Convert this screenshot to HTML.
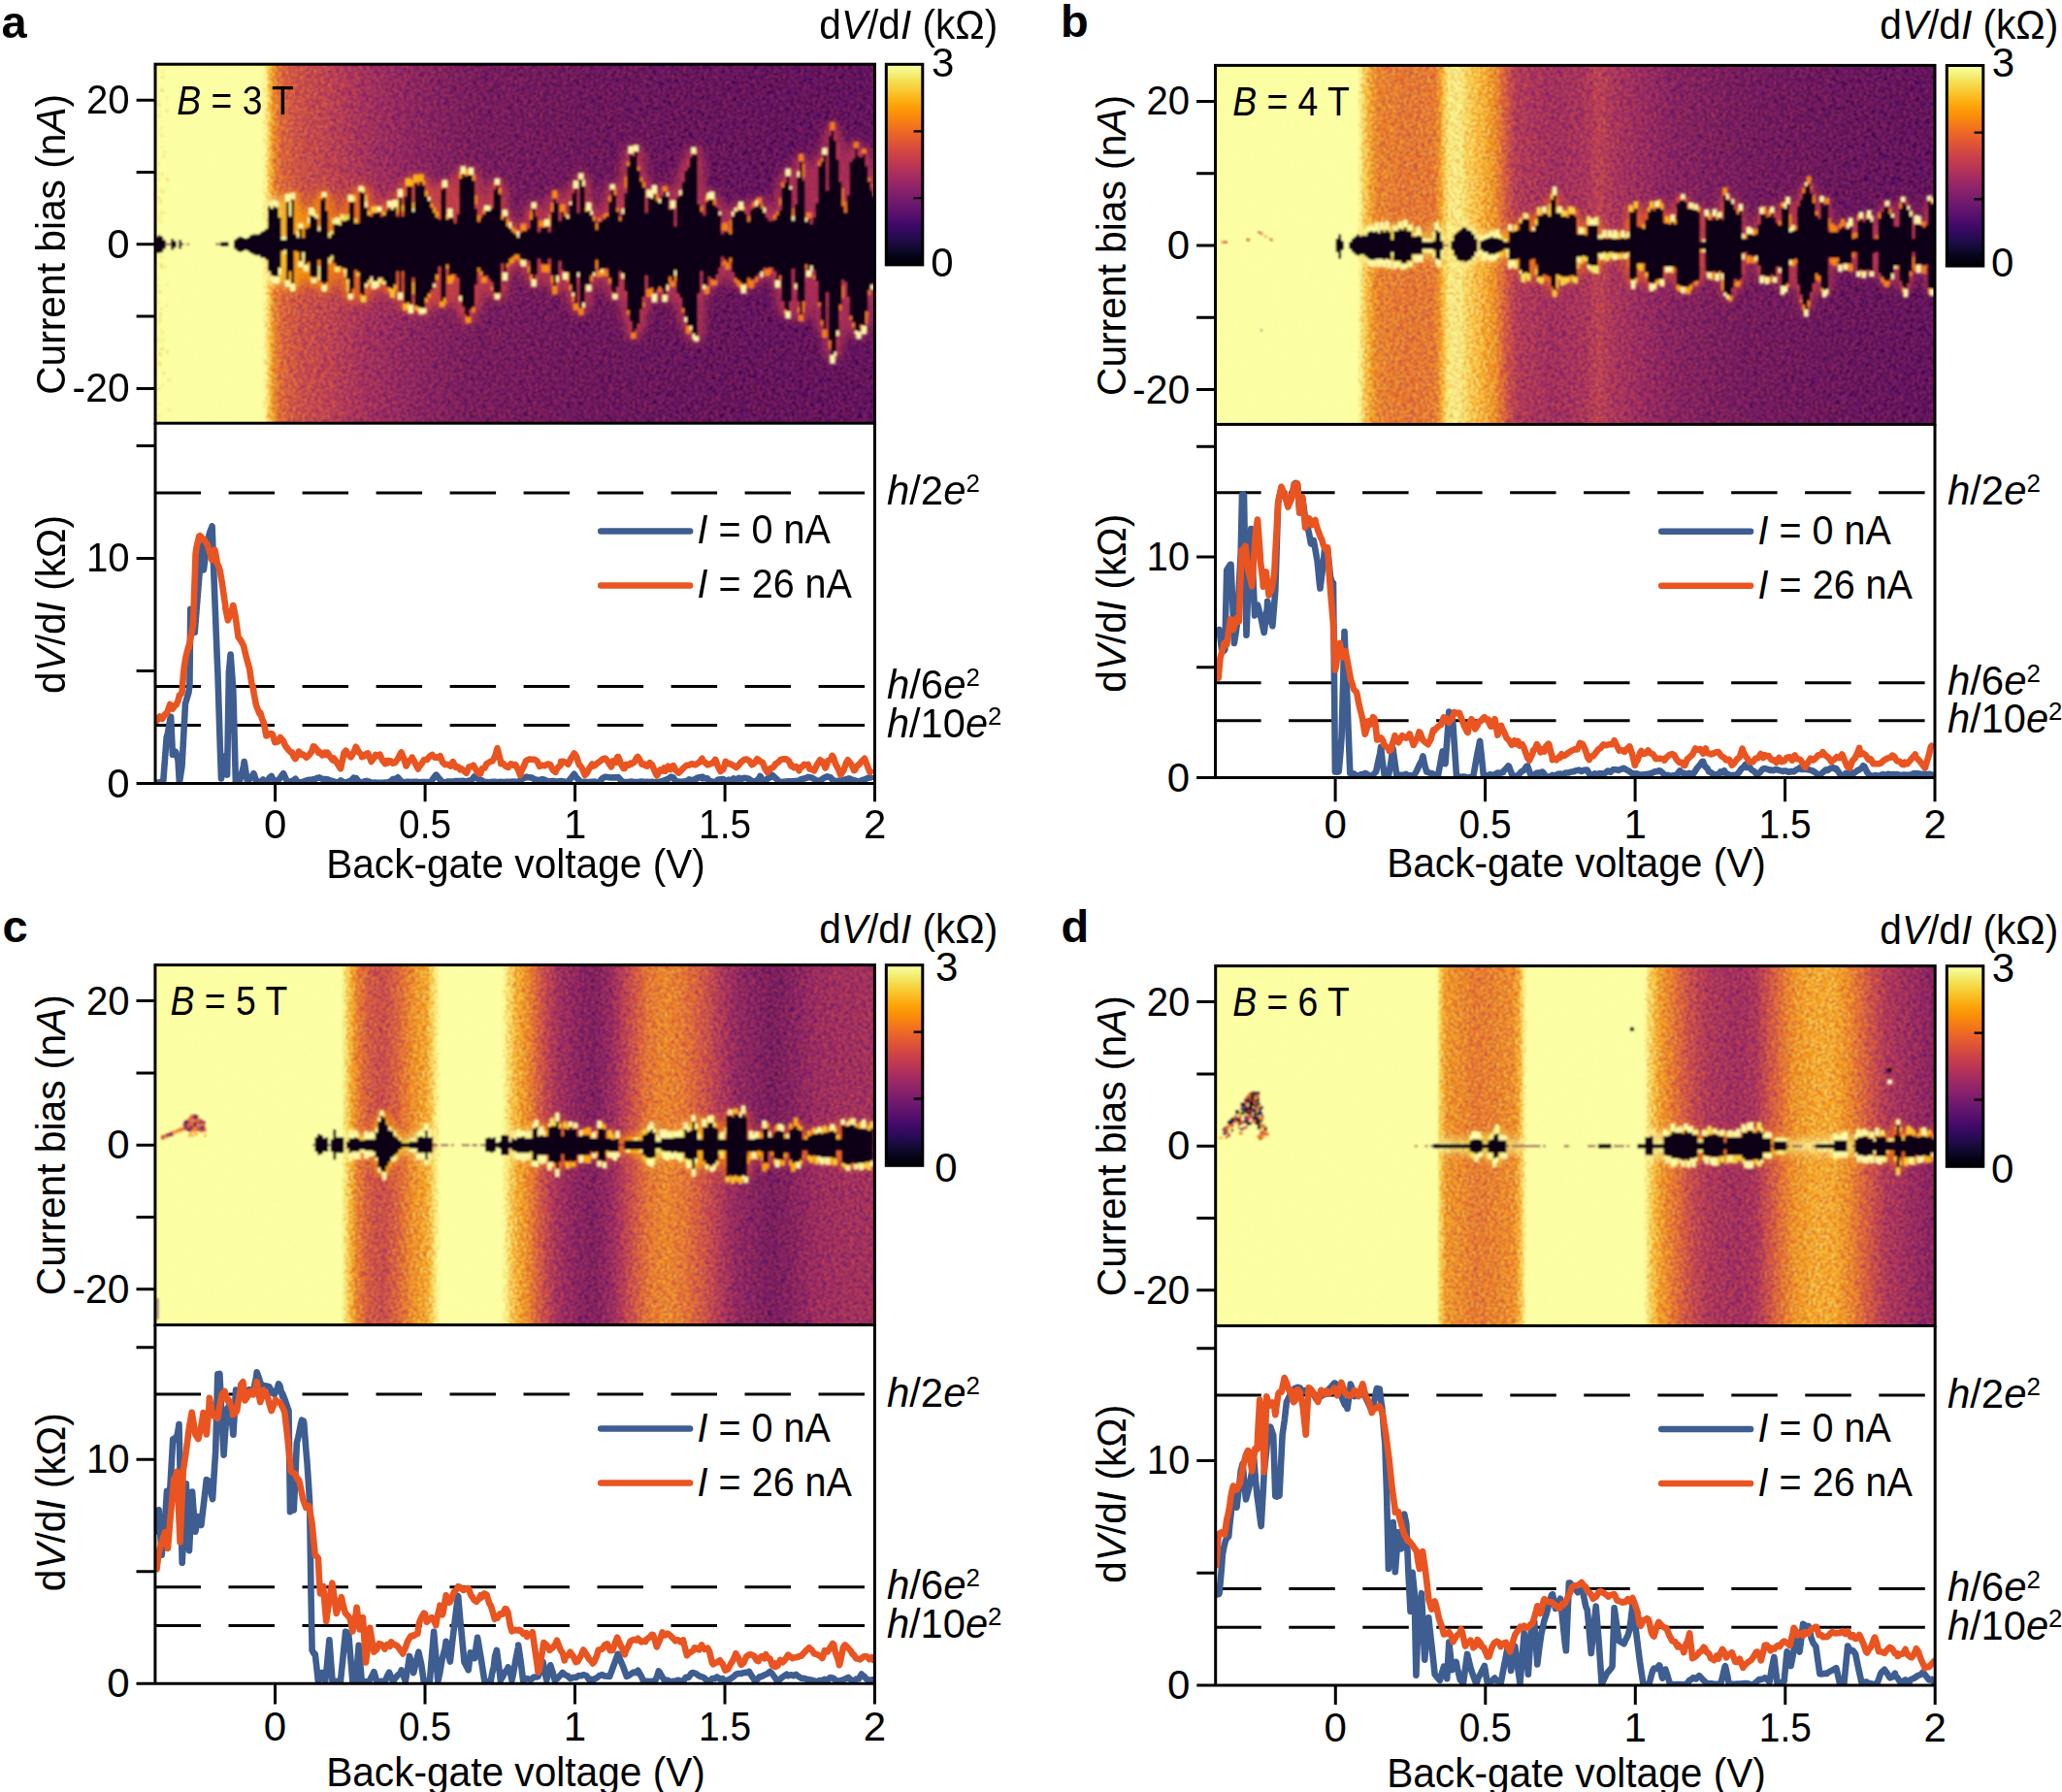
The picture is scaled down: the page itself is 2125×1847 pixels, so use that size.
<!DOCTYPE html>
<html lang="en"><head><meta charset="utf-8"><title>Figure</title><style>html,body{margin:0;padding:0;background:#fff}svg{display:block}</style></head><body>
<svg width="2125" height="1847" viewBox="0 0 2125 1847" font-family='"Liberation Sans", sans-serif' font-size="42" fill="#000">
<defs>
<linearGradient id="cb" x1="0" x2="0" y1="0" y2="1"><stop offset="0.000" stop-color="#fcffa4"/><stop offset="0.042" stop-color="#f2f27d"/><stop offset="0.083" stop-color="#f4df53"/><stop offset="0.125" stop-color="#f9cb35"/><stop offset="0.167" stop-color="#fbb61a"/><stop offset="0.208" stop-color="#fca108"/><stop offset="0.250" stop-color="#f98e09"/><stop offset="0.292" stop-color="#f57b17"/><stop offset="0.333" stop-color="#ed6925"/><stop offset="0.375" stop-color="#e45a31"/><stop offset="0.417" stop-color="#d84c3e"/><stop offset="0.458" stop-color="#ca404a"/><stop offset="0.500" stop-color="#bc3754"/><stop offset="0.542" stop-color="#ab2f5e"/><stop offset="0.583" stop-color="#9a2865"/><stop offset="0.625" stop-color="#8a226a"/><stop offset="0.667" stop-color="#781c6d"/><stop offset="0.708" stop-color="#67166e"/><stop offset="0.750" stop-color="#57106e"/><stop offset="0.792" stop-color="#450a69"/><stop offset="0.833" stop-color="#320a5e"/><stop offset="0.875" stop-color="#210c4a"/><stop offset="0.917" stop-color="#110a30"/><stop offset="0.958" stop-color="#050417"/><stop offset="1.000" stop-color="#000004"/></linearGradient>
<filter id="soft" filterUnits="userSpaceOnUse" x="0" y="0" width="2125" height="1847"><feGaussianBlur stdDeviation=".95"/></filter>
<filter id="bl03" x="-2%" y="-5%" width="104%" height="110%"><feGaussianBlur stdDeviation=".45"/></filter>
<filter id="bl05" x="-5%" y="-5%" width="110%" height="110%"><feGaussianBlur stdDeviation=".6"/></filter>
<filter id="bl1" x="-5%" y="-20%" width="110%" height="140%"><feGaussianBlur stdDeviation="1.3"/></filter>
<filter id="bl3" x="-5%" y="-20%" width="110%" height="140%"><feGaussianBlur stdDeviation="4"/></filter>
<filter id="nD" x="0" y="0" width="100%" height="100%" color-interpolation-filters="sRGB"><feTurbulence type="fractalNoise" baseFrequency=".42 .5" numOctaves="1" seed="4"/><feColorMatrix type="matrix" values="0 0 0 0 1  0 0 0 0 1  0 0 0 0 1  4.2 0 0 0 -2.0"/></filter>
<filter id="nL" x="0" y="0" width="100%" height="100%" color-interpolation-filters="sRGB"><feTurbulence type="fractalNoise" baseFrequency=".42 .5" numOctaves="1" seed="4"/><feColorMatrix type="matrix" values="0 0 0 0 1  0 0 0 0 1  0 0 0 0 1  -4.2 0 0 0 2.2"/></filter>
<linearGradient id="g_a" gradientUnits="userSpaceOnUse" x1="160" x2="901.5" y1="0" y2="0"><stop offset="0.0000" stop-color="#fcffa4"/><stop offset="0.0081" stop-color="#fcffa4"/><stop offset="0.0162" stop-color="#fcffa4"/><stop offset="0.0243" stop-color="#fcffa4"/><stop offset="0.0324" stop-color="#fcffa4"/><stop offset="0.0405" stop-color="#fcffa4"/><stop offset="0.0486" stop-color="#fcffa4"/><stop offset="0.0566" stop-color="#fcffa4"/><stop offset="0.0647" stop-color="#fcffa4"/><stop offset="0.0728" stop-color="#fcffa4"/><stop offset="0.0809" stop-color="#fcffa4"/><stop offset="0.0890" stop-color="#fcffa4"/><stop offset="0.0971" stop-color="#fcffa4"/><stop offset="0.1052" stop-color="#fcffa4"/><stop offset="0.1133" stop-color="#fcffa4"/><stop offset="0.1214" stop-color="#fcffa4"/><stop offset="0.1295" stop-color="#fcffa4"/><stop offset="0.1376" stop-color="#fcffa4"/><stop offset="0.1457" stop-color="#fcffa4"/><stop offset="0.1483" stop-color="#fcffa4"/><stop offset="0.1537" stop-color="#fcffa4"/><stop offset="0.1591" stop-color="#fbbe23"/><stop offset="0.1618" stop-color="#fb9d07"/><stop offset="0.1645" stop-color="#f68013"/><stop offset="0.1699" stop-color="#ee6a24"/><stop offset="0.1753" stop-color="#e25734"/><stop offset="0.1780" stop-color="#e05536"/><stop offset="0.1861" stop-color="#da4e3c"/><stop offset="0.1942" stop-color="#d34743"/><stop offset="0.2009" stop-color="#cc4248"/><stop offset="0.2023" stop-color="#cc4248"/><stop offset="0.2104" stop-color="#c83f4b"/><stop offset="0.2185" stop-color="#c63d4d"/><stop offset="0.2266" stop-color="#c13a50"/><stop offset="0.2347" stop-color="#bf3952"/><stop offset="0.2428" stop-color="#bc3754"/><stop offset="0.2508" stop-color="#b63458"/><stop offset="0.2589" stop-color="#b1325a"/><stop offset="0.2670" stop-color="#ad305d"/><stop offset="0.2751" stop-color="#a82e5f"/><stop offset="0.2832" stop-color="#a32c61"/><stop offset="0.2900" stop-color="#a02a63"/><stop offset="0.2913" stop-color="#9f2a63"/><stop offset="0.2994" stop-color="#9b2964"/><stop offset="0.3075" stop-color="#982766"/><stop offset="0.3156" stop-color="#952667"/><stop offset="0.3237" stop-color="#922568"/><stop offset="0.3318" stop-color="#8f2469"/><stop offset="0.3399" stop-color="#8d2369"/><stop offset="0.3479" stop-color="#8a226a"/><stop offset="0.3560" stop-color="#87216b"/><stop offset="0.3641" stop-color="#84206b"/><stop offset="0.3722" stop-color="#801f6c"/><stop offset="0.3803" stop-color="#7f1e6c"/><stop offset="0.3884" stop-color="#7c1d6d"/><stop offset="0.3965" stop-color="#7a1d6d"/><stop offset="0.4046" stop-color="#781c6d"/><stop offset="0.4127" stop-color="#751b6e"/><stop offset="0.4208" stop-color="#741a6e"/><stop offset="0.4289" stop-color="#71196e"/><stop offset="0.4370" stop-color="#6f196e"/><stop offset="0.4383" stop-color="#6f196e"/><stop offset="0.4450" stop-color="#6f196e"/><stop offset="0.4531" stop-color="#6d186e"/><stop offset="0.4612" stop-color="#6d186e"/><stop offset="0.4693" stop-color="#6c186e"/><stop offset="0.4774" stop-color="#6c186e"/><stop offset="0.4855" stop-color="#6c186e"/><stop offset="0.4936" stop-color="#6a176e"/><stop offset="0.5017" stop-color="#6a176e"/><stop offset="0.5098" stop-color="#69166e"/><stop offset="0.5179" stop-color="#69166e"/><stop offset="0.5260" stop-color="#69166e"/><stop offset="0.5341" stop-color="#67166e"/><stop offset="0.5421" stop-color="#67166e"/><stop offset="0.5502" stop-color="#65156e"/><stop offset="0.5583" stop-color="#65156e"/><stop offset="0.5664" stop-color="#65156e"/><stop offset="0.5745" stop-color="#64156e"/><stop offset="0.5826" stop-color="#64156e"/><stop offset="0.5907" stop-color="#62146e"/><stop offset="0.5934" stop-color="#62146e"/><stop offset="0.5988" stop-color="#62146e"/><stop offset="0.6069" stop-color="#62146e"/><stop offset="0.6150" stop-color="#62146e"/><stop offset="0.6231" stop-color="#61136e"/><stop offset="0.6312" stop-color="#61136e"/><stop offset="0.6392" stop-color="#61136e"/><stop offset="0.6473" stop-color="#61136e"/><stop offset="0.6554" stop-color="#61136e"/><stop offset="0.6635" stop-color="#5f136e"/><stop offset="0.6716" stop-color="#5f136e"/><stop offset="0.6797" stop-color="#5f136e"/><stop offset="0.6878" stop-color="#5f136e"/><stop offset="0.6959" stop-color="#5f136e"/><stop offset="0.7040" stop-color="#5d126e"/><stop offset="0.7121" stop-color="#5d126e"/><stop offset="0.7202" stop-color="#5d126e"/><stop offset="0.7283" stop-color="#5d126e"/><stop offset="0.7363" stop-color="#5d126e"/><stop offset="0.7444" stop-color="#5c126e"/><stop offset="0.7525" stop-color="#5c126e"/><stop offset="0.7606" stop-color="#5c126e"/><stop offset="0.7687" stop-color="#5c126e"/><stop offset="0.7768" stop-color="#5c126e"/><stop offset="0.7849" stop-color="#5a116e"/><stop offset="0.7930" stop-color="#5a116e"/><stop offset="0.7957" stop-color="#5a116e"/><stop offset="0.8011" stop-color="#5a116e"/><stop offset="0.8092" stop-color="#5a116e"/><stop offset="0.8173" stop-color="#5a116e"/><stop offset="0.8254" stop-color="#5a116e"/><stop offset="0.8334" stop-color="#5a116e"/><stop offset="0.8415" stop-color="#59106e"/><stop offset="0.8496" stop-color="#59106e"/><stop offset="0.8577" stop-color="#59106e"/><stop offset="0.8658" stop-color="#59106e"/><stop offset="0.8739" stop-color="#59106e"/><stop offset="0.8820" stop-color="#59106e"/><stop offset="0.8901" stop-color="#59106e"/><stop offset="0.8982" stop-color="#59106e"/><stop offset="0.9063" stop-color="#59106e"/><stop offset="0.9144" stop-color="#59106e"/><stop offset="0.9225" stop-color="#57106e"/><stop offset="0.9305" stop-color="#57106e"/><stop offset="0.9386" stop-color="#57106e"/><stop offset="0.9467" stop-color="#57106e"/><stop offset="0.9548" stop-color="#57106e"/><stop offset="0.9629" stop-color="#57106e"/><stop offset="0.9710" stop-color="#57106e"/><stop offset="0.9791" stop-color="#57106e"/><stop offset="0.9872" stop-color="#57106e"/><stop offset="0.9953" stop-color="#57106e"/><stop offset="1.0000" stop-color="#57106e"/><stop offset="1.0007" stop-color="#57106e"/></linearGradient>
<linearGradient id="m_a" gradientUnits="userSpaceOnUse" x1="160" x2="901.5" y1="0" y2="0"><stop offset="0.0000" stop-color="#fff" stop-opacity="0.00"/><stop offset="0.0081" stop-color="#fff" stop-opacity="0.00"/><stop offset="0.0162" stop-color="#fff" stop-opacity="0.00"/><stop offset="0.0243" stop-color="#fff" stop-opacity="0.00"/><stop offset="0.0324" stop-color="#fff" stop-opacity="0.00"/><stop offset="0.0405" stop-color="#fff" stop-opacity="0.00"/><stop offset="0.0486" stop-color="#fff" stop-opacity="0.00"/><stop offset="0.0566" stop-color="#fff" stop-opacity="0.00"/><stop offset="0.0647" stop-color="#fff" stop-opacity="0.00"/><stop offset="0.0728" stop-color="#fff" stop-opacity="0.00"/><stop offset="0.0809" stop-color="#fff" stop-opacity="0.00"/><stop offset="0.0890" stop-color="#fff" stop-opacity="0.00"/><stop offset="0.0971" stop-color="#fff" stop-opacity="0.00"/><stop offset="0.1052" stop-color="#fff" stop-opacity="0.00"/><stop offset="0.1133" stop-color="#fff" stop-opacity="0.00"/><stop offset="0.1214" stop-color="#fff" stop-opacity="0.00"/><stop offset="0.1295" stop-color="#fff" stop-opacity="0.00"/><stop offset="0.1376" stop-color="#fff" stop-opacity="0.00"/><stop offset="0.1457" stop-color="#fff" stop-opacity="0.00"/><stop offset="0.1483" stop-color="#fff" stop-opacity="0.00"/><stop offset="0.1537" stop-color="#fff" stop-opacity="0.10"/><stop offset="0.1591" stop-color="#fff" stop-opacity="0.85"/><stop offset="0.1618" stop-color="#fff" stop-opacity="1.00"/><stop offset="0.1645" stop-color="#fff" stop-opacity="1.00"/><stop offset="0.1699" stop-color="#fff" stop-opacity="1.00"/><stop offset="0.1753" stop-color="#fff" stop-opacity="1.00"/><stop offset="0.1780" stop-color="#fff" stop-opacity="1.00"/><stop offset="0.1861" stop-color="#fff" stop-opacity="1.00"/><stop offset="0.1942" stop-color="#fff" stop-opacity="1.00"/><stop offset="0.2009" stop-color="#fff" stop-opacity="1.00"/><stop offset="0.2023" stop-color="#fff" stop-opacity="1.00"/><stop offset="0.2104" stop-color="#fff" stop-opacity="1.00"/><stop offset="0.2185" stop-color="#fff" stop-opacity="1.00"/><stop offset="0.2266" stop-color="#fff" stop-opacity="1.00"/><stop offset="0.2347" stop-color="#fff" stop-opacity="1.00"/><stop offset="0.2428" stop-color="#fff" stop-opacity="1.00"/><stop offset="0.2508" stop-color="#fff" stop-opacity="1.00"/><stop offset="0.2589" stop-color="#fff" stop-opacity="1.00"/><stop offset="0.2670" stop-color="#fff" stop-opacity="1.00"/><stop offset="0.2751" stop-color="#fff" stop-opacity="1.00"/><stop offset="0.2832" stop-color="#fff" stop-opacity="1.00"/><stop offset="0.2900" stop-color="#fff" stop-opacity="1.00"/><stop offset="0.2913" stop-color="#fff" stop-opacity="1.00"/><stop offset="0.2994" stop-color="#fff" stop-opacity="1.00"/><stop offset="0.3075" stop-color="#fff" stop-opacity="1.00"/><stop offset="0.3156" stop-color="#fff" stop-opacity="1.00"/><stop offset="0.3237" stop-color="#fff" stop-opacity="1.00"/><stop offset="0.3318" stop-color="#fff" stop-opacity="1.00"/><stop offset="0.3399" stop-color="#fff" stop-opacity="1.00"/><stop offset="0.3479" stop-color="#fff" stop-opacity="1.00"/><stop offset="0.3560" stop-color="#fff" stop-opacity="1.00"/><stop offset="0.3641" stop-color="#fff" stop-opacity="1.00"/><stop offset="0.3722" stop-color="#fff" stop-opacity="1.00"/><stop offset="0.3803" stop-color="#fff" stop-opacity="1.00"/><stop offset="0.3884" stop-color="#fff" stop-opacity="1.00"/><stop offset="0.3965" stop-color="#fff" stop-opacity="1.00"/><stop offset="0.4046" stop-color="#fff" stop-opacity="1.00"/><stop offset="0.4127" stop-color="#fff" stop-opacity="1.00"/><stop offset="0.4208" stop-color="#fff" stop-opacity="1.00"/><stop offset="0.4289" stop-color="#fff" stop-opacity="1.00"/><stop offset="0.4370" stop-color="#fff" stop-opacity="1.00"/><stop offset="0.4383" stop-color="#fff" stop-opacity="1.00"/><stop offset="0.4450" stop-color="#fff" stop-opacity="1.00"/><stop offset="0.4531" stop-color="#fff" stop-opacity="1.00"/><stop offset="0.4612" stop-color="#fff" stop-opacity="1.00"/><stop offset="0.4693" stop-color="#fff" stop-opacity="1.00"/><stop offset="0.4774" stop-color="#fff" stop-opacity="1.00"/><stop offset="0.4855" stop-color="#fff" stop-opacity="1.00"/><stop offset="0.4936" stop-color="#fff" stop-opacity="1.00"/><stop offset="0.5017" stop-color="#fff" stop-opacity="1.00"/><stop offset="0.5098" stop-color="#fff" stop-opacity="1.00"/><stop offset="0.5179" stop-color="#fff" stop-opacity="1.00"/><stop offset="0.5260" stop-color="#fff" stop-opacity="1.00"/><stop offset="0.5341" stop-color="#fff" stop-opacity="1.00"/><stop offset="0.5421" stop-color="#fff" stop-opacity="1.00"/><stop offset="0.5502" stop-color="#fff" stop-opacity="1.00"/><stop offset="0.5583" stop-color="#fff" stop-opacity="1.00"/><stop offset="0.5664" stop-color="#fff" stop-opacity="1.00"/><stop offset="0.5745" stop-color="#fff" stop-opacity="1.00"/><stop offset="0.5826" stop-color="#fff" stop-opacity="1.00"/><stop offset="0.5907" stop-color="#fff" stop-opacity="1.00"/><stop offset="0.5934" stop-color="#fff" stop-opacity="1.00"/><stop offset="0.5988" stop-color="#fff" stop-opacity="1.00"/><stop offset="0.6069" stop-color="#fff" stop-opacity="1.00"/><stop offset="0.6150" stop-color="#fff" stop-opacity="1.00"/><stop offset="0.6231" stop-color="#fff" stop-opacity="1.00"/><stop offset="0.6312" stop-color="#fff" stop-opacity="1.00"/><stop offset="0.6392" stop-color="#fff" stop-opacity="1.00"/><stop offset="0.6473" stop-color="#fff" stop-opacity="1.00"/><stop offset="0.6554" stop-color="#fff" stop-opacity="1.00"/><stop offset="0.6635" stop-color="#fff" stop-opacity="1.00"/><stop offset="0.6716" stop-color="#fff" stop-opacity="1.00"/><stop offset="0.6797" stop-color="#fff" stop-opacity="1.00"/><stop offset="0.6878" stop-color="#fff" stop-opacity="1.00"/><stop offset="0.6959" stop-color="#fff" stop-opacity="1.00"/><stop offset="0.7040" stop-color="#fff" stop-opacity="1.00"/><stop offset="0.7121" stop-color="#fff" stop-opacity="1.00"/><stop offset="0.7202" stop-color="#fff" stop-opacity="1.00"/><stop offset="0.7283" stop-color="#fff" stop-opacity="1.00"/><stop offset="0.7363" stop-color="#fff" stop-opacity="1.00"/><stop offset="0.7444" stop-color="#fff" stop-opacity="1.00"/><stop offset="0.7525" stop-color="#fff" stop-opacity="1.00"/><stop offset="0.7606" stop-color="#fff" stop-opacity="1.00"/><stop offset="0.7687" stop-color="#fff" stop-opacity="1.00"/><stop offset="0.7768" stop-color="#fff" stop-opacity="1.00"/><stop offset="0.7849" stop-color="#fff" stop-opacity="1.00"/><stop offset="0.7930" stop-color="#fff" stop-opacity="1.00"/><stop offset="0.7957" stop-color="#fff" stop-opacity="1.00"/><stop offset="0.8011" stop-color="#fff" stop-opacity="1.00"/><stop offset="0.8092" stop-color="#fff" stop-opacity="1.00"/><stop offset="0.8173" stop-color="#fff" stop-opacity="1.00"/><stop offset="0.8254" stop-color="#fff" stop-opacity="1.00"/><stop offset="0.8334" stop-color="#fff" stop-opacity="1.00"/><stop offset="0.8415" stop-color="#fff" stop-opacity="1.00"/><stop offset="0.8496" stop-color="#fff" stop-opacity="1.00"/><stop offset="0.8577" stop-color="#fff" stop-opacity="1.00"/><stop offset="0.8658" stop-color="#fff" stop-opacity="1.00"/><stop offset="0.8739" stop-color="#fff" stop-opacity="1.00"/><stop offset="0.8820" stop-color="#fff" stop-opacity="1.00"/><stop offset="0.8901" stop-color="#fff" stop-opacity="1.00"/><stop offset="0.8982" stop-color="#fff" stop-opacity="1.00"/><stop offset="0.9063" stop-color="#fff" stop-opacity="1.00"/><stop offset="0.9144" stop-color="#fff" stop-opacity="1.00"/><stop offset="0.9225" stop-color="#fff" stop-opacity="1.00"/><stop offset="0.9305" stop-color="#fff" stop-opacity="1.00"/><stop offset="0.9386" stop-color="#fff" stop-opacity="1.00"/><stop offset="0.9467" stop-color="#fff" stop-opacity="1.00"/><stop offset="0.9548" stop-color="#fff" stop-opacity="1.00"/><stop offset="0.9629" stop-color="#fff" stop-opacity="1.00"/><stop offset="0.9710" stop-color="#fff" stop-opacity="1.00"/><stop offset="0.9791" stop-color="#fff" stop-opacity="1.00"/><stop offset="0.9872" stop-color="#fff" stop-opacity="1.00"/><stop offset="0.9953" stop-color="#fff" stop-opacity="1.00"/><stop offset="1.0000" stop-color="#fff" stop-opacity="1.00"/><stop offset="1.0007" stop-color="#fff" stop-opacity="1.00"/></linearGradient>
<mask id="mk_a" maskUnits="userSpaceOnUse" x="160" y="66.2" width="741.5" height="370"><rect x="160" y="66.2" width="741.5" height="370" fill="url(#m_a)"/></mask>
<clipPath id="c_a"><rect x="160" y="66.2" width="741.5" height="370"/></clipPath>
<radialGradient id="ra" gradientUnits="userSpaceOnUse" cx="300" cy="251.8" r="170" gradientTransform="translate(300 251.8) scale(1 .62) translate(-300 -251.8)"><stop offset="0" stop-color="#f98e09" stop-opacity=".55"/><stop offset=".55" stop-color="#e45a31" stop-opacity=".25"/><stop offset="1" stop-color="#e45a31" stop-opacity="0"/></radialGradient>
<linearGradient id="lo_a" gradientUnits="userSpaceOnUse" x1="160" x2="901.5" y1="0" y2="0"><stop offset="0.0000" stop-color="#f9fc9d"/><stop offset="0.0081" stop-color="#f9fc9d"/><stop offset="0.0162" stop-color="#f9fc9d"/><stop offset="0.0243" stop-color="#f9fc9d"/><stop offset="0.0324" stop-color="#f9fc9d"/><stop offset="0.0405" stop-color="#f9fc9d"/><stop offset="0.0486" stop-color="#f9fc9d"/><stop offset="0.0566" stop-color="#f9fc9d"/><stop offset="0.0647" stop-color="#f9fc9d"/><stop offset="0.0728" stop-color="#f9fc9d"/><stop offset="0.0809" stop-color="#f9fc9d"/><stop offset="0.0890" stop-color="#f9fc9d"/><stop offset="0.0971" stop-color="#f9fc9d"/><stop offset="0.1052" stop-color="#f9fc9d"/><stop offset="0.1133" stop-color="#f9fc9d"/><stop offset="0.1214" stop-color="#f9fc9d"/><stop offset="0.1295" stop-color="#f9fc9d"/><stop offset="0.1376" stop-color="#f9fc9d"/><stop offset="0.1457" stop-color="#f9fc9d"/><stop offset="0.1483" stop-color="#f9fc9d"/><stop offset="0.1537" stop-color="#fca108"/><stop offset="0.1591" stop-color="#e75e2e"/><stop offset="0.1618" stop-color="#d54a41"/><stop offset="0.1645" stop-color="#bf3952"/><stop offset="0.1699" stop-color="#ab2f5e"/><stop offset="0.1753" stop-color="#972766"/><stop offset="0.1780" stop-color="#952667"/><stop offset="0.1861" stop-color="#8c2369"/><stop offset="0.1942" stop-color="#82206c"/><stop offset="0.2009" stop-color="#7c1d6d"/><stop offset="0.2023" stop-color="#7a1d6d"/><stop offset="0.2104" stop-color="#771c6d"/><stop offset="0.2185" stop-color="#721a6e"/><stop offset="0.2266" stop-color="#6f196e"/><stop offset="0.2347" stop-color="#6a176e"/><stop offset="0.2428" stop-color="#67166e"/><stop offset="0.2508" stop-color="#62146e"/><stop offset="0.2589" stop-color="#5d126e"/><stop offset="0.2670" stop-color="#59106e"/><stop offset="0.2751" stop-color="#520e6d"/><stop offset="0.2832" stop-color="#4d0d6c"/><stop offset="0.2900" stop-color="#4a0c6b"/><stop offset="0.2913" stop-color="#490b6a"/><stop offset="0.2994" stop-color="#470b6a"/><stop offset="0.3075" stop-color="#440a68"/><stop offset="0.3156" stop-color="#400a67"/><stop offset="0.3237" stop-color="#3d0965"/><stop offset="0.3318" stop-color="#390963"/><stop offset="0.3399" stop-color="#360961"/><stop offset="0.3479" stop-color="#320a5e"/><stop offset="0.3560" stop-color="#2f0a5b"/><stop offset="0.3641" stop-color="#2b0b57"/><stop offset="0.3722" stop-color="#290b55"/><stop offset="0.3803" stop-color="#260c51"/><stop offset="0.3884" stop-color="#240c4f"/><stop offset="0.3965" stop-color="#210c4a"/><stop offset="0.4046" stop-color="#1f0c48"/><stop offset="0.4127" stop-color="#1e0c45"/><stop offset="0.4208" stop-color="#1b0c41"/><stop offset="0.4289" stop-color="#190c3e"/><stop offset="0.4370" stop-color="#160b39"/><stop offset="0.4383" stop-color="#160b39"/><stop offset="0.4450" stop-color="#160b39"/><stop offset="0.4531" stop-color="#150b37"/><stop offset="0.4612" stop-color="#150b37"/><stop offset="0.4693" stop-color="#150b37"/><stop offset="0.4774" stop-color="#140b34"/><stop offset="0.4855" stop-color="#140b34"/><stop offset="0.4936" stop-color="#120a32"/><stop offset="0.5017" stop-color="#120a32"/><stop offset="0.5098" stop-color="#120a32"/><stop offset="0.5179" stop-color="#110a30"/><stop offset="0.5260" stop-color="#110a30"/><stop offset="0.5341" stop-color="#10092d"/><stop offset="0.5421" stop-color="#10092d"/><stop offset="0.5502" stop-color="#10092d"/><stop offset="0.5583" stop-color="#0e092b"/><stop offset="0.5664" stop-color="#0e092b"/><stop offset="0.5745" stop-color="#0d0829"/><stop offset="0.5826" stop-color="#0d0829"/><stop offset="0.5907" stop-color="#0d0829"/><stop offset="0.5934" stop-color="#0c0826"/><stop offset="0.5988" stop-color="#0c0826"/><stop offset="0.6069" stop-color="#0c0826"/><stop offset="0.6150" stop-color="#0c0826"/><stop offset="0.6231" stop-color="#0c0826"/><stop offset="0.6312" stop-color="#0b0724"/><stop offset="0.6392" stop-color="#0b0724"/><stop offset="0.6473" stop-color="#0b0724"/><stop offset="0.6554" stop-color="#0b0724"/><stop offset="0.6635" stop-color="#0b0724"/><stop offset="0.6716" stop-color="#0a0722"/><stop offset="0.6797" stop-color="#0a0722"/><stop offset="0.6878" stop-color="#0a0722"/><stop offset="0.6959" stop-color="#0a0722"/><stop offset="0.7040" stop-color="#0a0722"/><stop offset="0.7121" stop-color="#09061f"/><stop offset="0.7202" stop-color="#09061f"/><stop offset="0.7283" stop-color="#09061f"/><stop offset="0.7363" stop-color="#09061f"/><stop offset="0.7444" stop-color="#09061f"/><stop offset="0.7525" stop-color="#08051d"/><stop offset="0.7606" stop-color="#08051d"/><stop offset="0.7687" stop-color="#08051d"/><stop offset="0.7768" stop-color="#08051d"/><stop offset="0.7849" stop-color="#08051d"/><stop offset="0.7930" stop-color="#07051b"/><stop offset="0.7957" stop-color="#07051b"/><stop offset="0.8011" stop-color="#07051b"/><stop offset="0.8092" stop-color="#07051b"/><stop offset="0.8173" stop-color="#07051b"/><stop offset="0.8254" stop-color="#07051b"/><stop offset="0.8334" stop-color="#07051b"/><stop offset="0.8415" stop-color="#07051b"/><stop offset="0.8496" stop-color="#07051b"/><stop offset="0.8577" stop-color="#07051b"/><stop offset="0.8658" stop-color="#060419"/><stop offset="0.8739" stop-color="#060419"/><stop offset="0.8820" stop-color="#060419"/><stop offset="0.8901" stop-color="#060419"/><stop offset="0.8982" stop-color="#060419"/><stop offset="0.9063" stop-color="#060419"/><stop offset="0.9144" stop-color="#060419"/><stop offset="0.9225" stop-color="#060419"/><stop offset="0.9305" stop-color="#060419"/><stop offset="0.9386" stop-color="#060419"/><stop offset="0.9467" stop-color="#050417"/><stop offset="0.9548" stop-color="#050417"/><stop offset="0.9629" stop-color="#050417"/><stop offset="0.9710" stop-color="#050417"/><stop offset="0.9791" stop-color="#050417"/><stop offset="0.9872" stop-color="#050417"/><stop offset="0.9953" stop-color="#050417"/><stop offset="1.0000" stop-color="#050417"/><stop offset="1.0007" stop-color="#050417"/></linearGradient>
<linearGradient id="hi_a" gradientUnits="userSpaceOnUse" x1="160" x2="901.5" y1="0" y2="0"><stop offset="0.0000" stop-color="#fcffa4"/><stop offset="0.0081" stop-color="#fcffa4"/><stop offset="0.0162" stop-color="#fcffa4"/><stop offset="0.0243" stop-color="#fcffa4"/><stop offset="0.0324" stop-color="#fcffa4"/><stop offset="0.0405" stop-color="#fcffa4"/><stop offset="0.0486" stop-color="#fcffa4"/><stop offset="0.0566" stop-color="#fcffa4"/><stop offset="0.0647" stop-color="#fcffa4"/><stop offset="0.0728" stop-color="#fcffa4"/><stop offset="0.0809" stop-color="#fcffa4"/><stop offset="0.0890" stop-color="#fcffa4"/><stop offset="0.0971" stop-color="#fcffa4"/><stop offset="0.1052" stop-color="#fcffa4"/><stop offset="0.1133" stop-color="#fcffa4"/><stop offset="0.1214" stop-color="#fcffa4"/><stop offset="0.1295" stop-color="#fcffa4"/><stop offset="0.1376" stop-color="#fcffa4"/><stop offset="0.1457" stop-color="#fcffa4"/><stop offset="0.1483" stop-color="#fcffa4"/><stop offset="0.1537" stop-color="#fcffa4"/><stop offset="0.1591" stop-color="#fcffa4"/><stop offset="0.1618" stop-color="#f4f88e"/><stop offset="0.1645" stop-color="#f5db4c"/><stop offset="0.1699" stop-color="#fac42a"/><stop offset="0.1753" stop-color="#fcaa0f"/><stop offset="0.1780" stop-color="#fca60c"/><stop offset="0.1861" stop-color="#fb9b06"/><stop offset="0.1942" stop-color="#fa9207"/><stop offset="0.2009" stop-color="#f8890c"/><stop offset="0.2023" stop-color="#f8890c"/><stop offset="0.2104" stop-color="#f78410"/><stop offset="0.2185" stop-color="#f68013"/><stop offset="0.2266" stop-color="#f57b17"/><stop offset="0.2347" stop-color="#f37819"/><stop offset="0.2428" stop-color="#f1731d"/><stop offset="0.2508" stop-color="#ef6e21"/><stop offset="0.2589" stop-color="#ed6925"/><stop offset="0.2670" stop-color="#eb6429"/><stop offset="0.2751" stop-color="#e8602d"/><stop offset="0.2832" stop-color="#e55c30"/><stop offset="0.2900" stop-color="#e25734"/><stop offset="0.2913" stop-color="#e25734"/><stop offset="0.2994" stop-color="#e05536"/><stop offset="0.3075" stop-color="#de5238"/><stop offset="0.3156" stop-color="#db503b"/><stop offset="0.3237" stop-color="#d94d3d"/><stop offset="0.3318" stop-color="#d74b3f"/><stop offset="0.3399" stop-color="#d44842"/><stop offset="0.3479" stop-color="#d24644"/><stop offset="0.3560" stop-color="#cf4446"/><stop offset="0.3641" stop-color="#cc4248"/><stop offset="0.3722" stop-color="#cb4149"/><stop offset="0.3803" stop-color="#ca404a"/><stop offset="0.3884" stop-color="#c73e4c"/><stop offset="0.3965" stop-color="#c63d4d"/><stop offset="0.4046" stop-color="#c33b4f"/><stop offset="0.4127" stop-color="#c13a50"/><stop offset="0.4208" stop-color="#c03a51"/><stop offset="0.4289" stop-color="#bd3853"/><stop offset="0.4370" stop-color="#bc3754"/><stop offset="0.4383" stop-color="#bc3754"/><stop offset="0.4450" stop-color="#ba3655"/><stop offset="0.4531" stop-color="#ba3655"/><stop offset="0.4612" stop-color="#b93556"/><stop offset="0.4693" stop-color="#b93556"/><stop offset="0.4774" stop-color="#b93556"/><stop offset="0.4855" stop-color="#b73557"/><stop offset="0.4936" stop-color="#b73557"/><stop offset="0.5017" stop-color="#b63458"/><stop offset="0.5098" stop-color="#b63458"/><stop offset="0.5179" stop-color="#b63458"/><stop offset="0.5260" stop-color="#b43359"/><stop offset="0.5341" stop-color="#b43359"/><stop offset="0.5421" stop-color="#b3325a"/><stop offset="0.5502" stop-color="#b3325a"/><stop offset="0.5583" stop-color="#b3325a"/><stop offset="0.5664" stop-color="#b1325a"/><stop offset="0.5745" stop-color="#b1325a"/><stop offset="0.5826" stop-color="#b0315b"/><stop offset="0.5907" stop-color="#b0315b"/><stop offset="0.5934" stop-color="#b0315b"/><stop offset="0.5988" stop-color="#b0315b"/><stop offset="0.6069" stop-color="#ae305c"/><stop offset="0.6150" stop-color="#ae305c"/><stop offset="0.6231" stop-color="#ae305c"/><stop offset="0.6312" stop-color="#ae305c"/><stop offset="0.6392" stop-color="#ae305c"/><stop offset="0.6473" stop-color="#ad305d"/><stop offset="0.6554" stop-color="#ad305d"/><stop offset="0.6635" stop-color="#ad305d"/><stop offset="0.6716" stop-color="#ad305d"/><stop offset="0.6797" stop-color="#ad305d"/><stop offset="0.6878" stop-color="#ab2f5e"/><stop offset="0.6959" stop-color="#ab2f5e"/><stop offset="0.7040" stop-color="#ab2f5e"/><stop offset="0.7121" stop-color="#ab2f5e"/><stop offset="0.7202" stop-color="#ab2f5e"/><stop offset="0.7283" stop-color="#a92e5e"/><stop offset="0.7363" stop-color="#a92e5e"/><stop offset="0.7444" stop-color="#a92e5e"/><stop offset="0.7525" stop-color="#a92e5e"/><stop offset="0.7606" stop-color="#a92e5e"/><stop offset="0.7687" stop-color="#a82e5f"/><stop offset="0.7768" stop-color="#a82e5f"/><stop offset="0.7849" stop-color="#a82e5f"/><stop offset="0.7930" stop-color="#a82e5f"/><stop offset="0.7957" stop-color="#a82e5f"/><stop offset="0.8011" stop-color="#a82e5f"/><stop offset="0.8092" stop-color="#a82e5f"/><stop offset="0.8173" stop-color="#a62d60"/><stop offset="0.8254" stop-color="#a62d60"/><stop offset="0.8334" stop-color="#a62d60"/><stop offset="0.8415" stop-color="#a62d60"/><stop offset="0.8496" stop-color="#a62d60"/><stop offset="0.8577" stop-color="#a62d60"/><stop offset="0.8658" stop-color="#a62d60"/><stop offset="0.8739" stop-color="#a62d60"/><stop offset="0.8820" stop-color="#a62d60"/><stop offset="0.8901" stop-color="#a62d60"/><stop offset="0.8982" stop-color="#a52c60"/><stop offset="0.9063" stop-color="#a52c60"/><stop offset="0.9144" stop-color="#a52c60"/><stop offset="0.9225" stop-color="#a52c60"/><stop offset="0.9305" stop-color="#a52c60"/><stop offset="0.9386" stop-color="#a52c60"/><stop offset="0.9467" stop-color="#a52c60"/><stop offset="0.9548" stop-color="#a52c60"/><stop offset="0.9629" stop-color="#a52c60"/><stop offset="0.9710" stop-color="#a52c60"/><stop offset="0.9791" stop-color="#a32c61"/><stop offset="0.9872" stop-color="#a32c61"/><stop offset="0.9953" stop-color="#a32c61"/><stop offset="1.0000" stop-color="#a32c61"/><stop offset="1.0007" stop-color="#a32c61"/></linearGradient>
<mask id="nmD_a" maskUnits="userSpaceOnUse" x="160" y="66.2" width="741.5" height="370"><rect x="160" y="66.2" width="741.5" height="370" filter="url(#nD)"/></mask>
<mask id="nmL_a" maskUnits="userSpaceOnUse" x="160" y="66.2" width="741.5" height="370"><rect x="160" y="66.2" width="741.5" height="370" filter="url(#nL)"/></mask>
<linearGradient id="h1_a" gradientUnits="userSpaceOnUse" x1="160" x2="901.5" y1="0" y2="0"><stop offset="0.0000" stop-color="#fcffa4"/><stop offset="0.0081" stop-color="#fcffa4"/><stop offset="0.0162" stop-color="#fcffa4"/><stop offset="0.0243" stop-color="#fcffa4"/><stop offset="0.0324" stop-color="#fcffa4"/><stop offset="0.0405" stop-color="#fcffa4"/><stop offset="0.0486" stop-color="#fcffa4"/><stop offset="0.0566" stop-color="#fcffa4"/><stop offset="0.0647" stop-color="#fcffa4"/><stop offset="0.0728" stop-color="#fcffa4"/><stop offset="0.0809" stop-color="#fcffa4"/><stop offset="0.0890" stop-color="#fcffa4"/><stop offset="0.0971" stop-color="#fcffa4"/><stop offset="0.1052" stop-color="#fcffa4"/><stop offset="0.1133" stop-color="#fcffa4"/><stop offset="0.1214" stop-color="#fcffa4"/><stop offset="0.1295" stop-color="#fcffa4"/><stop offset="0.1376" stop-color="#fcffa4"/><stop offset="0.1457" stop-color="#fcffa4"/><stop offset="0.1483" stop-color="#fcffa4"/><stop offset="0.1537" stop-color="#fcffa4"/><stop offset="0.1591" stop-color="#fcffa4"/><stop offset="0.1618" stop-color="#fcffa4"/><stop offset="0.1645" stop-color="#f2f27d"/><stop offset="0.1699" stop-color="#f5db4c"/><stop offset="0.1753" stop-color="#fac42a"/><stop offset="0.1780" stop-color="#fac026"/><stop offset="0.1861" stop-color="#fcb418"/><stop offset="0.1942" stop-color="#fca80d"/><stop offset="0.2009" stop-color="#fca108"/><stop offset="0.2023" stop-color="#fc9f07"/><stop offset="0.2104" stop-color="#fb9b06"/><stop offset="0.2185" stop-color="#fb9606"/><stop offset="0.2266" stop-color="#fa9207"/><stop offset="0.2347" stop-color="#f98c0a"/><stop offset="0.2428" stop-color="#f8890c"/><stop offset="0.2508" stop-color="#f78410"/><stop offset="0.2589" stop-color="#f67e14"/><stop offset="0.2670" stop-color="#f47918"/><stop offset="0.2751" stop-color="#f2741c"/><stop offset="0.2832" stop-color="#f06f20"/><stop offset="0.2900" stop-color="#ee6a24"/><stop offset="0.2913" stop-color="#ee6a24"/><stop offset="0.2994" stop-color="#ec6726"/><stop offset="0.3075" stop-color="#eb6429"/><stop offset="0.3156" stop-color="#e9612b"/><stop offset="0.3237" stop-color="#e75e2e"/><stop offset="0.3318" stop-color="#e55c30"/><stop offset="0.3399" stop-color="#e35933"/><stop offset="0.3479" stop-color="#e15635"/><stop offset="0.3560" stop-color="#df5337"/><stop offset="0.3641" stop-color="#dd513a"/><stop offset="0.3722" stop-color="#db503b"/><stop offset="0.3803" stop-color="#d94d3d"/><stop offset="0.3884" stop-color="#d84c3e"/><stop offset="0.3965" stop-color="#d74b3f"/><stop offset="0.4046" stop-color="#d44842"/><stop offset="0.4127" stop-color="#d34743"/><stop offset="0.4208" stop-color="#d04545"/><stop offset="0.4289" stop-color="#cf4446"/><stop offset="0.4370" stop-color="#ce4347"/><stop offset="0.4383" stop-color="#cc4248"/><stop offset="0.4450" stop-color="#cc4248"/><stop offset="0.4531" stop-color="#cc4248"/><stop offset="0.4612" stop-color="#cb4149"/><stop offset="0.4693" stop-color="#cb4149"/><stop offset="0.4774" stop-color="#ca404a"/><stop offset="0.4855" stop-color="#ca404a"/><stop offset="0.4936" stop-color="#ca404a"/><stop offset="0.5017" stop-color="#c83f4b"/><stop offset="0.5098" stop-color="#c83f4b"/><stop offset="0.5179" stop-color="#c73e4c"/><stop offset="0.5260" stop-color="#c73e4c"/><stop offset="0.5341" stop-color="#c73e4c"/><stop offset="0.5421" stop-color="#c63d4d"/><stop offset="0.5502" stop-color="#c63d4d"/><stop offset="0.5583" stop-color="#c43c4e"/><stop offset="0.5664" stop-color="#c43c4e"/><stop offset="0.5745" stop-color="#c43c4e"/><stop offset="0.5826" stop-color="#c33b4f"/><stop offset="0.5907" stop-color="#c33b4f"/><stop offset="0.5934" stop-color="#c33b4f"/><stop offset="0.5988" stop-color="#c13a50"/><stop offset="0.6069" stop-color="#c13a50"/><stop offset="0.6150" stop-color="#c13a50"/><stop offset="0.6231" stop-color="#c13a50"/><stop offset="0.6312" stop-color="#c13a50"/><stop offset="0.6392" stop-color="#c03a51"/><stop offset="0.6473" stop-color="#c03a51"/><stop offset="0.6554" stop-color="#c03a51"/><stop offset="0.6635" stop-color="#c03a51"/><stop offset="0.6716" stop-color="#c03a51"/><stop offset="0.6797" stop-color="#bf3952"/><stop offset="0.6878" stop-color="#bf3952"/><stop offset="0.6959" stop-color="#bf3952"/><stop offset="0.7040" stop-color="#bf3952"/><stop offset="0.7121" stop-color="#bf3952"/><stop offset="0.7202" stop-color="#bd3853"/><stop offset="0.7283" stop-color="#bd3853"/><stop offset="0.7363" stop-color="#bd3853"/><stop offset="0.7444" stop-color="#bd3853"/><stop offset="0.7525" stop-color="#bd3853"/><stop offset="0.7606" stop-color="#bc3754"/><stop offset="0.7687" stop-color="#bc3754"/><stop offset="0.7768" stop-color="#bc3754"/><stop offset="0.7849" stop-color="#bc3754"/><stop offset="0.7930" stop-color="#bc3754"/><stop offset="0.7957" stop-color="#bc3754"/><stop offset="0.8011" stop-color="#ba3655"/><stop offset="0.8092" stop-color="#ba3655"/><stop offset="0.8173" stop-color="#ba3655"/><stop offset="0.8254" stop-color="#ba3655"/><stop offset="0.8334" stop-color="#ba3655"/><stop offset="0.8415" stop-color="#ba3655"/><stop offset="0.8496" stop-color="#ba3655"/><stop offset="0.8577" stop-color="#ba3655"/><stop offset="0.8658" stop-color="#ba3655"/><stop offset="0.8739" stop-color="#ba3655"/><stop offset="0.8820" stop-color="#b93556"/><stop offset="0.8901" stop-color="#b93556"/><stop offset="0.8982" stop-color="#b93556"/><stop offset="0.9063" stop-color="#b93556"/><stop offset="0.9144" stop-color="#b93556"/><stop offset="0.9225" stop-color="#b93556"/><stop offset="0.9305" stop-color="#b93556"/><stop offset="0.9386" stop-color="#b93556"/><stop offset="0.9467" stop-color="#b93556"/><stop offset="0.9548" stop-color="#b93556"/><stop offset="0.9629" stop-color="#b73557"/><stop offset="0.9710" stop-color="#b73557"/><stop offset="0.9791" stop-color="#b73557"/><stop offset="0.9872" stop-color="#b73557"/><stop offset="0.9953" stop-color="#b73557"/><stop offset="1.0000" stop-color="#b73557"/><stop offset="1.0007" stop-color="#b73557"/></linearGradient>
<linearGradient id="h2_a" gradientUnits="userSpaceOnUse" x1="160" x2="901.5" y1="0" y2="0"><stop offset="0.0000" stop-color="#fcffa4"/><stop offset="0.0081" stop-color="#fcffa4"/><stop offset="0.0162" stop-color="#fcffa4"/><stop offset="0.0243" stop-color="#fcffa4"/><stop offset="0.0324" stop-color="#fcffa4"/><stop offset="0.0405" stop-color="#fcffa4"/><stop offset="0.0486" stop-color="#fcffa4"/><stop offset="0.0566" stop-color="#fcffa4"/><stop offset="0.0647" stop-color="#fcffa4"/><stop offset="0.0728" stop-color="#fcffa4"/><stop offset="0.0809" stop-color="#fcffa4"/><stop offset="0.0890" stop-color="#fcffa4"/><stop offset="0.0971" stop-color="#fcffa4"/><stop offset="0.1052" stop-color="#fcffa4"/><stop offset="0.1133" stop-color="#fcffa4"/><stop offset="0.1214" stop-color="#fcffa4"/><stop offset="0.1295" stop-color="#fcffa4"/><stop offset="0.1376" stop-color="#fcffa4"/><stop offset="0.1457" stop-color="#fcffa4"/><stop offset="0.1483" stop-color="#fcffa4"/><stop offset="0.1537" stop-color="#fcffa4"/><stop offset="0.1591" stop-color="#fcffa4"/><stop offset="0.1618" stop-color="#fcffa4"/><stop offset="0.1645" stop-color="#fcffa4"/><stop offset="0.1699" stop-color="#fcffa4"/><stop offset="0.1753" stop-color="#fcffa4"/><stop offset="0.1780" stop-color="#fcffa4"/><stop offset="0.1861" stop-color="#fcffa4"/><stop offset="0.1942" stop-color="#fcffa4"/><stop offset="0.2009" stop-color="#fcffa4"/><stop offset="0.2023" stop-color="#fcffa4"/><stop offset="0.2104" stop-color="#fcffa4"/><stop offset="0.2185" stop-color="#f9fc9d"/><stop offset="0.2266" stop-color="#f5f992"/><stop offset="0.2347" stop-color="#f3f68a"/><stop offset="0.2428" stop-color="#f2f27d"/><stop offset="0.2508" stop-color="#f1ed71"/><stop offset="0.2589" stop-color="#f2e865"/><stop offset="0.2670" stop-color="#f3e35a"/><stop offset="0.2751" stop-color="#f4dd4f"/><stop offset="0.2832" stop-color="#f6d746"/><stop offset="0.2900" stop-color="#f7d13d"/><stop offset="0.2913" stop-color="#f7d13d"/><stop offset="0.2994" stop-color="#f8cd37"/><stop offset="0.3075" stop-color="#f9c932"/><stop offset="0.3156" stop-color="#fac62d"/><stop offset="0.3237" stop-color="#fac228"/><stop offset="0.3318" stop-color="#fbbe23"/><stop offset="0.3399" stop-color="#fbba1f"/><stop offset="0.3479" stop-color="#fbb61a"/><stop offset="0.3560" stop-color="#fcb216"/><stop offset="0.3641" stop-color="#fcae12"/><stop offset="0.3722" stop-color="#fcac11"/><stop offset="0.3803" stop-color="#fcaa0f"/><stop offset="0.3884" stop-color="#fca60c"/><stop offset="0.3965" stop-color="#fca50a"/><stop offset="0.4046" stop-color="#fca108"/><stop offset="0.4127" stop-color="#fc9f07"/><stop offset="0.4208" stop-color="#fb9d07"/><stop offset="0.4289" stop-color="#fb9906"/><stop offset="0.4370" stop-color="#fb9706"/><stop offset="0.4383" stop-color="#fb9706"/><stop offset="0.4450" stop-color="#fb9606"/><stop offset="0.4531" stop-color="#fb9606"/><stop offset="0.4612" stop-color="#fa9407"/><stop offset="0.4693" stop-color="#fa9407"/><stop offset="0.4774" stop-color="#fa9407"/><stop offset="0.4855" stop-color="#fa9207"/><stop offset="0.4936" stop-color="#fa9207"/><stop offset="0.5017" stop-color="#fa9008"/><stop offset="0.5098" stop-color="#fa9008"/><stop offset="0.5179" stop-color="#fa9008"/><stop offset="0.5260" stop-color="#f98e09"/><stop offset="0.5341" stop-color="#f98e09"/><stop offset="0.5421" stop-color="#f98c0a"/><stop offset="0.5502" stop-color="#f98c0a"/><stop offset="0.5583" stop-color="#f98c0a"/><stop offset="0.5664" stop-color="#f98b0b"/><stop offset="0.5745" stop-color="#f98b0b"/><stop offset="0.5826" stop-color="#f8890c"/><stop offset="0.5907" stop-color="#f8890c"/><stop offset="0.5934" stop-color="#f8890c"/><stop offset="0.5988" stop-color="#f8890c"/><stop offset="0.6069" stop-color="#f8890c"/><stop offset="0.6150" stop-color="#f8870e"/><stop offset="0.6231" stop-color="#f8870e"/><stop offset="0.6312" stop-color="#f8870e"/><stop offset="0.6392" stop-color="#f8870e"/><stop offset="0.6473" stop-color="#f8870e"/><stop offset="0.6554" stop-color="#f8850f"/><stop offset="0.6635" stop-color="#f8850f"/><stop offset="0.6716" stop-color="#f8850f"/><stop offset="0.6797" stop-color="#f8850f"/><stop offset="0.6878" stop-color="#f8850f"/><stop offset="0.6959" stop-color="#f78410"/><stop offset="0.7040" stop-color="#f78410"/><stop offset="0.7121" stop-color="#f78410"/><stop offset="0.7202" stop-color="#f78410"/><stop offset="0.7283" stop-color="#f78410"/><stop offset="0.7363" stop-color="#f78212"/><stop offset="0.7444" stop-color="#f78212"/><stop offset="0.7525" stop-color="#f78212"/><stop offset="0.7606" stop-color="#f78212"/><stop offset="0.7687" stop-color="#f78212"/><stop offset="0.7768" stop-color="#f68013"/><stop offset="0.7849" stop-color="#f68013"/><stop offset="0.7930" stop-color="#f68013"/><stop offset="0.7957" stop-color="#f68013"/><stop offset="0.8011" stop-color="#f68013"/><stop offset="0.8092" stop-color="#f68013"/><stop offset="0.8173" stop-color="#f68013"/><stop offset="0.8254" stop-color="#f67e14"/><stop offset="0.8334" stop-color="#f67e14"/><stop offset="0.8415" stop-color="#f67e14"/><stop offset="0.8496" stop-color="#f67e14"/><stop offset="0.8577" stop-color="#f67e14"/><stop offset="0.8658" stop-color="#f67e14"/><stop offset="0.8739" stop-color="#f67e14"/><stop offset="0.8820" stop-color="#f67e14"/><stop offset="0.8901" stop-color="#f67e14"/><stop offset="0.8982" stop-color="#f67e14"/><stop offset="0.9063" stop-color="#f57d15"/><stop offset="0.9144" stop-color="#f57d15"/><stop offset="0.9225" stop-color="#f57d15"/><stop offset="0.9305" stop-color="#f57d15"/><stop offset="0.9386" stop-color="#f57d15"/><stop offset="0.9467" stop-color="#f57d15"/><stop offset="0.9548" stop-color="#f57d15"/><stop offset="0.9629" stop-color="#f57d15"/><stop offset="0.9710" stop-color="#f57d15"/><stop offset="0.9791" stop-color="#f57d15"/><stop offset="0.9872" stop-color="#f57b17"/><stop offset="0.9953" stop-color="#f57b17"/><stop offset="1.0000" stop-color="#f57b17"/><stop offset="1.0007" stop-color="#f57b17"/></linearGradient>
<clipPath id="p_a"><rect x="160" y="436.2" width="741.5" height="371.3"/></clipPath>
<linearGradient id="g_b" gradientUnits="userSpaceOnUse" x1="1252.5" x2="1994" y1="0" y2="0"><stop offset="0.0000" stop-color="#fcffa4"/><stop offset="0.0007" stop-color="#fcffa4"/><stop offset="0.0081" stop-color="#fcffa4"/><stop offset="0.0162" stop-color="#fcffa4"/><stop offset="0.0243" stop-color="#fcffa4"/><stop offset="0.0324" stop-color="#fcffa4"/><stop offset="0.0405" stop-color="#fcffa4"/><stop offset="0.0486" stop-color="#fcffa4"/><stop offset="0.0566" stop-color="#fcffa4"/><stop offset="0.0647" stop-color="#fcffa4"/><stop offset="0.0728" stop-color="#fcffa4"/><stop offset="0.0809" stop-color="#fcffa4"/><stop offset="0.0890" stop-color="#fcffa4"/><stop offset="0.0971" stop-color="#fcffa4"/><stop offset="0.1052" stop-color="#fcffa4"/><stop offset="0.1133" stop-color="#fcffa4"/><stop offset="0.1214" stop-color="#fcffa4"/><stop offset="0.1295" stop-color="#fcffa4"/><stop offset="0.1376" stop-color="#fcffa4"/><stop offset="0.1457" stop-color="#fcffa4"/><stop offset="0.1537" stop-color="#fcffa4"/><stop offset="0.1618" stop-color="#fcffa4"/><stop offset="0.1699" stop-color="#fcffa4"/><stop offset="0.1780" stop-color="#fcffa4"/><stop offset="0.1861" stop-color="#fcffa4"/><stop offset="0.1942" stop-color="#fcffa4"/><stop offset="0.1976" stop-color="#fcffa4"/><stop offset="0.2023" stop-color="#f6fa96"/><stop offset="0.2030" stop-color="#f1ef75"/><stop offset="0.2097" stop-color="#fbbe23"/><stop offset="0.2104" stop-color="#fbba1f"/><stop offset="0.2178" stop-color="#f98e09"/><stop offset="0.2185" stop-color="#f98b0b"/><stop offset="0.2266" stop-color="#f2741c"/><stop offset="0.2272" stop-color="#f1731d"/><stop offset="0.2347" stop-color="#f1711f"/><stop offset="0.2428" stop-color="#ef6e21"/><stop offset="0.2508" stop-color="#ef6c23"/><stop offset="0.2589" stop-color="#ed6925"/><stop offset="0.2664" stop-color="#eb6628"/><stop offset="0.2670" stop-color="#ec6726"/><stop offset="0.2751" stop-color="#ec6726"/><stop offset="0.2832" stop-color="#ed6925"/><stop offset="0.2913" stop-color="#ed6925"/><stop offset="0.2994" stop-color="#ee6a24"/><stop offset="0.3041" stop-color="#ee6a24"/><stop offset="0.3075" stop-color="#f3761b"/><stop offset="0.3122" stop-color="#f8890c"/><stop offset="0.3156" stop-color="#fcaa0f"/><stop offset="0.3189" stop-color="#f8cd37"/><stop offset="0.3237" stop-color="#f2f27d"/><stop offset="0.3243" stop-color="#f3f68a"/><stop offset="0.3318" stop-color="#f3f68a"/><stop offset="0.3399" stop-color="#f3f68a"/><stop offset="0.3405" stop-color="#f3f68a"/><stop offset="0.3479" stop-color="#f4df53"/><stop offset="0.3500" stop-color="#f6d746"/><stop offset="0.3560" stop-color="#f9c932"/><stop offset="0.3641" stop-color="#fbb61a"/><stop offset="0.3675" stop-color="#fcae12"/><stop offset="0.3722" stop-color="#fca50a"/><stop offset="0.3803" stop-color="#fa9207"/><stop offset="0.3884" stop-color="#f78212"/><stop offset="0.3891" stop-color="#f68013"/><stop offset="0.3965" stop-color="#ea632a"/><stop offset="0.4039" stop-color="#d74b3f"/><stop offset="0.4046" stop-color="#d54a41"/><stop offset="0.4127" stop-color="#c03a51"/><stop offset="0.4187" stop-color="#b0315b"/><stop offset="0.4208" stop-color="#ae305c"/><stop offset="0.4289" stop-color="#ab2f5e"/><stop offset="0.4370" stop-color="#a82e5f"/><stop offset="0.4450" stop-color="#a52c60"/><stop offset="0.4531" stop-color="#a22b62"/><stop offset="0.4612" stop-color="#9f2a63"/><stop offset="0.4686" stop-color="#9b2964"/><stop offset="0.4693" stop-color="#9b2964"/><stop offset="0.4774" stop-color="#9d2964"/><stop offset="0.4855" stop-color="#9f2a63"/><stop offset="0.4936" stop-color="#a02a63"/><stop offset="0.5017" stop-color="#a22b62"/><stop offset="0.5098" stop-color="#a32c61"/><stop offset="0.5118" stop-color="#a32c61"/><stop offset="0.5179" stop-color="#a92e5e"/><stop offset="0.5260" stop-color="#b3325a"/><stop offset="0.5334" stop-color="#bc3754"/><stop offset="0.5341" stop-color="#ba3655"/><stop offset="0.5421" stop-color="#b1325a"/><stop offset="0.5502" stop-color="#a82e5f"/><stop offset="0.5509" stop-color="#a82e5f"/><stop offset="0.5583" stop-color="#a32c61"/><stop offset="0.5664" stop-color="#a02a63"/><stop offset="0.5745" stop-color="#9b2964"/><stop offset="0.5826" stop-color="#972766"/><stop offset="0.5900" stop-color="#932667"/><stop offset="0.5907" stop-color="#932667"/><stop offset="0.5988" stop-color="#8f2469"/><stop offset="0.6069" stop-color="#8c2369"/><stop offset="0.6150" stop-color="#88226a"/><stop offset="0.6231" stop-color="#84206b"/><stop offset="0.6312" stop-color="#801f6c"/><stop offset="0.6345" stop-color="#7f1e6c"/><stop offset="0.6392" stop-color="#7d1e6d"/><stop offset="0.6473" stop-color="#7c1d6d"/><stop offset="0.6554" stop-color="#7a1d6d"/><stop offset="0.6635" stop-color="#781c6d"/><stop offset="0.6716" stop-color="#771c6d"/><stop offset="0.6797" stop-color="#751b6e"/><stop offset="0.6878" stop-color="#741a6e"/><stop offset="0.6959" stop-color="#721a6e"/><stop offset="0.7040" stop-color="#71196e"/><stop offset="0.7121" stop-color="#6f196e"/><stop offset="0.7202" stop-color="#6d186e"/><stop offset="0.7283" stop-color="#6c186e"/><stop offset="0.7330" stop-color="#6a176e"/><stop offset="0.7363" stop-color="#6a176e"/><stop offset="0.7444" stop-color="#6a176e"/><stop offset="0.7525" stop-color="#69166e"/><stop offset="0.7606" stop-color="#69166e"/><stop offset="0.7687" stop-color="#67166e"/><stop offset="0.7768" stop-color="#67166e"/><stop offset="0.7849" stop-color="#65156e"/><stop offset="0.7930" stop-color="#65156e"/><stop offset="0.8011" stop-color="#65156e"/><stop offset="0.8092" stop-color="#64156e"/><stop offset="0.8173" stop-color="#64156e"/><stop offset="0.8254" stop-color="#62146e"/><stop offset="0.8334" stop-color="#62146e"/><stop offset="0.8415" stop-color="#61136e"/><stop offset="0.8496" stop-color="#61136e"/><stop offset="0.8577" stop-color="#5f136e"/><stop offset="0.8658" stop-color="#5f136e"/><stop offset="0.8732" stop-color="#5f136e"/><stop offset="0.8739" stop-color="#5f136e"/><stop offset="0.8820" stop-color="#5d126e"/><stop offset="0.8901" stop-color="#5d126e"/><stop offset="0.8982" stop-color="#5d126e"/><stop offset="0.9063" stop-color="#5c126e"/><stop offset="0.9144" stop-color="#5c126e"/><stop offset="0.9225" stop-color="#5c126e"/><stop offset="0.9305" stop-color="#5a116e"/><stop offset="0.9386" stop-color="#5a116e"/><stop offset="0.9467" stop-color="#5a116e"/><stop offset="0.9548" stop-color="#59106e"/><stop offset="0.9629" stop-color="#59106e"/><stop offset="0.9710" stop-color="#59106e"/><stop offset="0.9791" stop-color="#57106e"/><stop offset="0.9872" stop-color="#57106e"/><stop offset="0.9953" stop-color="#57106e"/><stop offset="1.0000" stop-color="#57106e"/><stop offset="1.0013" stop-color="#57106e"/></linearGradient>
<linearGradient id="m_b" gradientUnits="userSpaceOnUse" x1="1252.5" x2="1994" y1="0" y2="0"><stop offset="0.0000" stop-color="#fff" stop-opacity="0.00"/><stop offset="0.0007" stop-color="#fff" stop-opacity="0.00"/><stop offset="0.0081" stop-color="#fff" stop-opacity="0.00"/><stop offset="0.0162" stop-color="#fff" stop-opacity="0.00"/><stop offset="0.0243" stop-color="#fff" stop-opacity="0.00"/><stop offset="0.0324" stop-color="#fff" stop-opacity="0.00"/><stop offset="0.0405" stop-color="#fff" stop-opacity="0.00"/><stop offset="0.0486" stop-color="#fff" stop-opacity="0.00"/><stop offset="0.0566" stop-color="#fff" stop-opacity="0.00"/><stop offset="0.0647" stop-color="#fff" stop-opacity="0.00"/><stop offset="0.0728" stop-color="#fff" stop-opacity="0.00"/><stop offset="0.0809" stop-color="#fff" stop-opacity="0.00"/><stop offset="0.0890" stop-color="#fff" stop-opacity="0.00"/><stop offset="0.0971" stop-color="#fff" stop-opacity="0.00"/><stop offset="0.1052" stop-color="#fff" stop-opacity="0.00"/><stop offset="0.1133" stop-color="#fff" stop-opacity="0.00"/><stop offset="0.1214" stop-color="#fff" stop-opacity="0.00"/><stop offset="0.1295" stop-color="#fff" stop-opacity="0.00"/><stop offset="0.1376" stop-color="#fff" stop-opacity="0.00"/><stop offset="0.1457" stop-color="#fff" stop-opacity="0.00"/><stop offset="0.1537" stop-color="#fff" stop-opacity="0.00"/><stop offset="0.1618" stop-color="#fff" stop-opacity="0.00"/><stop offset="0.1699" stop-color="#fff" stop-opacity="0.00"/><stop offset="0.1780" stop-color="#fff" stop-opacity="0.00"/><stop offset="0.1861" stop-color="#fff" stop-opacity="0.00"/><stop offset="0.1942" stop-color="#fff" stop-opacity="0.00"/><stop offset="0.1976" stop-color="#fff" stop-opacity="0.00"/><stop offset="0.2023" stop-color="#fff" stop-opacity="0.19"/><stop offset="0.2030" stop-color="#fff" stop-opacity="0.35"/><stop offset="0.2097" stop-color="#fff" stop-opacity="0.85"/><stop offset="0.2104" stop-color="#fff" stop-opacity="0.89"/><stop offset="0.2178" stop-color="#fff" stop-opacity="1.00"/><stop offset="0.2185" stop-color="#fff" stop-opacity="1.00"/><stop offset="0.2266" stop-color="#fff" stop-opacity="1.00"/><stop offset="0.2272" stop-color="#fff" stop-opacity="1.00"/><stop offset="0.2347" stop-color="#fff" stop-opacity="1.00"/><stop offset="0.2428" stop-color="#fff" stop-opacity="1.00"/><stop offset="0.2508" stop-color="#fff" stop-opacity="1.00"/><stop offset="0.2589" stop-color="#fff" stop-opacity="1.00"/><stop offset="0.2664" stop-color="#fff" stop-opacity="1.00"/><stop offset="0.2670" stop-color="#fff" stop-opacity="1.00"/><stop offset="0.2751" stop-color="#fff" stop-opacity="1.00"/><stop offset="0.2832" stop-color="#fff" stop-opacity="1.00"/><stop offset="0.2913" stop-color="#fff" stop-opacity="1.00"/><stop offset="0.2994" stop-color="#fff" stop-opacity="1.00"/><stop offset="0.3041" stop-color="#fff" stop-opacity="1.00"/><stop offset="0.3075" stop-color="#fff" stop-opacity="1.00"/><stop offset="0.3122" stop-color="#fff" stop-opacity="1.00"/><stop offset="0.3156" stop-color="#fff" stop-opacity="1.00"/><stop offset="0.3189" stop-color="#fff" stop-opacity="0.70"/><stop offset="0.3237" stop-color="#fff" stop-opacity="0.31"/><stop offset="0.3243" stop-color="#fff" stop-opacity="0.25"/><stop offset="0.3318" stop-color="#fff" stop-opacity="0.25"/><stop offset="0.3399" stop-color="#fff" stop-opacity="0.25"/><stop offset="0.3405" stop-color="#fff" stop-opacity="0.25"/><stop offset="0.3479" stop-color="#fff" stop-opacity="0.52"/><stop offset="0.3500" stop-color="#fff" stop-opacity="0.60"/><stop offset="0.3560" stop-color="#fff" stop-opacity="0.74"/><stop offset="0.3641" stop-color="#fff" stop-opacity="0.92"/><stop offset="0.3675" stop-color="#fff" stop-opacity="1.00"/><stop offset="0.3722" stop-color="#fff" stop-opacity="1.00"/><stop offset="0.3803" stop-color="#fff" stop-opacity="1.00"/><stop offset="0.3884" stop-color="#fff" stop-opacity="1.00"/><stop offset="0.3891" stop-color="#fff" stop-opacity="1.00"/><stop offset="0.3965" stop-color="#fff" stop-opacity="1.00"/><stop offset="0.4039" stop-color="#fff" stop-opacity="1.00"/><stop offset="0.4046" stop-color="#fff" stop-opacity="1.00"/><stop offset="0.4127" stop-color="#fff" stop-opacity="1.00"/><stop offset="0.4187" stop-color="#fff" stop-opacity="1.00"/><stop offset="0.4208" stop-color="#fff" stop-opacity="1.00"/><stop offset="0.4289" stop-color="#fff" stop-opacity="1.00"/><stop offset="0.4370" stop-color="#fff" stop-opacity="1.00"/><stop offset="0.4450" stop-color="#fff" stop-opacity="1.00"/><stop offset="0.4531" stop-color="#fff" stop-opacity="1.00"/><stop offset="0.4612" stop-color="#fff" stop-opacity="1.00"/><stop offset="0.4686" stop-color="#fff" stop-opacity="1.00"/><stop offset="0.4693" stop-color="#fff" stop-opacity="1.00"/><stop offset="0.4774" stop-color="#fff" stop-opacity="1.00"/><stop offset="0.4855" stop-color="#fff" stop-opacity="1.00"/><stop offset="0.4936" stop-color="#fff" stop-opacity="1.00"/><stop offset="0.5017" stop-color="#fff" stop-opacity="1.00"/><stop offset="0.5098" stop-color="#fff" stop-opacity="1.00"/><stop offset="0.5118" stop-color="#fff" stop-opacity="1.00"/><stop offset="0.5179" stop-color="#fff" stop-opacity="1.00"/><stop offset="0.5260" stop-color="#fff" stop-opacity="1.00"/><stop offset="0.5334" stop-color="#fff" stop-opacity="1.00"/><stop offset="0.5341" stop-color="#fff" stop-opacity="1.00"/><stop offset="0.5421" stop-color="#fff" stop-opacity="1.00"/><stop offset="0.5502" stop-color="#fff" stop-opacity="1.00"/><stop offset="0.5509" stop-color="#fff" stop-opacity="1.00"/><stop offset="0.5583" stop-color="#fff" stop-opacity="1.00"/><stop offset="0.5664" stop-color="#fff" stop-opacity="1.00"/><stop offset="0.5745" stop-color="#fff" stop-opacity="1.00"/><stop offset="0.5826" stop-color="#fff" stop-opacity="1.00"/><stop offset="0.5900" stop-color="#fff" stop-opacity="1.00"/><stop offset="0.5907" stop-color="#fff" stop-opacity="1.00"/><stop offset="0.5988" stop-color="#fff" stop-opacity="1.00"/><stop offset="0.6069" stop-color="#fff" stop-opacity="1.00"/><stop offset="0.6150" stop-color="#fff" stop-opacity="1.00"/><stop offset="0.6231" stop-color="#fff" stop-opacity="1.00"/><stop offset="0.6312" stop-color="#fff" stop-opacity="1.00"/><stop offset="0.6345" stop-color="#fff" stop-opacity="1.00"/><stop offset="0.6392" stop-color="#fff" stop-opacity="1.00"/><stop offset="0.6473" stop-color="#fff" stop-opacity="1.00"/><stop offset="0.6554" stop-color="#fff" stop-opacity="1.00"/><stop offset="0.6635" stop-color="#fff" stop-opacity="1.00"/><stop offset="0.6716" stop-color="#fff" stop-opacity="1.00"/><stop offset="0.6797" stop-color="#fff" stop-opacity="1.00"/><stop offset="0.6878" stop-color="#fff" stop-opacity="1.00"/><stop offset="0.6959" stop-color="#fff" stop-opacity="1.00"/><stop offset="0.7040" stop-color="#fff" stop-opacity="1.00"/><stop offset="0.7121" stop-color="#fff" stop-opacity="1.00"/><stop offset="0.7202" stop-color="#fff" stop-opacity="1.00"/><stop offset="0.7283" stop-color="#fff" stop-opacity="1.00"/><stop offset="0.7330" stop-color="#fff" stop-opacity="1.00"/><stop offset="0.7363" stop-color="#fff" stop-opacity="1.00"/><stop offset="0.7444" stop-color="#fff" stop-opacity="1.00"/><stop offset="0.7525" stop-color="#fff" stop-opacity="1.00"/><stop offset="0.7606" stop-color="#fff" stop-opacity="1.00"/><stop offset="0.7687" stop-color="#fff" stop-opacity="1.00"/><stop offset="0.7768" stop-color="#fff" stop-opacity="1.00"/><stop offset="0.7849" stop-color="#fff" stop-opacity="1.00"/><stop offset="0.7930" stop-color="#fff" stop-opacity="1.00"/><stop offset="0.8011" stop-color="#fff" stop-opacity="1.00"/><stop offset="0.8092" stop-color="#fff" stop-opacity="1.00"/><stop offset="0.8173" stop-color="#fff" stop-opacity="1.00"/><stop offset="0.8254" stop-color="#fff" stop-opacity="1.00"/><stop offset="0.8334" stop-color="#fff" stop-opacity="1.00"/><stop offset="0.8415" stop-color="#fff" stop-opacity="1.00"/><stop offset="0.8496" stop-color="#fff" stop-opacity="1.00"/><stop offset="0.8577" stop-color="#fff" stop-opacity="1.00"/><stop offset="0.8658" stop-color="#fff" stop-opacity="1.00"/><stop offset="0.8732" stop-color="#fff" stop-opacity="1.00"/><stop offset="0.8739" stop-color="#fff" stop-opacity="1.00"/><stop offset="0.8820" stop-color="#fff" stop-opacity="1.00"/><stop offset="0.8901" stop-color="#fff" stop-opacity="1.00"/><stop offset="0.8982" stop-color="#fff" stop-opacity="1.00"/><stop offset="0.9063" stop-color="#fff" stop-opacity="1.00"/><stop offset="0.9144" stop-color="#fff" stop-opacity="1.00"/><stop offset="0.9225" stop-color="#fff" stop-opacity="1.00"/><stop offset="0.9305" stop-color="#fff" stop-opacity="1.00"/><stop offset="0.9386" stop-color="#fff" stop-opacity="1.00"/><stop offset="0.9467" stop-color="#fff" stop-opacity="1.00"/><stop offset="0.9548" stop-color="#fff" stop-opacity="1.00"/><stop offset="0.9629" stop-color="#fff" stop-opacity="1.00"/><stop offset="0.9710" stop-color="#fff" stop-opacity="1.00"/><stop offset="0.9791" stop-color="#fff" stop-opacity="1.00"/><stop offset="0.9872" stop-color="#fff" stop-opacity="1.00"/><stop offset="0.9953" stop-color="#fff" stop-opacity="1.00"/><stop offset="1.0000" stop-color="#fff" stop-opacity="1.00"/><stop offset="1.0013" stop-color="#fff" stop-opacity="1.00"/></linearGradient>
<mask id="mk_b" maskUnits="userSpaceOnUse" x="1252.5" y="67.4" width="741.5" height="370"><rect x="1252.5" y="67.4" width="741.5" height="370" fill="url(#m_b)"/></mask>
<clipPath id="c_b"><rect x="1252.5" y="67.4" width="741.5" height="370"/></clipPath>
<linearGradient id="lo_b" gradientUnits="userSpaceOnUse" x1="1252.5" x2="1994" y1="0" y2="0"><stop offset="0.0000" stop-color="#f9fc9d"/><stop offset="0.0007" stop-color="#f9fc9d"/><stop offset="0.0081" stop-color="#f9fc9d"/><stop offset="0.0162" stop-color="#f9fc9d"/><stop offset="0.0243" stop-color="#f9fc9d"/><stop offset="0.0324" stop-color="#f9fc9d"/><stop offset="0.0405" stop-color="#f9fc9d"/><stop offset="0.0486" stop-color="#f9fc9d"/><stop offset="0.0566" stop-color="#f9fc9d"/><stop offset="0.0647" stop-color="#f9fc9d"/><stop offset="0.0728" stop-color="#f9fc9d"/><stop offset="0.0809" stop-color="#f9fc9d"/><stop offset="0.0890" stop-color="#f9fc9d"/><stop offset="0.0971" stop-color="#f9fc9d"/><stop offset="0.1052" stop-color="#f9fc9d"/><stop offset="0.1133" stop-color="#f9fc9d"/><stop offset="0.1214" stop-color="#f9fc9d"/><stop offset="0.1295" stop-color="#f9fc9d"/><stop offset="0.1376" stop-color="#f9fc9d"/><stop offset="0.1457" stop-color="#f9fc9d"/><stop offset="0.1537" stop-color="#f9fc9d"/><stop offset="0.1618" stop-color="#f9fc9d"/><stop offset="0.1699" stop-color="#f9fc9d"/><stop offset="0.1780" stop-color="#f9fc9d"/><stop offset="0.1861" stop-color="#f9fc9d"/><stop offset="0.1942" stop-color="#f9fc9d"/><stop offset="0.1976" stop-color="#f9fc9d"/><stop offset="0.2023" stop-color="#fb9706"/><stop offset="0.2030" stop-color="#f8890c"/><stop offset="0.2097" stop-color="#e75e2e"/><stop offset="0.2104" stop-color="#e55c30"/><stop offset="0.2178" stop-color="#ca404a"/><stop offset="0.2185" stop-color="#c83f4b"/><stop offset="0.2266" stop-color="#b43359"/><stop offset="0.2272" stop-color="#b3325a"/><stop offset="0.2347" stop-color="#b1325a"/><stop offset="0.2428" stop-color="#ae305c"/><stop offset="0.2508" stop-color="#ad305d"/><stop offset="0.2589" stop-color="#a92e5e"/><stop offset="0.2664" stop-color="#a82e5f"/><stop offset="0.2670" stop-color="#a82e5f"/><stop offset="0.2751" stop-color="#a82e5f"/><stop offset="0.2832" stop-color="#a92e5e"/><stop offset="0.2913" stop-color="#a92e5e"/><stop offset="0.2994" stop-color="#ab2f5e"/><stop offset="0.3041" stop-color="#ab2f5e"/><stop offset="0.3075" stop-color="#b73557"/><stop offset="0.3122" stop-color="#c63d4d"/><stop offset="0.3156" stop-color="#dd513a"/><stop offset="0.3189" stop-color="#ee6a24"/><stop offset="0.3237" stop-color="#f98c0a"/><stop offset="0.3243" stop-color="#fa9207"/><stop offset="0.3318" stop-color="#fa9207"/><stop offset="0.3399" stop-color="#fa9207"/><stop offset="0.3405" stop-color="#fa9207"/><stop offset="0.3479" stop-color="#f47918"/><stop offset="0.3500" stop-color="#f1731d"/><stop offset="0.3560" stop-color="#ec6726"/><stop offset="0.3641" stop-color="#e45a31"/><stop offset="0.3675" stop-color="#e05536"/><stop offset="0.3722" stop-color="#d94d3d"/><stop offset="0.3803" stop-color="#cc4248"/><stop offset="0.3884" stop-color="#c03a51"/><stop offset="0.3891" stop-color="#bf3952"/><stop offset="0.3965" stop-color="#a32c61"/><stop offset="0.4039" stop-color="#87216b"/><stop offset="0.4046" stop-color="#85216b"/><stop offset="0.4127" stop-color="#6d186e"/><stop offset="0.4187" stop-color="#5a116e"/><stop offset="0.4208" stop-color="#5a116e"/><stop offset="0.4289" stop-color="#550f6d"/><stop offset="0.4370" stop-color="#520e6d"/><stop offset="0.4450" stop-color="#4f0d6c"/><stop offset="0.4531" stop-color="#4c0c6b"/><stop offset="0.4612" stop-color="#490b6a"/><stop offset="0.4686" stop-color="#450a69"/><stop offset="0.4693" stop-color="#450a69"/><stop offset="0.4774" stop-color="#470b6a"/><stop offset="0.4855" stop-color="#490b6a"/><stop offset="0.4936" stop-color="#4a0c6b"/><stop offset="0.5017" stop-color="#4c0c6b"/><stop offset="0.5098" stop-color="#4d0d6c"/><stop offset="0.5118" stop-color="#4d0d6c"/><stop offset="0.5179" stop-color="#550f6d"/><stop offset="0.5260" stop-color="#5d126e"/><stop offset="0.5334" stop-color="#67166e"/><stop offset="0.5341" stop-color="#65156e"/><stop offset="0.5421" stop-color="#5c126e"/><stop offset="0.5502" stop-color="#520e6d"/><stop offset="0.5509" stop-color="#520e6d"/><stop offset="0.5583" stop-color="#4f0d6c"/><stop offset="0.5664" stop-color="#4a0c6b"/><stop offset="0.5745" stop-color="#450a69"/><stop offset="0.5826" stop-color="#420a68"/><stop offset="0.5900" stop-color="#3d0965"/><stop offset="0.5907" stop-color="#3d0965"/><stop offset="0.5988" stop-color="#390963"/><stop offset="0.6069" stop-color="#340a5f"/><stop offset="0.6150" stop-color="#310a5c"/><stop offset="0.6231" stop-color="#2d0b59"/><stop offset="0.6312" stop-color="#280b53"/><stop offset="0.6345" stop-color="#260c51"/><stop offset="0.6392" stop-color="#260c51"/><stop offset="0.6473" stop-color="#240c4f"/><stop offset="0.6554" stop-color="#230c4c"/><stop offset="0.6635" stop-color="#210c4a"/><stop offset="0.6716" stop-color="#1f0c48"/><stop offset="0.6797" stop-color="#1c0c43"/><stop offset="0.6878" stop-color="#1b0c41"/><stop offset="0.6959" stop-color="#190c3e"/><stop offset="0.7040" stop-color="#180c3c"/><stop offset="0.7121" stop-color="#160b39"/><stop offset="0.7202" stop-color="#150b37"/><stop offset="0.7283" stop-color="#140b34"/><stop offset="0.7330" stop-color="#140b34"/><stop offset="0.7363" stop-color="#120a32"/><stop offset="0.7444" stop-color="#120a32"/><stop offset="0.7525" stop-color="#110a30"/><stop offset="0.7606" stop-color="#110a30"/><stop offset="0.7687" stop-color="#110a30"/><stop offset="0.7768" stop-color="#10092d"/><stop offset="0.7849" stop-color="#10092d"/><stop offset="0.7930" stop-color="#0e092b"/><stop offset="0.8011" stop-color="#0e092b"/><stop offset="0.8092" stop-color="#0d0829"/><stop offset="0.8173" stop-color="#0d0829"/><stop offset="0.8254" stop-color="#0c0826"/><stop offset="0.8334" stop-color="#0c0826"/><stop offset="0.8415" stop-color="#0c0826"/><stop offset="0.8496" stop-color="#0b0724"/><stop offset="0.8577" stop-color="#0b0724"/><stop offset="0.8658" stop-color="#0a0722"/><stop offset="0.8732" stop-color="#0a0722"/><stop offset="0.8739" stop-color="#0a0722"/><stop offset="0.8820" stop-color="#0a0722"/><stop offset="0.8901" stop-color="#09061f"/><stop offset="0.8982" stop-color="#09061f"/><stop offset="0.9063" stop-color="#09061f"/><stop offset="0.9144" stop-color="#08051d"/><stop offset="0.9225" stop-color="#08051d"/><stop offset="0.9305" stop-color="#08051d"/><stop offset="0.9386" stop-color="#07051b"/><stop offset="0.9467" stop-color="#07051b"/><stop offset="0.9548" stop-color="#07051b"/><stop offset="0.9629" stop-color="#060419"/><stop offset="0.9710" stop-color="#060419"/><stop offset="0.9791" stop-color="#060419"/><stop offset="0.9872" stop-color="#050417"/><stop offset="0.9953" stop-color="#050417"/><stop offset="1.0000" stop-color="#050417"/><stop offset="1.0013" stop-color="#050417"/></linearGradient>
<linearGradient id="hi_b" gradientUnits="userSpaceOnUse" x1="1252.5" x2="1994" y1="0" y2="0"><stop offset="0.0000" stop-color="#fcffa4"/><stop offset="0.0007" stop-color="#fcffa4"/><stop offset="0.0081" stop-color="#fcffa4"/><stop offset="0.0162" stop-color="#fcffa4"/><stop offset="0.0243" stop-color="#fcffa4"/><stop offset="0.0324" stop-color="#fcffa4"/><stop offset="0.0405" stop-color="#fcffa4"/><stop offset="0.0486" stop-color="#fcffa4"/><stop offset="0.0566" stop-color="#fcffa4"/><stop offset="0.0647" stop-color="#fcffa4"/><stop offset="0.0728" stop-color="#fcffa4"/><stop offset="0.0809" stop-color="#fcffa4"/><stop offset="0.0890" stop-color="#fcffa4"/><stop offset="0.0971" stop-color="#fcffa4"/><stop offset="0.1052" stop-color="#fcffa4"/><stop offset="0.1133" stop-color="#fcffa4"/><stop offset="0.1214" stop-color="#fcffa4"/><stop offset="0.1295" stop-color="#fcffa4"/><stop offset="0.1376" stop-color="#fcffa4"/><stop offset="0.1457" stop-color="#fcffa4"/><stop offset="0.1537" stop-color="#fcffa4"/><stop offset="0.1618" stop-color="#fcffa4"/><stop offset="0.1699" stop-color="#fcffa4"/><stop offset="0.1780" stop-color="#fcffa4"/><stop offset="0.1861" stop-color="#fcffa4"/><stop offset="0.1942" stop-color="#fcffa4"/><stop offset="0.1976" stop-color="#fcffa4"/><stop offset="0.2023" stop-color="#fcffa4"/><stop offset="0.2030" stop-color="#fcffa4"/><stop offset="0.2097" stop-color="#fcffa4"/><stop offset="0.2104" stop-color="#fcffa4"/><stop offset="0.2178" stop-color="#f2ea69"/><stop offset="0.2185" stop-color="#f2e865"/><stop offset="0.2266" stop-color="#f8cf3a"/><stop offset="0.2272" stop-color="#f8cd37"/><stop offset="0.2347" stop-color="#f9c932"/><stop offset="0.2428" stop-color="#f9c72f"/><stop offset="0.2508" stop-color="#fac42a"/><stop offset="0.2589" stop-color="#fac228"/><stop offset="0.2664" stop-color="#fbbe23"/><stop offset="0.2670" stop-color="#fbbe23"/><stop offset="0.2751" stop-color="#fac026"/><stop offset="0.2832" stop-color="#fac026"/><stop offset="0.2913" stop-color="#fac228"/><stop offset="0.2994" stop-color="#fac228"/><stop offset="0.3041" stop-color="#fac42a"/><stop offset="0.3075" stop-color="#f7d13d"/><stop offset="0.3122" stop-color="#f2e661"/><stop offset="0.3156" stop-color="#fcffa4"/><stop offset="0.3189" stop-color="#fcffa4"/><stop offset="0.3237" stop-color="#fcffa4"/><stop offset="0.3243" stop-color="#fcffa4"/><stop offset="0.3318" stop-color="#fcffa4"/><stop offset="0.3399" stop-color="#fcffa4"/><stop offset="0.3405" stop-color="#fcffa4"/><stop offset="0.3479" stop-color="#fcffa4"/><stop offset="0.3500" stop-color="#fcffa4"/><stop offset="0.3560" stop-color="#fcffa4"/><stop offset="0.3641" stop-color="#fcffa4"/><stop offset="0.3675" stop-color="#fcffa4"/><stop offset="0.3722" stop-color="#f8fb9a"/><stop offset="0.3803" stop-color="#f1ef75"/><stop offset="0.3884" stop-color="#f4dd4f"/><stop offset="0.3891" stop-color="#f5db4c"/><stop offset="0.3965" stop-color="#fbba1f"/><stop offset="0.4039" stop-color="#fb9706"/><stop offset="0.4046" stop-color="#fa9407"/><stop offset="0.4127" stop-color="#f47918"/><stop offset="0.4187" stop-color="#eb6628"/><stop offset="0.4208" stop-color="#eb6628"/><stop offset="0.4289" stop-color="#ea632a"/><stop offset="0.4370" stop-color="#e8602d"/><stop offset="0.4450" stop-color="#e65d2f"/><stop offset="0.4531" stop-color="#e45a31"/><stop offset="0.4612" stop-color="#e25734"/><stop offset="0.4686" stop-color="#e05536"/><stop offset="0.4693" stop-color="#e05536"/><stop offset="0.4774" stop-color="#e15635"/><stop offset="0.4855" stop-color="#e25734"/><stop offset="0.4936" stop-color="#e35933"/><stop offset="0.5017" stop-color="#e45a31"/><stop offset="0.5098" stop-color="#e55c30"/><stop offset="0.5118" stop-color="#e55c30"/><stop offset="0.5179" stop-color="#e9612b"/><stop offset="0.5260" stop-color="#ee6a24"/><stop offset="0.5334" stop-color="#f1731d"/><stop offset="0.5341" stop-color="#f1731d"/><stop offset="0.5421" stop-color="#ed6925"/><stop offset="0.5502" stop-color="#e8602d"/><stop offset="0.5509" stop-color="#e75e2e"/><stop offset="0.5583" stop-color="#e55c30"/><stop offset="0.5664" stop-color="#e25734"/><stop offset="0.5745" stop-color="#e05536"/><stop offset="0.5826" stop-color="#dd513a"/><stop offset="0.5900" stop-color="#da4e3c"/><stop offset="0.5907" stop-color="#d94d3d"/><stop offset="0.5988" stop-color="#d74b3f"/><stop offset="0.6069" stop-color="#d44842"/><stop offset="0.6150" stop-color="#d04545"/><stop offset="0.6231" stop-color="#ce4347"/><stop offset="0.6312" stop-color="#cb4149"/><stop offset="0.6345" stop-color="#ca404a"/><stop offset="0.6392" stop-color="#c83f4b"/><stop offset="0.6473" stop-color="#c73e4c"/><stop offset="0.6554" stop-color="#c63d4d"/><stop offset="0.6635" stop-color="#c43c4e"/><stop offset="0.6716" stop-color="#c33b4f"/><stop offset="0.6797" stop-color="#c13a50"/><stop offset="0.6878" stop-color="#c03a51"/><stop offset="0.6959" stop-color="#bf3952"/><stop offset="0.7040" stop-color="#bd3853"/><stop offset="0.7121" stop-color="#bc3754"/><stop offset="0.7202" stop-color="#ba3655"/><stop offset="0.7283" stop-color="#b93556"/><stop offset="0.7330" stop-color="#b73557"/><stop offset="0.7363" stop-color="#b73557"/><stop offset="0.7444" stop-color="#b63458"/><stop offset="0.7525" stop-color="#b63458"/><stop offset="0.7606" stop-color="#b43359"/><stop offset="0.7687" stop-color="#b43359"/><stop offset="0.7768" stop-color="#b43359"/><stop offset="0.7849" stop-color="#b3325a"/><stop offset="0.7930" stop-color="#b3325a"/><stop offset="0.8011" stop-color="#b1325a"/><stop offset="0.8092" stop-color="#b1325a"/><stop offset="0.8173" stop-color="#b0315b"/><stop offset="0.8254" stop-color="#b0315b"/><stop offset="0.8334" stop-color="#ae305c"/><stop offset="0.8415" stop-color="#ae305c"/><stop offset="0.8496" stop-color="#ae305c"/><stop offset="0.8577" stop-color="#ad305d"/><stop offset="0.8658" stop-color="#ad305d"/><stop offset="0.8732" stop-color="#ab2f5e"/><stop offset="0.8739" stop-color="#ab2f5e"/><stop offset="0.8820" stop-color="#ab2f5e"/><stop offset="0.8901" stop-color="#ab2f5e"/><stop offset="0.8982" stop-color="#a92e5e"/><stop offset="0.9063" stop-color="#a92e5e"/><stop offset="0.9144" stop-color="#a92e5e"/><stop offset="0.9225" stop-color="#a82e5f"/><stop offset="0.9305" stop-color="#a82e5f"/><stop offset="0.9386" stop-color="#a82e5f"/><stop offset="0.9467" stop-color="#a62d60"/><stop offset="0.9548" stop-color="#a62d60"/><stop offset="0.9629" stop-color="#a62d60"/><stop offset="0.9710" stop-color="#a52c60"/><stop offset="0.9791" stop-color="#a52c60"/><stop offset="0.9872" stop-color="#a52c60"/><stop offset="0.9953" stop-color="#a32c61"/><stop offset="1.0000" stop-color="#a32c61"/><stop offset="1.0013" stop-color="#a32c61"/></linearGradient>
<mask id="nmD_b" maskUnits="userSpaceOnUse" x="1252.5" y="67.4" width="741.5" height="370"><rect x="1252.5" y="67.4" width="741.5" height="370" filter="url(#nD)"/></mask>
<mask id="nmL_b" maskUnits="userSpaceOnUse" x="1252.5" y="67.4" width="741.5" height="370"><rect x="1252.5" y="67.4" width="741.5" height="370" filter="url(#nL)"/></mask>
<linearGradient id="h1_b" gradientUnits="userSpaceOnUse" x1="1252.5" x2="1994" y1="0" y2="0"><stop offset="0.0000" stop-color="#fcffa4"/><stop offset="0.0007" stop-color="#fcffa4"/><stop offset="0.0081" stop-color="#fcffa4"/><stop offset="0.0162" stop-color="#fcffa4"/><stop offset="0.0243" stop-color="#fcffa4"/><stop offset="0.0324" stop-color="#fcffa4"/><stop offset="0.0405" stop-color="#fcffa4"/><stop offset="0.0486" stop-color="#fcffa4"/><stop offset="0.0566" stop-color="#fcffa4"/><stop offset="0.0647" stop-color="#fcffa4"/><stop offset="0.0728" stop-color="#fcffa4"/><stop offset="0.0809" stop-color="#fcffa4"/><stop offset="0.0890" stop-color="#fcffa4"/><stop offset="0.0971" stop-color="#fcffa4"/><stop offset="0.1052" stop-color="#fcffa4"/><stop offset="0.1133" stop-color="#fcffa4"/><stop offset="0.1214" stop-color="#fcffa4"/><stop offset="0.1295" stop-color="#fcffa4"/><stop offset="0.1376" stop-color="#fcffa4"/><stop offset="0.1457" stop-color="#fcffa4"/><stop offset="0.1537" stop-color="#fcffa4"/><stop offset="0.1618" stop-color="#fcffa4"/><stop offset="0.1699" stop-color="#fcffa4"/><stop offset="0.1780" stop-color="#fcffa4"/><stop offset="0.1861" stop-color="#fcffa4"/><stop offset="0.1942" stop-color="#fcffa4"/><stop offset="0.1976" stop-color="#fcffa4"/><stop offset="0.2023" stop-color="#fcffa4"/><stop offset="0.2030" stop-color="#fcffa4"/><stop offset="0.2097" stop-color="#fcffa4"/><stop offset="0.2104" stop-color="#fcffa4"/><stop offset="0.2178" stop-color="#f9fc9d"/><stop offset="0.2185" stop-color="#f8fb9a"/><stop offset="0.2266" stop-color="#f2e865"/><stop offset="0.2272" stop-color="#f2e661"/><stop offset="0.2347" stop-color="#f3e35a"/><stop offset="0.2428" stop-color="#f4e156"/><stop offset="0.2508" stop-color="#f4dd4f"/><stop offset="0.2589" stop-color="#f5d949"/><stop offset="0.2664" stop-color="#f6d746"/><stop offset="0.2670" stop-color="#f6d746"/><stop offset="0.2751" stop-color="#f6d746"/><stop offset="0.2832" stop-color="#f5d949"/><stop offset="0.2913" stop-color="#f5db4c"/><stop offset="0.2994" stop-color="#f5db4c"/><stop offset="0.3041" stop-color="#f5db4c"/><stop offset="0.3075" stop-color="#f2ea69"/><stop offset="0.3122" stop-color="#f5f992"/><stop offset="0.3156" stop-color="#fcffa4"/><stop offset="0.3189" stop-color="#fcffa4"/><stop offset="0.3237" stop-color="#fcffa4"/><stop offset="0.3243" stop-color="#fcffa4"/><stop offset="0.3318" stop-color="#fcffa4"/><stop offset="0.3399" stop-color="#fcffa4"/><stop offset="0.3405" stop-color="#fcffa4"/><stop offset="0.3479" stop-color="#fcffa4"/><stop offset="0.3500" stop-color="#fcffa4"/><stop offset="0.3560" stop-color="#fcffa4"/><stop offset="0.3641" stop-color="#fcffa4"/><stop offset="0.3675" stop-color="#fcffa4"/><stop offset="0.3722" stop-color="#fcffa4"/><stop offset="0.3803" stop-color="#fcffa4"/><stop offset="0.3884" stop-color="#f2f482"/><stop offset="0.3891" stop-color="#f2f27d"/><stop offset="0.3965" stop-color="#f7d13d"/><stop offset="0.4039" stop-color="#fcae12"/><stop offset="0.4046" stop-color="#fcac11"/><stop offset="0.4127" stop-color="#fa9008"/><stop offset="0.4187" stop-color="#f57b17"/><stop offset="0.4208" stop-color="#f57b17"/><stop offset="0.4289" stop-color="#f37819"/><stop offset="0.4370" stop-color="#f2741c"/><stop offset="0.4450" stop-color="#f1711f"/><stop offset="0.4531" stop-color="#ef6c23"/><stop offset="0.4612" stop-color="#ed6925"/><stop offset="0.4686" stop-color="#eb6628"/><stop offset="0.4693" stop-color="#ec6726"/><stop offset="0.4774" stop-color="#ed6925"/><stop offset="0.4855" stop-color="#ed6925"/><stop offset="0.4936" stop-color="#ee6a24"/><stop offset="0.5017" stop-color="#ef6c23"/><stop offset="0.5098" stop-color="#ef6e21"/><stop offset="0.5118" stop-color="#f06f20"/><stop offset="0.5179" stop-color="#f3761b"/><stop offset="0.5260" stop-color="#f68013"/><stop offset="0.5334" stop-color="#f8890c"/><stop offset="0.5341" stop-color="#f8870e"/><stop offset="0.5421" stop-color="#f67e14"/><stop offset="0.5502" stop-color="#f2741c"/><stop offset="0.5509" stop-color="#f1731d"/><stop offset="0.5583" stop-color="#f06f20"/><stop offset="0.5664" stop-color="#ee6a24"/><stop offset="0.5745" stop-color="#eb6628"/><stop offset="0.5826" stop-color="#ea632a"/><stop offset="0.5900" stop-color="#e75e2e"/><stop offset="0.5907" stop-color="#e75e2e"/><stop offset="0.5988" stop-color="#e55c30"/><stop offset="0.6069" stop-color="#e25734"/><stop offset="0.6150" stop-color="#e05536"/><stop offset="0.6231" stop-color="#de5238"/><stop offset="0.6312" stop-color="#db503b"/><stop offset="0.6345" stop-color="#da4e3c"/><stop offset="0.6392" stop-color="#d94d3d"/><stop offset="0.6473" stop-color="#d84c3e"/><stop offset="0.6554" stop-color="#d74b3f"/><stop offset="0.6635" stop-color="#d54a41"/><stop offset="0.6716" stop-color="#d44842"/><stop offset="0.6797" stop-color="#d34743"/><stop offset="0.6878" stop-color="#d24644"/><stop offset="0.6959" stop-color="#d04545"/><stop offset="0.7040" stop-color="#cf4446"/><stop offset="0.7121" stop-color="#cc4248"/><stop offset="0.7202" stop-color="#cb4149"/><stop offset="0.7283" stop-color="#ca404a"/><stop offset="0.7330" stop-color="#ca404a"/><stop offset="0.7363" stop-color="#ca404a"/><stop offset="0.7444" stop-color="#c83f4b"/><stop offset="0.7525" stop-color="#c83f4b"/><stop offset="0.7606" stop-color="#c73e4c"/><stop offset="0.7687" stop-color="#c73e4c"/><stop offset="0.7768" stop-color="#c63d4d"/><stop offset="0.7849" stop-color="#c63d4d"/><stop offset="0.7930" stop-color="#c43c4e"/><stop offset="0.8011" stop-color="#c43c4e"/><stop offset="0.8092" stop-color="#c43c4e"/><stop offset="0.8173" stop-color="#c33b4f"/><stop offset="0.8254" stop-color="#c33b4f"/><stop offset="0.8334" stop-color="#c13a50"/><stop offset="0.8415" stop-color="#c13a50"/><stop offset="0.8496" stop-color="#c03a51"/><stop offset="0.8577" stop-color="#c03a51"/><stop offset="0.8658" stop-color="#bf3952"/><stop offset="0.8732" stop-color="#bf3952"/><stop offset="0.8739" stop-color="#bf3952"/><stop offset="0.8820" stop-color="#bf3952"/><stop offset="0.8901" stop-color="#bd3853"/><stop offset="0.8982" stop-color="#bd3853"/><stop offset="0.9063" stop-color="#bd3853"/><stop offset="0.9144" stop-color="#bc3754"/><stop offset="0.9225" stop-color="#bc3754"/><stop offset="0.9305" stop-color="#bc3754"/><stop offset="0.9386" stop-color="#ba3655"/><stop offset="0.9467" stop-color="#ba3655"/><stop offset="0.9548" stop-color="#ba3655"/><stop offset="0.9629" stop-color="#b93556"/><stop offset="0.9710" stop-color="#b93556"/><stop offset="0.9791" stop-color="#b93556"/><stop offset="0.9872" stop-color="#b93556"/><stop offset="0.9953" stop-color="#b73557"/><stop offset="1.0000" stop-color="#b73557"/><stop offset="1.0013" stop-color="#b73557"/></linearGradient>
<linearGradient id="h2_b" gradientUnits="userSpaceOnUse" x1="1252.5" x2="1994" y1="0" y2="0"><stop offset="0.0000" stop-color="#fcffa4"/><stop offset="0.0007" stop-color="#fcffa4"/><stop offset="0.0081" stop-color="#fcffa4"/><stop offset="0.0162" stop-color="#fcffa4"/><stop offset="0.0243" stop-color="#fcffa4"/><stop offset="0.0324" stop-color="#fcffa4"/><stop offset="0.0405" stop-color="#fcffa4"/><stop offset="0.0486" stop-color="#fcffa4"/><stop offset="0.0566" stop-color="#fcffa4"/><stop offset="0.0647" stop-color="#fcffa4"/><stop offset="0.0728" stop-color="#fcffa4"/><stop offset="0.0809" stop-color="#fcffa4"/><stop offset="0.0890" stop-color="#fcffa4"/><stop offset="0.0971" stop-color="#fcffa4"/><stop offset="0.1052" stop-color="#fcffa4"/><stop offset="0.1133" stop-color="#fcffa4"/><stop offset="0.1214" stop-color="#fcffa4"/><stop offset="0.1295" stop-color="#fcffa4"/><stop offset="0.1376" stop-color="#fcffa4"/><stop offset="0.1457" stop-color="#fcffa4"/><stop offset="0.1537" stop-color="#fcffa4"/><stop offset="0.1618" stop-color="#fcffa4"/><stop offset="0.1699" stop-color="#fcffa4"/><stop offset="0.1780" stop-color="#fcffa4"/><stop offset="0.1861" stop-color="#fcffa4"/><stop offset="0.1942" stop-color="#fcffa4"/><stop offset="0.1976" stop-color="#fcffa4"/><stop offset="0.2023" stop-color="#fcffa4"/><stop offset="0.2030" stop-color="#fcffa4"/><stop offset="0.2097" stop-color="#fcffa4"/><stop offset="0.2104" stop-color="#fcffa4"/><stop offset="0.2178" stop-color="#fcffa4"/><stop offset="0.2185" stop-color="#fcffa4"/><stop offset="0.2266" stop-color="#fcffa4"/><stop offset="0.2272" stop-color="#fcffa4"/><stop offset="0.2347" stop-color="#fcffa4"/><stop offset="0.2428" stop-color="#fcffa4"/><stop offset="0.2508" stop-color="#fcffa4"/><stop offset="0.2589" stop-color="#fcffa4"/><stop offset="0.2664" stop-color="#fcffa4"/><stop offset="0.2670" stop-color="#fcffa4"/><stop offset="0.2751" stop-color="#fcffa4"/><stop offset="0.2832" stop-color="#fcffa4"/><stop offset="0.2913" stop-color="#fcffa4"/><stop offset="0.2994" stop-color="#fcffa4"/><stop offset="0.3041" stop-color="#fcffa4"/><stop offset="0.3075" stop-color="#fcffa4"/><stop offset="0.3122" stop-color="#fcffa4"/><stop offset="0.3156" stop-color="#fcffa4"/><stop offset="0.3189" stop-color="#fcffa4"/><stop offset="0.3237" stop-color="#fcffa4"/><stop offset="0.3243" stop-color="#fcffa4"/><stop offset="0.3318" stop-color="#fcffa4"/><stop offset="0.3399" stop-color="#fcffa4"/><stop offset="0.3405" stop-color="#fcffa4"/><stop offset="0.3479" stop-color="#fcffa4"/><stop offset="0.3500" stop-color="#fcffa4"/><stop offset="0.3560" stop-color="#fcffa4"/><stop offset="0.3641" stop-color="#fcffa4"/><stop offset="0.3675" stop-color="#fcffa4"/><stop offset="0.3722" stop-color="#fcffa4"/><stop offset="0.3803" stop-color="#fcffa4"/><stop offset="0.3884" stop-color="#fcffa4"/><stop offset="0.3891" stop-color="#fcffa4"/><stop offset="0.3965" stop-color="#fcffa4"/><stop offset="0.4039" stop-color="#fcffa4"/><stop offset="0.4046" stop-color="#fcffa4"/><stop offset="0.4127" stop-color="#f4f88e"/><stop offset="0.4187" stop-color="#f2e661"/><stop offset="0.4208" stop-color="#f3e55d"/><stop offset="0.4289" stop-color="#f4e156"/><stop offset="0.4370" stop-color="#f4dd4f"/><stop offset="0.4450" stop-color="#f5d949"/><stop offset="0.4531" stop-color="#f6d543"/><stop offset="0.4612" stop-color="#f7d13d"/><stop offset="0.4686" stop-color="#f8cd37"/><stop offset="0.4693" stop-color="#f8cd37"/><stop offset="0.4774" stop-color="#f8cf3a"/><stop offset="0.4855" stop-color="#f7d13d"/><stop offset="0.4936" stop-color="#f7d340"/><stop offset="0.5017" stop-color="#f6d543"/><stop offset="0.5098" stop-color="#f6d746"/><stop offset="0.5118" stop-color="#f6d746"/><stop offset="0.5179" stop-color="#f4df53"/><stop offset="0.5260" stop-color="#f2ea69"/><stop offset="0.5334" stop-color="#f2f27d"/><stop offset="0.5341" stop-color="#f2f27d"/><stop offset="0.5421" stop-color="#f2e865"/><stop offset="0.5502" stop-color="#f4dd4f"/><stop offset="0.5509" stop-color="#f5db4c"/><stop offset="0.5583" stop-color="#f6d746"/><stop offset="0.5664" stop-color="#f7d13d"/><stop offset="0.5745" stop-color="#f8cd37"/><stop offset="0.5826" stop-color="#f9c72f"/><stop offset="0.5900" stop-color="#fac42a"/><stop offset="0.5907" stop-color="#fac228"/><stop offset="0.5988" stop-color="#fbbe23"/><stop offset="0.6069" stop-color="#fbba1f"/><stop offset="0.6150" stop-color="#fcb418"/><stop offset="0.6231" stop-color="#fcb014"/><stop offset="0.6312" stop-color="#fcac11"/><stop offset="0.6345" stop-color="#fcaa0f"/><stop offset="0.6392" stop-color="#fca80d"/><stop offset="0.6473" stop-color="#fca60c"/><stop offset="0.6554" stop-color="#fca50a"/><stop offset="0.6635" stop-color="#fca309"/><stop offset="0.6716" stop-color="#fca108"/><stop offset="0.6797" stop-color="#fc9f07"/><stop offset="0.6878" stop-color="#fb9d07"/><stop offset="0.6959" stop-color="#fb9b06"/><stop offset="0.7040" stop-color="#fb9906"/><stop offset="0.7121" stop-color="#fb9706"/><stop offset="0.7202" stop-color="#fb9606"/><stop offset="0.7283" stop-color="#fa9407"/><stop offset="0.7330" stop-color="#fa9207"/><stop offset="0.7363" stop-color="#fa9207"/><stop offset="0.7444" stop-color="#fa9008"/><stop offset="0.7525" stop-color="#fa9008"/><stop offset="0.7606" stop-color="#fa9008"/><stop offset="0.7687" stop-color="#f98e09"/><stop offset="0.7768" stop-color="#f98e09"/><stop offset="0.7849" stop-color="#f98c0a"/><stop offset="0.7930" stop-color="#f98c0a"/><stop offset="0.8011" stop-color="#f98b0b"/><stop offset="0.8092" stop-color="#f98b0b"/><stop offset="0.8173" stop-color="#f8890c"/><stop offset="0.8254" stop-color="#f8890c"/><stop offset="0.8334" stop-color="#f8890c"/><stop offset="0.8415" stop-color="#f8870e"/><stop offset="0.8496" stop-color="#f8870e"/><stop offset="0.8577" stop-color="#f8850f"/><stop offset="0.8658" stop-color="#f8850f"/><stop offset="0.8732" stop-color="#f78410"/><stop offset="0.8739" stop-color="#f78410"/><stop offset="0.8820" stop-color="#f78410"/><stop offset="0.8901" stop-color="#f78410"/><stop offset="0.8982" stop-color="#f78212"/><stop offset="0.9063" stop-color="#f78212"/><stop offset="0.9144" stop-color="#f78212"/><stop offset="0.9225" stop-color="#f68013"/><stop offset="0.9305" stop-color="#f68013"/><stop offset="0.9386" stop-color="#f68013"/><stop offset="0.9467" stop-color="#f67e14"/><stop offset="0.9548" stop-color="#f67e14"/><stop offset="0.9629" stop-color="#f67e14"/><stop offset="0.9710" stop-color="#f57d15"/><stop offset="0.9791" stop-color="#f57d15"/><stop offset="0.9872" stop-color="#f57d15"/><stop offset="0.9953" stop-color="#f57d15"/><stop offset="1.0000" stop-color="#f57b17"/><stop offset="1.0013" stop-color="#f57b17"/></linearGradient>
<clipPath id="p_b"><rect x="1252.5" y="437.4" width="741.5" height="364.2"/></clipPath>
<linearGradient id="g_c" gradientUnits="userSpaceOnUse" x1="159.9" x2="901.4" y1="0" y2="0"><stop offset="0.0000" stop-color="#fcffa4"/><stop offset="0.0001" stop-color="#fcffa4"/><stop offset="0.0081" stop-color="#fcffa4"/><stop offset="0.0162" stop-color="#fcffa4"/><stop offset="0.0243" stop-color="#fcffa4"/><stop offset="0.0324" stop-color="#fcffa4"/><stop offset="0.0405" stop-color="#fcffa4"/><stop offset="0.0486" stop-color="#fcffa4"/><stop offset="0.0566" stop-color="#fcffa4"/><stop offset="0.0647" stop-color="#fcffa4"/><stop offset="0.0728" stop-color="#fcffa4"/><stop offset="0.0809" stop-color="#fcffa4"/><stop offset="0.0890" stop-color="#fcffa4"/><stop offset="0.0971" stop-color="#fcffa4"/><stop offset="0.1052" stop-color="#fcffa4"/><stop offset="0.1133" stop-color="#fcffa4"/><stop offset="0.1214" stop-color="#fcffa4"/><stop offset="0.1295" stop-color="#fcffa4"/><stop offset="0.1376" stop-color="#fcffa4"/><stop offset="0.1457" stop-color="#fcffa4"/><stop offset="0.1537" stop-color="#fcffa4"/><stop offset="0.1618" stop-color="#fcffa4"/><stop offset="0.1699" stop-color="#fcffa4"/><stop offset="0.1780" stop-color="#fcffa4"/><stop offset="0.1861" stop-color="#fcffa4"/><stop offset="0.1942" stop-color="#fcffa4"/><stop offset="0.2023" stop-color="#fcffa4"/><stop offset="0.2104" stop-color="#fcffa4"/><stop offset="0.2185" stop-color="#fcffa4"/><stop offset="0.2266" stop-color="#fcffa4"/><stop offset="0.2347" stop-color="#fcffa4"/><stop offset="0.2428" stop-color="#fcffa4"/><stop offset="0.2508" stop-color="#fcffa4"/><stop offset="0.2589" stop-color="#fcffa4"/><stop offset="0.2591" stop-color="#fcffa4"/><stop offset="0.2645" stop-color="#f1ef75"/><stop offset="0.2670" stop-color="#f6d746"/><stop offset="0.2712" stop-color="#fcae12"/><stop offset="0.2751" stop-color="#fa9407"/><stop offset="0.2793" stop-color="#f37819"/><stop offset="0.2832" stop-color="#ef6c23"/><stop offset="0.2913" stop-color="#e25734"/><stop offset="0.2968" stop-color="#d74b3f"/><stop offset="0.2994" stop-color="#d54a41"/><stop offset="0.3075" stop-color="#d04545"/><stop offset="0.3156" stop-color="#ca404a"/><stop offset="0.3171" stop-color="#ca404a"/><stop offset="0.3237" stop-color="#d24644"/><stop offset="0.3318" stop-color="#db503b"/><stop offset="0.3386" stop-color="#e25734"/><stop offset="0.3399" stop-color="#e45a31"/><stop offset="0.3479" stop-color="#ee6a24"/><stop offset="0.3560" stop-color="#f57d15"/><stop offset="0.3575" stop-color="#f68013"/><stop offset="0.3641" stop-color="#f8890c"/><stop offset="0.3722" stop-color="#fa9407"/><stop offset="0.3777" stop-color="#fb9b06"/><stop offset="0.3803" stop-color="#fcae12"/><stop offset="0.3858" stop-color="#f6d746"/><stop offset="0.3884" stop-color="#f1f179"/><stop offset="0.3926" stop-color="#fcffa4"/><stop offset="0.3965" stop-color="#fcffa4"/><stop offset="0.3966" stop-color="#fcffa4"/><stop offset="0.4046" stop-color="#fcffa4"/><stop offset="0.4127" stop-color="#fcffa4"/><stop offset="0.4208" stop-color="#fcffa4"/><stop offset="0.4289" stop-color="#fcffa4"/><stop offset="0.4370" stop-color="#fcffa4"/><stop offset="0.4450" stop-color="#fcffa4"/><stop offset="0.4531" stop-color="#fcffa4"/><stop offset="0.4612" stop-color="#fcffa4"/><stop offset="0.4693" stop-color="#fcffa4"/><stop offset="0.4774" stop-color="#fcffa4"/><stop offset="0.4816" stop-color="#fcffa4"/><stop offset="0.4855" stop-color="#fcffa4"/><stop offset="0.4856" stop-color="#fcffa4"/><stop offset="0.4897" stop-color="#f1ef75"/><stop offset="0.4936" stop-color="#f6d746"/><stop offset="0.5017" stop-color="#fca60c"/><stop offset="0.5018" stop-color="#fca50a"/><stop offset="0.5098" stop-color="#fa9008"/><stop offset="0.5179" stop-color="#f57b17"/><stop offset="0.5194" stop-color="#f37819"/><stop offset="0.5260" stop-color="#e9612b"/><stop offset="0.5315" stop-color="#dd513a"/><stop offset="0.5341" stop-color="#d84c3e"/><stop offset="0.5421" stop-color="#c63d4d"/><stop offset="0.5463" stop-color="#bc3754"/><stop offset="0.5502" stop-color="#b3325a"/><stop offset="0.5583" stop-color="#a22b62"/><stop offset="0.5612" stop-color="#9b2964"/><stop offset="0.5664" stop-color="#972766"/><stop offset="0.5745" stop-color="#8f2469"/><stop offset="0.5826" stop-color="#87216b"/><stop offset="0.5868" stop-color="#84206b"/><stop offset="0.5907" stop-color="#801f6c"/><stop offset="0.5988" stop-color="#7d1e6d"/><stop offset="0.6069" stop-color="#781c6d"/><stop offset="0.6111" stop-color="#771c6d"/><stop offset="0.6150" stop-color="#7c1d6d"/><stop offset="0.6231" stop-color="#85216b"/><stop offset="0.6312" stop-color="#8f2469"/><stop offset="0.6353" stop-color="#932667"/><stop offset="0.6392" stop-color="#9b2964"/><stop offset="0.6473" stop-color="#ae305c"/><stop offset="0.6554" stop-color="#bf3952"/><stop offset="0.6610" stop-color="#ca404a"/><stop offset="0.6635" stop-color="#ce4347"/><stop offset="0.6716" stop-color="#da4e3c"/><stop offset="0.6797" stop-color="#e55c30"/><stop offset="0.6852" stop-color="#eb6628"/><stop offset="0.6878" stop-color="#ed6925"/><stop offset="0.6959" stop-color="#ef6e21"/><stop offset="0.7040" stop-color="#f1731d"/><stop offset="0.7095" stop-color="#f37819"/><stop offset="0.7121" stop-color="#f3761b"/><stop offset="0.7202" stop-color="#f06f20"/><stop offset="0.7283" stop-color="#ee6a24"/><stop offset="0.7351" stop-color="#eb6628"/><stop offset="0.7363" stop-color="#eb6429"/><stop offset="0.7444" stop-color="#e45a31"/><stop offset="0.7525" stop-color="#dd513a"/><stop offset="0.7606" stop-color="#d34743"/><stop offset="0.7635" stop-color="#d04545"/><stop offset="0.7687" stop-color="#c83f4b"/><stop offset="0.7768" stop-color="#bc3754"/><stop offset="0.7849" stop-color="#ae305c"/><stop offset="0.7891" stop-color="#a82e5f"/><stop offset="0.7930" stop-color="#a22b62"/><stop offset="0.8011" stop-color="#952667"/><stop offset="0.8080" stop-color="#8c2369"/><stop offset="0.8092" stop-color="#8a226a"/><stop offset="0.8173" stop-color="#85216b"/><stop offset="0.8254" stop-color="#82206c"/><stop offset="0.8334" stop-color="#7d1e6d"/><stop offset="0.8415" stop-color="#781c6d"/><stop offset="0.8496" stop-color="#741a6e"/><stop offset="0.8577" stop-color="#6f196e"/><stop offset="0.8579" stop-color="#6f196e"/><stop offset="0.8658" stop-color="#721a6e"/><stop offset="0.8739" stop-color="#771c6d"/><stop offset="0.8820" stop-color="#7a1d6d"/><stop offset="0.8821" stop-color="#7c1d6d"/><stop offset="0.8901" stop-color="#801f6c"/><stop offset="0.8982" stop-color="#87216b"/><stop offset="0.9063" stop-color="#8c2369"/><stop offset="0.9144" stop-color="#922568"/><stop offset="0.9172" stop-color="#932667"/><stop offset="0.9225" stop-color="#952667"/><stop offset="0.9305" stop-color="#972766"/><stop offset="0.9386" stop-color="#982766"/><stop offset="0.9467" stop-color="#9a2865"/><stop offset="0.9548" stop-color="#9b2964"/><stop offset="0.9563" stop-color="#9b2964"/><stop offset="0.9629" stop-color="#9b2964"/><stop offset="0.9710" stop-color="#9b2964"/><stop offset="0.9791" stop-color="#9b2964"/><stop offset="0.9872" stop-color="#9b2964"/><stop offset="0.9953" stop-color="#9b2964"/><stop offset="1.0000" stop-color="#9b2964"/><stop offset="1.0008" stop-color="#9b2964"/></linearGradient>
<linearGradient id="m_c" gradientUnits="userSpaceOnUse" x1="159.9" x2="901.4" y1="0" y2="0"><stop offset="0.0000" stop-color="#fff" stop-opacity="0.00"/><stop offset="0.0001" stop-color="#fff" stop-opacity="0.00"/><stop offset="0.0081" stop-color="#fff" stop-opacity="0.00"/><stop offset="0.0162" stop-color="#fff" stop-opacity="0.00"/><stop offset="0.0243" stop-color="#fff" stop-opacity="0.00"/><stop offset="0.0324" stop-color="#fff" stop-opacity="0.00"/><stop offset="0.0405" stop-color="#fff" stop-opacity="0.00"/><stop offset="0.0486" stop-color="#fff" stop-opacity="0.00"/><stop offset="0.0566" stop-color="#fff" stop-opacity="0.00"/><stop offset="0.0647" stop-color="#fff" stop-opacity="0.00"/><stop offset="0.0728" stop-color="#fff" stop-opacity="0.00"/><stop offset="0.0809" stop-color="#fff" stop-opacity="0.00"/><stop offset="0.0890" stop-color="#fff" stop-opacity="0.00"/><stop offset="0.0971" stop-color="#fff" stop-opacity="0.00"/><stop offset="0.1052" stop-color="#fff" stop-opacity="0.00"/><stop offset="0.1133" stop-color="#fff" stop-opacity="0.00"/><stop offset="0.1214" stop-color="#fff" stop-opacity="0.00"/><stop offset="0.1295" stop-color="#fff" stop-opacity="0.00"/><stop offset="0.1376" stop-color="#fff" stop-opacity="0.00"/><stop offset="0.1457" stop-color="#fff" stop-opacity="0.00"/><stop offset="0.1537" stop-color="#fff" stop-opacity="0.00"/><stop offset="0.1618" stop-color="#fff" stop-opacity="0.00"/><stop offset="0.1699" stop-color="#fff" stop-opacity="0.00"/><stop offset="0.1780" stop-color="#fff" stop-opacity="0.00"/><stop offset="0.1861" stop-color="#fff" stop-opacity="0.00"/><stop offset="0.1942" stop-color="#fff" stop-opacity="0.00"/><stop offset="0.2023" stop-color="#fff" stop-opacity="0.00"/><stop offset="0.2104" stop-color="#fff" stop-opacity="0.00"/><stop offset="0.2185" stop-color="#fff" stop-opacity="0.00"/><stop offset="0.2266" stop-color="#fff" stop-opacity="0.00"/><stop offset="0.2347" stop-color="#fff" stop-opacity="0.00"/><stop offset="0.2428" stop-color="#fff" stop-opacity="0.00"/><stop offset="0.2508" stop-color="#fff" stop-opacity="0.00"/><stop offset="0.2589" stop-color="#fff" stop-opacity="0.00"/><stop offset="0.2591" stop-color="#fff" stop-opacity="0.00"/><stop offset="0.2645" stop-color="#fff" stop-opacity="0.35"/><stop offset="0.2670" stop-color="#fff" stop-opacity="0.60"/><stop offset="0.2712" stop-color="#fff" stop-opacity="1.00"/><stop offset="0.2751" stop-color="#fff" stop-opacity="1.00"/><stop offset="0.2793" stop-color="#fff" stop-opacity="1.00"/><stop offset="0.2832" stop-color="#fff" stop-opacity="1.00"/><stop offset="0.2913" stop-color="#fff" stop-opacity="1.00"/><stop offset="0.2968" stop-color="#fff" stop-opacity="1.00"/><stop offset="0.2994" stop-color="#fff" stop-opacity="1.00"/><stop offset="0.3075" stop-color="#fff" stop-opacity="1.00"/><stop offset="0.3156" stop-color="#fff" stop-opacity="1.00"/><stop offset="0.3171" stop-color="#fff" stop-opacity="1.00"/><stop offset="0.3237" stop-color="#fff" stop-opacity="1.00"/><stop offset="0.3318" stop-color="#fff" stop-opacity="1.00"/><stop offset="0.3386" stop-color="#fff" stop-opacity="1.00"/><stop offset="0.3399" stop-color="#fff" stop-opacity="1.00"/><stop offset="0.3479" stop-color="#fff" stop-opacity="1.00"/><stop offset="0.3560" stop-color="#fff" stop-opacity="1.00"/><stop offset="0.3575" stop-color="#fff" stop-opacity="1.00"/><stop offset="0.3641" stop-color="#fff" stop-opacity="1.00"/><stop offset="0.3722" stop-color="#fff" stop-opacity="1.00"/><stop offset="0.3777" stop-color="#fff" stop-opacity="1.00"/><stop offset="0.3803" stop-color="#fff" stop-opacity="1.00"/><stop offset="0.3858" stop-color="#fff" stop-opacity="0.60"/><stop offset="0.3884" stop-color="#fff" stop-opacity="0.32"/><stop offset="0.3926" stop-color="#fff" stop-opacity="0.00"/><stop offset="0.3965" stop-color="#fff" stop-opacity="0.00"/><stop offset="0.3966" stop-color="#fff" stop-opacity="0.00"/><stop offset="0.4046" stop-color="#fff" stop-opacity="0.00"/><stop offset="0.4127" stop-color="#fff" stop-opacity="0.00"/><stop offset="0.4208" stop-color="#fff" stop-opacity="0.00"/><stop offset="0.4289" stop-color="#fff" stop-opacity="0.00"/><stop offset="0.4370" stop-color="#fff" stop-opacity="0.00"/><stop offset="0.4450" stop-color="#fff" stop-opacity="0.00"/><stop offset="0.4531" stop-color="#fff" stop-opacity="0.00"/><stop offset="0.4612" stop-color="#fff" stop-opacity="0.00"/><stop offset="0.4693" stop-color="#fff" stop-opacity="0.00"/><stop offset="0.4774" stop-color="#fff" stop-opacity="0.00"/><stop offset="0.4816" stop-color="#fff" stop-opacity="0.00"/><stop offset="0.4855" stop-color="#fff" stop-opacity="0.00"/><stop offset="0.4856" stop-color="#fff" stop-opacity="0.00"/><stop offset="0.4897" stop-color="#fff" stop-opacity="0.35"/><stop offset="0.4936" stop-color="#fff" stop-opacity="0.59"/><stop offset="0.5017" stop-color="#fff" stop-opacity="1.00"/><stop offset="0.5018" stop-color="#fff" stop-opacity="1.00"/><stop offset="0.5098" stop-color="#fff" stop-opacity="1.00"/><stop offset="0.5179" stop-color="#fff" stop-opacity="1.00"/><stop offset="0.5194" stop-color="#fff" stop-opacity="1.00"/><stop offset="0.5260" stop-color="#fff" stop-opacity="1.00"/><stop offset="0.5315" stop-color="#fff" stop-opacity="1.00"/><stop offset="0.5341" stop-color="#fff" stop-opacity="1.00"/><stop offset="0.5421" stop-color="#fff" stop-opacity="1.00"/><stop offset="0.5463" stop-color="#fff" stop-opacity="1.00"/><stop offset="0.5502" stop-color="#fff" stop-opacity="1.00"/><stop offset="0.5583" stop-color="#fff" stop-opacity="1.00"/><stop offset="0.5612" stop-color="#fff" stop-opacity="1.00"/><stop offset="0.5664" stop-color="#fff" stop-opacity="1.00"/><stop offset="0.5745" stop-color="#fff" stop-opacity="1.00"/><stop offset="0.5826" stop-color="#fff" stop-opacity="1.00"/><stop offset="0.5868" stop-color="#fff" stop-opacity="1.00"/><stop offset="0.5907" stop-color="#fff" stop-opacity="1.00"/><stop offset="0.5988" stop-color="#fff" stop-opacity="1.00"/><stop offset="0.6069" stop-color="#fff" stop-opacity="1.00"/><stop offset="0.6111" stop-color="#fff" stop-opacity="1.00"/><stop offset="0.6150" stop-color="#fff" stop-opacity="1.00"/><stop offset="0.6231" stop-color="#fff" stop-opacity="1.00"/><stop offset="0.6312" stop-color="#fff" stop-opacity="1.00"/><stop offset="0.6353" stop-color="#fff" stop-opacity="1.00"/><stop offset="0.6392" stop-color="#fff" stop-opacity="1.00"/><stop offset="0.6473" stop-color="#fff" stop-opacity="1.00"/><stop offset="0.6554" stop-color="#fff" stop-opacity="1.00"/><stop offset="0.6610" stop-color="#fff" stop-opacity="1.00"/><stop offset="0.6635" stop-color="#fff" stop-opacity="1.00"/><stop offset="0.6716" stop-color="#fff" stop-opacity="1.00"/><stop offset="0.6797" stop-color="#fff" stop-opacity="1.00"/><stop offset="0.6852" stop-color="#fff" stop-opacity="1.00"/><stop offset="0.6878" stop-color="#fff" stop-opacity="1.00"/><stop offset="0.6959" stop-color="#fff" stop-opacity="1.00"/><stop offset="0.7040" stop-color="#fff" stop-opacity="1.00"/><stop offset="0.7095" stop-color="#fff" stop-opacity="1.00"/><stop offset="0.7121" stop-color="#fff" stop-opacity="1.00"/><stop offset="0.7202" stop-color="#fff" stop-opacity="1.00"/><stop offset="0.7283" stop-color="#fff" stop-opacity="1.00"/><stop offset="0.7351" stop-color="#fff" stop-opacity="1.00"/><stop offset="0.7363" stop-color="#fff" stop-opacity="1.00"/><stop offset="0.7444" stop-color="#fff" stop-opacity="1.00"/><stop offset="0.7525" stop-color="#fff" stop-opacity="1.00"/><stop offset="0.7606" stop-color="#fff" stop-opacity="1.00"/><stop offset="0.7635" stop-color="#fff" stop-opacity="1.00"/><stop offset="0.7687" stop-color="#fff" stop-opacity="1.00"/><stop offset="0.7768" stop-color="#fff" stop-opacity="1.00"/><stop offset="0.7849" stop-color="#fff" stop-opacity="1.00"/><stop offset="0.7891" stop-color="#fff" stop-opacity="1.00"/><stop offset="0.7930" stop-color="#fff" stop-opacity="1.00"/><stop offset="0.8011" stop-color="#fff" stop-opacity="1.00"/><stop offset="0.8080" stop-color="#fff" stop-opacity="1.00"/><stop offset="0.8092" stop-color="#fff" stop-opacity="1.00"/><stop offset="0.8173" stop-color="#fff" stop-opacity="1.00"/><stop offset="0.8254" stop-color="#fff" stop-opacity="1.00"/><stop offset="0.8334" stop-color="#fff" stop-opacity="1.00"/><stop offset="0.8415" stop-color="#fff" stop-opacity="1.00"/><stop offset="0.8496" stop-color="#fff" stop-opacity="1.00"/><stop offset="0.8577" stop-color="#fff" stop-opacity="1.00"/><stop offset="0.8579" stop-color="#fff" stop-opacity="1.00"/><stop offset="0.8658" stop-color="#fff" stop-opacity="1.00"/><stop offset="0.8739" stop-color="#fff" stop-opacity="1.00"/><stop offset="0.8820" stop-color="#fff" stop-opacity="1.00"/><stop offset="0.8821" stop-color="#fff" stop-opacity="1.00"/><stop offset="0.8901" stop-color="#fff" stop-opacity="1.00"/><stop offset="0.8982" stop-color="#fff" stop-opacity="1.00"/><stop offset="0.9063" stop-color="#fff" stop-opacity="1.00"/><stop offset="0.9144" stop-color="#fff" stop-opacity="1.00"/><stop offset="0.9172" stop-color="#fff" stop-opacity="1.00"/><stop offset="0.9225" stop-color="#fff" stop-opacity="1.00"/><stop offset="0.9305" stop-color="#fff" stop-opacity="1.00"/><stop offset="0.9386" stop-color="#fff" stop-opacity="1.00"/><stop offset="0.9467" stop-color="#fff" stop-opacity="1.00"/><stop offset="0.9548" stop-color="#fff" stop-opacity="1.00"/><stop offset="0.9563" stop-color="#fff" stop-opacity="1.00"/><stop offset="0.9629" stop-color="#fff" stop-opacity="1.00"/><stop offset="0.9710" stop-color="#fff" stop-opacity="1.00"/><stop offset="0.9791" stop-color="#fff" stop-opacity="1.00"/><stop offset="0.9872" stop-color="#fff" stop-opacity="1.00"/><stop offset="0.9953" stop-color="#fff" stop-opacity="1.00"/><stop offset="1.0000" stop-color="#fff" stop-opacity="1.00"/><stop offset="1.0008" stop-color="#fff" stop-opacity="1.00"/></linearGradient>
<mask id="mk_c" maskUnits="userSpaceOnUse" x="159.9" y="994.6" width="741.5" height="371"><rect x="159.9" y="994.6" width="741.5" height="371" fill="url(#m_c)"/></mask>
<clipPath id="c_c"><rect x="159.9" y="994.6" width="741.5" height="371"/></clipPath>
<linearGradient id="lo_c" gradientUnits="userSpaceOnUse" x1="159.9" x2="901.4" y1="0" y2="0"><stop offset="0.0000" stop-color="#f9fc9d"/><stop offset="0.0001" stop-color="#f9fc9d"/><stop offset="0.0081" stop-color="#f9fc9d"/><stop offset="0.0162" stop-color="#f9fc9d"/><stop offset="0.0243" stop-color="#f9fc9d"/><stop offset="0.0324" stop-color="#f9fc9d"/><stop offset="0.0405" stop-color="#f9fc9d"/><stop offset="0.0486" stop-color="#f9fc9d"/><stop offset="0.0566" stop-color="#f9fc9d"/><stop offset="0.0647" stop-color="#f9fc9d"/><stop offset="0.0728" stop-color="#f9fc9d"/><stop offset="0.0809" stop-color="#f9fc9d"/><stop offset="0.0890" stop-color="#f9fc9d"/><stop offset="0.0971" stop-color="#f9fc9d"/><stop offset="0.1052" stop-color="#f9fc9d"/><stop offset="0.1133" stop-color="#f9fc9d"/><stop offset="0.1214" stop-color="#f9fc9d"/><stop offset="0.1295" stop-color="#f9fc9d"/><stop offset="0.1376" stop-color="#f9fc9d"/><stop offset="0.1457" stop-color="#f9fc9d"/><stop offset="0.1537" stop-color="#f9fc9d"/><stop offset="0.1618" stop-color="#f9fc9d"/><stop offset="0.1699" stop-color="#f9fc9d"/><stop offset="0.1780" stop-color="#f9fc9d"/><stop offset="0.1861" stop-color="#f9fc9d"/><stop offset="0.1942" stop-color="#f9fc9d"/><stop offset="0.2023" stop-color="#f9fc9d"/><stop offset="0.2104" stop-color="#f9fc9d"/><stop offset="0.2185" stop-color="#f9fc9d"/><stop offset="0.2266" stop-color="#f9fc9d"/><stop offset="0.2347" stop-color="#f9fc9d"/><stop offset="0.2428" stop-color="#f9fc9d"/><stop offset="0.2508" stop-color="#f9fc9d"/><stop offset="0.2589" stop-color="#f9fc9d"/><stop offset="0.2591" stop-color="#f9fc9d"/><stop offset="0.2645" stop-color="#f8890c"/><stop offset="0.2670" stop-color="#f1731d"/><stop offset="0.2712" stop-color="#e05536"/><stop offset="0.2751" stop-color="#ce4347"/><stop offset="0.2793" stop-color="#b73557"/><stop offset="0.2832" stop-color="#ad305d"/><stop offset="0.2913" stop-color="#972766"/><stop offset="0.2968" stop-color="#87216b"/><stop offset="0.2994" stop-color="#85216b"/><stop offset="0.3075" stop-color="#7f1e6c"/><stop offset="0.3156" stop-color="#781c6d"/><stop offset="0.3171" stop-color="#771c6d"/><stop offset="0.3237" stop-color="#801f6c"/><stop offset="0.3318" stop-color="#8d2369"/><stop offset="0.3386" stop-color="#972766"/><stop offset="0.3399" stop-color="#9a2865"/><stop offset="0.3479" stop-color="#ab2f5e"/><stop offset="0.3560" stop-color="#bc3754"/><stop offset="0.3575" stop-color="#bf3952"/><stop offset="0.3641" stop-color="#c63d4d"/><stop offset="0.3722" stop-color="#ce4347"/><stop offset="0.3777" stop-color="#d34743"/><stop offset="0.3803" stop-color="#df5337"/><stop offset="0.3858" stop-color="#f1731d"/><stop offset="0.3884" stop-color="#f98c0a"/><stop offset="0.3926" stop-color="#fbba1f"/><stop offset="0.3965" stop-color="#f8fb9a"/><stop offset="0.3966" stop-color="#f9fc9d"/><stop offset="0.4046" stop-color="#f9fc9d"/><stop offset="0.4127" stop-color="#f9fc9d"/><stop offset="0.4208" stop-color="#f9fc9d"/><stop offset="0.4289" stop-color="#f9fc9d"/><stop offset="0.4370" stop-color="#f9fc9d"/><stop offset="0.4450" stop-color="#f9fc9d"/><stop offset="0.4531" stop-color="#f9fc9d"/><stop offset="0.4612" stop-color="#f9fc9d"/><stop offset="0.4693" stop-color="#f9fc9d"/><stop offset="0.4774" stop-color="#f9fc9d"/><stop offset="0.4816" stop-color="#f9fc9d"/><stop offset="0.4855" stop-color="#fbbc21"/><stop offset="0.4856" stop-color="#fbba1f"/><stop offset="0.4897" stop-color="#f8890c"/><stop offset="0.4936" stop-color="#f2741c"/><stop offset="0.5017" stop-color="#da4e3c"/><stop offset="0.5018" stop-color="#da4e3c"/><stop offset="0.5098" stop-color="#cb4149"/><stop offset="0.5179" stop-color="#ba3655"/><stop offset="0.5194" stop-color="#b73557"/><stop offset="0.5260" stop-color="#a22b62"/><stop offset="0.5315" stop-color="#8f2469"/><stop offset="0.5341" stop-color="#88226a"/><stop offset="0.5421" stop-color="#721a6e"/><stop offset="0.5463" stop-color="#67166e"/><stop offset="0.5502" stop-color="#5d126e"/><stop offset="0.5583" stop-color="#4c0c6b"/><stop offset="0.5612" stop-color="#450a69"/><stop offset="0.5664" stop-color="#400a67"/><stop offset="0.5745" stop-color="#380962"/><stop offset="0.5826" stop-color="#2f0a5b"/><stop offset="0.5868" stop-color="#2b0b57"/><stop offset="0.5907" stop-color="#290b55"/><stop offset="0.5988" stop-color="#240c4f"/><stop offset="0.6069" stop-color="#210c4a"/><stop offset="0.6111" stop-color="#1e0c45"/><stop offset="0.6150" stop-color="#230c4c"/><stop offset="0.6231" stop-color="#2d0b59"/><stop offset="0.6312" stop-color="#380962"/><stop offset="0.6353" stop-color="#3d0965"/><stop offset="0.6392" stop-color="#470b6a"/><stop offset="0.6473" stop-color="#59106e"/><stop offset="0.6554" stop-color="#6a176e"/><stop offset="0.6610" stop-color="#771c6d"/><stop offset="0.6635" stop-color="#7c1d6d"/><stop offset="0.6716" stop-color="#8c2369"/><stop offset="0.6797" stop-color="#9d2964"/><stop offset="0.6852" stop-color="#a82e5f"/><stop offset="0.6878" stop-color="#a92e5e"/><stop offset="0.6959" stop-color="#ae305c"/><stop offset="0.7040" stop-color="#b43359"/><stop offset="0.7095" stop-color="#b73557"/><stop offset="0.7121" stop-color="#b63458"/><stop offset="0.7202" stop-color="#b1325a"/><stop offset="0.7283" stop-color="#ab2f5e"/><stop offset="0.7351" stop-color="#a82e5f"/><stop offset="0.7363" stop-color="#a62d60"/><stop offset="0.7444" stop-color="#9a2865"/><stop offset="0.7525" stop-color="#8f2469"/><stop offset="0.7606" stop-color="#84206b"/><stop offset="0.7635" stop-color="#7f1e6c"/><stop offset="0.7687" stop-color="#751b6e"/><stop offset="0.7768" stop-color="#67166e"/><stop offset="0.7849" stop-color="#5a116e"/><stop offset="0.7891" stop-color="#520e6d"/><stop offset="0.7930" stop-color="#4c0c6b"/><stop offset="0.8011" stop-color="#400a67"/><stop offset="0.8080" stop-color="#340a5f"/><stop offset="0.8092" stop-color="#340a5f"/><stop offset="0.8173" stop-color="#2f0a5b"/><stop offset="0.8254" stop-color="#290b55"/><stop offset="0.8334" stop-color="#240c4f"/><stop offset="0.8415" stop-color="#1f0c48"/><stop offset="0.8496" stop-color="#1b0c41"/><stop offset="0.8577" stop-color="#160b39"/><stop offset="0.8579" stop-color="#160b39"/><stop offset="0.8658" stop-color="#1b0c41"/><stop offset="0.8739" stop-color="#1e0c45"/><stop offset="0.8820" stop-color="#230c4c"/><stop offset="0.8821" stop-color="#230c4c"/><stop offset="0.8901" stop-color="#280b53"/><stop offset="0.8982" stop-color="#2f0a5b"/><stop offset="0.9063" stop-color="#340a5f"/><stop offset="0.9144" stop-color="#3b0964"/><stop offset="0.9172" stop-color="#3d0965"/><stop offset="0.9225" stop-color="#3e0966"/><stop offset="0.9305" stop-color="#400a67"/><stop offset="0.9386" stop-color="#420a68"/><stop offset="0.9467" stop-color="#440a68"/><stop offset="0.9548" stop-color="#450a69"/><stop offset="0.9563" stop-color="#450a69"/><stop offset="0.9629" stop-color="#450a69"/><stop offset="0.9710" stop-color="#450a69"/><stop offset="0.9791" stop-color="#450a69"/><stop offset="0.9872" stop-color="#450a69"/><stop offset="0.9953" stop-color="#450a69"/><stop offset="1.0000" stop-color="#450a69"/><stop offset="1.0008" stop-color="#450a69"/></linearGradient>
<linearGradient id="hi_c" gradientUnits="userSpaceOnUse" x1="159.9" x2="901.4" y1="0" y2="0"><stop offset="0.0000" stop-color="#fcffa4"/><stop offset="0.0001" stop-color="#fcffa4"/><stop offset="0.0081" stop-color="#fcffa4"/><stop offset="0.0162" stop-color="#fcffa4"/><stop offset="0.0243" stop-color="#fcffa4"/><stop offset="0.0324" stop-color="#fcffa4"/><stop offset="0.0405" stop-color="#fcffa4"/><stop offset="0.0486" stop-color="#fcffa4"/><stop offset="0.0566" stop-color="#fcffa4"/><stop offset="0.0647" stop-color="#fcffa4"/><stop offset="0.0728" stop-color="#fcffa4"/><stop offset="0.0809" stop-color="#fcffa4"/><stop offset="0.0890" stop-color="#fcffa4"/><stop offset="0.0971" stop-color="#fcffa4"/><stop offset="0.1052" stop-color="#fcffa4"/><stop offset="0.1133" stop-color="#fcffa4"/><stop offset="0.1214" stop-color="#fcffa4"/><stop offset="0.1295" stop-color="#fcffa4"/><stop offset="0.1376" stop-color="#fcffa4"/><stop offset="0.1457" stop-color="#fcffa4"/><stop offset="0.1537" stop-color="#fcffa4"/><stop offset="0.1618" stop-color="#fcffa4"/><stop offset="0.1699" stop-color="#fcffa4"/><stop offset="0.1780" stop-color="#fcffa4"/><stop offset="0.1861" stop-color="#fcffa4"/><stop offset="0.1942" stop-color="#fcffa4"/><stop offset="0.2023" stop-color="#fcffa4"/><stop offset="0.2104" stop-color="#fcffa4"/><stop offset="0.2185" stop-color="#fcffa4"/><stop offset="0.2266" stop-color="#fcffa4"/><stop offset="0.2347" stop-color="#fcffa4"/><stop offset="0.2428" stop-color="#fcffa4"/><stop offset="0.2508" stop-color="#fcffa4"/><stop offset="0.2589" stop-color="#fcffa4"/><stop offset="0.2591" stop-color="#fcffa4"/><stop offset="0.2645" stop-color="#fcffa4"/><stop offset="0.2670" stop-color="#fcffa4"/><stop offset="0.2712" stop-color="#fcffa4"/><stop offset="0.2751" stop-color="#f1ef75"/><stop offset="0.2793" stop-color="#f7d13d"/><stop offset="0.2832" stop-color="#fac42a"/><stop offset="0.2913" stop-color="#fca80d"/><stop offset="0.2968" stop-color="#fb9706"/><stop offset="0.2994" stop-color="#fa9407"/><stop offset="0.3075" stop-color="#f98c0a"/><stop offset="0.3156" stop-color="#f8850f"/><stop offset="0.3171" stop-color="#f78410"/><stop offset="0.3237" stop-color="#fa9008"/><stop offset="0.3318" stop-color="#fb9d07"/><stop offset="0.3386" stop-color="#fcaa0f"/><stop offset="0.3399" stop-color="#fcae12"/><stop offset="0.3479" stop-color="#fac228"/><stop offset="0.3560" stop-color="#f6d746"/><stop offset="0.3575" stop-color="#f5db4c"/><stop offset="0.3641" stop-color="#f3e55d"/><stop offset="0.3722" stop-color="#f1f179"/><stop offset="0.3777" stop-color="#f3f68a"/><stop offset="0.3803" stop-color="#fcffa4"/><stop offset="0.3858" stop-color="#fcffa4"/><stop offset="0.3884" stop-color="#fcffa4"/><stop offset="0.3926" stop-color="#fcffa4"/><stop offset="0.3965" stop-color="#fcffa4"/><stop offset="0.3966" stop-color="#fcffa4"/><stop offset="0.4046" stop-color="#fcffa4"/><stop offset="0.4127" stop-color="#fcffa4"/><stop offset="0.4208" stop-color="#fcffa4"/><stop offset="0.4289" stop-color="#fcffa4"/><stop offset="0.4370" stop-color="#fcffa4"/><stop offset="0.4450" stop-color="#fcffa4"/><stop offset="0.4531" stop-color="#fcffa4"/><stop offset="0.4612" stop-color="#fcffa4"/><stop offset="0.4693" stop-color="#fcffa4"/><stop offset="0.4774" stop-color="#fcffa4"/><stop offset="0.4816" stop-color="#fcffa4"/><stop offset="0.4855" stop-color="#fcffa4"/><stop offset="0.4856" stop-color="#fcffa4"/><stop offset="0.4897" stop-color="#fcffa4"/><stop offset="0.4936" stop-color="#fcffa4"/><stop offset="0.5017" stop-color="#f9fc9d"/><stop offset="0.5018" stop-color="#f9fc9d"/><stop offset="0.5098" stop-color="#f1ec6d"/><stop offset="0.5179" stop-color="#f6d746"/><stop offset="0.5194" stop-color="#f7d13d"/><stop offset="0.5260" stop-color="#fbb61a"/><stop offset="0.5315" stop-color="#fca108"/><stop offset="0.5341" stop-color="#fb9706"/><stop offset="0.5421" stop-color="#f67e14"/><stop offset="0.5463" stop-color="#f1731d"/><stop offset="0.5502" stop-color="#ee6a24"/><stop offset="0.5583" stop-color="#e45a31"/><stop offset="0.5612" stop-color="#e05536"/><stop offset="0.5664" stop-color="#dd513a"/><stop offset="0.5745" stop-color="#d74b3f"/><stop offset="0.5826" stop-color="#d04545"/><stop offset="0.5868" stop-color="#cc4248"/><stop offset="0.5907" stop-color="#cb4149"/><stop offset="0.5988" stop-color="#c83f4b"/><stop offset="0.6069" stop-color="#c43c4e"/><stop offset="0.6111" stop-color="#c33b4f"/><stop offset="0.6150" stop-color="#c73e4c"/><stop offset="0.6231" stop-color="#ce4347"/><stop offset="0.6312" stop-color="#d54a41"/><stop offset="0.6353" stop-color="#da4e3c"/><stop offset="0.6392" stop-color="#e05536"/><stop offset="0.6473" stop-color="#eb6429"/><stop offset="0.6554" stop-color="#f37819"/><stop offset="0.6610" stop-color="#f78410"/><stop offset="0.6635" stop-color="#f98b0b"/><stop offset="0.6716" stop-color="#fb9d07"/><stop offset="0.6797" stop-color="#fcb014"/><stop offset="0.6852" stop-color="#fbbe23"/><stop offset="0.6878" stop-color="#fac026"/><stop offset="0.6959" stop-color="#f9c72f"/><stop offset="0.7040" stop-color="#f8cd37"/><stop offset="0.7095" stop-color="#f7d13d"/><stop offset="0.7121" stop-color="#f8cf3a"/><stop offset="0.7202" stop-color="#f9c932"/><stop offset="0.7283" stop-color="#fac42a"/><stop offset="0.7351" stop-color="#fbbe23"/><stop offset="0.7363" stop-color="#fbbc21"/><stop offset="0.7444" stop-color="#fcae12"/><stop offset="0.7525" stop-color="#fc9f07"/><stop offset="0.7606" stop-color="#fa9207"/><stop offset="0.7635" stop-color="#f98e09"/><stop offset="0.7687" stop-color="#f78410"/><stop offset="0.7768" stop-color="#f2741c"/><stop offset="0.7849" stop-color="#eb6628"/><stop offset="0.7891" stop-color="#e75e2e"/><stop offset="0.7930" stop-color="#e45a31"/><stop offset="0.8011" stop-color="#db503b"/><stop offset="0.8080" stop-color="#d34743"/><stop offset="0.8092" stop-color="#d34743"/><stop offset="0.8173" stop-color="#cf4446"/><stop offset="0.8254" stop-color="#cb4149"/><stop offset="0.8334" stop-color="#c73e4c"/><stop offset="0.8415" stop-color="#c33b4f"/><stop offset="0.8496" stop-color="#bf3952"/><stop offset="0.8577" stop-color="#bc3754"/><stop offset="0.8579" stop-color="#bc3754"/><stop offset="0.8658" stop-color="#bf3952"/><stop offset="0.8739" stop-color="#c33b4f"/><stop offset="0.8820" stop-color="#c63d4d"/><stop offset="0.8821" stop-color="#c63d4d"/><stop offset="0.8901" stop-color="#cb4149"/><stop offset="0.8982" stop-color="#cf4446"/><stop offset="0.9063" stop-color="#d44842"/><stop offset="0.9144" stop-color="#d84c3e"/><stop offset="0.9172" stop-color="#da4e3c"/><stop offset="0.9225" stop-color="#da4e3c"/><stop offset="0.9305" stop-color="#db503b"/><stop offset="0.9386" stop-color="#dd513a"/><stop offset="0.9467" stop-color="#de5238"/><stop offset="0.9548" stop-color="#df5337"/><stop offset="0.9563" stop-color="#e05536"/><stop offset="0.9629" stop-color="#e05536"/><stop offset="0.9710" stop-color="#e05536"/><stop offset="0.9791" stop-color="#e05536"/><stop offset="0.9872" stop-color="#e05536"/><stop offset="0.9953" stop-color="#e05536"/><stop offset="1.0000" stop-color="#e05536"/><stop offset="1.0008" stop-color="#e05536"/></linearGradient>
<mask id="nmD_c" maskUnits="userSpaceOnUse" x="159.9" y="994.6" width="741.5" height="371"><rect x="159.9" y="994.6" width="741.5" height="371" filter="url(#nD)"/></mask>
<mask id="nmL_c" maskUnits="userSpaceOnUse" x="159.9" y="994.6" width="741.5" height="371"><rect x="159.9" y="994.6" width="741.5" height="371" filter="url(#nL)"/></mask>
<linearGradient id="h1_c" gradientUnits="userSpaceOnUse" x1="159.9" x2="901.4" y1="0" y2="0"><stop offset="0.0000" stop-color="#fcffa4"/><stop offset="0.0001" stop-color="#fcffa4"/><stop offset="0.0081" stop-color="#fcffa4"/><stop offset="0.0162" stop-color="#fcffa4"/><stop offset="0.0243" stop-color="#fcffa4"/><stop offset="0.0324" stop-color="#fcffa4"/><stop offset="0.0405" stop-color="#fcffa4"/><stop offset="0.0486" stop-color="#fcffa4"/><stop offset="0.0566" stop-color="#fcffa4"/><stop offset="0.0647" stop-color="#fcffa4"/><stop offset="0.0728" stop-color="#fcffa4"/><stop offset="0.0809" stop-color="#fcffa4"/><stop offset="0.0890" stop-color="#fcffa4"/><stop offset="0.0971" stop-color="#fcffa4"/><stop offset="0.1052" stop-color="#fcffa4"/><stop offset="0.1133" stop-color="#fcffa4"/><stop offset="0.1214" stop-color="#fcffa4"/><stop offset="0.1295" stop-color="#fcffa4"/><stop offset="0.1376" stop-color="#fcffa4"/><stop offset="0.1457" stop-color="#fcffa4"/><stop offset="0.1537" stop-color="#fcffa4"/><stop offset="0.1618" stop-color="#fcffa4"/><stop offset="0.1699" stop-color="#fcffa4"/><stop offset="0.1780" stop-color="#fcffa4"/><stop offset="0.1861" stop-color="#fcffa4"/><stop offset="0.1942" stop-color="#fcffa4"/><stop offset="0.2023" stop-color="#fcffa4"/><stop offset="0.2104" stop-color="#fcffa4"/><stop offset="0.2185" stop-color="#fcffa4"/><stop offset="0.2266" stop-color="#fcffa4"/><stop offset="0.2347" stop-color="#fcffa4"/><stop offset="0.2428" stop-color="#fcffa4"/><stop offset="0.2508" stop-color="#fcffa4"/><stop offset="0.2589" stop-color="#fcffa4"/><stop offset="0.2591" stop-color="#fcffa4"/><stop offset="0.2645" stop-color="#fcffa4"/><stop offset="0.2670" stop-color="#fcffa4"/><stop offset="0.2712" stop-color="#fcffa4"/><stop offset="0.2751" stop-color="#fcffa4"/><stop offset="0.2793" stop-color="#f2ea69"/><stop offset="0.2832" stop-color="#f4dd4f"/><stop offset="0.2913" stop-color="#fac228"/><stop offset="0.2968" stop-color="#fcae12"/><stop offset="0.2994" stop-color="#fcac11"/><stop offset="0.3075" stop-color="#fca50a"/><stop offset="0.3156" stop-color="#fb9d07"/><stop offset="0.3171" stop-color="#fb9b06"/><stop offset="0.3237" stop-color="#fca60c"/><stop offset="0.3318" stop-color="#fbb61a"/><stop offset="0.3386" stop-color="#fac42a"/><stop offset="0.3399" stop-color="#fac62d"/><stop offset="0.3479" stop-color="#f5db4c"/><stop offset="0.3560" stop-color="#f1ef75"/><stop offset="0.3575" stop-color="#f2f27d"/><stop offset="0.3641" stop-color="#f5f992"/><stop offset="0.3722" stop-color="#fcffa4"/><stop offset="0.3777" stop-color="#fcffa4"/><stop offset="0.3803" stop-color="#fcffa4"/><stop offset="0.3858" stop-color="#fcffa4"/><stop offset="0.3884" stop-color="#fcffa4"/><stop offset="0.3926" stop-color="#fcffa4"/><stop offset="0.3965" stop-color="#fcffa4"/><stop offset="0.3966" stop-color="#fcffa4"/><stop offset="0.4046" stop-color="#fcffa4"/><stop offset="0.4127" stop-color="#fcffa4"/><stop offset="0.4208" stop-color="#fcffa4"/><stop offset="0.4289" stop-color="#fcffa4"/><stop offset="0.4370" stop-color="#fcffa4"/><stop offset="0.4450" stop-color="#fcffa4"/><stop offset="0.4531" stop-color="#fcffa4"/><stop offset="0.4612" stop-color="#fcffa4"/><stop offset="0.4693" stop-color="#fcffa4"/><stop offset="0.4774" stop-color="#fcffa4"/><stop offset="0.4816" stop-color="#fcffa4"/><stop offset="0.4855" stop-color="#fcffa4"/><stop offset="0.4856" stop-color="#fcffa4"/><stop offset="0.4897" stop-color="#fcffa4"/><stop offset="0.4936" stop-color="#fcffa4"/><stop offset="0.5017" stop-color="#fcffa4"/><stop offset="0.5018" stop-color="#fcffa4"/><stop offset="0.5098" stop-color="#fafda1"/><stop offset="0.5179" stop-color="#f1ed71"/><stop offset="0.5194" stop-color="#f2ea69"/><stop offset="0.5260" stop-color="#f8cf3a"/><stop offset="0.5315" stop-color="#fbba1f"/><stop offset="0.5341" stop-color="#fcb014"/><stop offset="0.5421" stop-color="#fb9606"/><stop offset="0.5463" stop-color="#f8890c"/><stop offset="0.5502" stop-color="#f68013"/><stop offset="0.5583" stop-color="#ef6c23"/><stop offset="0.5612" stop-color="#eb6628"/><stop offset="0.5664" stop-color="#e9612b"/><stop offset="0.5745" stop-color="#e45a31"/><stop offset="0.5826" stop-color="#e05536"/><stop offset="0.5868" stop-color="#dd513a"/><stop offset="0.5907" stop-color="#db503b"/><stop offset="0.5988" stop-color="#d84c3e"/><stop offset="0.6069" stop-color="#d54a41"/><stop offset="0.6111" stop-color="#d34743"/><stop offset="0.6150" stop-color="#d74b3f"/><stop offset="0.6231" stop-color="#de5238"/><stop offset="0.6312" stop-color="#e45a31"/><stop offset="0.6353" stop-color="#e75e2e"/><stop offset="0.6392" stop-color="#ec6726"/><stop offset="0.6473" stop-color="#f47918"/><stop offset="0.6554" stop-color="#f98c0a"/><stop offset="0.6610" stop-color="#fb9b06"/><stop offset="0.6635" stop-color="#fca108"/><stop offset="0.6716" stop-color="#fbb61a"/><stop offset="0.6797" stop-color="#f9c932"/><stop offset="0.6852" stop-color="#f6d746"/><stop offset="0.6878" stop-color="#f5d949"/><stop offset="0.6959" stop-color="#f4df53"/><stop offset="0.7040" stop-color="#f2e661"/><stop offset="0.7095" stop-color="#f2ea69"/><stop offset="0.7121" stop-color="#f2e865"/><stop offset="0.7202" stop-color="#f3e35a"/><stop offset="0.7283" stop-color="#f4dd4f"/><stop offset="0.7351" stop-color="#f6d746"/><stop offset="0.7363" stop-color="#f6d543"/><stop offset="0.7444" stop-color="#fac62d"/><stop offset="0.7525" stop-color="#fbb81d"/><stop offset="0.7606" stop-color="#fcaa0f"/><stop offset="0.7635" stop-color="#fca50a"/><stop offset="0.7687" stop-color="#fb9b06"/><stop offset="0.7768" stop-color="#f98b0b"/><stop offset="0.7849" stop-color="#f57b17"/><stop offset="0.7891" stop-color="#f1731d"/><stop offset="0.7930" stop-color="#ef6c23"/><stop offset="0.8011" stop-color="#e9612b"/><stop offset="0.8080" stop-color="#e25734"/><stop offset="0.8092" stop-color="#e25734"/><stop offset="0.8173" stop-color="#df5337"/><stop offset="0.8254" stop-color="#db503b"/><stop offset="0.8334" stop-color="#d84c3e"/><stop offset="0.8415" stop-color="#d44842"/><stop offset="0.8496" stop-color="#d04545"/><stop offset="0.8577" stop-color="#cc4248"/><stop offset="0.8579" stop-color="#cc4248"/><stop offset="0.8658" stop-color="#d04545"/><stop offset="0.8739" stop-color="#d34743"/><stop offset="0.8820" stop-color="#d74b3f"/><stop offset="0.8821" stop-color="#d74b3f"/><stop offset="0.8901" stop-color="#da4e3c"/><stop offset="0.8982" stop-color="#df5337"/><stop offset="0.9063" stop-color="#e35933"/><stop offset="0.9144" stop-color="#e65d2f"/><stop offset="0.9172" stop-color="#e75e2e"/><stop offset="0.9225" stop-color="#e8602d"/><stop offset="0.9305" stop-color="#e9612b"/><stop offset="0.9386" stop-color="#ea632a"/><stop offset="0.9467" stop-color="#eb6429"/><stop offset="0.9548" stop-color="#eb6628"/><stop offset="0.9563" stop-color="#eb6628"/><stop offset="0.9629" stop-color="#eb6628"/><stop offset="0.9710" stop-color="#eb6628"/><stop offset="0.9791" stop-color="#eb6628"/><stop offset="0.9872" stop-color="#eb6628"/><stop offset="0.9953" stop-color="#eb6628"/><stop offset="1.0000" stop-color="#eb6628"/><stop offset="1.0008" stop-color="#eb6628"/></linearGradient>
<linearGradient id="h2_c" gradientUnits="userSpaceOnUse" x1="159.9" x2="901.4" y1="0" y2="0"><stop offset="0.0000" stop-color="#fcffa4"/><stop offset="0.0001" stop-color="#fcffa4"/><stop offset="0.0081" stop-color="#fcffa4"/><stop offset="0.0162" stop-color="#fcffa4"/><stop offset="0.0243" stop-color="#fcffa4"/><stop offset="0.0324" stop-color="#fcffa4"/><stop offset="0.0405" stop-color="#fcffa4"/><stop offset="0.0486" stop-color="#fcffa4"/><stop offset="0.0566" stop-color="#fcffa4"/><stop offset="0.0647" stop-color="#fcffa4"/><stop offset="0.0728" stop-color="#fcffa4"/><stop offset="0.0809" stop-color="#fcffa4"/><stop offset="0.0890" stop-color="#fcffa4"/><stop offset="0.0971" stop-color="#fcffa4"/><stop offset="0.1052" stop-color="#fcffa4"/><stop offset="0.1133" stop-color="#fcffa4"/><stop offset="0.1214" stop-color="#fcffa4"/><stop offset="0.1295" stop-color="#fcffa4"/><stop offset="0.1376" stop-color="#fcffa4"/><stop offset="0.1457" stop-color="#fcffa4"/><stop offset="0.1537" stop-color="#fcffa4"/><stop offset="0.1618" stop-color="#fcffa4"/><stop offset="0.1699" stop-color="#fcffa4"/><stop offset="0.1780" stop-color="#fcffa4"/><stop offset="0.1861" stop-color="#fcffa4"/><stop offset="0.1942" stop-color="#fcffa4"/><stop offset="0.2023" stop-color="#fcffa4"/><stop offset="0.2104" stop-color="#fcffa4"/><stop offset="0.2185" stop-color="#fcffa4"/><stop offset="0.2266" stop-color="#fcffa4"/><stop offset="0.2347" stop-color="#fcffa4"/><stop offset="0.2428" stop-color="#fcffa4"/><stop offset="0.2508" stop-color="#fcffa4"/><stop offset="0.2589" stop-color="#fcffa4"/><stop offset="0.2591" stop-color="#fcffa4"/><stop offset="0.2645" stop-color="#fcffa4"/><stop offset="0.2670" stop-color="#fcffa4"/><stop offset="0.2712" stop-color="#fcffa4"/><stop offset="0.2751" stop-color="#fcffa4"/><stop offset="0.2793" stop-color="#fcffa4"/><stop offset="0.2832" stop-color="#fcffa4"/><stop offset="0.2913" stop-color="#fcffa4"/><stop offset="0.2968" stop-color="#fcffa4"/><stop offset="0.2994" stop-color="#fcffa4"/><stop offset="0.3075" stop-color="#fcffa4"/><stop offset="0.3156" stop-color="#fcffa4"/><stop offset="0.3171" stop-color="#fcffa4"/><stop offset="0.3237" stop-color="#fcffa4"/><stop offset="0.3318" stop-color="#fcffa4"/><stop offset="0.3386" stop-color="#fcffa4"/><stop offset="0.3399" stop-color="#fcffa4"/><stop offset="0.3479" stop-color="#fcffa4"/><stop offset="0.3560" stop-color="#fcffa4"/><stop offset="0.3575" stop-color="#fcffa4"/><stop offset="0.3641" stop-color="#fcffa4"/><stop offset="0.3722" stop-color="#fcffa4"/><stop offset="0.3777" stop-color="#fcffa4"/><stop offset="0.3803" stop-color="#fcffa4"/><stop offset="0.3858" stop-color="#fcffa4"/><stop offset="0.3884" stop-color="#fcffa4"/><stop offset="0.3926" stop-color="#fcffa4"/><stop offset="0.3965" stop-color="#fcffa4"/><stop offset="0.3966" stop-color="#fcffa4"/><stop offset="0.4046" stop-color="#fcffa4"/><stop offset="0.4127" stop-color="#fcffa4"/><stop offset="0.4208" stop-color="#fcffa4"/><stop offset="0.4289" stop-color="#fcffa4"/><stop offset="0.4370" stop-color="#fcffa4"/><stop offset="0.4450" stop-color="#fcffa4"/><stop offset="0.4531" stop-color="#fcffa4"/><stop offset="0.4612" stop-color="#fcffa4"/><stop offset="0.4693" stop-color="#fcffa4"/><stop offset="0.4774" stop-color="#fcffa4"/><stop offset="0.4816" stop-color="#fcffa4"/><stop offset="0.4855" stop-color="#fcffa4"/><stop offset="0.4856" stop-color="#fcffa4"/><stop offset="0.4897" stop-color="#fcffa4"/><stop offset="0.4936" stop-color="#fcffa4"/><stop offset="0.5017" stop-color="#fcffa4"/><stop offset="0.5018" stop-color="#fcffa4"/><stop offset="0.5098" stop-color="#fcffa4"/><stop offset="0.5179" stop-color="#fcffa4"/><stop offset="0.5194" stop-color="#fcffa4"/><stop offset="0.5260" stop-color="#fcffa4"/><stop offset="0.5315" stop-color="#fcffa4"/><stop offset="0.5341" stop-color="#fcffa4"/><stop offset="0.5421" stop-color="#f8fb9a"/><stop offset="0.5463" stop-color="#f2f27d"/><stop offset="0.5502" stop-color="#f2ea69"/><stop offset="0.5583" stop-color="#f6d543"/><stop offset="0.5612" stop-color="#f8cd37"/><stop offset="0.5664" stop-color="#f9c72f"/><stop offset="0.5745" stop-color="#fbbe23"/><stop offset="0.5826" stop-color="#fcb418"/><stop offset="0.5868" stop-color="#fcae12"/><stop offset="0.5907" stop-color="#fcac11"/><stop offset="0.5988" stop-color="#fca80d"/><stop offset="0.6069" stop-color="#fca309"/><stop offset="0.6111" stop-color="#fca108"/><stop offset="0.6150" stop-color="#fca60c"/><stop offset="0.6231" stop-color="#fcb216"/><stop offset="0.6312" stop-color="#fbbe23"/><stop offset="0.6353" stop-color="#fac42a"/><stop offset="0.6392" stop-color="#f8cd37"/><stop offset="0.6473" stop-color="#f3e35a"/><stop offset="0.6554" stop-color="#f3f68a"/><stop offset="0.6610" stop-color="#fcffa4"/><stop offset="0.6635" stop-color="#fcffa4"/><stop offset="0.6716" stop-color="#fcffa4"/><stop offset="0.6797" stop-color="#fcffa4"/><stop offset="0.6852" stop-color="#fcffa4"/><stop offset="0.6878" stop-color="#fcffa4"/><stop offset="0.6959" stop-color="#fcffa4"/><stop offset="0.7040" stop-color="#fcffa4"/><stop offset="0.7095" stop-color="#fcffa4"/><stop offset="0.7121" stop-color="#fcffa4"/><stop offset="0.7202" stop-color="#fcffa4"/><stop offset="0.7283" stop-color="#fcffa4"/><stop offset="0.7351" stop-color="#fcffa4"/><stop offset="0.7363" stop-color="#fcffa4"/><stop offset="0.7444" stop-color="#fcffa4"/><stop offset="0.7525" stop-color="#fcffa4"/><stop offset="0.7606" stop-color="#fcffa4"/><stop offset="0.7635" stop-color="#fcffa4"/><stop offset="0.7687" stop-color="#fcffa4"/><stop offset="0.7768" stop-color="#f2f482"/><stop offset="0.7849" stop-color="#f3e55d"/><stop offset="0.7891" stop-color="#f5db4c"/><stop offset="0.7930" stop-color="#f6d543"/><stop offset="0.8011" stop-color="#fac62d"/><stop offset="0.8080" stop-color="#fbba1f"/><stop offset="0.8092" stop-color="#fbb81d"/><stop offset="0.8173" stop-color="#fcb216"/><stop offset="0.8254" stop-color="#fcac11"/><stop offset="0.8334" stop-color="#fca60c"/><stop offset="0.8415" stop-color="#fca108"/><stop offset="0.8496" stop-color="#fb9d07"/><stop offset="0.8577" stop-color="#fb9706"/><stop offset="0.8579" stop-color="#fb9706"/><stop offset="0.8658" stop-color="#fb9b06"/><stop offset="0.8739" stop-color="#fca108"/><stop offset="0.8820" stop-color="#fca50a"/><stop offset="0.8821" stop-color="#fca50a"/><stop offset="0.8901" stop-color="#fcac11"/><stop offset="0.8982" stop-color="#fcb216"/><stop offset="0.9063" stop-color="#fbba1f"/><stop offset="0.9144" stop-color="#fac026"/><stop offset="0.9172" stop-color="#fac42a"/><stop offset="0.9225" stop-color="#fac42a"/><stop offset="0.9305" stop-color="#fac62d"/><stop offset="0.9386" stop-color="#f9c72f"/><stop offset="0.9467" stop-color="#f9cb35"/><stop offset="0.9548" stop-color="#f8cd37"/><stop offset="0.9563" stop-color="#f8cd37"/><stop offset="0.9629" stop-color="#f8cd37"/><stop offset="0.9710" stop-color="#f8cd37"/><stop offset="0.9791" stop-color="#f8cd37"/><stop offset="0.9872" stop-color="#f8cd37"/><stop offset="0.9953" stop-color="#f8cd37"/><stop offset="1.0000" stop-color="#f8cd37"/><stop offset="1.0008" stop-color="#f8cd37"/></linearGradient>
<clipPath id="p_c"><rect x="159.9" y="1365.6" width="741.5" height="369.6"/></clipPath>
<linearGradient id="g_d" gradientUnits="userSpaceOnUse" x1="1252.7" x2="1994.2" y1="0" y2="0"><stop offset="0.0000" stop-color="#fcffa4"/><stop offset="0.0004" stop-color="#fcffa4"/><stop offset="0.0081" stop-color="#fcffa4"/><stop offset="0.0162" stop-color="#fcffa4"/><stop offset="0.0243" stop-color="#fcffa4"/><stop offset="0.0324" stop-color="#fcffa4"/><stop offset="0.0405" stop-color="#fcffa4"/><stop offset="0.0486" stop-color="#fcffa4"/><stop offset="0.0566" stop-color="#fcffa4"/><stop offset="0.0647" stop-color="#fcffa4"/><stop offset="0.0728" stop-color="#fcffa4"/><stop offset="0.0809" stop-color="#fcffa4"/><stop offset="0.0890" stop-color="#fcffa4"/><stop offset="0.0971" stop-color="#fcffa4"/><stop offset="0.1052" stop-color="#fcffa4"/><stop offset="0.1133" stop-color="#fcffa4"/><stop offset="0.1214" stop-color="#fcffa4"/><stop offset="0.1295" stop-color="#fcffa4"/><stop offset="0.1376" stop-color="#fcffa4"/><stop offset="0.1457" stop-color="#fcffa4"/><stop offset="0.1537" stop-color="#fcffa4"/><stop offset="0.1618" stop-color="#fcffa4"/><stop offset="0.1699" stop-color="#fcffa4"/><stop offset="0.1780" stop-color="#fcffa4"/><stop offset="0.1861" stop-color="#fcffa4"/><stop offset="0.1942" stop-color="#fcffa4"/><stop offset="0.2023" stop-color="#fcffa4"/><stop offset="0.2104" stop-color="#fcffa4"/><stop offset="0.2185" stop-color="#fcffa4"/><stop offset="0.2266" stop-color="#fcffa4"/><stop offset="0.2347" stop-color="#fcffa4"/><stop offset="0.2428" stop-color="#fcffa4"/><stop offset="0.2508" stop-color="#fcffa4"/><stop offset="0.2589" stop-color="#fcffa4"/><stop offset="0.2670" stop-color="#fcffa4"/><stop offset="0.2751" stop-color="#fcffa4"/><stop offset="0.2832" stop-color="#fcffa4"/><stop offset="0.2913" stop-color="#fcffa4"/><stop offset="0.2994" stop-color="#fcffa4"/><stop offset="0.3075" stop-color="#fcffa4"/><stop offset="0.3079" stop-color="#fcffa4"/><stop offset="0.3119" stop-color="#f6d746"/><stop offset="0.3156" stop-color="#fcb216"/><stop offset="0.3200" stop-color="#f8890c"/><stop offset="0.3237" stop-color="#f8870e"/><stop offset="0.3318" stop-color="#f68013"/><stop offset="0.3399" stop-color="#f57b17"/><stop offset="0.3470" stop-color="#f37819"/><stop offset="0.3479" stop-color="#f3761b"/><stop offset="0.3560" stop-color="#f06f20"/><stop offset="0.3605" stop-color="#ee6a24"/><stop offset="0.3641" stop-color="#ef6c23"/><stop offset="0.3722" stop-color="#ef6e21"/><stop offset="0.3803" stop-color="#f1711f"/><stop offset="0.3875" stop-color="#f1731d"/><stop offset="0.3884" stop-color="#f1731d"/><stop offset="0.3965" stop-color="#f37819"/><stop offset="0.4046" stop-color="#f57b17"/><stop offset="0.4127" stop-color="#f67e14"/><stop offset="0.4144" stop-color="#f68013"/><stop offset="0.4208" stop-color="#fb9d07"/><stop offset="0.4225" stop-color="#fca50a"/><stop offset="0.4289" stop-color="#f8fb9a"/><stop offset="0.4293" stop-color="#fcffa4"/><stop offset="0.4333" stop-color="#fcffa4"/><stop offset="0.4370" stop-color="#fcffa4"/><stop offset="0.4450" stop-color="#fcffa4"/><stop offset="0.4531" stop-color="#fcffa4"/><stop offset="0.4612" stop-color="#fcffa4"/><stop offset="0.4693" stop-color="#fcffa4"/><stop offset="0.4774" stop-color="#fcffa4"/><stop offset="0.4855" stop-color="#fcffa4"/><stop offset="0.4936" stop-color="#fcffa4"/><stop offset="0.5017" stop-color="#fcffa4"/><stop offset="0.5098" stop-color="#fcffa4"/><stop offset="0.5179" stop-color="#fcffa4"/><stop offset="0.5260" stop-color="#fcffa4"/><stop offset="0.5341" stop-color="#fcffa4"/><stop offset="0.5421" stop-color="#fcffa4"/><stop offset="0.5502" stop-color="#fcffa4"/><stop offset="0.5583" stop-color="#fcffa4"/><stop offset="0.5664" stop-color="#fcffa4"/><stop offset="0.5745" stop-color="#fcffa4"/><stop offset="0.5826" stop-color="#fcffa4"/><stop offset="0.5907" stop-color="#fcffa4"/><stop offset="0.5951" stop-color="#fcffa4"/><stop offset="0.5988" stop-color="#fcffa4"/><stop offset="0.6005" stop-color="#f1ef75"/><stop offset="0.6069" stop-color="#f9c932"/><stop offset="0.6086" stop-color="#fbbe23"/><stop offset="0.6150" stop-color="#fb9b06"/><stop offset="0.6167" stop-color="#fa9207"/><stop offset="0.6231" stop-color="#f78410"/><stop offset="0.6312" stop-color="#f1731d"/><stop offset="0.6370" stop-color="#eb6628"/><stop offset="0.6392" stop-color="#e9612b"/><stop offset="0.6473" stop-color="#df5337"/><stop offset="0.6554" stop-color="#d24644"/><stop offset="0.6599" stop-color="#ca404a"/><stop offset="0.6635" stop-color="#c63d4d"/><stop offset="0.6716" stop-color="#bc3754"/><stop offset="0.6797" stop-color="#b1325a"/><stop offset="0.6842" stop-color="#ab2f5e"/><stop offset="0.6878" stop-color="#a92e5e"/><stop offset="0.6959" stop-color="#a62d60"/><stop offset="0.7040" stop-color="#a32c61"/><stop offset="0.7121" stop-color="#a02a63"/><stop offset="0.7202" stop-color="#9d2964"/><stop offset="0.7246" stop-color="#9b2964"/><stop offset="0.7283" stop-color="#9d2964"/><stop offset="0.7363" stop-color="#a02a63"/><stop offset="0.7444" stop-color="#a52c60"/><stop offset="0.7516" stop-color="#a82e5f"/><stop offset="0.7525" stop-color="#a92e5e"/><stop offset="0.7606" stop-color="#bf3952"/><stop offset="0.7637" stop-color="#c63d4d"/><stop offset="0.7687" stop-color="#cf4446"/><stop offset="0.7768" stop-color="#db503b"/><stop offset="0.7849" stop-color="#e75e2e"/><stop offset="0.7853" stop-color="#e75e2e"/><stop offset="0.7930" stop-color="#ef6e21"/><stop offset="0.8011" stop-color="#f67e14"/><stop offset="0.8042" stop-color="#f78410"/><stop offset="0.8092" stop-color="#f8890c"/><stop offset="0.8173" stop-color="#f98e09"/><stop offset="0.8254" stop-color="#fb9606"/><stop offset="0.8325" stop-color="#fb9b06"/><stop offset="0.8334" stop-color="#fb9b06"/><stop offset="0.8415" stop-color="#fb9b06"/><stop offset="0.8496" stop-color="#fb9b06"/><stop offset="0.8577" stop-color="#fb9b06"/><stop offset="0.8595" stop-color="#fb9b06"/><stop offset="0.8658" stop-color="#fa9207"/><stop offset="0.8739" stop-color="#f78410"/><stop offset="0.8820" stop-color="#f37819"/><stop offset="0.8824" stop-color="#f37819"/><stop offset="0.8901" stop-color="#ec6726"/><stop offset="0.8982" stop-color="#e35933"/><stop offset="0.9063" stop-color="#d74b3f"/><stop offset="0.9067" stop-color="#d74b3f"/><stop offset="0.9144" stop-color="#cb4149"/><stop offset="0.9225" stop-color="#bd3853"/><stop offset="0.9305" stop-color="#ae305c"/><stop offset="0.9323" stop-color="#ab2f5e"/><stop offset="0.9386" stop-color="#a62d60"/><stop offset="0.9467" stop-color="#a22b62"/><stop offset="0.9548" stop-color="#9b2964"/><stop offset="0.9629" stop-color="#972766"/><stop offset="0.9674" stop-color="#932667"/><stop offset="0.9710" stop-color="#922568"/><stop offset="0.9791" stop-color="#8c2369"/><stop offset="0.9872" stop-color="#87216b"/><stop offset="0.9953" stop-color="#82206c"/><stop offset="1.0000" stop-color="#801f6c"/><stop offset="1.0011" stop-color="#7f1e6c"/></linearGradient>
<linearGradient id="m_d" gradientUnits="userSpaceOnUse" x1="1252.7" x2="1994.2" y1="0" y2="0"><stop offset="0.0000" stop-color="#fff" stop-opacity="0.00"/><stop offset="0.0004" stop-color="#fff" stop-opacity="0.00"/><stop offset="0.0081" stop-color="#fff" stop-opacity="0.00"/><stop offset="0.0162" stop-color="#fff" stop-opacity="0.00"/><stop offset="0.0243" stop-color="#fff" stop-opacity="0.00"/><stop offset="0.0324" stop-color="#fff" stop-opacity="0.00"/><stop offset="0.0405" stop-color="#fff" stop-opacity="0.00"/><stop offset="0.0486" stop-color="#fff" stop-opacity="0.00"/><stop offset="0.0566" stop-color="#fff" stop-opacity="0.00"/><stop offset="0.0647" stop-color="#fff" stop-opacity="0.00"/><stop offset="0.0728" stop-color="#fff" stop-opacity="0.00"/><stop offset="0.0809" stop-color="#fff" stop-opacity="0.00"/><stop offset="0.0890" stop-color="#fff" stop-opacity="0.00"/><stop offset="0.0971" stop-color="#fff" stop-opacity="0.00"/><stop offset="0.1052" stop-color="#fff" stop-opacity="0.00"/><stop offset="0.1133" stop-color="#fff" stop-opacity="0.00"/><stop offset="0.1214" stop-color="#fff" stop-opacity="0.00"/><stop offset="0.1295" stop-color="#fff" stop-opacity="0.00"/><stop offset="0.1376" stop-color="#fff" stop-opacity="0.00"/><stop offset="0.1457" stop-color="#fff" stop-opacity="0.00"/><stop offset="0.1537" stop-color="#fff" stop-opacity="0.00"/><stop offset="0.1618" stop-color="#fff" stop-opacity="0.00"/><stop offset="0.1699" stop-color="#fff" stop-opacity="0.00"/><stop offset="0.1780" stop-color="#fff" stop-opacity="0.00"/><stop offset="0.1861" stop-color="#fff" stop-opacity="0.00"/><stop offset="0.1942" stop-color="#fff" stop-opacity="0.00"/><stop offset="0.2023" stop-color="#fff" stop-opacity="0.00"/><stop offset="0.2104" stop-color="#fff" stop-opacity="0.00"/><stop offset="0.2185" stop-color="#fff" stop-opacity="0.00"/><stop offset="0.2266" stop-color="#fff" stop-opacity="0.00"/><stop offset="0.2347" stop-color="#fff" stop-opacity="0.00"/><stop offset="0.2428" stop-color="#fff" stop-opacity="0.00"/><stop offset="0.2508" stop-color="#fff" stop-opacity="0.00"/><stop offset="0.2589" stop-color="#fff" stop-opacity="0.00"/><stop offset="0.2670" stop-color="#fff" stop-opacity="0.00"/><stop offset="0.2751" stop-color="#fff" stop-opacity="0.00"/><stop offset="0.2832" stop-color="#fff" stop-opacity="0.00"/><stop offset="0.2913" stop-color="#fff" stop-opacity="0.00"/><stop offset="0.2994" stop-color="#fff" stop-opacity="0.00"/><stop offset="0.3075" stop-color="#fff" stop-opacity="0.00"/><stop offset="0.3079" stop-color="#fff" stop-opacity="0.00"/><stop offset="0.3119" stop-color="#fff" stop-opacity="0.60"/><stop offset="0.3156" stop-color="#fff" stop-opacity="0.96"/><stop offset="0.3200" stop-color="#fff" stop-opacity="1.00"/><stop offset="0.3237" stop-color="#fff" stop-opacity="1.00"/><stop offset="0.3318" stop-color="#fff" stop-opacity="1.00"/><stop offset="0.3399" stop-color="#fff" stop-opacity="1.00"/><stop offset="0.3470" stop-color="#fff" stop-opacity="1.00"/><stop offset="0.3479" stop-color="#fff" stop-opacity="1.00"/><stop offset="0.3560" stop-color="#fff" stop-opacity="1.00"/><stop offset="0.3605" stop-color="#fff" stop-opacity="1.00"/><stop offset="0.3641" stop-color="#fff" stop-opacity="1.00"/><stop offset="0.3722" stop-color="#fff" stop-opacity="1.00"/><stop offset="0.3803" stop-color="#fff" stop-opacity="1.00"/><stop offset="0.3875" stop-color="#fff" stop-opacity="1.00"/><stop offset="0.3884" stop-color="#fff" stop-opacity="1.00"/><stop offset="0.3965" stop-color="#fff" stop-opacity="1.00"/><stop offset="0.4046" stop-color="#fff" stop-opacity="1.00"/><stop offset="0.4127" stop-color="#fff" stop-opacity="1.00"/><stop offset="0.4144" stop-color="#fff" stop-opacity="1.00"/><stop offset="0.4208" stop-color="#fff" stop-opacity="1.00"/><stop offset="0.4225" stop-color="#fff" stop-opacity="1.00"/><stop offset="0.4289" stop-color="#fff" stop-opacity="0.16"/><stop offset="0.4293" stop-color="#fff" stop-opacity="0.10"/><stop offset="0.4333" stop-color="#fff" stop-opacity="0.00"/><stop offset="0.4370" stop-color="#fff" stop-opacity="0.00"/><stop offset="0.4450" stop-color="#fff" stop-opacity="0.00"/><stop offset="0.4531" stop-color="#fff" stop-opacity="0.00"/><stop offset="0.4612" stop-color="#fff" stop-opacity="0.00"/><stop offset="0.4693" stop-color="#fff" stop-opacity="0.00"/><stop offset="0.4774" stop-color="#fff" stop-opacity="0.00"/><stop offset="0.4855" stop-color="#fff" stop-opacity="0.00"/><stop offset="0.4936" stop-color="#fff" stop-opacity="0.00"/><stop offset="0.5017" stop-color="#fff" stop-opacity="0.00"/><stop offset="0.5098" stop-color="#fff" stop-opacity="0.00"/><stop offset="0.5179" stop-color="#fff" stop-opacity="0.00"/><stop offset="0.5260" stop-color="#fff" stop-opacity="0.00"/><stop offset="0.5341" stop-color="#fff" stop-opacity="0.00"/><stop offset="0.5421" stop-color="#fff" stop-opacity="0.00"/><stop offset="0.5502" stop-color="#fff" stop-opacity="0.00"/><stop offset="0.5583" stop-color="#fff" stop-opacity="0.00"/><stop offset="0.5664" stop-color="#fff" stop-opacity="0.00"/><stop offset="0.5745" stop-color="#fff" stop-opacity="0.00"/><stop offset="0.5826" stop-color="#fff" stop-opacity="0.00"/><stop offset="0.5907" stop-color="#fff" stop-opacity="0.00"/><stop offset="0.5951" stop-color="#fff" stop-opacity="0.00"/><stop offset="0.5988" stop-color="#fff" stop-opacity="0.00"/><stop offset="0.6005" stop-color="#fff" stop-opacity="0.35"/><stop offset="0.6069" stop-color="#fff" stop-opacity="0.74"/><stop offset="0.6086" stop-color="#fff" stop-opacity="0.85"/><stop offset="0.6150" stop-color="#fff" stop-opacity="1.00"/><stop offset="0.6167" stop-color="#fff" stop-opacity="1.00"/><stop offset="0.6231" stop-color="#fff" stop-opacity="1.00"/><stop offset="0.6312" stop-color="#fff" stop-opacity="1.00"/><stop offset="0.6370" stop-color="#fff" stop-opacity="1.00"/><stop offset="0.6392" stop-color="#fff" stop-opacity="1.00"/><stop offset="0.6473" stop-color="#fff" stop-opacity="1.00"/><stop offset="0.6554" stop-color="#fff" stop-opacity="1.00"/><stop offset="0.6599" stop-color="#fff" stop-opacity="1.00"/><stop offset="0.6635" stop-color="#fff" stop-opacity="1.00"/><stop offset="0.6716" stop-color="#fff" stop-opacity="1.00"/><stop offset="0.6797" stop-color="#fff" stop-opacity="1.00"/><stop offset="0.6842" stop-color="#fff" stop-opacity="1.00"/><stop offset="0.6878" stop-color="#fff" stop-opacity="1.00"/><stop offset="0.6959" stop-color="#fff" stop-opacity="1.00"/><stop offset="0.7040" stop-color="#fff" stop-opacity="1.00"/><stop offset="0.7121" stop-color="#fff" stop-opacity="1.00"/><stop offset="0.7202" stop-color="#fff" stop-opacity="1.00"/><stop offset="0.7246" stop-color="#fff" stop-opacity="1.00"/><stop offset="0.7283" stop-color="#fff" stop-opacity="1.00"/><stop offset="0.7363" stop-color="#fff" stop-opacity="1.00"/><stop offset="0.7444" stop-color="#fff" stop-opacity="1.00"/><stop offset="0.7516" stop-color="#fff" stop-opacity="1.00"/><stop offset="0.7525" stop-color="#fff" stop-opacity="1.00"/><stop offset="0.7606" stop-color="#fff" stop-opacity="1.00"/><stop offset="0.7637" stop-color="#fff" stop-opacity="1.00"/><stop offset="0.7687" stop-color="#fff" stop-opacity="1.00"/><stop offset="0.7768" stop-color="#fff" stop-opacity="1.00"/><stop offset="0.7849" stop-color="#fff" stop-opacity="1.00"/><stop offset="0.7853" stop-color="#fff" stop-opacity="1.00"/><stop offset="0.7930" stop-color="#fff" stop-opacity="1.00"/><stop offset="0.8011" stop-color="#fff" stop-opacity="1.00"/><stop offset="0.8042" stop-color="#fff" stop-opacity="1.00"/><stop offset="0.8092" stop-color="#fff" stop-opacity="1.00"/><stop offset="0.8173" stop-color="#fff" stop-opacity="1.00"/><stop offset="0.8254" stop-color="#fff" stop-opacity="1.00"/><stop offset="0.8325" stop-color="#fff" stop-opacity="1.00"/><stop offset="0.8334" stop-color="#fff" stop-opacity="1.00"/><stop offset="0.8415" stop-color="#fff" stop-opacity="1.00"/><stop offset="0.8496" stop-color="#fff" stop-opacity="1.00"/><stop offset="0.8577" stop-color="#fff" stop-opacity="1.00"/><stop offset="0.8595" stop-color="#fff" stop-opacity="1.00"/><stop offset="0.8658" stop-color="#fff" stop-opacity="1.00"/><stop offset="0.8739" stop-color="#fff" stop-opacity="1.00"/><stop offset="0.8820" stop-color="#fff" stop-opacity="1.00"/><stop offset="0.8824" stop-color="#fff" stop-opacity="1.00"/><stop offset="0.8901" stop-color="#fff" stop-opacity="1.00"/><stop offset="0.8982" stop-color="#fff" stop-opacity="1.00"/><stop offset="0.9063" stop-color="#fff" stop-opacity="1.00"/><stop offset="0.9067" stop-color="#fff" stop-opacity="1.00"/><stop offset="0.9144" stop-color="#fff" stop-opacity="1.00"/><stop offset="0.9225" stop-color="#fff" stop-opacity="1.00"/><stop offset="0.9305" stop-color="#fff" stop-opacity="1.00"/><stop offset="0.9323" stop-color="#fff" stop-opacity="1.00"/><stop offset="0.9386" stop-color="#fff" stop-opacity="1.00"/><stop offset="0.9467" stop-color="#fff" stop-opacity="1.00"/><stop offset="0.9548" stop-color="#fff" stop-opacity="1.00"/><stop offset="0.9629" stop-color="#fff" stop-opacity="1.00"/><stop offset="0.9674" stop-color="#fff" stop-opacity="1.00"/><stop offset="0.9710" stop-color="#fff" stop-opacity="1.00"/><stop offset="0.9791" stop-color="#fff" stop-opacity="1.00"/><stop offset="0.9872" stop-color="#fff" stop-opacity="1.00"/><stop offset="0.9953" stop-color="#fff" stop-opacity="1.00"/><stop offset="1.0000" stop-color="#fff" stop-opacity="1.00"/><stop offset="1.0011" stop-color="#fff" stop-opacity="1.00"/></linearGradient>
<mask id="mk_d" maskUnits="userSpaceOnUse" x="1252.7" y="995.6" width="741.5" height="370.9"><rect x="1252.7" y="995.6" width="741.5" height="370.9" fill="url(#m_d)"/></mask>
<clipPath id="c_d"><rect x="1252.7" y="995.6" width="741.5" height="370.9"/></clipPath>
<linearGradient id="lo_d" gradientUnits="userSpaceOnUse" x1="1252.7" x2="1994.2" y1="0" y2="0"><stop offset="0.0000" stop-color="#f9fc9d"/><stop offset="0.0004" stop-color="#f9fc9d"/><stop offset="0.0081" stop-color="#f9fc9d"/><stop offset="0.0162" stop-color="#f9fc9d"/><stop offset="0.0243" stop-color="#f9fc9d"/><stop offset="0.0324" stop-color="#f9fc9d"/><stop offset="0.0405" stop-color="#f9fc9d"/><stop offset="0.0486" stop-color="#f9fc9d"/><stop offset="0.0566" stop-color="#f9fc9d"/><stop offset="0.0647" stop-color="#f9fc9d"/><stop offset="0.0728" stop-color="#f9fc9d"/><stop offset="0.0809" stop-color="#f9fc9d"/><stop offset="0.0890" stop-color="#f9fc9d"/><stop offset="0.0971" stop-color="#f9fc9d"/><stop offset="0.1052" stop-color="#f9fc9d"/><stop offset="0.1133" stop-color="#f9fc9d"/><stop offset="0.1214" stop-color="#f9fc9d"/><stop offset="0.1295" stop-color="#f9fc9d"/><stop offset="0.1376" stop-color="#f9fc9d"/><stop offset="0.1457" stop-color="#f9fc9d"/><stop offset="0.1537" stop-color="#f9fc9d"/><stop offset="0.1618" stop-color="#f9fc9d"/><stop offset="0.1699" stop-color="#f9fc9d"/><stop offset="0.1780" stop-color="#f9fc9d"/><stop offset="0.1861" stop-color="#f9fc9d"/><stop offset="0.1942" stop-color="#f9fc9d"/><stop offset="0.2023" stop-color="#f9fc9d"/><stop offset="0.2104" stop-color="#f9fc9d"/><stop offset="0.2185" stop-color="#f9fc9d"/><stop offset="0.2266" stop-color="#f9fc9d"/><stop offset="0.2347" stop-color="#f9fc9d"/><stop offset="0.2428" stop-color="#f9fc9d"/><stop offset="0.2508" stop-color="#f9fc9d"/><stop offset="0.2589" stop-color="#f9fc9d"/><stop offset="0.2670" stop-color="#f9fc9d"/><stop offset="0.2751" stop-color="#f9fc9d"/><stop offset="0.2832" stop-color="#f9fc9d"/><stop offset="0.2913" stop-color="#f9fc9d"/><stop offset="0.2994" stop-color="#f9fc9d"/><stop offset="0.3075" stop-color="#f9fc9d"/><stop offset="0.3079" stop-color="#f9fc9d"/><stop offset="0.3119" stop-color="#f1731d"/><stop offset="0.3156" stop-color="#e25734"/><stop offset="0.3200" stop-color="#c63d4d"/><stop offset="0.3237" stop-color="#c43c4e"/><stop offset="0.3318" stop-color="#c03a51"/><stop offset="0.3399" stop-color="#bc3754"/><stop offset="0.3470" stop-color="#b73557"/><stop offset="0.3479" stop-color="#b63458"/><stop offset="0.3560" stop-color="#b0315b"/><stop offset="0.3605" stop-color="#ab2f5e"/><stop offset="0.3641" stop-color="#ad305d"/><stop offset="0.3722" stop-color="#ae305c"/><stop offset="0.3803" stop-color="#b1325a"/><stop offset="0.3875" stop-color="#b3325a"/><stop offset="0.3884" stop-color="#b43359"/><stop offset="0.3965" stop-color="#b73557"/><stop offset="0.4046" stop-color="#ba3655"/><stop offset="0.4127" stop-color="#bf3952"/><stop offset="0.4144" stop-color="#bf3952"/><stop offset="0.4208" stop-color="#d44842"/><stop offset="0.4225" stop-color="#da4e3c"/><stop offset="0.4289" stop-color="#fb9b06"/><stop offset="0.4293" stop-color="#fca108"/><stop offset="0.4333" stop-color="#f9fc9d"/><stop offset="0.4370" stop-color="#f9fc9d"/><stop offset="0.4450" stop-color="#f9fc9d"/><stop offset="0.4531" stop-color="#f9fc9d"/><stop offset="0.4612" stop-color="#f9fc9d"/><stop offset="0.4693" stop-color="#f9fc9d"/><stop offset="0.4774" stop-color="#f9fc9d"/><stop offset="0.4855" stop-color="#f9fc9d"/><stop offset="0.4936" stop-color="#f9fc9d"/><stop offset="0.5017" stop-color="#f9fc9d"/><stop offset="0.5098" stop-color="#f9fc9d"/><stop offset="0.5179" stop-color="#f9fc9d"/><stop offset="0.5260" stop-color="#f9fc9d"/><stop offset="0.5341" stop-color="#f9fc9d"/><stop offset="0.5421" stop-color="#f9fc9d"/><stop offset="0.5502" stop-color="#f9fc9d"/><stop offset="0.5583" stop-color="#f9fc9d"/><stop offset="0.5664" stop-color="#f9fc9d"/><stop offset="0.5745" stop-color="#f9fc9d"/><stop offset="0.5826" stop-color="#f9fc9d"/><stop offset="0.5907" stop-color="#f9fc9d"/><stop offset="0.5951" stop-color="#f9fc9d"/><stop offset="0.5988" stop-color="#fcb014"/><stop offset="0.6005" stop-color="#f8890c"/><stop offset="0.6069" stop-color="#ec6726"/><stop offset="0.6086" stop-color="#e75e2e"/><stop offset="0.6150" stop-color="#d34743"/><stop offset="0.6167" stop-color="#cc4248"/><stop offset="0.6231" stop-color="#c13a50"/><stop offset="0.6312" stop-color="#b3325a"/><stop offset="0.6370" stop-color="#a82e5f"/><stop offset="0.6392" stop-color="#a32c61"/><stop offset="0.6473" stop-color="#922568"/><stop offset="0.6554" stop-color="#801f6c"/><stop offset="0.6599" stop-color="#771c6d"/><stop offset="0.6635" stop-color="#721a6e"/><stop offset="0.6716" stop-color="#67166e"/><stop offset="0.6797" stop-color="#5c126e"/><stop offset="0.6842" stop-color="#57106e"/><stop offset="0.6878" stop-color="#550f6d"/><stop offset="0.6959" stop-color="#520e6d"/><stop offset="0.7040" stop-color="#4d0d6c"/><stop offset="0.7121" stop-color="#4a0c6b"/><stop offset="0.7202" stop-color="#470b6a"/><stop offset="0.7246" stop-color="#450a69"/><stop offset="0.7283" stop-color="#470b6a"/><stop offset="0.7363" stop-color="#4c0c6b"/><stop offset="0.7444" stop-color="#4f0d6c"/><stop offset="0.7516" stop-color="#520e6d"/><stop offset="0.7525" stop-color="#550f6d"/><stop offset="0.7606" stop-color="#6a176e"/><stop offset="0.7637" stop-color="#721a6e"/><stop offset="0.7687" stop-color="#7d1e6d"/><stop offset="0.7768" stop-color="#8d2369"/><stop offset="0.7849" stop-color="#9f2a63"/><stop offset="0.7853" stop-color="#a02a63"/><stop offset="0.7930" stop-color="#ae305c"/><stop offset="0.8011" stop-color="#bd3853"/><stop offset="0.8042" stop-color="#c33b4f"/><stop offset="0.8092" stop-color="#c63d4d"/><stop offset="0.8173" stop-color="#cb4149"/><stop offset="0.8254" stop-color="#cf4446"/><stop offset="0.8325" stop-color="#d34743"/><stop offset="0.8334" stop-color="#d34743"/><stop offset="0.8415" stop-color="#d34743"/><stop offset="0.8496" stop-color="#d34743"/><stop offset="0.8577" stop-color="#d34743"/><stop offset="0.8595" stop-color="#d34743"/><stop offset="0.8658" stop-color="#cc4248"/><stop offset="0.8739" stop-color="#c33b4f"/><stop offset="0.8820" stop-color="#b73557"/><stop offset="0.8824" stop-color="#b73557"/><stop offset="0.8901" stop-color="#a82e5f"/><stop offset="0.8982" stop-color="#982766"/><stop offset="0.9063" stop-color="#88226a"/><stop offset="0.9067" stop-color="#87216b"/><stop offset="0.9144" stop-color="#781c6d"/><stop offset="0.9225" stop-color="#69166e"/><stop offset="0.9305" stop-color="#5a116e"/><stop offset="0.9323" stop-color="#57106e"/><stop offset="0.9386" stop-color="#520e6d"/><stop offset="0.9467" stop-color="#4c0c6b"/><stop offset="0.9548" stop-color="#470b6a"/><stop offset="0.9629" stop-color="#400a67"/><stop offset="0.9674" stop-color="#3d0965"/><stop offset="0.9710" stop-color="#3b0964"/><stop offset="0.9791" stop-color="#360961"/><stop offset="0.9872" stop-color="#310a5c"/><stop offset="0.9953" stop-color="#2b0b57"/><stop offset="1.0000" stop-color="#280b53"/><stop offset="1.0011" stop-color="#260c51"/></linearGradient>
<linearGradient id="hi_d" gradientUnits="userSpaceOnUse" x1="1252.7" x2="1994.2" y1="0" y2="0"><stop offset="0.0000" stop-color="#fcffa4"/><stop offset="0.0004" stop-color="#fcffa4"/><stop offset="0.0081" stop-color="#fcffa4"/><stop offset="0.0162" stop-color="#fcffa4"/><stop offset="0.0243" stop-color="#fcffa4"/><stop offset="0.0324" stop-color="#fcffa4"/><stop offset="0.0405" stop-color="#fcffa4"/><stop offset="0.0486" stop-color="#fcffa4"/><stop offset="0.0566" stop-color="#fcffa4"/><stop offset="0.0647" stop-color="#fcffa4"/><stop offset="0.0728" stop-color="#fcffa4"/><stop offset="0.0809" stop-color="#fcffa4"/><stop offset="0.0890" stop-color="#fcffa4"/><stop offset="0.0971" stop-color="#fcffa4"/><stop offset="0.1052" stop-color="#fcffa4"/><stop offset="0.1133" stop-color="#fcffa4"/><stop offset="0.1214" stop-color="#fcffa4"/><stop offset="0.1295" stop-color="#fcffa4"/><stop offset="0.1376" stop-color="#fcffa4"/><stop offset="0.1457" stop-color="#fcffa4"/><stop offset="0.1537" stop-color="#fcffa4"/><stop offset="0.1618" stop-color="#fcffa4"/><stop offset="0.1699" stop-color="#fcffa4"/><stop offset="0.1780" stop-color="#fcffa4"/><stop offset="0.1861" stop-color="#fcffa4"/><stop offset="0.1942" stop-color="#fcffa4"/><stop offset="0.2023" stop-color="#fcffa4"/><stop offset="0.2104" stop-color="#fcffa4"/><stop offset="0.2185" stop-color="#fcffa4"/><stop offset="0.2266" stop-color="#fcffa4"/><stop offset="0.2347" stop-color="#fcffa4"/><stop offset="0.2428" stop-color="#fcffa4"/><stop offset="0.2508" stop-color="#fcffa4"/><stop offset="0.2589" stop-color="#fcffa4"/><stop offset="0.2670" stop-color="#fcffa4"/><stop offset="0.2751" stop-color="#fcffa4"/><stop offset="0.2832" stop-color="#fcffa4"/><stop offset="0.2913" stop-color="#fcffa4"/><stop offset="0.2994" stop-color="#fcffa4"/><stop offset="0.3075" stop-color="#fcffa4"/><stop offset="0.3079" stop-color="#fcffa4"/><stop offset="0.3119" stop-color="#fcffa4"/><stop offset="0.3156" stop-color="#fcffa4"/><stop offset="0.3200" stop-color="#f2e661"/><stop offset="0.3237" stop-color="#f3e35a"/><stop offset="0.3318" stop-color="#f4dd4f"/><stop offset="0.3399" stop-color="#f6d746"/><stop offset="0.3470" stop-color="#f7d13d"/><stop offset="0.3479" stop-color="#f7d13d"/><stop offset="0.3560" stop-color="#f9c72f"/><stop offset="0.3605" stop-color="#fac42a"/><stop offset="0.3641" stop-color="#fac42a"/><stop offset="0.3722" stop-color="#f9c72f"/><stop offset="0.3803" stop-color="#f9c932"/><stop offset="0.3875" stop-color="#f8cd37"/><stop offset="0.3884" stop-color="#f8cd37"/><stop offset="0.3965" stop-color="#f7d13d"/><stop offset="0.4046" stop-color="#f6d746"/><stop offset="0.4127" stop-color="#f5db4c"/><stop offset="0.4144" stop-color="#f5db4c"/><stop offset="0.4208" stop-color="#f4f88e"/><stop offset="0.4225" stop-color="#f9fc9d"/><stop offset="0.4289" stop-color="#fcffa4"/><stop offset="0.4293" stop-color="#fcffa4"/><stop offset="0.4333" stop-color="#fcffa4"/><stop offset="0.4370" stop-color="#fcffa4"/><stop offset="0.4450" stop-color="#fcffa4"/><stop offset="0.4531" stop-color="#fcffa4"/><stop offset="0.4612" stop-color="#fcffa4"/><stop offset="0.4693" stop-color="#fcffa4"/><stop offset="0.4774" stop-color="#fcffa4"/><stop offset="0.4855" stop-color="#fcffa4"/><stop offset="0.4936" stop-color="#fcffa4"/><stop offset="0.5017" stop-color="#fcffa4"/><stop offset="0.5098" stop-color="#fcffa4"/><stop offset="0.5179" stop-color="#fcffa4"/><stop offset="0.5260" stop-color="#fcffa4"/><stop offset="0.5341" stop-color="#fcffa4"/><stop offset="0.5421" stop-color="#fcffa4"/><stop offset="0.5502" stop-color="#fcffa4"/><stop offset="0.5583" stop-color="#fcffa4"/><stop offset="0.5664" stop-color="#fcffa4"/><stop offset="0.5745" stop-color="#fcffa4"/><stop offset="0.5826" stop-color="#fcffa4"/><stop offset="0.5907" stop-color="#fcffa4"/><stop offset="0.5951" stop-color="#fcffa4"/><stop offset="0.5988" stop-color="#fcffa4"/><stop offset="0.6005" stop-color="#fcffa4"/><stop offset="0.6069" stop-color="#fcffa4"/><stop offset="0.6086" stop-color="#fcffa4"/><stop offset="0.6150" stop-color="#f3f68a"/><stop offset="0.6167" stop-color="#f1ef75"/><stop offset="0.6231" stop-color="#f4e156"/><stop offset="0.6312" stop-color="#f9cb35"/><stop offset="0.6370" stop-color="#fbbe23"/><stop offset="0.6392" stop-color="#fbb81d"/><stop offset="0.6473" stop-color="#fca309"/><stop offset="0.6554" stop-color="#f98e09"/><stop offset="0.6599" stop-color="#f78410"/><stop offset="0.6635" stop-color="#f67e14"/><stop offset="0.6716" stop-color="#f1731d"/><stop offset="0.6797" stop-color="#ed6925"/><stop offset="0.6842" stop-color="#ea632a"/><stop offset="0.6878" stop-color="#e9612b"/><stop offset="0.6959" stop-color="#e75e2e"/><stop offset="0.7040" stop-color="#e55c30"/><stop offset="0.7121" stop-color="#e35933"/><stop offset="0.7202" stop-color="#e15635"/><stop offset="0.7246" stop-color="#e05536"/><stop offset="0.7283" stop-color="#e15635"/><stop offset="0.7363" stop-color="#e35933"/><stop offset="0.7444" stop-color="#e55c30"/><stop offset="0.7516" stop-color="#e75e2e"/><stop offset="0.7525" stop-color="#e9612b"/><stop offset="0.7606" stop-color="#f37819"/><stop offset="0.7637" stop-color="#f68013"/><stop offset="0.7687" stop-color="#f98b0b"/><stop offset="0.7768" stop-color="#fc9f07"/><stop offset="0.7849" stop-color="#fcb216"/><stop offset="0.7853" stop-color="#fcb418"/><stop offset="0.7930" stop-color="#fac62d"/><stop offset="0.8011" stop-color="#f5d949"/><stop offset="0.8042" stop-color="#f4e156"/><stop offset="0.8092" stop-color="#f3e55d"/><stop offset="0.8173" stop-color="#f1ec6d"/><stop offset="0.8254" stop-color="#f2f27d"/><stop offset="0.8325" stop-color="#f3f68a"/><stop offset="0.8334" stop-color="#f3f68a"/><stop offset="0.8415" stop-color="#f3f68a"/><stop offset="0.8496" stop-color="#f3f68a"/><stop offset="0.8577" stop-color="#f3f68a"/><stop offset="0.8595" stop-color="#f3f68a"/><stop offset="0.8658" stop-color="#f1ed71"/><stop offset="0.8739" stop-color="#f4e156"/><stop offset="0.8820" stop-color="#f7d340"/><stop offset="0.8824" stop-color="#f7d13d"/><stop offset="0.8901" stop-color="#fac026"/><stop offset="0.8982" stop-color="#fcaa0f"/><stop offset="0.9063" stop-color="#fb9706"/><stop offset="0.9067" stop-color="#fb9706"/><stop offset="0.9144" stop-color="#f8850f"/><stop offset="0.9225" stop-color="#f3761b"/><stop offset="0.9305" stop-color="#eb6628"/><stop offset="0.9323" stop-color="#ea632a"/><stop offset="0.9386" stop-color="#e75e2e"/><stop offset="0.9467" stop-color="#e45a31"/><stop offset="0.9548" stop-color="#e05536"/><stop offset="0.9629" stop-color="#db503b"/><stop offset="0.9674" stop-color="#da4e3c"/><stop offset="0.9710" stop-color="#d84c3e"/><stop offset="0.9791" stop-color="#d44842"/><stop offset="0.9872" stop-color="#d04545"/><stop offset="0.9953" stop-color="#cc4248"/><stop offset="1.0000" stop-color="#ca404a"/><stop offset="1.0011" stop-color="#ca404a"/></linearGradient>
<mask id="nmD_d" maskUnits="userSpaceOnUse" x="1252.7" y="995.6" width="741.5" height="370.9"><rect x="1252.7" y="995.6" width="741.5" height="370.9" filter="url(#nD)"/></mask>
<mask id="nmL_d" maskUnits="userSpaceOnUse" x="1252.7" y="995.6" width="741.5" height="370.9"><rect x="1252.7" y="995.6" width="741.5" height="370.9" filter="url(#nL)"/></mask>
<linearGradient id="h1_d" gradientUnits="userSpaceOnUse" x1="1252.7" x2="1994.2" y1="0" y2="0"><stop offset="0.0000" stop-color="#fcffa4"/><stop offset="0.0004" stop-color="#fcffa4"/><stop offset="0.0081" stop-color="#fcffa4"/><stop offset="0.0162" stop-color="#fcffa4"/><stop offset="0.0243" stop-color="#fcffa4"/><stop offset="0.0324" stop-color="#fcffa4"/><stop offset="0.0405" stop-color="#fcffa4"/><stop offset="0.0486" stop-color="#fcffa4"/><stop offset="0.0566" stop-color="#fcffa4"/><stop offset="0.0647" stop-color="#fcffa4"/><stop offset="0.0728" stop-color="#fcffa4"/><stop offset="0.0809" stop-color="#fcffa4"/><stop offset="0.0890" stop-color="#fcffa4"/><stop offset="0.0971" stop-color="#fcffa4"/><stop offset="0.1052" stop-color="#fcffa4"/><stop offset="0.1133" stop-color="#fcffa4"/><stop offset="0.1214" stop-color="#fcffa4"/><stop offset="0.1295" stop-color="#fcffa4"/><stop offset="0.1376" stop-color="#fcffa4"/><stop offset="0.1457" stop-color="#fcffa4"/><stop offset="0.1537" stop-color="#fcffa4"/><stop offset="0.1618" stop-color="#fcffa4"/><stop offset="0.1699" stop-color="#fcffa4"/><stop offset="0.1780" stop-color="#fcffa4"/><stop offset="0.1861" stop-color="#fcffa4"/><stop offset="0.1942" stop-color="#fcffa4"/><stop offset="0.2023" stop-color="#fcffa4"/><stop offset="0.2104" stop-color="#fcffa4"/><stop offset="0.2185" stop-color="#fcffa4"/><stop offset="0.2266" stop-color="#fcffa4"/><stop offset="0.2347" stop-color="#fcffa4"/><stop offset="0.2428" stop-color="#fcffa4"/><stop offset="0.2508" stop-color="#fcffa4"/><stop offset="0.2589" stop-color="#fcffa4"/><stop offset="0.2670" stop-color="#fcffa4"/><stop offset="0.2751" stop-color="#fcffa4"/><stop offset="0.2832" stop-color="#fcffa4"/><stop offset="0.2913" stop-color="#fcffa4"/><stop offset="0.2994" stop-color="#fcffa4"/><stop offset="0.3075" stop-color="#fcffa4"/><stop offset="0.3079" stop-color="#fcffa4"/><stop offset="0.3119" stop-color="#fcffa4"/><stop offset="0.3156" stop-color="#fcffa4"/><stop offset="0.3200" stop-color="#f5f992"/><stop offset="0.3237" stop-color="#f4f88e"/><stop offset="0.3318" stop-color="#f2f482"/><stop offset="0.3399" stop-color="#f1ef75"/><stop offset="0.3470" stop-color="#f2ea69"/><stop offset="0.3479" stop-color="#f2ea69"/><stop offset="0.3560" stop-color="#f4e156"/><stop offset="0.3605" stop-color="#f5db4c"/><stop offset="0.3641" stop-color="#f4dd4f"/><stop offset="0.3722" stop-color="#f4e156"/><stop offset="0.3803" stop-color="#f3e35a"/><stop offset="0.3875" stop-color="#f2e661"/><stop offset="0.3884" stop-color="#f2e661"/><stop offset="0.3965" stop-color="#f2ea69"/><stop offset="0.4046" stop-color="#f1ed71"/><stop offset="0.4127" stop-color="#f2f27d"/><stop offset="0.4144" stop-color="#f2f27d"/><stop offset="0.4208" stop-color="#fcffa4"/><stop offset="0.4225" stop-color="#fcffa4"/><stop offset="0.4289" stop-color="#fcffa4"/><stop offset="0.4293" stop-color="#fcffa4"/><stop offset="0.4333" stop-color="#fcffa4"/><stop offset="0.4370" stop-color="#fcffa4"/><stop offset="0.4450" stop-color="#fcffa4"/><stop offset="0.4531" stop-color="#fcffa4"/><stop offset="0.4612" stop-color="#fcffa4"/><stop offset="0.4693" stop-color="#fcffa4"/><stop offset="0.4774" stop-color="#fcffa4"/><stop offset="0.4855" stop-color="#fcffa4"/><stop offset="0.4936" stop-color="#fcffa4"/><stop offset="0.5017" stop-color="#fcffa4"/><stop offset="0.5098" stop-color="#fcffa4"/><stop offset="0.5179" stop-color="#fcffa4"/><stop offset="0.5260" stop-color="#fcffa4"/><stop offset="0.5341" stop-color="#fcffa4"/><stop offset="0.5421" stop-color="#fcffa4"/><stop offset="0.5502" stop-color="#fcffa4"/><stop offset="0.5583" stop-color="#fcffa4"/><stop offset="0.5664" stop-color="#fcffa4"/><stop offset="0.5745" stop-color="#fcffa4"/><stop offset="0.5826" stop-color="#fcffa4"/><stop offset="0.5907" stop-color="#fcffa4"/><stop offset="0.5951" stop-color="#fcffa4"/><stop offset="0.5988" stop-color="#fcffa4"/><stop offset="0.6005" stop-color="#fcffa4"/><stop offset="0.6069" stop-color="#fcffa4"/><stop offset="0.6086" stop-color="#fcffa4"/><stop offset="0.6150" stop-color="#fcffa4"/><stop offset="0.6167" stop-color="#fcffa4"/><stop offset="0.6231" stop-color="#f3f586"/><stop offset="0.6312" stop-color="#f3e55d"/><stop offset="0.6370" stop-color="#f6d746"/><stop offset="0.6392" stop-color="#f7d13d"/><stop offset="0.6473" stop-color="#fbbc21"/><stop offset="0.6554" stop-color="#fca60c"/><stop offset="0.6599" stop-color="#fb9b06"/><stop offset="0.6635" stop-color="#fb9606"/><stop offset="0.6716" stop-color="#f8890c"/><stop offset="0.6797" stop-color="#f57d15"/><stop offset="0.6842" stop-color="#f37819"/><stop offset="0.6878" stop-color="#f3761b"/><stop offset="0.6959" stop-color="#f1731d"/><stop offset="0.7040" stop-color="#f06f20"/><stop offset="0.7121" stop-color="#ef6c23"/><stop offset="0.7202" stop-color="#ed6925"/><stop offset="0.7246" stop-color="#eb6628"/><stop offset="0.7283" stop-color="#ec6726"/><stop offset="0.7363" stop-color="#ef6c23"/><stop offset="0.7444" stop-color="#f06f20"/><stop offset="0.7516" stop-color="#f1731d"/><stop offset="0.7525" stop-color="#f3761b"/><stop offset="0.7606" stop-color="#f98c0a"/><stop offset="0.7637" stop-color="#fb9706"/><stop offset="0.7687" stop-color="#fca309"/><stop offset="0.7768" stop-color="#fbb81d"/><stop offset="0.7849" stop-color="#f9cb35"/><stop offset="0.7853" stop-color="#f8cd37"/><stop offset="0.7930" stop-color="#f4df53"/><stop offset="0.8011" stop-color="#f1f179"/><stop offset="0.8042" stop-color="#f3f68a"/><stop offset="0.8092" stop-color="#f5f992"/><stop offset="0.8173" stop-color="#fafda1"/><stop offset="0.8254" stop-color="#fcffa4"/><stop offset="0.8325" stop-color="#fcffa4"/><stop offset="0.8334" stop-color="#fcffa4"/><stop offset="0.8415" stop-color="#fcffa4"/><stop offset="0.8496" stop-color="#fcffa4"/><stop offset="0.8577" stop-color="#fcffa4"/><stop offset="0.8595" stop-color="#fcffa4"/><stop offset="0.8658" stop-color="#fcffa4"/><stop offset="0.8739" stop-color="#f3f68a"/><stop offset="0.8820" stop-color="#f1ec6d"/><stop offset="0.8824" stop-color="#f2ea69"/><stop offset="0.8901" stop-color="#f6d746"/><stop offset="0.8982" stop-color="#fac42a"/><stop offset="0.9063" stop-color="#fcb014"/><stop offset="0.9067" stop-color="#fcae12"/><stop offset="0.9144" stop-color="#fb9d07"/><stop offset="0.9225" stop-color="#f98c0a"/><stop offset="0.9305" stop-color="#f57b17"/><stop offset="0.9323" stop-color="#f37819"/><stop offset="0.9386" stop-color="#f1731d"/><stop offset="0.9467" stop-color="#ef6c23"/><stop offset="0.9548" stop-color="#ec6726"/><stop offset="0.9629" stop-color="#e9612b"/><stop offset="0.9674" stop-color="#e75e2e"/><stop offset="0.9710" stop-color="#e65d2f"/><stop offset="0.9791" stop-color="#e35933"/><stop offset="0.9872" stop-color="#e05536"/><stop offset="0.9953" stop-color="#dd513a"/><stop offset="1.0000" stop-color="#da4e3c"/><stop offset="1.0011" stop-color="#da4e3c"/></linearGradient>
<linearGradient id="h2_d" gradientUnits="userSpaceOnUse" x1="1252.7" x2="1994.2" y1="0" y2="0"><stop offset="0.0000" stop-color="#fcffa4"/><stop offset="0.0004" stop-color="#fcffa4"/><stop offset="0.0081" stop-color="#fcffa4"/><stop offset="0.0162" stop-color="#fcffa4"/><stop offset="0.0243" stop-color="#fcffa4"/><stop offset="0.0324" stop-color="#fcffa4"/><stop offset="0.0405" stop-color="#fcffa4"/><stop offset="0.0486" stop-color="#fcffa4"/><stop offset="0.0566" stop-color="#fcffa4"/><stop offset="0.0647" stop-color="#fcffa4"/><stop offset="0.0728" stop-color="#fcffa4"/><stop offset="0.0809" stop-color="#fcffa4"/><stop offset="0.0890" stop-color="#fcffa4"/><stop offset="0.0971" stop-color="#fcffa4"/><stop offset="0.1052" stop-color="#fcffa4"/><stop offset="0.1133" stop-color="#fcffa4"/><stop offset="0.1214" stop-color="#fcffa4"/><stop offset="0.1295" stop-color="#fcffa4"/><stop offset="0.1376" stop-color="#fcffa4"/><stop offset="0.1457" stop-color="#fcffa4"/><stop offset="0.1537" stop-color="#fcffa4"/><stop offset="0.1618" stop-color="#fcffa4"/><stop offset="0.1699" stop-color="#fcffa4"/><stop offset="0.1780" stop-color="#fcffa4"/><stop offset="0.1861" stop-color="#fcffa4"/><stop offset="0.1942" stop-color="#fcffa4"/><stop offset="0.2023" stop-color="#fcffa4"/><stop offset="0.2104" stop-color="#fcffa4"/><stop offset="0.2185" stop-color="#fcffa4"/><stop offset="0.2266" stop-color="#fcffa4"/><stop offset="0.2347" stop-color="#fcffa4"/><stop offset="0.2428" stop-color="#fcffa4"/><stop offset="0.2508" stop-color="#fcffa4"/><stop offset="0.2589" stop-color="#fcffa4"/><stop offset="0.2670" stop-color="#fcffa4"/><stop offset="0.2751" stop-color="#fcffa4"/><stop offset="0.2832" stop-color="#fcffa4"/><stop offset="0.2913" stop-color="#fcffa4"/><stop offset="0.2994" stop-color="#fcffa4"/><stop offset="0.3075" stop-color="#fcffa4"/><stop offset="0.3079" stop-color="#fcffa4"/><stop offset="0.3119" stop-color="#fcffa4"/><stop offset="0.3156" stop-color="#fcffa4"/><stop offset="0.3200" stop-color="#fcffa4"/><stop offset="0.3237" stop-color="#fcffa4"/><stop offset="0.3318" stop-color="#fcffa4"/><stop offset="0.3399" stop-color="#fcffa4"/><stop offset="0.3470" stop-color="#fcffa4"/><stop offset="0.3479" stop-color="#fcffa4"/><stop offset="0.3560" stop-color="#fcffa4"/><stop offset="0.3605" stop-color="#fcffa4"/><stop offset="0.3641" stop-color="#fcffa4"/><stop offset="0.3722" stop-color="#fcffa4"/><stop offset="0.3803" stop-color="#fcffa4"/><stop offset="0.3875" stop-color="#fcffa4"/><stop offset="0.3884" stop-color="#fcffa4"/><stop offset="0.3965" stop-color="#fcffa4"/><stop offset="0.4046" stop-color="#fcffa4"/><stop offset="0.4127" stop-color="#fcffa4"/><stop offset="0.4144" stop-color="#fcffa4"/><stop offset="0.4208" stop-color="#fcffa4"/><stop offset="0.4225" stop-color="#fcffa4"/><stop offset="0.4289" stop-color="#fcffa4"/><stop offset="0.4293" stop-color="#fcffa4"/><stop offset="0.4333" stop-color="#fcffa4"/><stop offset="0.4370" stop-color="#fcffa4"/><stop offset="0.4450" stop-color="#fcffa4"/><stop offset="0.4531" stop-color="#fcffa4"/><stop offset="0.4612" stop-color="#fcffa4"/><stop offset="0.4693" stop-color="#fcffa4"/><stop offset="0.4774" stop-color="#fcffa4"/><stop offset="0.4855" stop-color="#fcffa4"/><stop offset="0.4936" stop-color="#fcffa4"/><stop offset="0.5017" stop-color="#fcffa4"/><stop offset="0.5098" stop-color="#fcffa4"/><stop offset="0.5179" stop-color="#fcffa4"/><stop offset="0.5260" stop-color="#fcffa4"/><stop offset="0.5341" stop-color="#fcffa4"/><stop offset="0.5421" stop-color="#fcffa4"/><stop offset="0.5502" stop-color="#fcffa4"/><stop offset="0.5583" stop-color="#fcffa4"/><stop offset="0.5664" stop-color="#fcffa4"/><stop offset="0.5745" stop-color="#fcffa4"/><stop offset="0.5826" stop-color="#fcffa4"/><stop offset="0.5907" stop-color="#fcffa4"/><stop offset="0.5951" stop-color="#fcffa4"/><stop offset="0.5988" stop-color="#fcffa4"/><stop offset="0.6005" stop-color="#fcffa4"/><stop offset="0.6069" stop-color="#fcffa4"/><stop offset="0.6086" stop-color="#fcffa4"/><stop offset="0.6150" stop-color="#fcffa4"/><stop offset="0.6167" stop-color="#fcffa4"/><stop offset="0.6231" stop-color="#fcffa4"/><stop offset="0.6312" stop-color="#fcffa4"/><stop offset="0.6370" stop-color="#fcffa4"/><stop offset="0.6392" stop-color="#fcffa4"/><stop offset="0.6473" stop-color="#fcffa4"/><stop offset="0.6554" stop-color="#fcffa4"/><stop offset="0.6599" stop-color="#fcffa4"/><stop offset="0.6635" stop-color="#f8fb9a"/><stop offset="0.6716" stop-color="#f2f482"/><stop offset="0.6797" stop-color="#f2e865"/><stop offset="0.6842" stop-color="#f4e156"/><stop offset="0.6878" stop-color="#f4df53"/><stop offset="0.6959" stop-color="#f5db4c"/><stop offset="0.7040" stop-color="#f6d746"/><stop offset="0.7121" stop-color="#f7d340"/><stop offset="0.7202" stop-color="#f8cf3a"/><stop offset="0.7246" stop-color="#f8cd37"/><stop offset="0.7283" stop-color="#f8cf3a"/><stop offset="0.7363" stop-color="#f7d340"/><stop offset="0.7444" stop-color="#f6d746"/><stop offset="0.7516" stop-color="#f5db4c"/><stop offset="0.7525" stop-color="#f4df53"/><stop offset="0.7606" stop-color="#f3f68a"/><stop offset="0.7637" stop-color="#f9fc9d"/><stop offset="0.7687" stop-color="#fcffa4"/><stop offset="0.7768" stop-color="#fcffa4"/><stop offset="0.7849" stop-color="#fcffa4"/><stop offset="0.7853" stop-color="#fcffa4"/><stop offset="0.7930" stop-color="#fcffa4"/><stop offset="0.8011" stop-color="#fcffa4"/><stop offset="0.8042" stop-color="#fcffa4"/><stop offset="0.8092" stop-color="#fcffa4"/><stop offset="0.8173" stop-color="#fcffa4"/><stop offset="0.8254" stop-color="#fcffa4"/><stop offset="0.8325" stop-color="#fcffa4"/><stop offset="0.8334" stop-color="#fcffa4"/><stop offset="0.8415" stop-color="#fcffa4"/><stop offset="0.8496" stop-color="#fcffa4"/><stop offset="0.8577" stop-color="#fcffa4"/><stop offset="0.8595" stop-color="#fcffa4"/><stop offset="0.8658" stop-color="#fcffa4"/><stop offset="0.8739" stop-color="#fcffa4"/><stop offset="0.8820" stop-color="#fcffa4"/><stop offset="0.8824" stop-color="#fcffa4"/><stop offset="0.8901" stop-color="#fcffa4"/><stop offset="0.8982" stop-color="#fcffa4"/><stop offset="0.9063" stop-color="#fcffa4"/><stop offset="0.9067" stop-color="#fcffa4"/><stop offset="0.9144" stop-color="#fcffa4"/><stop offset="0.9225" stop-color="#f3f586"/><stop offset="0.9305" stop-color="#f3e55d"/><stop offset="0.9323" stop-color="#f4e156"/><stop offset="0.9386" stop-color="#f5db4c"/><stop offset="0.9467" stop-color="#f6d543"/><stop offset="0.9548" stop-color="#f8cd37"/><stop offset="0.9629" stop-color="#f9c72f"/><stop offset="0.9674" stop-color="#fac42a"/><stop offset="0.9710" stop-color="#fac026"/><stop offset="0.9791" stop-color="#fbba1f"/><stop offset="0.9872" stop-color="#fcb418"/><stop offset="0.9953" stop-color="#fcae12"/><stop offset="1.0000" stop-color="#fcaa0f"/><stop offset="1.0011" stop-color="#fcaa0f"/></linearGradient>
<clipPath id="p_d"><rect x="1252.7" y="1366.5" width="741.5" height="370.5"/></clipPath>
</defs>
<g id="panel-a">
<g clip-path="url(#c_a)">
<rect x="160" y="66.2" width="741.5" height="370" fill="url(#g_a)"/>
<g filter="url(#soft)">
<rect x="280" y="66.2" width="300" height="370" fill="url(#ra)"/>
<g fill="#f3c041" opacity=".8"><rect x="162.4" y="203.6" width="2.7" height="2.4"/><rect x="167.6" y="92.2" width="1.5" height="2.8"/><rect x="162.2" y="432.6" width="2.4" height="2.8"/><rect x="163.7" y="300.6" width="3.2" height="2.3"/><rect x="164" y="339.5" width="2.8" height="1.6"/><rect x="162.3" y="178.5" width="1.6" height="2.8"/><rect x="163.8" y="329.6" width="3.3" height="2.1"/><rect x="171.1" y="361.3" width="2.4" height="2.9"/><rect x="163.5" y="118" width="1.9" height="2.9"/><rect x="163.4" y="227.8" width="2.8" height="2"/><rect x="166.4" y="196.6" width="2.7" height="2.4"/><rect x="162.2" y="399.1" width="2.9" height="2.9"/><rect x="170.6" y="313.9" width="1.8" height="2.8"/><rect x="172.8" y="421.3" width="3.3" height="2.4"/><rect x="162.7" y="372.6" width="2.6" height="1.9"/><rect x="165" y="91.4" width="3.2" height="3"/><rect x="168.9" y="218.4" width="1.8" height="1.9"/><rect x="166.3" y="349.6" width="3.2" height="1.6"/><rect x="163" y="331.1" width="2.2" height="2.8"/><rect x="162.9" y="427.1" width="2.5" height="3"/><rect x="162.7" y="287.7" width="1.6" height="1.8"/><rect x="163.7" y="217.5" width="2.7" height="1.7"/><rect x="170.7" y="183.1" width="3.4" height="2.8"/><rect x="164.4" y="206.5" width="2.4" height="2.3"/><rect x="165.7" y="272.9" width="2.7" height="2.9"/><rect x="168.5" y="155.2" width="2.1" height="3"/><rect x="162.7" y="220.2" width="2.7" height="1.5"/><rect x="162.2" y="293.6" width="2.8" height="1.6"/><rect x="165.5" y="316.8" width="2.2" height="2.6"/><rect x="165.6" y="338.3" width="1.5" height="1.6"/><rect x="167.2" y="160.1" width="2.4" height="2.4"/><rect x="172.3" y="185.3" width="2.2" height="2"/><rect x="166.1" y="178.1" width="2.3" height="2.7"/><rect x="166.4" y="78.1" width="2.6" height="2.6"/><rect x="163.2" y="362.4" width="2" height="1.8"/><rect x="165" y="227.5" width="2.9" height="1.7"/><rect x="163.8" y="373.3" width="2.4" height="2.8"/><rect x="165.6" y="130.2" width="2.2" height="2.5"/><rect x="165.7" y="150.6" width="1.7" height="2.3"/><rect x="165.3" y="138" width="3.1" height="2.8"/><rect x="163.5" y="363.6" width="2.8" height="2.7"/><rect x="165.3" y="194.6" width="1.8" height="1.9"/><rect x="163" y="195" width="2.3" height="2.1"/><rect x="165.4" y="218.1" width="3.3" height="1.7"/><rect x="172.8" y="390.3" width="3.5" height="2.2"/><rect x="162.3" y="416" width="3.4" height="1.8"/><rect x="162.2" y="310.9" width="2.5" height="1.9"/><rect x="170.6" y="193" width="2" height="1.6"/><rect x="165.1" y="364.7" width="1.6" height="2.9"/><rect x="164" y="322.1" width="3.3" height="2.8"/><rect x="166.8" y="73" width="3" height="1.8"/><rect x="165.5" y="178" width="2.8" height="2.3"/><rect x="171.1" y="292.3" width="2.2" height="1.9"/><rect x="167.5" y="383.6" width="2.5" height="2.7"/><rect x="163.8" y="263.9" width="3.1" height="1.8"/><rect x="164.4" y="358" width="3.3" height="2.7"/><rect x="162.2" y="298.3" width="3.2" height="1.6"/><rect x="162.5" y="167.5" width="2" height="2.3"/><rect x="166.5" y="352.4" width="1.5" height="1.6"/><rect x="164.4" y="114.6" width="1.7" height="1.6"/><rect x="170.7" y="99.7" width="2.5" height="2"/><rect x="163.4" y="183.3" width="2.2" height="2.5"/><rect x="165.6" y="138.1" width="2.2" height="1.7"/><rect x="164.2" y="271.5" width="2.9" height="2.1"/><rect x="164.5" y="204.8" width="2.7" height="2.7"/><rect x="163.4" y="207.4" width="3.1" height="2.4"/><rect x="163.8" y="325.5" width="2.3" height="2.5"/><rect x="165.3" y="264.3" width="2.9" height="1.6"/><rect x="162.8" y="223.7" width="2.4" height="2.8"/><rect x="166" y="396.8" width="3.1" height="1.9"/><rect x="163.7" y="238.1" width="1.7" height="2.7"/><rect x="166.9" y="358.2" width="2.8" height="2.6"/><rect x="170" y="274.6" width="1.7" height="2.4"/><rect x="164.5" y="351.6" width="1.6" height="1.6"/><rect x="162.1" y="104.5" width="3.3" height="1.8"/><rect x="170.5" y="112.6" width="3.2" height="2.5"/><rect x="163.3" y="374.2" width="3.4" height="2.4"/><rect x="162.4" y="349.1" width="2.5" height="2.6"/><rect x="163.2" y="107.3" width="3" height="2.9"/><rect x="165.7" y="274.6" width="3.2" height="1.9"/><rect x="163.5" y="134" width="2" height="2.4"/><rect x="162.1" y="202.7" width="2.3" height="2"/><rect x="166.5" y="221.3" width="1.7" height="2.3"/><rect x="166.6" y="341.8" width="1.8" height="2.5"/><rect x="162.8" y="344.9" width="2.8" height="2.3"/></g>
<rect x="160" y="66.2" width="741.5" height="370" fill="url(#lo_a)" mask="url(#nmD_a)"/><rect x="160" y="66.2" width="741.5" height="370" fill="url(#hi_a)" mask="url(#nmL_a)"/>
<g mask="url(#mk_a)">
<path d="M161.3 243.8L164 242.6L166.7 243.8L169.4 247.2L172.1 250.7L174.8 250.7L177.5 246.1L180.2 248.4L182.9 250.7L185.6 247.2L188.3 250.7L191 250.7L193.7 250.7M223.4 250.7L226.1 250.7L228.8 249.5L231.5 249.5L234.2 249.5M242.3 247.2L245 244.9L247.7 243.8L250.4 244.9L253.1 246.1L255.8 244.9L258.5 242.6L261.2 241.5L263.9 241.5L266.6 241.5L269.3 239.2L272 238L274.7 235.7L277.4 212.7L280.1 215L282.8 212.7L285.5 213.9L288.2 224.2L290.9 247.2L293.6 247.2L296.3 208.1L299 223.1L301.7 205.8L304.4 241.5L307.1 244.9L309.8 235.7L312.5 244.9L315.2 235.7L317.9 234.6L320.6 221.9L323.3 223.1L326 225.4L328.7 238L331.4 205.8L334.1 203.5L336.8 217.3L339.5 244.9L342.2 241.5L344.9 231.1L347.6 231.1L350.3 232.2L353 227.7L355.7 227.7L358.4 226.5L361.1 208.1L363.8 208.1L366.5 230L369.2 230L371.9 197.8L374.6 198.9L377.3 213.9L380 221.9L382.7 223.1L385.4 219.6L388.1 219.6L390.8 218.5L393.5 223.1L396.2 221.9L398.9 217.3L401.6 213.9L404.3 216.2L407 213.9L409.7 223.1L412.4 203.5L415.1 223.1L417.8 202.4L420.5 192L423.2 192L425.9 218.5L428.6 188.6L431.3 190.9L434 187.4L436.7 190.9L439.4 202.4L442.1 207L444.8 213.9L447.5 219.6L450.2 224.2L452.9 226.5L455.6 195.5L458.3 193.2L461 226.5L463.7 224.2L466.4 225.4L469.1 230L471.8 220.8L474.5 184L477.2 179.4L479.9 181.7L482.6 180.5L485.3 180.5L488 186.2L490.7 215L493.4 228.8L496.1 224.2L498.8 220.8L501.5 217.3L504.2 217.3L506.9 215L509.6 195.5L512.3 190.9L515 200.1L517.7 226.5L520.4 223.1L523.1 233.4L525.8 235.7L528.5 239.2L531.2 241.5L533.9 244.9L536.6 240.3L539.3 238L542 238L544.7 235.7L547.4 226.5L550.1 215L552.8 223.1L555.5 239.2L558.2 234.6L560.9 234.6L563.6 233.4L566.3 239.2L569 218.5L571.7 204.7L574.4 209.2L577.1 227.7L579.8 218.5L582.5 223.1L585.2 225.4L587.9 211.6L590.6 198.9L593.3 194.3L596 219.6L598.8 185.1L601.5 192L604.2 218.5L606.9 217.3L609.6 221.9L612.3 227.7L615 236.9L617.7 228.8L620.4 227.7L623.1 225.4L625.8 223.1L628.5 208.1L631.2 195.5L633.9 201.2L636.6 218.5L639.3 227.7L642 220.8L644.7 198.9L647.4 171.3L650.1 158.7L652.8 161L655.5 156.4L658.2 175.9L660.9 187.4L663.6 193.2L666.3 219.6L669 203.5L671.7 204.7L674.4 200.1L677.1 207L679.8 209.2L682.5 202.4L685.2 197.8L687.9 202.4L690.6 216.2L693.3 215L696 233.4L698.7 203.5L701.4 201.2L704.1 187.4L706.8 175.9L709.5 172.5L712.2 162.1L714.9 158.7L717.6 159.8L720.3 210.4L723 218.5L725.7 221.9L728.4 208.1L731.1 205.8L733.8 205.8L736.5 211.6L739.2 213.9L741.9 221.9L744.6 241.5L747.3 238L750 239.2L752.7 241.5L755.4 223.1L758.1 218.5L760.8 217.3L763.5 216.2L766.2 217.3L768.9 220.8L771.6 228.8L774.3 216.2L777 213.9L779.7 212.7L782.4 210.4L785.1 215L787.8 219.6L790.5 224.2L793.2 227.7L795.9 227.7L798.6 226.5L801.3 221.9L804 217.3L806.7 193.2L809.4 188.6L812.1 181.7L814.8 195.5L817.5 227.7L820.2 210.4L822.9 182.8L825.6 166.7L828.3 186.2L831 228.8L833.7 225.4L836.4 231.1L839.1 224.2L841.8 209.2L844.5 171.3L847.2 166.7L849.9 159.8L852.6 196.6L855.3 140.2L858 134.5L860.7 144.9L863.4 164.4L866.1 187.4L868.8 212.7L871.5 219.6L874.2 201.2L876.9 166.7L879.6 163.2L882.3 152.9L885 161L887.7 162.1L890.4 158.7L893.1 171.3L895.8 187.4L898.5 196.6L900.7 202.4M161.3 261L164 261L166.7 259.9L169.4 256.4L172.1 253L174.8 253L177.5 257.6L180.2 255.2L182.9 253L185.6 256.4L188.3 253L191 253L193.7 253M223.4 253L226.1 253L228.8 254.1L231.5 254.1L234.2 254.1M242.3 256.4L245 258.7L247.7 259.9L250.4 258.7L253.1 257.6L255.8 258.7L258.5 261L261.2 262.2L263.9 263.3L266.6 263.3L269.3 265.6L272 265.6L274.7 267.9L277.4 279.4L280.1 284L282.8 285.1L285.5 285.1L288.2 275.9L290.9 258.7L293.6 257.6L296.3 288.6L299 279.4L301.7 292.1L304.4 258.7L307.1 259.9L309.8 269.1L312.5 259.9L315.2 272.5L317.9 270.2L320.6 285.1L323.3 286.3L326 285.1L328.7 267.9L331.4 290.9L334.1 293.2L336.8 290.9L339.5 265.6L342.2 263.3L344.9 271.4L347.6 274.8L350.3 274.8L353 275.9L355.7 277.1L358.4 287.4L361.1 302.4L363.8 297.8L366.5 278.2L369.2 280.6L371.9 302.4L374.6 304.7L377.3 292.1L380 288.6L382.7 285.1L385.4 289.8L388.1 289.8L390.8 286.3L393.5 286.3L396.2 289.8L398.9 295.5L401.6 296.6L404.3 297.8L407 293.2L409.7 279.4L412.4 301.2L415.1 279.4L417.8 312.8L420.5 311.6L423.2 313.9L425.9 286.3L428.6 315.1L431.3 316.2L434 317.4L436.7 317.4L439.4 307L442.1 302.4L444.8 298.9L447.5 292.1L450.2 282.9L452.9 274.8L455.6 310.4L458.3 307L461 272.5L463.7 284L466.4 282.9L469.1 282.9L471.8 286.3L474.5 304.7L477.2 316.2L479.9 324.2L482.6 326.6L485.3 318.5L488 316.2L490.7 293.2L493.4 275.9L496.1 279.4L498.8 285.1L501.5 284L504.2 287.4L506.9 290.9L509.6 301.2L512.3 302.4L515 301.2L517.7 271.4L520.4 280.6L523.1 271.4L525.8 266.8L528.5 264.4L531.2 262.2L533.9 262.2L536.6 266.8L539.3 267.9L542 267.9L544.7 269.1L547.4 282.9L550.1 287.4L552.8 282.9L555.5 266.8L558.2 271.4L560.9 272.5L563.6 272.5L566.3 266.8L569 284L571.7 294.4L574.4 284L577.1 269.1L579.8 278.2L582.5 280.6L585.2 280.6L587.9 293.2L590.6 301.2L593.3 312.8L596 280.6L598.8 317.4L601.5 311.6L604.2 293.2L606.9 293.2L609.6 284L612.3 280.6L615 267.9L617.7 278.2L620.4 277.1L623.1 277.1L625.8 277.1L628.5 286.3L631.2 300.1L633.9 302.4L636.6 295.5L639.3 279.4L642 281.7L644.7 300.1L647.4 319.6L650.1 331.1L652.8 342.6L655.5 339.2L658.2 333.4L660.9 318.5L663.6 305.9L666.3 284L669 297.8L671.7 296.6L674.4 302.4L677.1 298.9L679.8 295.5L682.5 297.8L685.2 303.6L687.9 293.2L690.6 285.1L693.3 289.8L696 278.2L698.7 302.4L701.4 307L704.1 317.4L706.8 326.6L709.5 335.8L712.2 335.8L714.9 343.8L717.6 346.1L720.3 302.4L723 279.4L725.7 293.2L728.4 294.4L731.1 285.1L733.8 287.4L736.5 288.6L739.2 282.9L741.9 275.9L744.6 264.4L747.3 267.9L750 270.2L752.7 265.6L755.4 280.6L758.1 286.3L760.8 288.6L763.5 290.9L766.2 293.2L768.9 292.1L771.6 286.3L774.3 288.6L777 287.4L779.7 285.1L782.4 281.7L785.1 279.4L787.8 275.9L790.5 277.1L793.2 275.9L795.9 275.9L798.6 279.4L801.3 288.6L804 284L806.7 310.4L809.4 318.5L812.1 320.8L814.8 310.4L817.5 277.1L820.2 292.1L822.9 310.4L825.6 324.2L828.3 310.4L831 272.5L833.7 278.2L836.4 273.7L839.1 278.2L841.8 289.8L844.5 311.6L847.2 330L849.9 339.2L852.6 301.2L855.3 350.7L858 365.6L860.7 362.2L863.4 340.4L866.1 313.9L868.8 288.6L871.5 290.9L874.2 305.9L876.9 325.4L879.6 332.3L882.3 340.4L885 341.5L887.7 334.6L890.4 335.8L893.1 320.8L895.8 298.9L898.5 293.2L900.7 292.1" fill="none" stroke="url(#h1_a)" stroke-width="17" opacity=".8" stroke-linejoin="round" stroke-linecap="round" filter="url(#bl3)"/>
<path d="M159.9 243.5H162.8V237.4H159.9ZM168 256.7H170.9V259.9H168ZM178.8 255.6H181.7V258.2H178.8ZM227.4 249.2H230.3V246.5H227.4ZM230.1 254.4H233V256.4H230.1ZM232.8 249.2H235.7V247.4H232.8ZM232.8 254.4H235.7V256H232.8ZM240.9 246.9H243.8V243.3H240.9ZM240.9 256.7H243.8V260H240.9ZM243.6 244.6H246.5V238.1H243.6ZM249 244.6H251.9V241.1H249ZM251.7 245.8H254.6V241.7H251.7ZM254.4 244.6H257.3V239.3H254.4ZM254.4 259H257.3V264H254.4ZM257.1 242.3H260V238.1H257.1ZM257.1 261.3H260V266.8H257.1ZM259.8 262.4H262.7V267.4H259.8ZM265.2 241.2H268.1V237.3H265.2ZM270.6 237.7H273.5V233.5H270.6ZM270.6 265.9H273.5V272.3H270.6ZM273.3 235.4H276.2V229.4H273.3ZM273.7 229.4H275.8V217.1H273.7ZM273.7 272.5H275.8V277.4H273.7ZM276 279.7H278.9V283.2H276ZM278.7 284.3H281.6V288.3H278.7ZM286.8 223.9H289.7V217.6H286.8ZM287.2 217.6H289.3V215.9H287.2ZM289.5 259H292.4V263.7H289.5ZM289.9 263.7H292V273.9H289.9ZM292.6 261.6H294.7V275.1H292.6ZM297.6 279.7H300.5V283.1H297.6ZM298 283.1H300.1V290.1H298ZM303 241.2H305.9V235.9H303ZM303.4 235.9H305.5V225H303.4ZM303 259H305.9V262.7H303ZM306.1 238.4H308.2V237.7H306.1ZM305.7 260.2H308.6V266.1H305.7ZM306.1 266.1H308.2V267.1H306.1ZM311.1 244.6H314V241.4H311.1ZM311.5 241.4H313.6V237.7H311.5ZM313.8 235.4H316.7V230.4H313.8ZM316.5 234.2H319.4V230.2H316.5ZM316.5 270.5H319.4V276.8H316.5ZM316.9 276.8H319V283.1H316.9ZM319.2 285.4H322.1V290.2H319.2ZM324.6 285.4H327.5V291.3H324.6ZM327.3 268.2H330.2V274H327.3ZM330 205.5H332.9V200.5H330ZM330 291.2H332.9V294.8H330ZM335.4 217H338.3V211.9H335.4ZM335.4 291.2H338.3V297.5H335.4ZM338.5 271.4H340.6V277.8H338.5ZM343.5 271.7H346.4V276.3H343.5ZM348.9 275.1H351.8V279H348.9ZM351.6 276.2H354.5V279.9H351.6ZM362.4 298.1H365.3V304.3H362.4ZM365.1 278.6H368V284.5H365.1ZM367.8 229.7H370.7V225.7H367.8ZM368.2 225.7H370.3V210.8H368.2ZM370.5 302.7H373.4V308.3H370.5ZM376.3 296.2H378.4V302.7H376.3ZM381.3 222.8H384.2V216.8H381.3ZM386.7 219.3H389.6V216H386.7ZM392.1 222.8H395V217.7H392.1ZM397.5 217H400.4V212H397.5ZM397.5 295.8H400.4V300.8H397.5ZM408.3 222.8H411.2V219.5H408.3ZM408.3 279.7H411.2V283.1H408.3ZM408.7 283.1H410.8V296.3H408.7ZM413.7 222.8H416.6V217.7H413.7ZM413.7 279.7H416.6V286.1H413.7ZM416.4 202.1H419.3V196H416.4ZM424.5 286.6H427.4V291H424.5ZM429.9 190.6H432.8V184.9H429.9ZM438.4 196.8H440.5V192.9H438.4ZM443.4 299.2H446.3V305.3H443.4ZM451.5 226.2H454.4V221.7H451.5ZM451.9 221.7H454V209.7H451.9ZM451.5 275.1H454.4V278.7H451.5ZM454.2 195.2H457.1V189H454.2ZM460 277.1H462.1V282.9H460ZM465 225.1H467.9V220.8H465ZM467.7 229.7H470.6V224.4H467.7ZM468.1 224.4H470.2V222.8H468.1ZM467.7 283.2H470.6V288.7H467.7ZM470.4 220.5H473.3V214H470.4ZM470.8 214H472.9V203.4H470.8ZM470.4 286.6H473.3V292.6H470.4ZM473.5 310.3H475.6V314.2H473.5ZM475.8 316.5H478.7V322.3H475.8ZM478.5 324.6H481.4V329.6H478.5ZM483.9 318.8H486.8V323.5H483.9ZM489.3 214.7H492.2V210.8H489.3ZM489.3 293.5H492.2V299.8H489.3ZM489.7 299.8H491.8V314.2H489.7ZM492.4 279.7H494.5V288.8H492.4ZM494.7 223.9H497.6V217.7H494.7ZM500.1 284.3H503V289.7H500.1ZM502.8 287.8H505.7V292.2H502.8ZM505.5 214.7H508.4V208.2H505.5ZM505.9 208.2H508V198.5H505.9ZM505.5 291.2H508.4V296H505.5ZM508.2 195.2H511.1V188.9H508.2ZM508.2 301.6H511.1V305H508.2ZM514 193.8H516.1V192.9H514ZM513.6 301.6H516.5V306.3H513.6ZM516.3 271.7H519.2V277H516.3ZM516.7 277H518.8V289.9H516.7ZM522.1 274.9H524.2V278.6H522.1ZM535.2 240H538.1V233.8H535.2ZM540.6 237.7H543.5V233.5H540.6ZM540.6 268.2H543.5V273.9H540.6ZM543.3 235.4H546.2V230.2H543.3ZM543.3 269.4H546.2V274.2H543.3ZM551.4 222.8H554.3V216.4H551.4ZM551.4 283.2H554.3V286.8H551.4ZM554.1 238.9H557V232.4H554.1ZM554.5 232.4H556.6V225.1H554.5ZM554.1 267.1H557V271.1H554.1ZM554.5 271.1H556.6V280.9H554.5ZM556.8 271.7H559.7V275.9H556.8ZM564.9 238.9H567.8V233.1H564.9ZM564.9 267.1H567.8V271.7H564.9ZM565.3 271.7H567.4V282H565.3ZM573 209H575.9V205.3H573ZM575.7 227.4H578.6V223H575.7ZM576.1 223H578.2V212.3H576.1ZM575.7 269.4H578.6V273.8H575.7ZM578.4 278.6H581.3V283.7H578.4ZM586.9 208H589V200.9H586.9ZM589.2 198.6H592.1V193.8H589.2ZM594.6 219.3H597.5V215.6H594.6ZM595 285.2H597.1V292.6H595ZM603.1 214.1H605.2V208.4H603.1ZM602.7 293.5H605.6V298.8H602.7ZM608.5 290.1H610.6V291.2H608.5ZM618.9 227.4H621.8V224H618.9ZM624.7 219.5H626.8V210.1H624.7ZM624.3 277.4H627.2V281.8H624.3ZM629.7 300.4H632.6V304.6H629.7ZM635.5 214.2H637.6V206.4H635.5ZM635.1 295.8H638V302.2H635.1ZM637.8 279.7H640.7V286.1H637.8ZM640.9 215.1H643V203.6H640.9ZM640.9 286.9H643V298.1H640.9ZM643.2 198.6H646.1V193.6H643.2ZM643.2 300.4H646.1V304.8H643.2ZM643.6 304.8H645.7V310.1H643.6ZM646.3 324.2H648.4V329.1H646.3ZM648.6 331.4H651.5V337H648.6ZM649 337H651.1V340.6H649ZM651.3 160.7H654.2V157.1H651.3ZM654 339.5H656.9V343H654ZM657.1 172.1H659.2V165.5H657.1ZM656.7 333.8H659.6V338.4H656.7ZM659.4 318.8H662.3V324.4H659.4ZM659.8 324.4H661.9V331.4H659.8ZM662.1 306.1H665V312H662.1ZM664.8 219.3H667.7V214.1H664.8ZM665.2 214.1H667.3V204.5H665.2ZM664.8 284.3H667.7V288H664.8ZM665.2 288H667.3V298.2H665.2ZM675.6 299.2H678.5V305.7H675.6ZM681 202.1H683.9V198.5H681ZM681 298.1H683.9V303.4H681ZM689.1 215.9H692V209.9H689.1ZM694.5 233.1H697.4V227.1H694.5ZM697.2 203.2H700.1V198.8H697.2ZM697.2 302.7H700.1V307.6H697.2ZM699.9 307.3H702.8V312.1H699.9ZM700.3 312.1H702.4V315.4H700.3ZM702.6 187.1H705.5V183.1H702.6ZM703 183.1H705.1V177.9H703ZM705.3 175.6H708.2V172.4H705.3ZM705.7 331.7H707.8V333.8H705.7ZM708 172.2H710.9V168.6H708ZM708.4 168.6H710.5V164.1H708.4ZM710.7 161.8H713.6V158.6H710.7ZM716.1 159.5H719V155.7H716.1ZM718.8 210.1H721.7V206.1H718.8ZM718.8 302.7H721.7V307.5H718.8ZM721.5 279.7H724.4V284.6H721.5ZM724.2 221.6H727.1V216.7H724.2ZM724.6 216.7H726.7V210.1H724.6ZM729.6 285.4H732.5V289H729.6ZM737.7 213.6H740.6V209.4H737.7ZM737.7 283.2H740.6V289H737.7ZM740.4 276.2H743.3V280H740.4ZM743.1 241.2H746V237.3H743.1ZM743.1 264.8H746V270.6H743.1ZM748.5 238.9H751.4V233.8H748.5ZM753.9 280.9H756.8V287H753.9ZM767.4 220.5H770.3V216.1H767.4ZM770.5 222.8H772.6V218.2H770.5ZM772.8 215.9H775.7V209.9H772.8ZM775.5 287.8H778.4V293.9H775.5ZM780.9 282H783.8V287.5H780.9ZM786.3 276.2H789.2V282H786.3ZM789 223.9H791.9V219.5H789ZM791.7 227.4H794.6V221H791.7ZM794.4 227.4H797.3V222.5H794.4ZM794.4 276.2H797.3V282.4H794.4ZM797.1 279.7H800V284.8H797.1ZM797.5 284.8H799.6V286.6H797.5ZM802.5 217H805.4V211.4H802.5ZM802.9 287.6H805V302.1H802.9ZM805.2 310.8H808.1V317H805.2ZM807.9 188.3H810.8V182.2H807.9ZM813.7 191.9H815.8V183.7H813.7ZM813.3 310.8H816.2V315.7H813.3ZM813.7 315.7H815.8V318.8H813.7ZM816 277.4H818.9V280.7H816ZM816.4 280.7H818.5V292.8H816.4ZM818.7 210.1H821.6V204.3H818.7ZM819.1 297.7H821.2V303.9H819.1ZM821.8 176.6H823.9V168.7H821.8ZM821.4 310.8H824.3V316.8H821.4ZM826.8 186H829.7V182.7H826.8ZM829.9 276.4H832V291.9H829.9ZM834.9 230.8H837.8V226.3H834.9ZM837.6 223.9H840.5V218.2H837.6ZM837.6 278.6H840.5V284.1H837.6ZM840.3 209H843.2V203.4H840.3ZM840.3 290.1H843.2V295.1H840.3ZM846.1 335.5H848.2V337.2H846.1ZM851.1 196.3H854V191.4H851.1ZM851.1 301.6H854V304.9H851.1ZM851.5 304.9H853.6V315.8H851.5ZM853.8 140H856.7V134.1H853.8ZM859.2 144.6H862.1V141.1H859.2ZM859.6 141.1H861.7V136.5H859.6ZM861.9 164.1H864.8V158.5H861.9ZM862.3 158.5H864.4V146.9H862.3ZM862.3 346.1H864.4V356.1H862.3ZM864.6 187.1H867.5V183.7H864.6ZM865 319.7H867.1V330.1H865ZM867.3 288.9H870.2V294.4H867.3ZM870 291.2H872.9V296.3H870ZM870.4 296.3H872.5V303.9H870.4ZM872.7 200.9H875.6V195.7H872.7ZM873.1 195.7H875.2V185.2H873.1ZM872.7 306.1H875.6V312.1H872.7ZM875.4 166.4H878.3V163.1H875.4ZM878.1 163H881V157.5H878.1ZM878.5 157.5H880.6V154.9H878.5ZM883.5 160.7H886.4V155.6H883.5ZM886.2 161.8H889.1V156.8H886.2ZM891.6 171H894.5V166.5H891.6ZM892 166.5H894.1V160.7H892ZM894.7 183.1H896.8V173.3H894.7ZM894.7 303.9H896.8V310.6H894.7ZM897 196.3H899.9V191.6H897ZM899.7 292.4H901.6V297.4H899.7Z" fill="url(#h1_a)"/>
<path d="M158.7 261.3H164V267.2H158.7ZM161.4 261.3H166.7V266.4H161.4ZM165.3 243.5H168.2V237.3H165.3ZM168 246.9H170.9V243.5H168ZM174.9 257.9H180.2V265.4H174.9ZM178.8 248.1H181.7V245H178.8ZM183 246.9H188.3V243.7H183ZM243.6 259H246.5V263.9H243.6ZM249 259H251.9V262.2H249ZM258.6 241.2H263.9V232.6H258.6ZM261.3 263.6H266.6V268.7H261.3ZM265.2 263.6H268.1V268.3H265.2ZM266.7 265.9H272V274.2H266.7ZM273.3 268.2H276.2V272.5H273.3ZM278.7 214.7H281.6V211.3H278.7ZM282.9 285.4H288.2V292H282.9ZM286.8 276.2H289.7V282H286.8ZM287.2 282H289.3V283.1H287.2ZM289.5 246.9H292.4V244.1H289.5ZM293.7 207.8H299V200.1H293.7ZM298 216.9H300.1V208.2H298ZM299.1 292.4H304.4V300H299.1ZM305.7 244.6H308.6V238.4H305.7ZM307.2 269.4H312.5V274.9H307.2ZM311.5 266.3H313.6V270.5H311.5ZM316.9 230.2H319V223.9H316.9ZM321.9 222.8H324.8V216.6H321.9ZM324.6 225.1H327.5V221H324.6ZM327.7 274H329.8V288.9H327.7ZM338.1 244.6H341V239.8H338.1ZM338.1 265.9H341V271.4H338.1ZM340.8 241.2H343.7V237.9H340.8ZM340.8 263.6H343.7V267.6H340.8ZM342.3 230.8H347.6V225.8H342.3ZM345 275.1H350.3V280.3H345ZM348.9 232H351.8V228.2H348.9ZM350.4 227.4H355.7V220.9H350.4ZM354.3 227.4H357.2V224.1H354.3ZM354.7 281.2H356.8V285.4H354.7ZM357 226.2H359.9V221H357ZM357 287.8H359.9V291.7H357ZM357.4 291.7H359.5V300.4H357.4ZM361.2 207.8H366.5V201.8H361.2ZM365.1 229.7H368V224.9H365.1ZM367.8 280.9H370.7V284.7H367.8ZM373.2 198.6H376.1V192.9H373.2ZM372 305H377.3V311.6H372ZM376.3 208.1H378.4V200.9H376.3ZM378.6 221.6H381.5V217.8H378.6ZM378.6 288.9H381.5V293.7H378.6ZM382.8 219.3H388.1V212.7H382.8ZM392.1 286.6H395V293H392.1ZM394.8 221.6H397.7V217.9H394.8ZM400.2 296.9H403.1V300.7H400.2ZM401.7 298.1H407V306.8H401.7ZM405.6 293.5H408.5V299.5H405.6ZM408.7 219.5H410.8V205.5H408.7ZM414.1 217.7H416.2V211.5H414.1ZM415.2 313.1H420.5V319.7H415.2ZM417.9 191.7H423.2V183.6H417.9ZM419.1 311.9H422V317.7H419.1ZM420.6 191.7H425.9V185.2H420.6ZM424.9 214.8H427V208.9H424.9ZM424.9 291H427V302.9H424.9ZM426 188.3H431.3V179.7H426ZM427.2 315.4H430.1V320.1H427.2ZM429.9 316.5H432.8V320.9H429.9ZM431.4 187.1H436.7V179.4H431.4ZM435.3 190.6H438.2V187.1H435.3ZM438 202.1H440.9V196.8H438ZM438 307.3H440.9V311.6H438ZM440.7 302.7H443.6V306.4H440.7ZM443.4 213.6H446.3V209.8H443.4ZM446.1 219.3H449V213.6H446.1ZM448.8 223.9H451.7V218.1H448.8ZM448.8 283.2H451.7V288.2H448.8ZM453 310.8H458.3V316.6H453ZM456.9 307.3H459.8V313.2H456.9ZM459.6 226.2H462.5V221.1H459.6ZM459.6 272.8H462.5V277.1H459.6ZM461.1 284.3H466.4V292.5H461.1ZM465 283.2H467.9V289.5H465ZM473.1 183.7H476V177.8H473.1ZM478.5 181.4H481.4V175.4H478.5ZM480 180.2H485.3V174.2H480ZM480 326.9H485.3V333H480ZM486.6 186H489.5V180.6H486.6ZM486.6 316.5H489.5V321.8H486.6ZM489.7 210.8H491.8V201.2H489.7ZM492 228.5H494.9V222.1H492ZM492 276.2H494.9V279.7H492ZM494.7 279.7H497.6V284H494.7ZM497.4 220.5H500.3V215.9H497.4ZM496.2 285.4H501.5V291.6H496.2ZM505.9 296H508V299.2H505.9ZM513.6 199.8H516.5V193.8H513.6ZM516.3 226.2H519.2V221.7H516.3ZM521.7 233.1H524.6V229H521.7ZM522.1 229H524.2V225.1H522.1ZM521.7 271.7H524.6V274.9H521.7ZM524.4 267.1H527.3V272.6H524.4ZM527.1 238.9H530V234.1H527.1ZM527.1 264.8H530V270.9H527.1ZM529.8 241.2H532.7V236.2H529.8ZM529.8 262.4H532.7V266.7H529.8ZM532.5 262.4H535.4V268H532.5ZM535.2 267.1H538.1V271.9H535.2ZM536.7 237.7H542V230.5H536.7ZM543.7 274.2H545.8V280.9H543.7ZM546 226.2H548.9V220.2H546ZM546.4 220.2H548.5V217H546.4ZM546 283.2H548.9V288.8H546ZM555.6 234.2H560.9V227.4H555.6ZM559.5 234.2H562.4V228.5H559.5ZM558.3 272.8H563.6V280.6H558.3ZM561 272.8H566.3V280.8H561ZM565.3 233.1H567.4V220.6H565.3ZM567.6 218.2H570.5V214H567.6ZM568 214H570.1V209H568ZM567.6 284.3H570.5V289.2H567.6ZM568 289.2H570.1V292.4H568ZM569.1 204.4H574.4V196.3H569.1ZM569.1 294.6H574.4V303.5H569.1ZM573.4 290.6H575.5V292.4H573.4ZM577.2 218.2H582.5V210.4H577.2ZM581.1 222.8H584V218.5H581.1ZM583.8 280.9H586.7V284.7H583.8ZM584.2 284.7H586.3V291.2H584.2ZM586.5 293.5H589.4V299.3H586.5ZM589.6 305.3H591.7V310.8H589.6ZM590.7 313.1H596V319.7H590.7ZM596.1 317.6H601.4V324.7H596.1ZM602.7 218.2H605.6V214.1H602.7ZM608.1 284.3H611V290.1H608.1ZM610.8 227.4H613.7V222.7H610.8ZM613.5 236.6H616.4V230.1H613.5ZM613.5 268.2H616.4V271.4H613.5ZM613.9 271.4H616V277.2H613.9ZM616.2 228.5H619.1V224.4H616.2ZM615 278.6H620.3V285.6H615ZM621.6 225.1H624.5V220.4H621.6ZM620.4 277.4H625.7V284.8H620.4ZM624.3 222.8H627.2V219.5H624.3ZM624.7 281.8H626.8V284.3H624.7ZM627 207.8H629.9V202H627ZM627 286.6H629.9V292.2H627ZM632.4 200.9H635.3V194.4H632.4ZM635.1 218.2H638V214.2H635.1ZM637.8 227.4H640.7V224H637.8ZM643.6 193.6H645.7V182H643.6ZM645.9 171H648.8V166.5H645.9ZM645.9 319.9H648.8V324.2H645.9ZM650.1 342.9H655.4V348.9H650.1ZM656.7 175.6H659.6V172.1H656.7ZM659.4 187.1H662.3V182.8H659.4ZM662.1 192.9H665V187.6H662.1ZM662.5 312H664.6V316.5H662.5ZM666.3 298.1H671.6V306.1H666.3ZM670.2 296.9H673.1V302.2H670.2ZM675.6 206.7H678.5V200.3H675.6ZM678.3 295.8H681.2V300.7H678.3ZM682.5 197.5H687.8V191.9H682.5ZM689.1 285.4H692V291.3H689.1ZM690.6 290.1H695.9V295.4H690.6ZM694.9 284.1H697V289.8H694.9ZM702.6 317.6H705.5V321.7H702.6ZM706.8 336.1H712.1V344.1H706.8ZM721.5 218.2H724.4V212.4H721.5ZM726.9 207.8H729.8V202.6H726.9ZM725.7 294.6H731V303.1H725.7ZM732.3 287.8H735.2V294.2H732.3ZM735 211.2H737.9V205.5H735ZM733.8 288.9H739.1V294.3H733.8ZM743.5 237.3H745.6V231.6H743.5ZM743.5 270.6H745.6V273.9H743.5ZM744.6 237.7H749.9V229.6H744.6ZM745.8 268.2H748.7V271.9H745.8ZM747.3 270.5H752.6V277.7H747.3ZM751.2 241.2H754.1V236.8H751.2ZM751.6 236.8H753.7V226.6H751.6ZM751.2 265.9H754.1V269.9H751.2ZM756.6 286.6H759.5V290.9H756.6ZM759.3 217H762.2V211.9H759.3ZM759.3 288.9H762.2V295.3H759.3ZM762 291.2H764.9V297.4H762ZM764.7 217H767.6V212.8H764.7ZM767.4 292.4H770.3V297.4H767.4ZM770.1 228.5H773V222.8H770.1ZM770.1 286.6H773V293.1H770.1ZM771.6 288.9H776.9V297.1H771.6ZM775.5 213.6H778.4V207.8H775.5ZM778.2 285.4H781.1V291H778.2ZM779.7 210.1H785V203.6H779.7ZM783.6 214.7H786.5V210.5H783.6ZM787.8 277.4H793.1V284.3H787.8ZM791.7 276.2H794.6V282.4H791.7ZM797.1 226.2H800V221H797.1ZM799.8 221.6H802.7V217.4H799.8ZM802.9 211.4H805V204.3H802.9ZM802.5 284.3H805.4V287.6H802.5ZM805.2 192.9H808.1V187.9H805.2ZM807.9 318.8H810.8V323.6H807.9ZM816.4 222.5H818.5V214.7H816.4ZM821.8 316.8H823.9V322.2H821.8ZM822.9 166.4H828.2V158.7H822.9ZM822.9 324.6H828.2V331H822.9ZM827.2 182.7H829.3V168.7H827.2ZM826.8 310.8H829.7V314.3H826.8ZM827.2 314.3H829.3V322.2H827.2ZM829.5 272.8H832.4V276.4H829.5ZM831 225.1H836.3V219H831ZM838 284.1H840.1V287.8H838ZM843 171H845.9V165.7H843ZM843 311.9H845.9V315.4H843ZM845.7 166.4H848.6V162.7H845.7ZM845.7 330.3H848.6V335.5H845.7ZM847.2 339.5H852.5V347.9H847.2ZM853.8 351H856.7V354.6H853.8ZM854.2 354.6H856.3V359.6H854.2ZM855.3 134.2H860.6V125.5H855.3ZM864.6 314.2H867.5V319.7H864.6ZM867.3 212.4H870.2V206.8H867.3ZM867.7 206.8H869.8V194.1H867.7ZM867.7 294.4H869.8V307.3H867.7ZM870 219.3H872.9V213.7H870ZM870.4 213.7H872.5V207.7H870.4ZM875.4 325.7H878.3V329.6H875.4ZM878.1 332.6H881V337.6H878.1ZM879.6 152.6H884.9V146.3H879.6ZM886.2 334.9H889.1V338.2H886.2ZM887.7 158.4H893V153.3H887.7ZM891.6 321.1H894.5V327H891.6ZM892 327H894.1V333.8H892ZM894.3 187.1H897.2V183.1H894.3ZM894.3 299.2H897.2V303.9H894.3ZM897.4 191.6H899.5V189.4H897.4ZM899.7 202.1H901.6V196.3H899.7Z" fill="url(#h2_a)"/>
<path d="M161.4 242.3H166.7V234.4H161.4ZM165.3 260.2H168.2V265.5H165.3ZM174.9 245.8H180.2V239.5H174.9ZM183 256.7H188.3V260H183ZM245.1 243.5H250.4V236.9H245.1ZM245.1 260.2H250.4V265.8H245.1ZM251.7 257.9H254.6V263.1H251.7ZM261.3 241.2H266.6V233.2H261.3ZM267.9 238.9H270.8V233.7H267.9ZM274.8 212.4H280.1V206.4H274.8ZM280.2 212.4H285.5V206.4H280.2ZM280.2 285.4H285.5V292.4H280.2ZM284.1 213.6H287V207.4H284.1ZM292.2 246.9H295.1V244.1H292.2ZM292.2 257.9H295.1V261.6H292.2ZM293.7 288.9H299V295.7H293.7ZM297.6 222.8H300.5V216.9H297.6ZM299.1 205.5H304.4V198.8H299.1ZM307.2 235.4H312.5V230.3H307.2ZM311.1 260.2H314V266.3H311.1ZM312.6 272.8H317.9V279.5H312.6ZM318 221.6H323.3V213.9H318ZM320.7 286.6H326V291.8H320.7ZM327.3 237.7H330.2V233.5H327.3ZM331.5 203.2H336.8V198.1H331.5ZM331.5 293.5H336.8V300.5H331.5ZM345 230.8H350.3V224.2H345ZM354.3 277.4H357.2V281.2H354.3ZM358.5 207.8H363.8V200.8H358.5ZM358.5 302.7H363.8V308.6H358.5ZM369.3 197.5H374.6V191.8H369.3ZM375.9 213.6H378.8V208.1H375.9ZM375.9 292.4H378.8V296.2H375.9ZM381.3 285.4H384.2V290.5H381.3ZM382.8 290.1H388.1V297.7H382.8ZM385.5 290.1H390.8V296.3H385.5ZM388.2 218.2H393.5V212.7H388.2ZM389.4 286.6H392.3V291.2H389.4ZM394.8 290.1H397.7V293.3H394.8ZM399 213.6H404.3V207.1H399ZM402.9 215.9H405.8V210.4H402.9ZM404.4 213.6H409.7V206.1H404.4ZM409.8 203.2H415.1V195.1H409.8ZM409.8 301.6H415.1V308.8H409.8ZM420.6 314.2H425.9V322.9H420.6ZM424.5 218.2H427.4V214.8H424.5ZM431.4 317.6H436.7V323.7H431.4ZM434.1 317.6H439.4V323H434.1ZM440.7 206.7H443.6V202.9H440.7ZM446.1 292.4H449V295.9H446.1ZM455.7 192.9H461V185.5H455.7ZM461.1 223.9H466.4V215H461.1ZM473.1 305H476V310.3H473.1ZM474.6 179.1H479.9V171.2H474.6ZM482.7 180.2H488V172.8H482.7ZM498.9 217H504.2V211.7H498.9ZM502.8 217H505.7V212.4H502.8ZM509.7 190.6H515V184H509.7ZM509.7 302.7H515V308.4H509.7ZM517.8 222.8H523.1V216.3H517.8ZM517.8 280.9H523.1V289.1H517.8ZM524.4 235.4H527.3V229.1H524.4ZM532.5 244.6H535.4V238.3H532.5ZM536.7 268.2H542V274.6H536.7ZM547.5 214.7H552.8V208.6H547.5ZM547.5 287.8H552.8V295.6H547.5ZM561 233.1H566.3V226H561ZM573 284.3H575.9V290.6H573ZM579.9 280.9H585.2V288.1H579.9ZM583.8 225.1H586.7V221.6H583.8ZM586.5 211.2H589.4V208H586.5ZM589.2 301.6H592.1V305.3H589.2ZM590.7 194H596V186.2H590.7ZM594.6 280.9H597.5V285.2H594.6ZM596.1 184.8H601.4V178.6H596.1ZM600 191.7H602.9V185.6H600ZM600 311.9H602.9V316.9H600ZM604.2 217H609.5V208.8H604.2ZM604.2 293.5H609.5V300.3H604.2ZM608.1 221.6H611V217.2H608.1ZM610.8 280.9H613.7V284.4H610.8ZM618.9 277.4H621.8V281.4H618.9ZM628.5 195.2H633.8V189.9H628.5ZM631.2 302.7H636.5V308.6H631.2ZM640.5 220.5H643.4V215.1H640.5ZM640.5 282H643.4V286.9H640.5ZM647.4 158.4H652.7V150.6H647.4ZM652.8 156.1H658.1V149.4H652.8ZM666.3 203.2H671.6V195.6H666.3ZM670.2 204.4H673.1V199H670.2ZM671.7 199.8H677V191H671.7ZM671.7 302.7H677V311.4H671.7ZM678.3 209H681.2V204.9H678.3ZM682.5 303.9H687.8V311H682.5ZM686.4 202.1H689.3V198.3H686.4ZM686.4 293.5H689.3V299.5H686.4ZM690.6 214.7H695.9V206.4H690.6ZM694.5 278.6H697.4V284.1H694.5ZM699.9 200.9H702.8V196H699.9ZM705.3 326.9H708.2V331.7H705.3ZM710.7 336.1H713.6V340H710.7ZM712.2 158.4H717.5V151.8H712.2ZM713.4 344.1H716.3V349.4H713.4ZM714.9 346.4H720.2V351.7H714.9ZM724.2 293.5H727.1V298.1H724.2ZM728.4 205.5H733.7V198.8H728.4ZM731.1 205.5H736.4V197.4H731.1ZM740.4 221.6H743.3V218.3H740.4ZM753.9 222.8H756.8V218H753.9ZM756.6 218.2H759.5V214.1H756.6ZM760.8 215.9H766.1V207.8H760.8ZM763.5 293.5H768.8V302.4H763.5ZM778.2 212.4H781.1V206.5H778.2ZM783.6 279.7H786.5V285.7H783.6ZM786.3 219.3H789.2V214.1H786.3ZM798.6 288.9H803.9V296.4H798.6ZM809.4 181.4H814.7V173.8H809.4ZM809.4 321.1H814.7V328.2H809.4ZM813.3 195.2H816.2V191.9H813.3ZM816 227.4H818.9V222.5H816ZM818.7 292.4H821.6V297.7H818.7ZM821.4 182.5H824.3V176.6H821.4ZM829.5 228.5H832.4V224.5H829.5ZM831 278.6H836.3V285.3H831ZM834.9 273.9H837.8V279.3H834.9ZM847.2 159.5H852.5V152.6H847.2ZM855.3 365.9H860.6V374.7H855.3ZM859.2 362.5H862.1V366.8H859.2ZM861.9 340.6H864.8V346.1H861.9ZM880.8 340.6H883.7V344.3H880.8ZM882.3 341.8H887.6V349.3H882.3ZM887.7 336.1H893V344.3H887.7ZM897 293.5H899.9V298.4H897Z" fill="#fdf7a8"/>
</g>
<path d="M170.8 250.8H173.5V252.8H170.8ZM173.5 250.8H176.2V252.8H173.5ZM187 250.8H189.7V252.8H187ZM192.4 250.8H195.1V252.8H192.4ZM222.1 250.8H224.8V252.8H222.1ZM224.8 250.8H227.5V252.8H224.8Z" fill="#7a1d4f" opacity=".85"/>
<path d="M160 251.8V243.8H162.7V242.6H165.4V243.8H168.1V247.2H170.8V251.8V256.4H168.1V259.9H165.4V261H162.7V261H160ZM176.2 251.8V246.1H178.9V248.4H181.6V251.8V255.2H178.9V257.6H176.2ZM184.3 251.8V247.2H187V251.8V256.4H184.3ZM227.5 251.8V249.5H230.2V249.5H232.9V249.5H235.6V251.8V254.1H232.9V254.1H230.2V254.1H227.5ZM241 251.8V247.2H243.7V244.9H246.4V243.8H249.1V244.9H251.8V246.1H254.5V244.9H257.2V242.6H259.9V241.5H262.6V241.5H265.3V241.5H268V239.2H270.7V238H273.4V235.7H276.1V212.7H278.8V215H281.5V212.7H284.2V213.9H286.9V224.2H289.6V247.2H292.3V247.2H295V208.1H297.7V223.1H300.4V205.8H303.1V241.5H305.8V244.9H308.5V235.7H311.2V244.9H313.9V235.7H316.6V234.6H319.3V221.9H322V223.1H324.7V225.4H327.4V238H330.1V205.8H332.8V203.5H335.5V217.3H338.2V244.9H340.9V241.5H343.6V231.1H346.3V231.1H349V232.2H351.7V227.7H354.4V227.7H357.1V226.5H359.8V208.1H362.5V208.1H365.2V230H367.9V230H370.6V197.8H373.3V198.9H376V213.9H378.7V221.9H381.4V223.1H384.1V219.6H386.8V219.6H389.5V218.5H392.2V223.1H394.9V221.9H397.6V217.3H400.3V213.9H403V216.2H405.7V213.9H408.4V223.1H411.1V203.5H413.8V223.1H416.5V202.4H419.2V192H421.9V192H424.6V218.5H427.3V188.6H430V190.9H432.7V187.4H435.4V190.9H438.1V202.4H440.8V207H443.5V213.9H446.2V219.6H448.9V224.2H451.6V226.5H454.3V195.5H457V193.2H459.7V226.5H462.4V224.2H465.1V225.4H467.8V230H470.5V220.8H473.2V184H475.9V179.4H478.6V181.7H481.3V180.5H484V180.5H486.7V186.2H489.4V215H492.1V228.8H494.8V224.2H497.5V220.8H500.2V217.3H502.9V217.3H505.6V215H508.3V195.5H511V190.9H513.7V200.1H516.4V226.5H519.1V223.1H521.8V233.4H524.5V235.7H527.2V239.2H529.9V241.5H532.6V244.9H535.3V240.3H538V238H540.7V238H543.4V235.7H546.1V226.5H548.8V215H551.5V223.1H554.2V239.2H556.9V234.6H559.6V234.6H562.3V233.4H565V239.2H567.7V218.5H570.4V204.7H573.1V209.2H575.8V227.7H578.5V218.5H581.2V223.1H583.9V225.4H586.6V211.6H589.3V198.9H592V194.3H594.7V219.6H597.4V185.1H600.1V192H602.8V218.5H605.5V217.3H608.2V221.9H610.9V227.7H613.6V236.9H616.3V228.8H619V227.7H621.7V225.4H624.4V223.1H627.1V208.1H629.8V195.5H632.5V201.2H635.2V218.5H637.9V227.7H640.6V220.8H643.3V198.9H646V171.3H648.7V158.7H651.4V161H654.1V156.4H656.8V175.9H659.5V187.4H662.2V193.2H664.9V219.6H667.6V203.5H670.3V204.7H673V200.1H675.7V207H678.4V209.2H681.1V202.4H683.8V197.8H686.5V202.4H689.2V216.2H691.9V215H694.6V233.4H697.3V203.5H700V201.2H702.7V187.4H705.4V175.9H708.1V172.5H710.8V162.1H713.5V158.7H716.2V159.8H718.9V210.4H721.6V218.5H724.3V221.9H727V208.1H729.7V205.8H732.4V205.8H735.1V211.6H737.8V213.9H740.5V221.9H743.2V241.5H745.9V238H748.6V239.2H751.3V241.5H754V223.1H756.7V218.5H759.4V217.3H762.1V216.2H764.8V217.3H767.5V220.8H770.2V228.8H772.9V216.2H775.6V213.9H778.3V212.7H781V210.4H783.7V215H786.4V219.6H789.1V224.2H791.8V227.7H794.5V227.7H797.2V226.5H799.9V221.9H802.6V217.3H805.3V193.2H808V188.6H810.7V181.7H813.4V195.5H816.1V227.7H818.8V210.4H821.5V182.8H824.2V166.7H826.9V186.2H829.6V228.8H832.3V225.4H835V231.1H837.7V224.2H840.4V209.2H843.1V171.3H845.8V166.7H848.5V159.8H851.2V196.6H853.9V140.2H856.6V134.5H859.3V144.9H862V164.4H864.7V187.4H867.4V212.7H870.1V219.6H872.8V201.2H875.5V166.7H878.2V163.2H880.9V152.9H883.6V161H886.3V162.1H889V158.7H891.7V171.3H894.4V187.4H897.1V196.6H899.8V202.4H901.5V251.8V292.1H899.8V293.2H897.1V298.9H894.4V320.8H891.7V335.8H889V334.6H886.3V341.5H883.6V340.4H880.9V332.3H878.2V325.4H875.5V305.9H872.8V290.9H870.1V288.6H867.4V313.9H864.7V340.4H862V362.2H859.3V365.6H856.6V350.7H853.9V301.2H851.2V339.2H848.5V330H845.8V311.6H843.1V289.8H840.4V278.2H837.7V273.7H835V278.2H832.3V272.5H829.6V310.4H826.9V324.2H824.2V310.4H821.5V292.1H818.8V277.1H816.1V310.4H813.4V320.8H810.7V318.5H808V310.4H805.3V284H802.6V288.6H799.9V279.4H797.2V275.9H794.5V275.9H791.8V277.1H789.1V275.9H786.4V279.4H783.7V281.7H781V285.1H778.3V287.4H775.6V288.6H772.9V286.3H770.2V292.1H767.5V293.2H764.8V290.9H762.1V288.6H759.4V286.3H756.7V280.6H754V265.6H751.3V270.2H748.6V267.9H745.9V264.4H743.2V275.9H740.5V282.9H737.8V288.6H735.1V287.4H732.4V285.1H729.7V294.4H727V293.2H724.3V279.4H721.6V302.4H718.9V346.1H716.2V343.8H713.5V335.8H710.8V335.8H708.1V326.6H705.4V317.4H702.7V307H700V302.4H697.3V278.2H694.6V289.8H691.9V285.1H689.2V293.2H686.5V303.6H683.8V297.8H681.1V295.5H678.4V298.9H675.7V302.4H673V296.6H670.3V297.8H667.6V284H664.9V305.9H662.2V318.5H659.5V333.4H656.8V339.2H654.1V342.6H651.4V331.1H648.7V319.6H646V300.1H643.3V281.7H640.6V279.4H637.9V295.5H635.2V302.4H632.5V300.1H629.8V286.3H627.1V277.1H624.4V277.1H621.7V277.1H619V278.2H616.3V267.9H613.6V280.6H610.9V284H608.2V293.2H605.5V293.2H602.8V311.6H600.1V317.4H597.4V280.6H594.7V312.8H592V301.2H589.3V293.2H586.6V280.6H583.9V280.6H581.2V278.2H578.5V269.1H575.8V284H573.1V294.4H570.4V284H567.7V266.8H565V272.5H562.3V272.5H559.6V271.4H556.9V266.8H554.2V282.9H551.5V287.4H548.8V282.9H546.1V269.1H543.4V267.9H540.7V267.9H538V266.8H535.3V262.2H532.6V262.2H529.9V264.4H527.2V266.8H524.5V271.4H521.8V280.6H519.1V271.4H516.4V301.2H513.7V302.4H511V301.2H508.3V290.9H505.6V287.4H502.9V284H500.2V285.1H497.5V279.4H494.8V275.9H492.1V293.2H489.4V316.2H486.7V318.5H484V326.6H481.3V324.2H478.6V316.2H475.9V304.7H473.2V286.3H470.5V282.9H467.8V282.9H465.1V284H462.4V272.5H459.7V307H457V310.4H454.3V274.8H451.6V282.9H448.9V292.1H446.2V298.9H443.5V302.4H440.8V307H438.1V317.4H435.4V317.4H432.7V316.2H430V315.1H427.3V286.3H424.6V313.9H421.9V311.6H419.2V312.8H416.5V279.4H413.8V301.2H411.1V279.4H408.4V293.2H405.7V297.8H403V296.6H400.3V295.5H397.6V289.8H394.9V286.3H392.2V286.3H389.5V289.8H386.8V289.8H384.1V285.1H381.4V288.6H378.7V292.1H376V304.7H373.3V302.4H370.6V280.6H367.9V278.2H365.2V297.8H362.5V302.4H359.8V287.4H357.1V277.1H354.4V275.9H351.7V274.8H349V274.8H346.3V271.4H343.6V263.3H340.9V265.6H338.2V290.9H335.5V293.2H332.8V290.9H330.1V267.9H327.4V285.1H324.7V286.3H322V285.1H319.3V270.2H316.6V272.5H313.9V259.9H311.2V269.1H308.5V259.9H305.8V258.7H303.1V292.1H300.4V279.4H297.7V288.6H295V257.6H292.3V258.7H289.6V275.9H286.9V285.1H284.2V285.1H281.5V284H278.8V279.4H276.1V267.9H273.4V265.6H270.7V265.6H268V263.3H265.3V263.3H262.6V262.2H259.9V261H257.2V258.7H254.5V257.6H251.8V258.7H249.1V259.9H246.4V258.7H243.7V256.4H241Z" fill="#0b0619"/>
</g></g>
<rect x="160" y="66.2" width="741.5" height="370" fill="none" stroke="#000" stroke-width="3.0"/>
<rect x="913.3" y="66.3" width="37.5" height="206.6" fill="url(#cb)" stroke="#000" stroke-width="3.0"/>
<path d="M941.6 135.4H950.8M941.6 204.1H950.8" stroke="#000" stroke-width="2.4"/>
<text x="960" y="78.5">3</text>
<text x="959.3" y="285.2">0</text>
<text x="844.3" y="39.7" textLength="184" lengthAdjust="spacingAndGlyphs">d<tspan font-style="italic">V</tspan>/d<tspan font-style="italic">I</tspan> (kΩ)</text>
<path d="M159.6 508H899.5" stroke="#000" stroke-width="3" stroke-dasharray="47.5 28.5" fill="none"/>
<text x="913.9" y="520.4" textLength="96" lengthAdjust="spacingAndGlyphs"><tspan font-style="italic">h</tspan>/2<tspan font-style="italic">e</tspan><tspan dy="-13" font-size="26">2</tspan></text>
<path d="M159.6 707.6H899.5" stroke="#000" stroke-width="3" stroke-dasharray="47.5 28.5" fill="none"/>
<text x="913.9" y="720" textLength="96" lengthAdjust="spacingAndGlyphs"><tspan font-style="italic">h</tspan>/6<tspan font-style="italic">e</tspan><tspan dy="-13" font-size="26">2</tspan></text>
<path d="M159.6 747.6H899.5" stroke="#000" stroke-width="3" stroke-dasharray="47.5 28.5" fill="none"/>
<text x="913.9" y="760" textLength="118.5" lengthAdjust="spacingAndGlyphs"><tspan font-style="italic">h</tspan>/10<tspan font-style="italic">e</tspan><tspan dy="-13" font-size="26">2</tspan></text>
<g clip-path="url(#p_a)" fill="none" stroke-width="6.6" stroke-linejoin="round" stroke-linecap="round">
<polyline points="162,806.7 164.7,806.2 167.4,806.2 168.2,805.9 170.1,780.7 171.7,759.9 172.8,756.1 175.5,740.6 176.1,738.6 177.9,777.8 180.9,774.8 181.4,775.8 183.5,783.3 184.9,806.7 186.3,797.6 187.5,790.1 189,762.4 191,725.2 194.4,713.8 195.4,706.8 196.3,627.9 199.8,648.2 200.7,651.9 202.5,629 205.2,595.8 207.7,561.8 209.9,587.4 213.3,560.1 213.9,558.1 216,549.5 218.6,542.4 220.9,605.6 224.1,686.8 224.4,692.9 226.8,769.6 228,802.4 229.5,788.9 230.6,779.6 232.2,790.9 234.1,798.6 235.9,692.9 237.6,674.6 240.3,711 242.9,806 245.7,806.7 246.4,806.7 248.4,800 251.1,789.2 251.7,785 253.8,798.4 255.2,806.9 256.5,803.9 259.2,800.8 261.4,797.2 264.6,806.3 264.9,806.7 267.3,805.5 270,805 271,803.4 272.7,804.9 274.5,806.6 278.1,801.2 279.8,800 280.8,802.2 283.5,805.3 284.2,806.9 286.2,805 288.9,801.5 291.6,797.8 292.1,797.2 294.3,802.1 296.5,806.8 299.7,805.4 302.4,804.4 304.4,802.7 307.8,807.2 308,806.7 310.5,806.3 313.2,805.3 315.9,804.4 318.6,803.7 321.3,803.9 322,803.4 324,803.4 326.7,802 329.1,801.4 332.1,802.9 334.8,803 337.5,803.2 339.6,804.2 342.9,805.2 345.6,806 348.3,806.8 348.4,806.7 351,804.3 353.7,805.8 355.4,806.8 356.4,806.8 359.1,805.5 361.8,804.8 364.5,801.8 366,803.3 367.2,802.3 369.9,805.7 371.2,806.7 372.6,806.7 375.3,805.5 378,804.9 378.3,805.1 380.7,805.7 383.4,807 383.6,806.8 386.1,806.5 388.8,806.8 391.5,806.8 394.2,806.8 396.9,806.6 398.5,806.7 399.6,806.2 400,806.4 402.3,805.4 405,803.1 407.7,802.9 409.9,801.3 413.1,804.9 414.8,805.9 415.8,806.3 418.5,805.9 421.2,805.8 423.9,806.1 426.6,805.8 429.3,805.8 432,806.2 434.7,806.1 437.4,806.1 440.1,806.1 442.8,806.2 444.5,806 445.5,803.7 448.2,800 449.5,798.7 450.9,800.4 453.6,803.7 455.7,805.8 459,806.4 461.7,805.5 464.4,805.6 467.1,805.5 469.8,805.1 472.5,805.1 475.2,805 477.9,804.9 480.6,805.6 481.6,805 483.3,804.8 486,803.9 488.7,800.4 489,801.3 491.4,802.1 494.1,803.2 496.8,804.5 498.9,805.8 502.2,806 504.9,806.2 507.6,805.7 510.3,805.8 513,806.2 515.7,805.9 518.4,806 521.1,805.9 523.8,805.7 526.5,805.8 529.2,805.5 531.9,805.7 533.6,805.9 534.6,805.5 537.3,803.3 540,802.1 542.7,800.6 543.5,801.1 545.4,801.3 548.1,801.6 550.8,803.3 553.4,803.9 556.2,804.1 558.9,803.1 561.6,804 564.3,805.4 567,805.4 568.2,805.1 569.7,805.1 572.4,805.4 575.1,805.5 577.8,805.1 580.5,805.4 583.2,805.8 585.5,806 588.6,801.7 591.3,798.2 591.7,797.8 594,801.4 596.7,804.1 597.9,805.9 599.4,806.4 602.1,805.7 604.8,806.1 607.5,806.1 610.2,805.7 612.9,805.6 615.6,806.4 617.7,805.9 621,802 622.6,801.3 623.7,800.7 626.4,801.1 629.1,801.5 631.8,801.4 634.5,801.3 635,801.5 637.2,801.1 639.9,804.2 642.4,805.9 645.3,806.1 648,806.1 650.7,805.6 653.4,806 656.1,806 658.8,805.9 661.5,805.6 664.2,806 666.9,805.7 669.6,806 672.3,805.8 675,806.2 677.7,806.3 680.4,805.6 682,805.8 683.1,805 685.8,803.9 688.5,803 691.2,800.8 691.9,800.7 693.9,801.3 696.6,806 696.8,805.9 699.3,805.6 702,805.8 704.7,805.4 707.4,805.5 710.1,803.3 712.8,804.3 715.5,803.4 716.6,804 718.2,801.9 720.9,801.1 723.6,802.3 724,800.6 726.3,802.3 729,802.4 731.4,805.1 734.4,805.7 737.1,806.6 739.8,803.8 742.5,803.3 745.2,803 747.9,804.9 750.6,804 751.2,803.6 753.3,804.9 756,802.3 758.7,803.9 761.4,801.9 764.1,802.9 766.8,801.9 768.5,802 769.5,802.3 772.2,803 774.9,805.1 777.6,805.2 778.4,805.8 780.3,804.4 783,801.1 783.4,800 785.7,804 788.3,805.9 791.1,802.3 793.8,801.4 795.7,798.8 799.2,802 801.9,804.5 803.2,805.9 804.6,806.1 807.3,805.8 810,805.5 812.7,805.4 815.4,805.4 818.1,805 820.5,805.1 823.5,804.4 826.2,802.9 828.9,802.5 831.6,801.6 832.8,800.9 834.3,801.1 837,801.8 839.7,803.5 842.4,804.9 842.7,805.1 845.1,804.4 847.8,802.7 850.5,801.1 852.6,800.3 855.9,801.4 858.6,804.2 861.3,805.3 862.5,805 864,804.7 866.7,804.2 869.4,804 872.1,803.1 874.8,803 874.9,802.4 877.5,803.4 880.2,804.3 882.9,804.9 884.8,805.8 888.3,804.2 891,803.5 893.7,802.1 896.4,801.5 897.2,801.5" stroke="#3e5d91"/>
<polyline points="162,742.5 164.7,738.4 167.3,740.7 170.1,736.2 171.7,735.6 172.8,732.9 175.2,726 177.9,730.6 180.9,726.4 181.4,726.8 183.6,721.9 184.9,716.6 186.3,715.7 187.5,713.9 189,694.9 190.2,684.9 191.7,676.3 194.4,665.8 194.6,667.6 197.1,653.9 199,644.2 201.6,570.7 202.5,564.2 205.2,552.7 206,552.1 207.9,554 210.4,556.5 213.3,560.6 215.7,567.5 218.3,577.2 221.4,566.7 221.8,568.6 224.1,581.8 225.3,583.8 226.8,588.7 228.8,600.8 232.2,624.1 232.4,627 234.9,639.3 235,638.9 237.6,633.6 240.3,624 242.9,636.9 245.5,656.4 248.4,660.5 249.9,663.4 251.1,665.9 253.5,676.1 256.5,687.2 257,688.1 259.2,704.1 260.5,707.4 261.9,716 264,726.9 267.3,735.4 268.4,734.8 270,740.9 271.9,745.2 274.5,758.5 278.1,756.1 279.8,756.3 280.8,756.7 283.3,765.1 286.2,764.5 288.9,760 289.5,761.1 291.6,763.1 294.3,769.1 295.6,770.7 297,772.7 299.7,775.3 300.9,775.3 302.4,779.3 304.4,782.1 307.8,776.2 308,774.5 310.5,777.9 312.3,777.6 315.9,780.7 318.5,778.3 321.3,774.5 322.9,769.3 324,769.7 326.7,772.7 328.2,775.8 329.4,775 332.1,778.5 334.8,775.8 336.1,778 337.5,775.8 340.2,780.1 342.9,783.4 344,781.4 345.6,783.5 348.3,788 351,792.3 353.7,780 354.5,776.1 356.4,773.7 359.1,777.9 361.6,780.3 364.5,775.6 366.8,769.7 369.9,775.3 372.6,777.8 373,780.2 375.3,779.3 378,776.7 379.2,776.4 380.7,780 382.7,785 386.1,779.9 387.1,777.9 388.8,779.1 391.5,777.7 394.1,783.7 396.9,787.1 398.5,784.3 399.6,786.4 400,784 402.3,784.3 405,786.7 407.4,785.8 410.4,781.5 413.1,776 413.6,775.4 415.8,781 418.5,789 418.6,789.5 421.2,784.5 423.9,782.5 424.7,780.6 426.6,784 429.3,789.5 430.9,792.5 432,790.1 434.7,786.8 437.1,783 440.1,783 442.8,779.5 445.5,777.9 445.8,779.1 448.2,780.7 450.9,780.3 451.9,781 453.6,779.2 456.3,785.9 459,788.1 459.4,788 461.7,788 464.4,789.5 466.8,785.2 469.8,790.9 472.5,790.5 474.2,793.2 475.2,792.1 477.9,794.3 480.6,796.7 481.6,794.9 483.3,790.5 486,789.9 487.8,788.7 488.7,790.3 491.4,794.9 494.1,797.8 495.2,797.3 496.8,792.3 499.5,791.6 501.4,787.4 504.9,785.2 507.6,784.3 510.3,779.3 512.5,771.3 515.7,783.6 516.3,787.1 518.4,786.8 521.1,789.8 523.7,790.9 526.5,787.3 529.2,788.7 531.1,788.2 534.6,794.6 536,799 537.3,794.9 540,789.3 542.2,783.9 545.4,782.5 548.1,782.8 550.8,782.7 550.9,782.9 553.5,784.5 556.2,789.9 558.3,788.7 561.6,789.1 564.3,787.5 565.7,787.9 567,788 569.7,793.6 572.4,795.8 573.1,793.8 575.1,791 577.8,788.5 578.1,785.1 580.5,784.9 583.2,785.8 585.5,787.8 588.6,781.5 591.3,777.2 591.7,776.4 594,779.9 596.7,788 597.9,789.2 599.4,791 602.1,796.9 602.8,798.9 604.8,796.7 607.5,791.5 610.2,787.5 610.2,789.8 612.9,789 615.6,786.6 617.7,785.2 621,782.4 623.7,782.4 623.8,781.7 626.4,784.9 629.1,789.1 630,790.4 631.8,784.3 634.5,785.8 636.2,780.3 637.2,780.1 639.9,787.5 642.6,792 643.6,792 645.3,787.8 648,788.6 649.8,786.8 650.7,787.5 653.4,785.8 656.1,781.2 657.2,780.1 658.8,782.1 661.5,787.6 664.2,787.5 664.7,788.8 666.9,789.6 669.6,786.2 672.1,788.4 675,795.5 677,799.5 680.4,793.4 683.1,794.5 684.4,791.5 685.8,794.7 688.5,789.8 691.2,793 691.9,790.2 693.9,789.1 696.6,794.1 699.3,796.5 702,794.1 704.7,791.2 707.4,788.9 709.2,788.8 710.1,788.7 712.8,787.2 715.5,788.2 716.6,788.3 718.2,787.2 720.9,785.4 723.6,781.8 724,784.4 726.3,785.5 729,788.3 731.4,787.5 734.4,786.4 737.1,782.9 737.6,783.5 739.8,789.6 742.5,795.1 742.6,794.6 745.2,793.1 747.9,784.9 748.8,787.5 750.6,786.7 753.3,787.7 756,788.9 756.2,789.5 758.7,791 761.4,788.5 763.6,785.6 766.8,783 769.5,782.6 769.8,782.9 772.2,784.1 774.9,788.2 776,787.6 777.6,786.5 780.3,782.2 783,784.2 783.4,785 785.7,785.6 788.4,792.3 790.8,796 793.8,792.1 796.5,791.1 798.2,789.1 799.2,787.3 801.9,785.8 804.6,782.9 806.9,782.4 810,782.4 812.7,784 815.4,789.5 815.5,788.2 818.1,791.2 820.8,790.2 823.5,794.2 824.2,791.7 826.2,790.5 828.9,787.9 831.6,788.6 832.8,788 834.3,792.4 837,792.9 839,794.3 842.4,787.6 845.1,783.3 845.2,783.4 847.8,785.1 850.5,791.5 851.4,790 853.2,784.1 855.9,783 857.6,778.8 858.6,780.2 861.3,787.9 864,792.8 866.2,798.6 869.4,793.8 872.1,786.1 873.7,783.3 874.8,784.6 877.5,788.3 880.2,794.1 881.1,793.6 882.9,789.8 885.6,787.7 888.3,784.3 891,781.8 893.7,788.9 896.4,795.9 897.2,795.3" stroke="#e95420"/>
</g>
<path d="M140.6 400.4H160M140.6 326.1H160M140.6 251.8H160M140.6 177.5H160M140.6 103.2H160M140.6 807.5H160M140.6 691.4H160M140.6 575.4H160M140.6 459.4H160M283.6 807.5V826.2M438.1 807.5V826.2M592.6 807.5V826.2M747.1 807.5V826.2M901.5 807.5V826.2M160 436.2V807.5H901.5V436.2" fill="none" stroke="#000" stroke-width="3.0" stroke-linejoin="miter"/>
<text x="133.6" y="117.2" text-anchor="end" textLength="44.6" lengthAdjust="spacingAndGlyphs">20</text>
<text x="133.6" y="265.8" text-anchor="end">0</text>
<text x="133.6" y="414.4" text-anchor="end" textLength="59" lengthAdjust="spacingAndGlyphs">-20</text>
<text x="133.6" y="821.5" text-anchor="end">0</text>
<text x="133.6" y="589.4" text-anchor="end" textLength="44.6" lengthAdjust="spacingAndGlyphs">10</text>
<text x="283.6" y="863.8" text-anchor="middle">0</text>
<text x="438.1" y="863.8" text-anchor="middle" textLength="54" lengthAdjust="spacingAndGlyphs">0.5</text>
<text x="592.6" y="863.8" text-anchor="middle">1</text>
<text x="747.1" y="863.8" text-anchor="middle" textLength="54" lengthAdjust="spacingAndGlyphs">1.5</text>
<text x="901.6" y="863.8" text-anchor="middle">2</text>
<text transform="translate(66.5 251.8) rotate(-90)" text-anchor="middle" textLength="310" lengthAdjust="spacingAndGlyphs">Current bias (n<tspan font-style="italic">A</tspan>)</text>
<text transform="translate(66.7 623) rotate(-90)" text-anchor="middle" textLength="184" lengthAdjust="spacingAndGlyphs">d<tspan font-style="italic">V</tspan>/d<tspan font-style="italic">I</tspan> (kΩ)</text>
<text x="336.2" y="904.6" textLength="390.6" lengthAdjust="spacingAndGlyphs">Back-gate voltage (V)</text>
<path d="M619.2 547.5H711.1" stroke="#3e5d91" stroke-width="6.5" stroke-linecap="round"/>
<path d="M619.2 603.5H711.1" stroke="#e95420" stroke-width="6.5" stroke-linecap="round"/>
<text x="718.6" y="559.9" textLength="137.2" lengthAdjust="spacingAndGlyphs"><tspan font-style="italic">I</tspan> = 0 nA</text>
<text x="718.6" y="615.7" textLength="159.4" lengthAdjust="spacingAndGlyphs"><tspan font-style="italic">I</tspan> = 26 nA</text>
<text x="182.3" y="118" textLength="120.6" lengthAdjust="spacingAndGlyphs"><tspan font-style="italic">B</tspan> = 3 T</text>
<text x="1.5" y="38.8" font-size="47" font-weight="bold">a</text>
</g>
<g id="panel-b">
<g clip-path="url(#c_b)">
<rect x="1252.5" y="67.4" width="741.5" height="370" fill="url(#g_b)"/>
<g filter="url(#soft)">
<rect x="1252.5" y="67.4" width="741.5" height="370" fill="url(#lo_b)" mask="url(#nmD_b)"/><rect x="1252.5" y="67.4" width="741.5" height="370" fill="url(#hi_b)" mask="url(#nmL_b)"/>
<g mask="url(#mk_b)">
<path d="M1378.1 246.1L1380.8 241.5L1383.5 248.4M1391.6 249.6L1394.3 246.1L1397 243.8L1399.7 241.5L1402.4 243.8L1405.1 242.7L1407.8 242.7L1410.5 239.2L1413.2 238.1L1415.9 239.2L1418.6 238.1L1421.3 240.3L1424 236.9L1426.7 239.2L1429.4 236.9L1432.1 239.2L1434.8 247.2L1437.5 238.1L1440.2 238.1L1442.9 235.8L1445.6 236.9L1448.3 234.6L1451 238.1L1453.7 238.1L1456.4 243.8L1459.1 243.8L1461.8 242.7L1464.5 243.8L1467.2 249.6L1469.9 249.6L1472.6 249.6L1475.3 249.6L1478 248.4L1480.7 236.9L1483.4 239.2L1486.1 248.4L1488.8 251.8L1491.5 251.8M1496.9 248.4L1499.6 241.5L1502.3 239.2L1505 236.9L1507.7 234.6L1510.4 234.6L1513.1 236.9L1515.8 238.1L1518.5 241.5L1521.2 246.1L1523.9 251.8L1526.6 248.4L1529.3 247.2L1532 246.1L1534.7 244.9L1537.4 243.8L1540.1 244.9L1542.8 244.9L1545.5 246.1L1548.2 247.2L1550.9 249.6L1553.6 249.6L1556.3 238.1L1559 239.2L1561.7 238.1L1564.4 236.9L1567.1 230L1569.8 226.6L1572.5 225.4L1575.2 226.6L1577.9 238.1L1580.6 238.1L1583.3 232.3L1586 221.9L1588.7 221.9L1591.4 219.7L1594.1 220.8L1596.8 223.1L1599.5 205.8L1602.2 201.2L1604.9 219.7L1607.6 219.7L1610.3 223.1L1613 223.1L1615.7 224.2L1618.4 220.8L1621.1 220.8L1623.8 223.1L1626.5 241.5L1629.2 241.5L1631.9 241.5L1634.6 242.7L1637.3 232.3L1640 232.3L1642.7 232.3L1645.4 232.3L1648.1 246.1L1650.8 246.1L1653.5 244.9L1656.2 246.1L1658.9 244.9L1661.6 246.1L1664.3 246.1L1667 246.1L1669.7 246.1L1672.4 244.9L1675.1 246.1L1677.8 244.9L1680.5 218.5L1683.2 218.5L1685.9 215.1L1688.6 233.4L1691.3 234.6L1694 235.8L1696.7 226.6L1699.4 218.5L1702.1 215.1L1704.8 217.3L1707.5 213.9L1710.2 213.9L1712.9 216.2L1715.6 230L1718.3 230L1721 231.2L1723.7 228.8L1726.4 231.2L1729.1 209.3L1731.8 207L1734.5 205.8L1737.2 208.2L1739.9 215.1L1742.6 215.1L1745.3 216.2L1748 216.2L1750.7 218.5L1753.4 249.6L1756.1 249.6L1758.8 223.1L1761.5 226.6L1764.2 226.6L1766.9 223.1L1769.6 226.6L1772.3 224.2L1775 226.6L1777.7 201.2L1780.4 205.8L1783.1 207L1785.8 210.4L1788.5 216.2L1791.2 220.8L1793.9 217.3L1796.6 246.1L1799.3 246.1L1802 241.5L1804.7 241.5L1807.4 242.7L1810.1 241.5L1812.8 231.2L1815.5 220.8L1818.2 220.8L1820.9 224.2L1823.6 223.1L1826.3 219.7L1829 224.2L1831.7 230L1834.4 232.3L1837.1 213.9L1839.8 215.1L1842.5 210.4L1845.2 239.2L1847.9 238.1L1850.6 236.9L1853.3 212.8L1856 205.8L1858.7 198.9L1861.4 192.1L1864.1 189.8L1866.8 198.9L1869.5 209.3L1872.2 221.9L1874.9 225.4L1877.6 208.2L1880.3 211.6L1883 210.4L1885.7 239.2L1888.4 239.2L1891.1 239.2L1893.8 239.2L1896.5 235.8L1899.2 233.4L1901.9 235.8L1904.6 235.8L1907.3 233.4L1910 246.1L1912.7 244.9L1915.4 227.7L1918.1 225.4L1920.8 228.8L1923.5 226.6L1926.2 225.4L1928.9 228.8L1931.6 246.1L1934.3 246.1L1937 225.4L1939.7 218.5L1942.4 213.9L1945.1 212.8L1947.8 220.8L1950.5 224.2L1953.2 233.4L1955.9 233.4L1958.6 215.1L1961.3 208.2L1964 211.6L1966.7 216.2L1969.4 223.1L1972.1 246.1L1974.8 231.2L1977.5 231.2L1980.2 232.3L1982.9 234.6L1985.6 232.3L1988.3 207L1991 210.4L1993.2 209.3M1378.1 259.9L1380.8 266.8L1383.5 257.6M1391.6 256.4L1394.3 259.9L1397 262.2L1399.7 263.4L1402.4 262.2L1405.1 262.2L1407.8 264.5L1410.5 266.8L1413.2 267.9L1415.9 267.9L1418.6 266.8L1421.3 266.8L1424 266.8L1426.7 267.9L1429.4 266.8L1432.1 267.9L1434.8 259.9L1437.5 269.1L1440.2 269.1L1442.9 269.1L1445.6 271.4L1448.3 271.4L1451 269.1L1453.7 269.1L1456.4 262.2L1459.1 262.2L1461.8 262.2L1464.5 262.2L1467.2 256.4L1469.9 256.4L1472.6 256.4L1475.3 256.4L1478 257.6L1480.7 266.8L1483.4 267.9L1486.1 257.6L1488.8 254.2L1491.5 254.2M1496.9 257.6L1499.6 263.4L1502.3 267.9L1505 269.1L1507.7 269.1L1510.4 270.2L1513.1 269.1L1515.8 267.9L1518.5 264.5L1521.2 259.9L1523.9 254.2L1526.6 257.6L1529.3 259.9L1532 259.9L1534.7 262.2L1537.4 262.2L1540.1 262.2L1542.8 261.1L1545.5 259.9L1548.2 258.8L1550.9 256.4L1553.6 256.4L1556.3 267.9L1559 267.9L1561.7 267.9L1564.4 266.8L1567.1 278.3L1569.8 281.8L1572.5 280.6L1575.2 281.8L1577.9 267.9L1580.6 266.8L1583.3 272.6L1586 285.2L1588.7 285.2L1591.4 282.9L1594.1 284.1L1596.8 285.2L1599.5 295.6L1602.2 299L1604.9 282.9L1607.6 284.1L1610.3 285.2L1613 285.2L1615.7 285.2L1618.4 284.1L1621.1 284.1L1623.8 285.2L1626.5 264.5L1629.2 264.5L1631.9 263.4L1634.6 264.5L1637.3 272.6L1640 273.7L1642.7 273.7L1645.4 273.7L1648.1 261.1L1650.8 261.1L1653.5 259.9L1656.2 261.1L1658.9 259.9L1661.6 259.9L1664.3 261.1L1667 261.1L1669.7 261.1L1672.4 259.9L1675.1 261.1L1677.8 259.9L1680.5 287.5L1683.2 288.6L1685.9 286.4L1688.6 271.4L1691.3 271.4L1694 271.4L1696.7 280.6L1699.4 290.9L1702.1 292.1L1704.8 292.1L1707.5 288.6L1710.2 287.5L1712.9 287.5L1715.6 274.9L1718.3 274.9L1721 274.9L1723.7 274.9L1726.4 276L1729.1 293.2L1731.8 294.4L1734.5 295.6L1737.2 295.6L1739.9 295.6L1742.6 293.2L1745.3 290.9L1748 289.8L1750.7 288.6L1753.4 256.4L1756.1 256.4L1758.8 279.4L1761.5 280.6L1764.2 280.6L1766.9 279.4L1769.6 281.8L1772.3 279.4L1775 281.8L1777.7 301.3L1780.4 303.6L1783.1 304.8L1785.8 296.7L1788.5 287.5L1791.2 289.8L1793.9 287.5L1796.6 261.1L1799.3 259.9L1802 263.4L1804.7 263.4L1807.4 264.5L1810.1 263.4L1812.8 273.7L1815.5 284.1L1818.2 284.1L1820.9 285.2L1823.6 285.2L1826.3 282.9L1829 285.2L1831.7 274.9L1834.4 276L1837.1 294.4L1839.8 294.4L1842.5 292.1L1845.2 267.9L1847.9 267.9L1850.6 266.8L1853.3 293.2L1856 303.6L1858.7 313.9L1861.4 318.6L1864.1 309.4L1866.8 301.3L1869.5 292.1L1872.2 281.8L1874.9 284.1L1877.6 296.7L1880.3 299L1883 297.9L1885.7 265.6L1888.4 265.6L1891.1 265.6L1893.8 265.6L1896.5 272.6L1899.2 271.4L1901.9 271.4L1904.6 271.4L1907.3 271.4L1910 259.9L1912.7 259.9L1915.4 279.4L1918.1 278.3L1920.8 279.4L1923.5 278.3L1926.2 278.3L1928.9 279.4L1931.6 261.1L1934.3 259.9L1937 281.8L1939.7 285.2L1942.4 288.6L1945.1 289.8L1947.8 287.5L1950.5 281.8L1953.2 273.7L1955.9 273.7L1958.6 289.8L1961.3 295.6L1964 297.9L1966.7 292.1L1969.4 279.4L1972.1 259.9L1974.8 272.6L1977.5 272.6L1980.2 272.6L1982.9 273.7L1985.6 272.6L1988.3 296.7L1991 297.9L1993.2 297.9" fill="none" stroke="url(#h1_b)" stroke-width="10" opacity=".8" stroke-linejoin="round" stroke-linecap="round" filter="url(#bl3)"/>
<path d="M1376.6 245.8H1379.5V241.4H1376.6ZM1376.6 260.2H1379.5V266.5H1376.6ZM1382.4 261.3H1384.5V264.8H1382.4ZM1390.1 256.8H1393V260.6H1390.1ZM1392.8 260.2H1395.7V266.6H1392.8ZM1395.5 243.5H1398.4V238.6H1395.5ZM1400.9 243.5H1403.8V237.4H1400.9ZM1400.9 262.5H1403.8V268.9H1400.9ZM1403.6 262.5H1406.5V267.4H1403.6ZM1406.3 242.3H1409.2V237.1H1406.3ZM1406.3 264.8H1409.2V269.7H1406.3ZM1409 238.9H1411.9V232.5H1409ZM1409 267.1H1411.9V273.4H1409ZM1417.1 267.1H1420V272.2H1417.1ZM1425.2 238.9H1428.1V233.5H1425.2ZM1430.6 238.9H1433.5V234.3H1430.6ZM1433.3 246.9H1436.2V242.1H1433.3ZM1433.7 242.1H1435.8V240.1H1433.7ZM1438.7 237.8H1441.6V233.9H1438.7ZM1441.4 269.4H1444.3V275.4H1441.4ZM1444.1 236.6H1447V231.8H1444.1ZM1449.5 237.8H1452.4V231.7H1449.5ZM1449.5 269.4H1452.4V275.1H1449.5ZM1454.9 243.5H1457.8V239.2H1454.9ZM1454.9 262.5H1457.8V266.5H1454.9ZM1463 243.5H1465.9V239.1H1463ZM1476.5 248.1H1479.4V244.6H1476.5ZM1476.5 257.9H1479.4V260.9H1476.5ZM1481.9 238.9H1484.8V234.2H1481.9ZM1485 244.6H1487.1V241.2H1485ZM1484.6 257.9H1487.5V261.3H1484.6ZM1485 261.3H1487.1V265.9H1485ZM1495.4 248.1H1498.3V245.4H1495.4ZM1498.1 241.2H1501V235.8H1498.1ZM1498.1 263.6H1501V270.1H1498.1ZM1503.5 236.6H1506.4V232.7H1503.5ZM1511.6 236.6H1514.5V231H1511.6ZM1517 241.2H1519.9V236.9H1517ZM1517 264.8H1519.9V268.1H1517ZM1519.7 245.8H1522.6V242.6H1519.7ZM1530.5 245.8H1533.4V241.8H1530.5ZM1530.5 260.2H1533.4V265.3H1530.5ZM1533.2 244.7H1536.1V240.9H1533.2ZM1544 260.2H1546.9V265.3H1544ZM1546.7 246.9H1549.6V242.6H1546.7ZM1546.7 259.1H1549.6V263.8H1546.7ZM1549.4 256.8H1552.3V260H1549.4ZM1552.1 249.2H1555V245.6H1552.1ZM1552.5 245.6H1554.6V240.1H1552.5ZM1557.5 238.9H1560.4V235.1H1557.5ZM1562.9 236.6H1565.8V232.3H1562.9ZM1562.9 267.1H1565.8V270.7H1562.9ZM1563.3 270.7H1565.4V276.3H1563.3ZM1568.3 226.2H1571.2V219.8H1568.3ZM1573.7 226.2H1576.6V220.4H1573.7ZM1576.4 237.8H1579.3V232.7H1576.4ZM1576.8 232.7H1578.9V228.6H1576.8ZM1576.4 268.2H1579.3V274.2H1576.4ZM1576.8 274.2H1578.9V279.8H1576.8ZM1579.1 267.1H1582V273.3H1579.1ZM1582.2 225.9H1584.3V223.9H1582.2ZM1581.8 272.9H1584.7V277H1581.8ZM1587.2 221.7H1590.1V218.2H1587.2ZM1589.9 283.2H1592.8V289.3H1589.9ZM1592.6 220.5H1595.5V215.6H1592.6ZM1592.6 284.4H1595.5V289.8H1592.6ZM1595.3 285.5H1598.2V291.9H1595.3ZM1595.7 291.9H1597.8V293.6H1595.7ZM1598 295.9H1600.9V299.7H1598ZM1603.8 213.5H1605.9V204.8H1603.8ZM1614.2 223.9H1617.1V218.8H1614.2ZM1616.9 284.4H1619.8V288.4H1616.9ZM1622.3 222.8H1625.2V216.9H1622.3ZM1625 241.2H1627.9V237.7H1625ZM1625.4 237.7H1627.5V225.1H1625.4ZM1633.1 242.3H1636V238.1H1633.1ZM1633.5 238.1H1635.6V234.3H1633.5ZM1647 264.8H1649.1V271.7H1647ZM1654.7 245.8H1657.6V242.5H1654.7ZM1668.2 245.8H1671.1V240.9H1668.2ZM1670.9 260.2H1673.8V266.7H1670.9ZM1676.7 238.9H1678.8V225.1H1676.7ZM1676.7 264.4H1678.8V276.1H1676.7ZM1679 287.8H1681.9V291.3H1679ZM1681.7 218.2H1684.6V214.4H1681.7ZM1687.1 233.2H1690V226.8H1687.1ZM1687.5 226.8H1689.6V222H1687.5ZM1687.5 276.6H1689.6V282.6H1687.5ZM1689.8 234.3H1692.7V229.2H1689.8ZM1692.9 231.9H1695V228.6H1692.9ZM1692.5 271.7H1695.4V275H1692.5ZM1695.2 226.2H1698.1V219.8H1695.2ZM1695.6 285.3H1697.7V288.9H1695.6ZM1697.9 291.2H1700.8V297.5H1697.9ZM1703.3 217.1H1706.2V212.7H1703.3ZM1714.1 229.7H1717V224.3H1714.1ZM1714.5 224.3H1716.6V218.2H1714.5ZM1714.1 275.1H1717V278.6H1714.1ZM1714.5 278.6H1716.6V285.5H1714.5ZM1725.3 226.8H1727.4V216.1H1725.3ZM1724.9 276.3H1727.8V280.3H1724.9ZM1727.6 209H1730.5V203.6H1727.6ZM1730.3 206.7H1733.2V201.4H1730.3ZM1735.7 207.9H1738.6V204.2H1735.7ZM1738.4 214.8H1741.3V210.4H1738.4ZM1743.8 291.2H1746.7V295.1H1743.8ZM1749.2 288.9H1752.1V292.8H1749.2ZM1751.9 249.2H1754.8V245.6H1751.9ZM1752.3 259.8H1754.4V273.7H1752.3ZM1757.3 279.8H1760.2V283.2H1757.3ZM1762.7 226.2H1765.6V220.4H1762.7ZM1765.4 279.8H1768.3V283.2H1765.4ZM1773.5 226.2H1776.4V222.4H1773.5ZM1773.9 222.4H1776V208.2H1773.9ZM1781.6 206.7H1784.5V202.7H1781.6ZM1784.3 297H1787.2V300.5H1784.3ZM1787 215.9H1789.9V210.8H1787ZM1787 287.8H1789.9V292.1H1787ZM1792.4 287.8H1795.3V292.8H1792.4ZM1795.5 267.6H1797.6V282.9H1795.5ZM1797.8 260.2H1800.7V266.1H1797.8ZM1803.2 263.6H1806.1V270H1803.2ZM1809 268.7H1811.1V271.7H1809ZM1811.3 230.8H1814.2V226.3H1811.3ZM1811.7 226.3H1813.8V222.8H1811.7ZM1811.3 274H1814.2V278.2H1811.3ZM1811.7 278.2H1813.8V282.1H1811.7ZM1819.4 223.9H1822.3V218.2H1819.4ZM1824.8 283.2H1827.7V288.6H1824.8ZM1827.5 223.9H1830.4V220.2H1827.5ZM1830.2 229.7H1833.1V224.9H1830.2ZM1830.2 275.1H1833.1V281.2H1830.2ZM1830.6 281.2H1832.7V283.2H1830.6ZM1833.3 227.9H1835.4V220.6H1833.3ZM1849.5 233H1851.6V227.4H1849.5ZM1851.8 212.4H1854.7V206.1H1851.8ZM1851.8 293.6H1854.7V298.3H1851.8ZM1852.2 298.3H1854.3V301.6H1852.2ZM1854.5 205.6H1857.4V199.2H1854.5ZM1854.5 303.9H1857.4V308.9H1854.5ZM1865.3 198.7H1868.2V194.3H1865.3ZM1865.3 301.6H1868.2V306.4H1865.3ZM1868 292.4H1870.9V297.2H1868ZM1868.4 297.2H1870.5V299.3H1868.4ZM1871.1 288.1H1873.2V290.1H1871.1ZM1873.4 225.1H1876.3V221.5H1873.4ZM1878.8 211.3H1881.7V207.5H1878.8ZM1884.2 238.9H1887.1V235.4H1884.2ZM1884.2 265.9H1887.1V270.1H1884.2ZM1892.3 238.9H1895.2V233.3H1892.3ZM1897.7 271.7H1900.6V277.8H1897.7ZM1900.4 235.4H1903.3V229.1H1900.4ZM1908.9 240.3H1911V235.4H1908.9ZM1908.9 265.5H1911V269.4H1908.9ZM1911.6 240H1913.7V229.7H1911.6ZM1911.2 260.2H1914.1V266.7H1911.2ZM1919.3 228.6H1922.2V224.4H1919.3ZM1922 226.2H1924.9V220.9H1922ZM1922 278.6H1924.9V282.7H1922ZM1924.7 278.6H1927.6V285H1924.7ZM1930.1 245.8H1933V242.4H1930.1ZM1930.5 242.4H1932.6V233.6H1930.5ZM1930.1 261.4H1933V266.9H1930.1ZM1930.5 266.9H1932.6V277.4H1930.5ZM1933.2 242.5H1935.3V232.1H1933.2ZM1932.8 260.2H1935.7V263.7H1932.8ZM1933.2 263.7H1935.3V274.8H1933.2ZM1935.5 282.1H1938.4V286H1935.5ZM1938.2 218.2H1941.1V214.6H1938.2ZM1940.9 213.6H1943.8V207.7H1940.9ZM1946.3 287.8H1949.2V292.1H1946.3ZM1951.7 233.2H1954.6V227.3H1951.7ZM1952.1 227.3H1954.2V226.2H1952.1ZM1954.4 233.2H1957.3V226.8H1954.4ZM1954.8 226.8H1956.9V217.1H1954.8ZM1957.1 290.1H1960V295.9H1957.1ZM1962.5 211.3H1965.4V206.7H1962.5ZM1965.2 292.4H1968.1V298.3H1965.2ZM1968.3 284.4H1970.4V290.1H1968.3ZM1970.6 245.8H1973.5V242.4H1970.6ZM1971 242.4H1973.1V232.3H1971ZM1970.6 260.2H1973.5V264.7H1970.6ZM1978.7 272.9H1981.6V277.3H1978.7ZM1984.1 232H1987V228.3H1984.1ZM1984.5 228.3H1986.6V214.3H1984.5ZM1984.1 272.9H1987V276.2H1984.1Z" fill="url(#h1_b)"/>
<path d="M1382 248.1H1384.9V244.5H1382ZM1382 257.9H1384.9V261.3H1382ZM1390.1 249.2H1393V246.2H1390.1ZM1392.8 245.8H1395.7V239.3H1392.8ZM1395.5 262.5H1398.4V268.8H1395.5ZM1397.4 241.2H1401.9V233.7H1397.4ZM1402.8 242.3H1407.3V235.8H1402.8ZM1410.9 237.8H1415.4V232.3H1410.9ZM1414.4 238.9H1417.3V235.3H1414.4ZM1416.3 237.8H1420.8V229.3H1416.3ZM1422.5 267.1H1425.4V272.2H1422.5ZM1427.9 267.1H1430.8V271.1H1427.9ZM1433.3 260.2H1436.2V263.5H1433.3ZM1437.9 269.4H1442.4V275.5H1437.9ZM1440.6 235.4H1445.1V228.5H1440.6ZM1446 234.3H1450.5V226.3H1446ZM1446 271.7H1450.5V276.9H1446ZM1451.4 237.8H1455.9V231.4H1451.4ZM1457.6 243.5H1460.5V240H1457.6ZM1459.5 242.3H1464V233.7H1459.5ZM1462.2 262.5H1466.7V270.2H1462.2ZM1465.7 249.2H1468.6V245.6H1465.7ZM1465.7 256.8H1468.6V259.8H1465.7ZM1468.4 249.2H1471.3V246.2H1468.4ZM1471.1 249.2H1474V246.2H1471.1ZM1471.1 256.8H1474V260H1471.1ZM1473.8 256.8H1476.7V260.5H1473.8ZM1476.9 244.6H1479V238.9H1476.9ZM1476.9 260.9H1479V264.8H1476.9ZM1478.4 236.6H1482.9V229.1H1478.4ZM1479.2 267.1H1482.1V272.3H1479.2ZM1481.1 268.2H1485.6V275.5H1481.1ZM1495.4 257.9H1498.3V260.3H1495.4ZM1500.8 238.9H1503.7V235H1500.8ZM1500.8 268.2H1503.7V272.6H1500.8ZM1506.2 269.4H1509.1V273.7H1506.2ZM1511.6 269.4H1514.5V274.2H1511.6ZM1514.3 237.8H1517.2V233.7H1514.3ZM1514.3 268.2H1517.2V272.6H1514.3ZM1519.7 260.2H1522.6V264.6H1519.7ZM1525.1 248.1H1528V244.1H1525.1ZM1525.1 257.9H1528V260.4H1525.1ZM1527.8 246.9H1530.7V243.1H1527.8ZM1535.1 243.5H1539.6V238.3H1535.1ZM1537.8 262.5H1542.3V268.2H1537.8ZM1540.5 244.7H1545V236.3H1540.5ZM1541.3 261.4H1544.2V266H1541.3ZM1544 245.8H1546.9V241.5H1544ZM1549.4 249.2H1552.3V246.2H1549.4ZM1552.1 256.8H1555V259.8H1552.1ZM1552.5 259.8H1554.6V265.9H1552.5ZM1560.2 237.8H1563.1V231.8H1560.2ZM1559.4 268.2H1563.9V276.9H1559.4ZM1565.6 229.7H1568.5V224.8H1565.6ZM1567.5 282.1H1572V291H1567.5ZM1571 280.9H1573.9V285.6H1571ZM1572.9 282.1H1577.4V289.4H1572.9ZM1581.8 232H1584.7V225.9H1581.8ZM1582.2 277H1584.3V283.2H1582.2ZM1583.7 221.7H1588.2V213.5H1583.7ZM1583.7 285.5H1588.2V290.6H1583.7ZM1586.4 285.5H1590.9V292.6H1586.4ZM1595.3 222.8H1598.2V217.1H1595.3ZM1595.7 217.1H1597.8V209.8H1595.7ZM1598 205.6H1600.9V200H1598ZM1599.9 299.3H1604.4V306H1599.9ZM1603.4 219.4H1606.3V213.5H1603.4ZM1603.4 283.2H1606.3V287.9H1603.4ZM1603.8 287.9H1605.9V297H1603.8ZM1606.1 284.4H1609V288H1606.1ZM1608.8 222.8H1611.7V216.4H1608.8ZM1608 285.5H1612.5V293.9H1608ZM1610.7 222.8H1615.2V216.7H1610.7ZM1610.7 285.5H1615.2V292.7H1610.7ZM1613.4 285.5H1617.9V291H1613.4ZM1616.1 220.5H1620.6V212.7H1616.1ZM1618.8 220.5H1623.3V213.8H1618.8ZM1619.6 284.4H1622.5V290.1H1619.6ZM1621.5 285.5H1626V292.1H1621.5ZM1625.4 270.4H1627.5V277.1H1625.4ZM1626.9 264.8H1631.4V271.6H1626.9ZM1629.6 241.2H1634.1V235H1629.6ZM1630.4 263.6H1633.3V268.4H1630.4ZM1633.1 264.8H1636V269.5H1633.1ZM1635 232H1639.5V223H1635ZM1637.7 274H1642.2V279.6H1637.7ZM1640.4 274H1644.9V281.2H1640.4ZM1643.1 232H1647.6V223.6H1643.1ZM1643.1 274H1647.6V282.1H1643.1ZM1646.6 261.4H1649.5V264.8H1646.6ZM1649.3 245.8H1652.2V241.2H1649.3ZM1652 260.2H1654.9V266.2H1652ZM1653.9 261.4H1658.4V269.3H1653.9ZM1657.4 260.2H1660.3V266.2H1657.4ZM1660.1 245.8H1663V240.5H1660.1ZM1660.1 260.2H1663V266.2H1660.1ZM1664.7 245.8H1669.2V239.2H1664.7ZM1664.7 261.4H1669.2V267H1664.7ZM1667.4 261.4H1671.9V267H1667.4ZM1673.6 245.8H1676.5V241.3H1673.6ZM1676.3 260.2H1679.2V264.4H1676.3ZM1678.2 218.2H1682.7V211.4H1678.2ZM1683.6 214.8H1688.1V207.6H1683.6ZM1684.4 286.6H1687.3V291.6H1684.4ZM1687.1 271.7H1690V276.6H1687.1ZM1689 271.7H1693.5V279.1H1689ZM1692.5 235.4H1695.4V231.9H1692.5ZM1695.2 280.9H1698.1V285.3H1695.2ZM1697.9 218.2H1700.8V214.1H1697.9ZM1699.8 214.8H1704.3V207.2H1699.8ZM1706 288.9H1708.9V293.9H1706ZM1707.9 213.6H1712.4V206H1707.9ZM1708.7 287.8H1711.6V292.6H1708.7ZM1711.4 215.9H1714.3V209.7H1711.4ZM1716 229.7H1720.5V222.7H1716ZM1719.5 230.8H1722.4V227.3H1719.5ZM1722.2 275.1H1725.1V281.2H1722.2ZM1724.9 230.8H1727.8V226.8H1724.9ZM1727.6 293.6H1730.5V299.4H1727.6ZM1730.3 294.7H1733.2V300.5H1730.3ZM1734.9 295.9H1739.4V301.4H1734.9ZM1737.6 295.9H1742.1V303.1H1737.6ZM1741.1 293.6H1744V298.8H1741.1ZM1743.8 215.9H1746.7V209.5H1743.8ZM1746.5 290.1H1749.4V294.1H1746.5ZM1749.2 218.2H1752.1V213.7H1749.2ZM1751.9 256.8H1754.8V259.8H1751.9ZM1760 226.2H1762.9V220.1H1760ZM1761.9 280.9H1766.4V288.5H1761.9ZM1768.1 226.2H1771V222.1H1768.1ZM1770.8 279.8H1773.7V284.2H1770.8ZM1773.9 288.4H1776V299.3H1773.9ZM1775.4 201H1779.9V193.3H1775.4ZM1780.8 305.1H1785.3V310.5H1780.8ZM1787.4 292.1H1789.5V294.7H1787.4ZM1789.7 220.5H1792.6V216.1H1789.7ZM1788.9 290.1H1793.4V295.4H1788.9ZM1797.8 245.8H1800.7V241.8H1797.8ZM1799.7 263.6H1804.2V271.2H1799.7ZM1805.9 242.3H1808.8V238.2H1805.9ZM1805.1 264.8H1809.6V271.2H1805.1ZM1808.6 241.2H1811.5V236H1808.6ZM1815.9 220.5H1820.4V212.6H1815.9ZM1816.7 284.4H1819.6V289.8H1816.7ZM1822.1 222.8H1825V216.5H1822.1ZM1821.3 285.5H1825.8V291.4H1821.3ZM1832.9 232H1835.8V227.9H1832.9ZM1834.8 213.6H1839.3V208.5H1834.8ZM1841 292.4H1843.9V295.8H1841ZM1844.1 234.9H1846.2V220.8H1844.1ZM1845.6 268.2H1850.1V274.3H1845.6ZM1849.1 236.6H1852V233H1849.1ZM1849.1 267.1H1852V271.7H1849.1ZM1854.9 308.9H1857V311.9H1854.9ZM1857.2 198.7H1860.1V193.8H1857.2ZM1857.2 314.2H1860.1V319.6H1857.2ZM1861.8 189.5H1866.3V181.8H1861.8ZM1862.6 309.6H1865.5V316H1862.6ZM1863 316H1865.1V316.6H1863ZM1865.7 194.3H1867.8V191.8H1865.7ZM1868 209H1870.9V205.7H1868ZM1868.4 205.7H1870.5V200.9H1868.4ZM1870.7 221.7H1873.6V217.6H1870.7ZM1870.7 282.1H1873.6V288.1H1870.7ZM1873.4 284.4H1876.3V290.4H1873.4ZM1876.1 297H1879V300.3H1876.1ZM1880.7 210.2H1885.2V203.9H1880.7ZM1884.6 235.4H1886.7V225.1H1884.6ZM1886.1 238.9H1890.6V230.5H1886.1ZM1886.1 265.9H1890.6V272.2H1886.1ZM1888.8 238.9H1893.3V233.1H1888.8ZM1888.8 265.9H1893.3V274.1H1888.8ZM1892.3 265.9H1895.2V269.3H1892.3ZM1895 235.4H1897.9V231.1H1895ZM1896.9 233.2H1901.4V225.5H1896.9ZM1902.3 271.7H1906.8V277.7H1902.3ZM1905 271.7H1909.5V279.8H1905ZM1908.5 245.8H1911.4V240.3H1908.5ZM1908.5 260.2H1911.4V265.5H1908.5ZM1911.2 244.7H1914.1V240H1911.2ZM1913.9 227.4H1916.8V221.1H1913.9ZM1916.6 278.6H1919.5V282H1916.6ZM1932.8 245.8H1935.7V242.5H1932.8ZM1935.5 225.1H1938.4V219.1H1935.5ZM1938.2 285.5H1941.1V290.9H1938.2ZM1940.9 288.9H1943.8V294.9H1940.9ZM1942.8 290.1H1947.3V295.7H1942.8ZM1946.3 220.5H1949.2V214.8H1946.3ZM1954.4 274H1957.3V277.6H1954.4ZM1957.1 214.8H1960V208.7H1957.1ZM1959.8 295.9H1962.7V301.5H1959.8ZM1967.9 279.8H1970.8V284.4H1967.9ZM1971 264.7H1973.1V277.4H1971ZM1972.5 272.9H1977V280.4H1972.5ZM1978.7 232H1981.6V228.4H1978.7ZM1981.4 234.3H1984.3V228.5H1981.4ZM1980.6 274H1985.1V282.2H1980.6ZM1986.8 297H1989.7V303.3H1986.8ZM1989.5 210.2H1992.4V204.9H1989.5Z" fill="url(#h2_b)"/>
<path d="M1378.5 241.2H1383V233.1H1378.5ZM1378.5 267.1H1383V272.8H1378.5ZM1397.4 263.6H1401.9V271.9H1397.4ZM1410.9 268.2H1415.4V274.4H1410.9ZM1413.6 268.2H1418.1V275.2H1413.6ZM1419.8 240.1H1422.7V236.2H1419.8ZM1419 267.1H1423.5V275.6H1419ZM1421.7 236.6H1426.2V228.7H1421.7ZM1424.4 268.2H1428.9V275.8H1424.4ZM1427.1 236.6H1431.6V227.7H1427.1ZM1429.8 268.2H1434.3V276.4H1429.8ZM1435.2 237.8H1439.7V232.3H1435.2ZM1435.2 269.4H1439.7V277.2H1435.2ZM1443.3 271.7H1447.8V277.4H1443.3ZM1451.4 269.4H1455.9V275.2H1451.4ZM1456.8 262.5H1461.3V270.6H1456.8ZM1459.5 262.5H1464V270.2H1459.5ZM1468.4 256.8H1471.3V260.4H1468.4ZM1473.8 249.2H1476.7V247H1473.8ZM1484.6 248.1H1487.5V244.6H1484.6ZM1502.7 269.4H1507.2V278.4H1502.7ZM1505.4 234.3H1509.9V227.5H1505.4ZM1508.1 234.3H1512.6V226H1508.1ZM1508.1 270.6H1512.6V275.8H1508.1ZM1527 260.2H1531.5V269.2H1527ZM1532.4 262.5H1536.9V268H1532.4ZM1535.1 262.5H1539.6V269.4H1535.1ZM1538.6 244.7H1541.5V240.9H1538.6ZM1554 237.8H1558.5V231.2H1554ZM1554 268.2H1558.5V276.7H1554ZM1556.7 268.2H1561.2V274.4H1556.7ZM1565.6 278.6H1568.5V282.1H1565.6ZM1570.2 225.1H1574.7V219.7H1570.2ZM1579.1 237.8H1582V233.9H1579.1ZM1589.1 219.4H1593.6V212.8H1589.1ZM1599.9 201H1604.4V192.3H1599.9ZM1605.3 219.4H1609.8V212.8H1605.3ZM1625 264.8H1627.9V270.4H1625ZM1626.9 241.2H1631.4V234.2H1626.9ZM1635.8 272.9H1638.7V276.9H1635.8ZM1637.7 232H1642.2V225.5H1637.7ZM1640.4 232H1644.9V225.3H1640.4ZM1646.6 245.8H1649.5V242.2H1646.6ZM1648.5 261.4H1653V267.8H1648.5ZM1651.2 244.7H1655.7V237H1651.2ZM1656.6 244.7H1661.1V237.3H1656.6ZM1662 245.8H1666.5V237H1662ZM1662 261.4H1666.5V268H1662ZM1670.1 244.7H1674.6V237.6H1670.1ZM1672.8 261.4H1677.3V266.7H1672.8ZM1676.3 244.7H1679.2V238.9H1676.3ZM1680.9 288.9H1685.4V297.7H1680.9ZM1699.8 292.4H1704.3V300.1H1699.8ZM1702.5 292.4H1707V298.3H1702.5ZM1705.2 213.6H1709.7V207.3H1705.2ZM1710.6 287.8H1715.1V295H1710.6ZM1716 275.1H1720.5V280.8H1716ZM1718.7 275.1H1723.2V280.4H1718.7ZM1721.4 228.6H1725.9V221.2H1721.4ZM1732.2 205.6H1736.7V200.1H1732.2ZM1732.2 295.9H1736.7V302.2H1732.2ZM1740.3 214.8H1744.8V208.7H1740.3ZM1745.7 215.9H1750.2V210.6H1745.7ZM1754.6 249.2H1757.5V246.6H1754.6ZM1754.6 256.8H1757.5V260H1754.6ZM1756.5 222.8H1761V215.9H1756.5ZM1759.2 280.9H1763.7V286.8H1759.2ZM1764.6 222.8H1769.1V215.4H1764.6ZM1767.3 282.1H1771.8V289.4H1767.3ZM1770 223.9H1774.5V218.4H1770ZM1773.5 282.1H1776.4V288.4H1773.5ZM1776.2 301.6H1779.1V304.9H1776.2ZM1778.9 205.6H1781.8V199.5H1778.9ZM1778.9 303.9H1781.8V307.9H1778.9ZM1784.3 210.2H1787.2V205.3H1784.3ZM1791.6 217.1H1796.1V210.3H1791.6ZM1795.1 245.8H1798V241H1795.1ZM1795.1 261.4H1798V267.6H1795.1ZM1799.7 241.2H1804.2V233.9H1799.7ZM1802.4 241.2H1806.9V235.4H1802.4ZM1808.6 263.6H1811.5V268.7H1808.6ZM1813.2 220.5H1817.7V213.5H1813.2ZM1813.2 284.4H1817.7V292.1H1813.2ZM1818.6 285.5H1823.1V292.7H1818.6ZM1824 219.4H1828.5V213.2H1824ZM1826.7 285.5H1831.2V291.3H1826.7ZM1832.9 276.3H1835.8V280.9H1832.9ZM1834.8 294.7H1839.3V303.7H1834.8ZM1838.3 214.8H1841.2V208.6H1838.3ZM1837.5 294.7H1842V301.3H1837.5ZM1840.2 210.2H1844.7V202.8H1840.2ZM1843.7 238.9H1846.6V234.9H1843.7ZM1843.7 268.2H1846.6V272.9H1843.7ZM1846.4 237.8H1849.3V231.9H1846.4ZM1859.9 191.8H1862.8V188.1H1859.9ZM1859.1 318.9H1863.6V326.2H1859.1ZM1875.3 207.9H1879.8V202H1875.3ZM1878 299.3H1882.5V306.3H1878ZM1881.5 298.1H1884.4V303.4H1881.5ZM1894.2 272.9H1898.7V280.1H1894.2ZM1899.6 271.7H1904.1V278.3H1899.6ZM1903.1 235.4H1906V229.2H1903.1ZM1905 233.2H1909.5V224.6H1905ZM1913.1 279.8H1917.6V285.2H1913.1ZM1915.8 225.1H1920.3V218.6H1915.8ZM1918.5 279.8H1923V286.6H1918.5ZM1923.9 225.1H1928.4V216.8H1923.9ZM1927.4 228.6H1930.3V222.5H1927.4ZM1926.6 279.8H1931.1V285H1926.6ZM1942.8 212.4H1947.3V206.7H1942.8ZM1949 223.9H1951.9V220.2H1949ZM1949 282.1H1951.9V287.8H1949ZM1951.7 274H1954.6V277.2H1951.7ZM1959 207.9H1963.5V202.7H1959ZM1961.7 298.1H1966.2V305.9H1961.7ZM1965.2 215.9H1968.1V211.9H1965.2ZM1967.9 222.8H1970.8V217.6H1967.9ZM1972.5 230.8H1977V222H1972.5ZM1975.2 230.8H1979.7V222.7H1975.2ZM1975.2 272.9H1979.7V281.2H1975.2ZM1986 206.7H1990.5V201.7H1986ZM1988.7 298.1H1993.2V304.5H1988.7ZM1991.4 209H1994.9V203.4H1991.4ZM1991.4 298.1H1994.9V305.1H1991.4Z" fill="#fdf7a8"/>
</g>
<path d="M1487.4 252H1490.1V254H1487.4ZM1490.1 252H1492.8V254H1490.1Z" fill="#7a1d4f" opacity=".85"/>
<path d="M1376.7 253V246.1H1379.4V241.5H1382.1V248.4H1384.8V253V257.6H1382.1V266.8H1379.4V259.9H1376.7ZM1390.2 253V249.6H1392.9V246.1H1395.6V243.8H1398.3V241.5H1401V243.8H1403.7V242.7H1406.4V242.7H1409.1V239.2H1411.8V238.1H1414.5V239.2H1417.2V238.1H1419.9V240.3H1422.6V236.9H1425.3V239.2H1428V236.9H1430.7V239.2H1433.4V247.2H1436.1V238.1H1438.8V238.1H1441.5V235.8H1444.2V236.9H1446.9V234.6H1449.6V238.1H1452.3V238.1H1455V243.8H1457.7V243.8H1460.4V242.7H1463.1V243.8H1465.8V249.6H1468.5V249.6H1471.2V249.6H1473.9V249.6H1476.6V248.4H1479.3V236.9H1482V239.2H1484.7V248.4H1487.4V253V257.6H1484.7V267.9H1482V266.8H1479.3V257.6H1476.6V256.4H1473.9V256.4H1471.2V256.4H1468.5V256.4H1465.8V262.2H1463.1V262.2H1460.4V262.2H1457.7V262.2H1455V269.1H1452.3V269.1H1449.6V271.4H1446.9V271.4H1444.2V269.1H1441.5V269.1H1438.8V269.1H1436.1V259.9H1433.4V267.9H1430.7V266.8H1428V267.9H1425.3V266.8H1422.6V266.8H1419.9V266.8H1417.2V267.9H1414.5V267.9H1411.8V266.8H1409.1V264.5H1406.4V262.2H1403.7V262.2H1401V263.4H1398.3V262.2H1395.6V259.9H1392.9V256.4H1390.2ZM1495.5 253V248.4H1498.2V241.5H1500.9V239.2H1503.6V236.9H1506.3V234.6H1509V234.6H1511.7V236.9H1514.4V238.1H1517.1V241.5H1519.8V246.1H1522.5V253V259.9H1519.8V264.5H1517.1V267.9H1514.4V269.1H1511.7V270.2H1509V269.1H1506.3V269.1H1503.6V267.9H1500.9V263.4H1498.2V257.6H1495.5ZM1525.2 253V248.4H1527.9V247.2H1530.6V246.1H1533.3V244.9H1536V243.8H1538.7V244.9H1541.4V244.9H1544.1V246.1H1546.8V247.2H1549.5V249.6H1552.2V249.6H1554.9V238.1H1557.6V239.2H1560.3V238.1H1563V236.9H1565.7V230H1568.4V226.6H1571.1V225.4H1573.8V226.6H1576.5V238.1H1579.2V238.1H1581.9V232.3H1584.6V221.9H1587.3V221.9H1590V219.7H1592.7V220.8H1595.4V223.1H1598.1V205.8H1600.8V201.2H1603.5V219.7H1606.2V219.7H1608.9V223.1H1611.6V223.1H1614.3V224.2H1617V220.8H1619.7V220.8H1622.4V223.1H1625.1V241.5H1627.8V241.5H1630.5V241.5H1633.2V242.7H1635.9V232.3H1638.6V232.3H1641.3V232.3H1644V232.3H1646.7V246.1H1649.4V246.1H1652.1V244.9H1654.8V246.1H1657.5V244.9H1660.2V246.1H1662.9V246.1H1665.6V246.1H1668.3V246.1H1671V244.9H1673.7V246.1H1676.4V244.9H1679.1V218.5H1681.8V218.5H1684.5V215.1H1687.2V233.4H1689.9V234.6H1692.6V235.8H1695.3V226.6H1698V218.5H1700.7V215.1H1703.4V217.3H1706.1V213.9H1708.8V213.9H1711.5V216.2H1714.2V230H1716.9V230H1719.6V231.2H1722.3V228.8H1725V231.2H1727.7V209.3H1730.4V207H1733.1V205.8H1735.8V208.2H1738.5V215.1H1741.2V215.1H1743.9V216.2H1746.6V216.2H1749.3V218.5H1752V249.6H1754.7V249.6H1757.4V223.1H1760.1V226.6H1762.8V226.6H1765.5V223.1H1768.2V226.6H1770.9V224.2H1773.6V226.6H1776.3V201.2H1779V205.8H1781.7V207H1784.4V210.4H1787.1V216.2H1789.8V220.8H1792.5V217.3H1795.2V246.1H1797.9V246.1H1800.6V241.5H1803.3V241.5H1806V242.7H1808.7V241.5H1811.4V231.2H1814.1V220.8H1816.8V220.8H1819.5V224.2H1822.2V223.1H1824.9V219.7H1827.6V224.2H1830.3V230H1833V232.3H1835.7V213.9H1838.4V215.1H1841.1V210.4H1843.8V239.2H1846.5V238.1H1849.2V236.9H1851.9V212.8H1854.6V205.8H1857.3V198.9H1860V192.1H1862.7V189.8H1865.4V198.9H1868.1V209.3H1870.8V221.9H1873.5V225.4H1876.2V208.2H1878.9V211.6H1881.6V210.4H1884.3V239.2H1887V239.2H1889.7V239.2H1892.4V239.2H1895.1V235.8H1897.8V233.4H1900.5V235.8H1903.2V235.8H1905.9V233.4H1908.6V246.1H1911.3V244.9H1914V227.7H1916.7V225.4H1919.4V228.8H1922.1V226.6H1924.8V225.4H1927.5V228.8H1930.2V246.1H1932.9V246.1H1935.6V225.4H1938.3V218.5H1941V213.9H1943.7V212.8H1946.4V220.8H1949.1V224.2H1951.8V233.4H1954.5V233.4H1957.2V215.1H1959.9V208.2H1962.6V211.6H1965.3V216.2H1968V223.1H1970.7V246.1H1973.4V231.2H1976.1V231.2H1978.8V232.3H1981.5V234.6H1984.2V232.3H1986.9V207H1989.6V210.4H1992.3V209.3H1994V253V297.9H1992.3V297.9H1989.6V296.7H1986.9V272.6H1984.2V273.7H1981.5V272.6H1978.8V272.6H1976.1V272.6H1973.4V259.9H1970.7V279.4H1968V292.1H1965.3V297.9H1962.6V295.6H1959.9V289.8H1957.2V273.7H1954.5V273.7H1951.8V281.8H1949.1V287.5H1946.4V289.8H1943.7V288.6H1941V285.2H1938.3V281.8H1935.6V259.9H1932.9V261.1H1930.2V279.4H1927.5V278.3H1924.8V278.3H1922.1V279.4H1919.4V278.3H1916.7V279.4H1914V259.9H1911.3V259.9H1908.6V271.4H1905.9V271.4H1903.2V271.4H1900.5V271.4H1897.8V272.6H1895.1V265.6H1892.4V265.6H1889.7V265.6H1887V265.6H1884.3V297.9H1881.6V299H1878.9V296.7H1876.2V284.1H1873.5V281.8H1870.8V292.1H1868.1V301.3H1865.4V309.4H1862.7V318.6H1860V313.9H1857.3V303.6H1854.6V293.2H1851.9V266.8H1849.2V267.9H1846.5V267.9H1843.8V292.1H1841.1V294.4H1838.4V294.4H1835.7V276H1833V274.9H1830.3V285.2H1827.6V282.9H1824.9V285.2H1822.2V285.2H1819.5V284.1H1816.8V284.1H1814.1V273.7H1811.4V263.4H1808.7V264.5H1806V263.4H1803.3V263.4H1800.6V259.9H1797.9V261.1H1795.2V287.5H1792.5V289.8H1789.8V287.5H1787.1V296.7H1784.4V304.8H1781.7V303.6H1779V301.3H1776.3V281.8H1773.6V279.4H1770.9V281.8H1768.2V279.4H1765.5V280.6H1762.8V280.6H1760.1V279.4H1757.4V256.4H1754.7V256.4H1752V288.6H1749.3V289.8H1746.6V290.9H1743.9V293.2H1741.2V295.6H1738.5V295.6H1735.8V295.6H1733.1V294.4H1730.4V293.2H1727.7V276H1725V274.9H1722.3V274.9H1719.6V274.9H1716.9V274.9H1714.2V287.5H1711.5V287.5H1708.8V288.6H1706.1V292.1H1703.4V292.1H1700.7V290.9H1698V280.6H1695.3V271.4H1692.6V271.4H1689.9V271.4H1687.2V286.4H1684.5V288.6H1681.8V287.5H1679.1V259.9H1676.4V261.1H1673.7V259.9H1671V261.1H1668.3V261.1H1665.6V261.1H1662.9V259.9H1660.2V259.9H1657.5V261.1H1654.8V259.9H1652.1V261.1H1649.4V261.1H1646.7V273.7H1644V273.7H1641.3V273.7H1638.6V272.6H1635.9V264.5H1633.2V263.4H1630.5V264.5H1627.8V264.5H1625.1V285.2H1622.4V284.1H1619.7V284.1H1617V285.2H1614.3V285.2H1611.6V285.2H1608.9V284.1H1606.2V282.9H1603.5V299H1600.8V295.6H1598.1V285.2H1595.4V284.1H1592.7V282.9H1590V285.2H1587.3V285.2H1584.6V272.6H1581.9V266.8H1579.2V267.9H1576.5V281.8H1573.8V280.6H1571.1V281.8H1568.4V278.3H1565.7V266.8H1563V267.9H1560.3V267.9H1557.6V267.9H1554.9V256.4H1552.2V256.4H1549.5V258.8H1546.8V259.9H1544.1V261.1H1541.4V262.2H1538.7V262.2H1536V262.2H1533.3V259.9H1530.6V259.9H1527.9V257.6H1525.2Z" fill="#0b0619"/>
<rect x="1261.4" y="248.8" width="2.9" height="1.9" fill="#b5367a"/><rect x="1258.7" y="248.4" width="2.4" height="2.3" fill="#e8602d"/><rect x="1261.4" y="248.2" width="2.3" height="2.5" fill="#e8602d"/><rect x="1262.9" y="248.7" width="2.2" height="2.3" fill="#b5367a"/><rect x="1263.2" y="249.5" width="1.6" height="1.3" fill="#b5367a"/><rect x="1285.3" y="246.4" width="2" height="2.1" fill="#b5367a"/><rect x="1284.6" y="246" width="2.2" height="2.2" fill="#7a1d6d"/><rect x="1285.8" y="246" width="2.3" height="2.5" fill="#e8602d"/><rect x="1286.3" y="246" width="1.8" height="1.7" fill="#e8602d"/><rect x="1285" y="245.3" width="1.7" height="1.7" fill="#e8602d"/><rect x="1299.7" y="241.3" width="1.5" height="1.6" fill="#e8602d"/><rect x="1296.1" y="239.1" width="2.1" height="1.4" fill="#b5367a"/><rect x="1298.4" y="239.5" width="1.6" height="1.7" fill="#7a1d6d"/><rect x="1298.2" y="239.2" width="1.9" height="1.4" fill="#e8602d"/><rect x="1296.1" y="238.3" width="2.5" height="1.5" fill="#b5367a"/><rect x="1309.3" y="246.8" width="2.1" height="1.8" fill="#7a1d6d"/><rect x="1303.4" y="242.3" width="1.9" height="2.6" fill="#f1711f"/><rect x="1309.5" y="245.7" width="1.8" height="2.6" fill="#e8602d"/><rect x="1299.4" y="239.7" width="2.2" height="1.3" fill="#f1711f"/><rect x="1307.7" y="245.2" width="1.6" height="1.6" fill="#b5367a"/><rect x="1299" y="339.5" width="1.8" height="1.8" fill="#3b0f70"/>
</g></g>
<rect x="1252.5" y="67.4" width="741.5" height="370" fill="none" stroke="#000" stroke-width="3.0"/>
<rect x="2006.3" y="67.5" width="37.5" height="206.6" fill="url(#cb)" stroke="#000" stroke-width="3.0"/>
<path d="M2034.6 136.6H2043.8M2034.6 205.3H2043.8" stroke="#000" stroke-width="2.4"/>
<text x="2052.8" y="78.5">3</text>
<text x="2052.1" y="285.2">0</text>
<text x="1937.3" y="39.7" textLength="184" lengthAdjust="spacingAndGlyphs">d<tspan font-style="italic">V</tspan>/d<tspan font-style="italic">I</tspan> (kΩ)</text>
<path d="M1252.1 507.8H1992" stroke="#000" stroke-width="3" stroke-dasharray="47.5 28.5" fill="none"/>
<text x="2006.9" y="520.2" textLength="96" lengthAdjust="spacingAndGlyphs"><tspan font-style="italic">h</tspan>/2<tspan font-style="italic">e</tspan><tspan dy="-13" font-size="26">2</tspan></text>
<path d="M1252.1 703.7H1992" stroke="#000" stroke-width="3" stroke-dasharray="47.5 28.5" fill="none"/>
<text x="2006.9" y="716.1" textLength="96" lengthAdjust="spacingAndGlyphs"><tspan font-style="italic">h</tspan>/6<tspan font-style="italic">e</tspan><tspan dy="-13" font-size="26">2</tspan></text>
<path d="M1252.1 742.8H1992" stroke="#000" stroke-width="3" stroke-dasharray="47.5 28.5" fill="none"/>
<text x="2006.9" y="755.2" textLength="118.5" lengthAdjust="spacingAndGlyphs"><tspan font-style="italic">h</tspan>/10<tspan font-style="italic">e</tspan><tspan dy="-13" font-size="26">2</tspan></text>
<g clip-path="url(#p_b)" fill="none" stroke-width="6.6" stroke-linejoin="round" stroke-linecap="round">
<polyline points="1254.6,651.7 1256.5,648.9 1259.4,672.2 1262.3,669.7 1264.2,587.9 1265.4,585.6 1268.1,581.7 1268.5,581.7 1270.8,633.2 1271.9,662.9 1273.5,653 1274.8,643.2 1276.2,617.2 1278.7,569.8 1280,510.1 1281.6,509.8 1282,510.4 1284.3,648.3 1284.5,654.7 1286.4,604.2 1289.3,545 1292.4,618.1 1293.1,634.5 1295.1,627.2 1296,623.5 1297.8,629.9 1298.9,633.5 1300.5,641.7 1302.7,652 1305.9,626.2 1306.2,619.8 1308.6,635.4 1309.5,639.9 1311.3,644.3 1311.4,645.2 1314,612.5 1314.3,608.7 1316.7,533.1 1317.2,518.2 1319.4,508.3 1320.5,502.5 1322.1,506.8 1323.9,508.2 1324.8,512.8 1327.4,521.7 1330.2,515.2 1330.7,514.6 1332.9,503.4 1333.9,498.6 1335.6,497.9 1337,498.8 1338.3,515.3 1339.3,528.5 1341,518.5 1342.2,512.7 1343.7,523.6 1345.1,534.1 1346.4,538.7 1349.1,550.1 1350.9,560.2 1351.8,560.8 1353.8,557 1357.2,576.2 1357.6,578.1 1359.9,602.1 1360.5,606.5 1362.6,589.3 1363.4,585.3 1365.3,563.7 1368,567 1368.2,566.7 1370.7,591.1 1371.1,594.7 1373.4,601.7 1374,600.9 1375.9,795.4 1378.8,795.7 1379.7,795.2 1381.5,774.6 1382.6,759 1384.2,701.3 1385.5,651 1386.9,685.1 1388.4,720 1389.6,753.5 1391.3,797 1392.3,797.3 1395,797.6 1395.1,797.4 1397.7,799.4 1399,800.2 1400.4,799.4 1403.1,798 1405.8,797.7 1406.7,797 1408.5,797.6 1411.2,799.5 1412.5,800.2 1413.9,800 1416.6,796.9 1418.2,795.2 1419.3,789.5 1422,777.1 1423.1,769.9 1424.7,785.1 1426.9,800.1 1430.1,800.4 1430.8,800.1 1432.8,789.7 1435.5,771.5 1435.6,772.3 1438.2,791.1 1439.4,799.2 1440.9,799 1443.6,798.7 1446.3,798.9 1449,798 1449,798.4 1451.7,799.2 1454.4,799.3 1456.7,800 1459.8,794.9 1460.6,793.3 1462.5,788.9 1465.2,783.9 1466.4,779.4 1467.9,787.3 1470.2,795.5 1473.3,796.6 1476,797.2 1478.7,799 1481.4,799.5 1481.8,800 1484.1,788.2 1486.6,774.4 1489.5,787.2 1492.2,750 1493.3,733.5 1494.9,737.5 1497.2,743.3 1500.3,789.4 1501,800.1 1503,800.4 1505.7,800.7 1508.4,800.6 1511.1,801.1 1513.8,801.3 1514.5,801.1 1516.5,800.8 1518.3,800.2 1521.9,779.8 1524.6,766.4 1525.1,763.8 1527.3,784.1 1528.9,800 1530,800.2 1532.7,799.4 1535.4,798.2 1538.1,798.9 1540.8,798.3 1541.4,797.6 1543.5,796.5 1546.2,796.8 1548.9,796.1 1549.1,795.1 1551.6,792.8 1554.3,789.5 1554.9,789.8 1557,795.1 1558.8,800 1559.7,800.2 1562.4,799.6 1564.5,799.1 1567.8,795.3 1570.5,793.8 1573.2,789.9 1574.2,789.5 1575.9,794.3 1578,800.3 1581.3,798.4 1584,796.5 1586.7,796.8 1589.4,795.5 1589.6,795.5 1592.1,798.8 1593.4,801 1594.8,801.1 1597.5,800.1 1599.2,800 1600,798.9 1602.9,799.7 1605.6,797.7 1608.3,797.6 1611,799.1 1611.9,797.5 1613.7,796.5 1616.4,796.5 1619.1,795.5 1621.8,795.2 1623.9,794.4 1627.2,793.6 1629.9,795 1632.6,793.7 1635.3,793.6 1635.8,793.8 1638,797.8 1639.8,799.2 1640.7,800.2 1643.4,797.4 1646.1,798 1648.8,797.2 1651.5,797.4 1651.7,797.4 1654.2,796.9 1656.9,794.5 1659.6,795.8 1662.3,793.4 1663.6,793.3 1665,793.2 1667.7,793.9 1670.4,792.9 1673.1,791.7 1675.6,793.1 1678.5,794.6 1681.2,796.6 1683.5,797.5 1686.6,797.3 1689.3,798.3 1692,798.6 1694.7,798.3 1695.4,799.1 1697.4,797.7 1700.1,797.5 1702.8,796.6 1705.5,795.2 1708.2,795.1 1709.4,794.4 1710.9,794.5 1713.6,796.8 1715.3,799 1716.3,799.2 1719,798.9 1721.7,800.1 1724.4,799.2 1727.1,799 1727.3,799.3 1729.8,796.1 1731.2,794.4 1732.5,796.4 1735.2,796.7 1737.2,798.7 1740.6,796.9 1743.3,797.9 1745.2,797.6 1748.7,791.9 1751.4,788.9 1754.1,785.1 1755.1,784.9 1756.8,789.5 1759.5,792 1761.1,795.2 1762.2,795.7 1764.9,797.3 1767.6,798.9 1770.3,797.9 1771,798.6 1773,795.4 1775.7,796.3 1777,794.2 1778.4,796.8 1781.1,798.1 1782.9,799.2 1786.5,798.9 1789.2,799.4 1790.9,797.2 1791.9,796.3 1794.6,792.3 1797.3,790.2 1798.8,787.9 1800,791 1802.7,789.9 1804.8,793.3 1808.1,795.3 1810.8,798.5 1813.5,796.3 1816.2,793.1 1816.7,792.5 1818.9,792.1 1821.6,792.9 1824.3,794 1824.7,793.5 1827,794.2 1829.7,793.1 1832.4,793.6 1835.1,794.4 1837.8,795 1838.6,794.5 1840.5,794.5 1843.2,795.7 1845.9,795 1848.6,795.3 1851.3,793.3 1854,792.4 1854.5,791.4 1856.7,792.9 1859.4,792.7 1862.1,793 1864.5,793.4 1867.5,794.3 1870.2,795.7 1872.9,798 1874.4,799 1875.6,798.3 1878.3,796.4 1881,793.9 1882.4,793.3 1883.7,793.9 1886.4,791.9 1889.1,791.2 1891.8,792.8 1892.3,792.2 1894.5,795.3 1897.2,799.6 1898.3,799.1 1899.9,799.1 1902.6,796.9 1905.3,798 1908,796.4 1910.2,797.3 1913.4,794.7 1916.1,793.3 1918.8,791.3 1920.1,789.3 1921.5,790.3 1924.2,796 1926.1,798.7 1929.6,799.9 1932.3,799.1 1935,799.6 1937.7,799.3 1938,799 1940.4,798.1 1943.1,799 1945.8,797.8 1948.5,798.2 1951.2,798.1 1953.9,798.9 1953.9,798.1 1956.6,798.5 1959.3,799.1 1962,798.5 1964.7,798.7 1967.4,798.7 1967.9,798.6 1970.1,798.1 1972.8,797 1973.8,797.4 1975.5,797.2 1978.2,797.6 1980.9,797.9 1983.6,797.8 1986.3,798 1989,797.9 1990.7,798.6" stroke="#3e5d91"/>
<polyline points="1255.6,698.7 1257.5,678.4 1261,665 1261.4,662.8 1263.7,662 1264.2,664.4 1266.4,649.3 1268.1,638.3 1269.1,643.2 1271,648.9 1273.9,637.3 1276.8,640.6 1279.6,567 1282.6,565 1283.5,562.7 1285.3,579.9 1286.4,589.1 1288,594.3 1290.2,604.3 1293.4,557 1294.1,547.7 1296,535.6 1298.8,573.4 1298.9,577.8 1301.5,598.8 1301.8,604.7 1304.2,591 1304.7,589.4 1306.9,607.2 1307.6,613.5 1309.6,609.2 1310.4,607.9 1312.3,597.7 1313.3,589.4 1315,557.8 1317.2,517.5 1320.4,502.1 1320.5,501.7 1323.1,508.3 1323.9,509 1325.8,515.9 1327.4,522.6 1328.5,519.5 1330.7,514.2 1333.9,500.1 1333.9,499.1 1336.6,499.2 1337,498.6 1339.3,528.3 1339.3,527.8 1342,513.6 1342.2,512.3 1344.7,539.2 1345.1,543.6 1347.4,536.7 1348.9,534.1 1350.1,535.6 1351.8,541 1352.8,539.3 1355.5,536.1 1355.7,538.1 1358.2,546.6 1358.6,547.4 1360.9,553.9 1362.4,556.5 1363.6,561.3 1365.3,564.9 1366.3,566.6 1368.2,564.4 1370.1,595.7 1371.7,616.4 1372,619.4 1374,643.5 1375.9,690.7 1377.1,685.1 1378.8,671.6 1379.8,666.7 1380.7,662.9 1382.5,671.3 1383.6,677.3 1385.2,671.9 1386.5,671.1 1387.9,677.5 1389.4,685.8 1390.6,692.7 1392.3,701.5 1393.3,703.8 1395.1,710.5 1398,713.4 1400.9,727.8 1403.8,739.5 1406.7,756.7 1409.5,747.8 1410.5,743.2 1412.2,746.8 1413.4,745.3 1414.9,739.2 1416.3,740.2 1417.6,747.6 1419.2,762.5 1420.3,762.2 1423,760.3 1423.1,760.4 1425.7,764.2 1425.9,767 1428.4,769.4 1428.8,770 1431.1,771.1 1431.7,774 1433.8,772.5 1434.6,767.7 1436.5,761.9 1437.5,758.2 1439.2,763.5 1441.3,765.2 1444.6,758.9 1445.2,758.2 1447.3,759.9 1449,760.6 1450,760.3 1452.7,756.4 1452.9,757.2 1455.4,763.7 1456.7,767.9 1458.1,765.1 1460.8,760.4 1462.5,754.5 1463.5,755.2 1466.2,762.5 1466.4,762.8 1468.9,765.2 1471.6,767.2 1472.1,766.2 1474.3,762.3 1477,752.3 1477.9,753.3 1479.7,751.2 1482.4,748.5 1483.7,747.6 1485.1,747.2 1487.8,739.4 1488.5,739.4 1490.5,740.5 1493.2,744.8 1493.3,743.4 1495.9,741.6 1497.2,738.3 1498.6,734.2 1501,734.9 1504,734.8 1504.9,737.3 1506.7,742 1508.7,747.7 1512.1,754.5 1512.6,755 1514.8,744.5 1516.4,741.3 1517.5,743.4 1520.2,749.3 1520.3,751.4 1522.9,747.1 1524.1,743.6 1525.6,743.5 1528.3,740.4 1529.9,739.2 1531,741.7 1533.7,741.5 1533.7,743.3 1536.4,748.8 1537.6,748.8 1539.1,744.7 1540.5,741.2 1541.8,747.8 1543.4,757.6 1544.5,753.6 1547.2,748 1547.2,749.1 1549.9,754.1 1551.1,757.2 1552.6,760.6 1554.9,762.8 1558,767.8 1560.7,763.3 1560.7,766.5 1563.4,767 1564.5,764 1566.1,768.7 1568.8,767.3 1570.3,770 1571.5,773.7 1574.2,781 1576.1,783.7 1579.6,776.2 1579.9,773.8 1582.3,771.1 1583.8,767.1 1585,769.1 1587.6,775.4 1590.4,772 1591.5,774.6 1593.1,769.3 1595.8,766.7 1596.3,767 1598.5,776.5 1599.2,778 1600,783.2 1601.2,781.4 1603.9,783.4 1606.6,780.2 1608,780.8 1609.3,777.2 1612,779 1614.7,777.3 1615.9,776 1617.4,775.3 1620.1,773.5 1622.8,772.4 1625.5,772.4 1628.2,765.9 1629.8,767.5 1630.9,766.9 1633.6,772.4 1636.3,780.9 1637.8,783 1639,779.5 1641.7,779.4 1644.4,775.9 1647.1,772.5 1649.7,770.8 1652.5,767.3 1655.2,768.1 1657.9,767.3 1660.6,767.3 1663.3,764.8 1663.6,763.2 1666,768.1 1668.7,773.6 1669.6,773.1 1671.4,773.2 1674.1,774.8 1676.8,771.5 1679.5,769.7 1679.5,769.4 1682.2,777.7 1684.9,788.8 1685.5,786.5 1687.6,783.4 1690.3,775.5 1691.5,774 1693,776.9 1695.7,776.6 1698.4,773.5 1701.1,776.5 1703.4,777.3 1706.5,782.1 1709.2,781.8 1711.9,781.9 1714.6,782.3 1715.3,783.6 1717.3,780.8 1720,778.4 1722.7,777.3 1723.3,777 1725.4,778.3 1728.1,783.2 1730.8,785.9 1733.5,785.7 1735.2,789 1736.2,789 1738.9,782.4 1741.6,780.2 1744.3,777.5 1747,771.7 1747.1,771.5 1749.7,772.8 1752.4,772.1 1755.1,776.7 1757.8,771.5 1759.1,776 1760.5,776.2 1763.2,777.4 1765.9,776.5 1768.6,775.3 1771,775.1 1774,779.3 1776.7,780.9 1779,783.5 1782.1,782.8 1784.8,788.7 1786.9,786.9 1790.2,782.4 1792.9,780.2 1795.6,771.6 1795.9,773.3 1798.3,778.4 1801,782.2 1802.8,785.4 1806.4,785.3 1809.1,781.8 1811.8,781.3 1814.5,777 1817.2,781.1 1818.7,778.1 1819.9,779.1 1822.6,779.1 1825.3,782.7 1828,784 1828.7,783.4 1830.7,786 1833.4,781 1836.1,785.1 1838.8,784.4 1841.5,780.7 1844.2,780.4 1846.9,783.7 1848.6,779.8 1849.6,778.4 1852.3,782.3 1855,782.8 1857.7,786.5 1860.4,790.9 1860.5,789.3 1863.1,786.3 1865.8,781.8 1868.5,783.6 1871.2,781.4 1873.9,778.2 1876.6,778.2 1878.4,775.1 1879.3,776.3 1882,779.2 1884.7,781.2 1887.4,785 1888.3,783.7 1890.1,783 1892.8,780.2 1895.5,781.2 1898.2,777.9 1898.3,777.4 1900.9,783.5 1903.6,790 1906.2,791.6 1909,784.2 1911.7,781.3 1914.4,775.5 1916.2,770.8 1917.1,777.6 1919.8,776.4 1922.5,778 1925.2,782.1 1926.1,783.2 1927.9,782.4 1930.6,787.3 1933.3,787.3 1936,787.3 1938,786.7 1941.4,783.7 1944.1,782.1 1946.8,781 1949.5,780.5 1950,778.5 1952.2,779.9 1954.9,784.4 1957.6,784.8 1960.3,787.7 1961.9,788.1 1963,785.6 1965.7,787.2 1968.4,783.9 1971.1,780.6 1973.8,777.5 1973.8,780 1976.5,782.4 1979.2,785.5 1981.9,789.1 1983.8,791.4 1987.3,780.1 1990,769.4 1990.7,768.8" stroke="#e95420"/>
</g>
<path d="M1233.1 401.6H1252.5M1233.1 327.3H1252.5M1233.1 253H1252.5M1233.1 178.7H1252.5M1233.1 104.4H1252.5M1233.1 801.6H1252.5M1233.1 687.8H1252.5M1233.1 574H1252.5M1233.1 460.2H1252.5M1376.1 801.6V826.2M1530.6 801.6V826.2M1685.1 801.6V826.2M1839.6 801.6V826.2M1994 801.6V826.2M1252.5 437.4V801.6H1994V437.4" fill="none" stroke="#000" stroke-width="3.0" stroke-linejoin="miter"/>
<text x="1226.1" y="118.4" text-anchor="end" textLength="44.6" lengthAdjust="spacingAndGlyphs">20</text>
<text x="1226.1" y="267" text-anchor="end">0</text>
<text x="1226.1" y="415.6" text-anchor="end" textLength="59" lengthAdjust="spacingAndGlyphs">-20</text>
<text x="1226.1" y="815.6" text-anchor="end">0</text>
<text x="1226.1" y="588" text-anchor="end" textLength="44.6" lengthAdjust="spacingAndGlyphs">10</text>
<text x="1376.1" y="863.8" text-anchor="middle">0</text>
<text x="1530.6" y="863.8" text-anchor="middle" textLength="54" lengthAdjust="spacingAndGlyphs">0.5</text>
<text x="1685.1" y="863.8" text-anchor="middle">1</text>
<text x="1839.6" y="863.8" text-anchor="middle" textLength="54" lengthAdjust="spacingAndGlyphs">1.5</text>
<text x="1994.1" y="863.8" text-anchor="middle">2</text>
<text transform="translate(1159.5 253) rotate(-90)" text-anchor="middle" textLength="310" lengthAdjust="spacingAndGlyphs">Current bias (n<tspan font-style="italic">A</tspan>)</text>
<text transform="translate(1159.7 621.8) rotate(-90)" text-anchor="middle" textLength="184" lengthAdjust="spacingAndGlyphs">d<tspan font-style="italic">V</tspan>/d<tspan font-style="italic">I</tspan> (kΩ)</text>
<text x="1429.2" y="904.3" textLength="390.6" lengthAdjust="spacingAndGlyphs">Back-gate voltage (V)</text>
<path d="M1712.2 547.8H1804.1" stroke="#3e5d91" stroke-width="6.5" stroke-linecap="round"/>
<path d="M1712.2 603.8H1804.1" stroke="#e95420" stroke-width="6.5" stroke-linecap="round"/>
<text x="1811.6" y="560.7" textLength="137.2" lengthAdjust="spacingAndGlyphs"><tspan font-style="italic">I</tspan> = 0 nA</text>
<text x="1811.6" y="616.5" textLength="159.4" lengthAdjust="spacingAndGlyphs"><tspan font-style="italic">I</tspan> = 26 nA</text>
<text x="1270.2" y="119.2" textLength="120.6" lengthAdjust="spacingAndGlyphs"><tspan font-style="italic">B</tspan> = 4 T</text>
<text x="1093.1" y="37.8" font-size="47" font-weight="bold">b</text>
</g>
<g id="panel-c">
<g clip-path="url(#c_c)">
<rect x="159.9" y="994.6" width="741.5" height="371" fill="url(#g_c)"/>
<g filter="url(#soft)">
<rect x="159.9" y="994.6" width="741.5" height="371" fill="url(#lo_c)" mask="url(#nmD_c)"/><rect x="159.9" y="994.6" width="741.5" height="371" fill="url(#hi_c)" mask="url(#nmL_c)"/>
<g mask="url(#mk_c)">
<path d="M320.5 1179L323.2 1179L325.9 1172.2L328.6 1168.7L331.3 1169.9L334 1173.3L336.7 1172.2L339.4 1179L342.1 1174.5L344.8 1164.1L347.5 1172.2L350.2 1172.2L352.9 1172.2L355.6 1179L358.3 1176.8L361 1173.3L363.7 1173.3L366.4 1172.2L369.1 1173.3L371.8 1175.6L374.5 1175.6L377.2 1174.5L379.9 1174.5L382.6 1174.5L385.3 1174.5L388 1167.5L390.7 1156L393.4 1150.3L396.1 1152.6L398.8 1159.5L401.5 1165.2L404.2 1166.4L406.9 1171L409.6 1173.3L412.3 1175.6L415 1177.9L417.7 1177.9L420.4 1177.9L423.1 1176.8L425.8 1176.8L428.5 1176.8L431.2 1172.2L433.9 1171L436.6 1172.2L439.3 1165.2L442 1172.2L444.7 1172.2L447.4 1179L450.1 1179L452.8 1179L455.5 1179L458.2 1179L460.9 1179L463.6 1179L466.3 1179M474.4 1179L477.1 1179L479.8 1179L482.5 1179L485.2 1179L487.9 1179L490.6 1179L493.3 1179L496 1179L498.7 1179L501.4 1173.3L504.1 1172.2L506.8 1173.3L509.5 1172.2L512.2 1177.9L514.9 1176.8L517.6 1169.9L520.3 1169.9L523 1169.9L525.7 1176.8L528.4 1173.3L531.1 1174.5L533.8 1172.2L536.5 1172.2L539.2 1171L541.9 1173.3L544.6 1173.3L547.3 1173.3L550 1163L552.7 1161.8L555.4 1171L558.1 1169.9L560.8 1171L563.5 1171L566.2 1161.8L568.9 1160.7L571.6 1160.7L574.3 1156L577 1163L579.7 1171L582.4 1163L585.1 1164.1L587.8 1161.8L590.5 1164.1L593.2 1163L595.9 1171L598.6 1171L601.4 1169.9L604.1 1169.9L606.8 1169.9L609.5 1173.3L612.2 1173.3L614.9 1173.3L617.6 1163L620.3 1163L623 1164.1L625.7 1173.3L628.4 1173.3L631.1 1174.5L633.8 1174.5L636.5 1173.3L639.2 1179L641.9 1179L644.6 1175.6L647.3 1175.6L650 1175.6L652.7 1175.6L655.4 1175.6L658.1 1175.6L660.8 1175.6L663.5 1169.9L666.2 1168.7L668.9 1166.4L671.6 1164.1L674.3 1167.5L677 1176.8L679.7 1176.8L682.4 1173.3L685.1 1173.3L687.8 1173.3L690.5 1173.3L693.2 1173.3L695.9 1172.2L698.6 1172.2L701.3 1172.2L704 1172.2L706.7 1164.1L709.4 1166.4L712.1 1165.2L714.8 1156L717.5 1164.1L720.2 1174.5L722.9 1174.5L725.6 1161.8L728.3 1161.8L731 1157.2L733.7 1157.2L736.4 1161.8L739.1 1163L741.8 1174.5L744.5 1174.5L747.2 1174.5L749.9 1150.3L752.6 1149.2L755.3 1151.5L758 1148L760.7 1149.2L763.4 1151.5L766.1 1148L768.8 1151.5L771.5 1174.5L774.2 1174.5L776.9 1174.5L779.6 1173.3L782.3 1173.3L785 1173.3L787.7 1163L790.4 1163L793.1 1172.2L795.8 1172.2L798.5 1167.5L801.2 1165.2L803.9 1165.2L806.6 1166.4L809.3 1173.3L812 1173.3L814.7 1164.1L817.4 1163L820.1 1160.7L822.8 1164.1L825.5 1165.2L828.2 1174.5L830.9 1174.5L833.6 1171L836.3 1169.9L839 1168.7L841.7 1168.7L844.4 1167.5L847.1 1168.7L849.8 1167.5L852.5 1167.5L855.2 1166.4L857.9 1165.2L860.6 1167.5L863.3 1174.5L866 1174.5L868.7 1159.5L871.4 1160.7L874.1 1160.7L876.8 1159.5L879.5 1159.5L882.2 1161.8L884.9 1163L887.6 1163L890.3 1163L893 1164.1L895.7 1165.2L898.4 1163M320.5 1181.4L323.2 1181.4L325.9 1187.1L328.6 1190.5L331.3 1189.4L334 1187.1L336.7 1187.1L339.4 1181.4L342.1 1187.1L344.8 1195.2L347.5 1188.2L350.2 1188.2L352.9 1188.2L355.6 1181.4L358.3 1183.7L361 1188.2L363.7 1187.1L366.4 1187.1L369.1 1187.1L371.8 1184.8L374.5 1184.8L377.2 1186L379.9 1186L382.6 1186L385.3 1187.1L388 1192.9L390.7 1203.2L393.4 1206.7L396.1 1207.8L398.8 1202L401.5 1197.5L404.2 1192.9L406.9 1190.5L409.6 1188.2L412.3 1184.8L415 1182.5L417.7 1182.5L420.4 1182.5L423.1 1183.7L425.8 1183.7L428.5 1183.7L431.2 1188.2L433.9 1188.2L436.6 1188.2L439.3 1195.2L442 1188.2L444.7 1188.2L447.4 1181.4L450.1 1181.4L452.8 1181.4L455.5 1181.4L458.2 1181.4L460.9 1181.4L463.6 1181.4L466.3 1181.4M474.4 1181.4L477.1 1181.4L479.8 1181.4L482.5 1181.4L485.2 1181.4L487.9 1181.4L490.6 1181.4L493.3 1181.4L496 1181.4L498.7 1181.4L501.4 1187.1L504.1 1187.1L506.8 1188.2L509.5 1187.1L512.2 1182.5L514.9 1183.7L517.6 1190.5L520.3 1190.5L523 1190.5L525.7 1183.7L528.4 1186L531.1 1187.1L533.8 1188.2L536.5 1188.2L539.2 1188.2L541.9 1188.2L544.6 1188.2L547.3 1187.1L550 1196.3L552.7 1196.3L555.4 1190.5L558.1 1190.5L560.8 1190.5L563.5 1190.5L566.2 1197.5L568.9 1197.5L571.6 1198.6L574.3 1204.4L577 1197.5L579.7 1189.4L582.4 1196.3L585.1 1197.5L587.8 1196.3L590.5 1197.5L593.2 1196.3L595.9 1190.5L598.6 1190.5L601.4 1190.5L604.1 1190.5L606.8 1190.5L609.5 1187.1L612.2 1188.2L614.9 1187.1L617.6 1196.3L620.3 1196.3L623 1197.5L625.7 1186L628.4 1187.1L631.1 1187.1L633.8 1187.1L636.5 1187.1L639.2 1181.4L641.9 1181.4L644.6 1184.8L647.3 1184.8L650 1184.8L652.7 1184.8L655.4 1184.8L658.1 1184.8L660.8 1184.8L663.5 1190.5L666.2 1192.9L668.9 1194L671.6 1194L674.3 1192.9L677 1183.7L679.7 1183.7L682.4 1186L685.1 1187.1L687.8 1187.1L690.5 1187.1L693.2 1188.2L695.9 1187.1L698.6 1188.2L701.3 1188.2L704 1188.2L706.7 1194L709.4 1195.2L712.1 1195.2L714.8 1204.4L717.5 1194L720.2 1186L722.9 1186L725.6 1196.3L728.3 1199.8L731 1200.9L733.7 1202L736.4 1199.8L739.1 1196.3L741.8 1186L744.5 1186L747.2 1186L749.9 1212.4L752.6 1211.2L755.3 1212.4L758 1211.2L760.7 1212.4L763.4 1212.4L766.1 1211.2L768.8 1212.4L771.5 1187.1L774.2 1187.1L776.9 1187.1L779.6 1187.1L782.3 1186L785 1187.1L787.7 1198.6L790.4 1198.6L793.1 1187.1L795.8 1187.1L798.5 1194L801.2 1195.2L803.9 1195.2L806.6 1195.2L809.3 1188.2L812 1188.2L814.7 1195.2L817.4 1198.6L820.1 1197.5L822.8 1197.5L825.5 1195.2L828.2 1186L830.9 1186L833.6 1190.5L836.3 1191.7L839 1190.5L841.7 1191.7L844.4 1191.7L847.1 1192.9L849.8 1192.9L852.5 1192.9L855.2 1192.9L857.9 1192.9L860.6 1194L863.3 1186L866 1186L868.7 1198.6L871.4 1199.8L874.1 1200.9L876.8 1199.8L879.5 1198.6L882.2 1199.8L884.9 1198.6L887.6 1198.6L890.3 1198.6L893 1197.5L895.7 1197.5L898.4 1196.3" fill="none" stroke="url(#h1_c)" stroke-width="10" opacity=".8" stroke-linejoin="round" stroke-linecap="round" filter="url(#bl3)"/>
<path d="M324.5 1171.9H327.4V1165.7H324.5ZM332.6 1173H335.5V1167.5H332.6ZM332.6 1187.4H335.5V1191.5H332.6ZM346.1 1171.9H349V1167.2H346.1ZM346.1 1188.5H349V1193.8H346.1ZM362.3 1173H365.2V1168.3H362.3ZM367.7 1173H370.6V1167.6H367.7ZM370.4 1175.3H373.3V1172.1H370.4ZM373.1 1175.3H376V1171.8H373.1ZM387 1162.5H389.1V1158H387ZM392 1207H394.9V1211.9H392ZM394.7 1152.3H397.6V1146.3H394.7ZM397.4 1159.2H400.3V1153.3H397.4ZM397.4 1202.4H400.3V1208.1H397.4ZM400.1 1197.8H403V1202.8H400.1ZM402.8 1166.1H405.7V1161.5H402.8ZM408.2 1173H411.1V1168.5H408.2ZM408.2 1188.5H411.1V1194.7H408.2ZM410.9 1185.1H413.8V1187.8H410.9ZM413.6 1177.6H416.5V1175.4H413.6ZM416.3 1177.6H419.2V1175.9H416.3ZM416.3 1182.8H419.2V1184.7H416.3ZM419 1177.6H421.9V1174.7H419ZM419 1182.8H421.9V1184.8H419ZM421.7 1176.5H424.6V1173.3H421.7ZM427.1 1176.5H430V1173.4H427.1ZM440.6 1188.5H443.5V1191.9H440.6ZM500 1173H502.9V1168.7H500ZM508.1 1187.4H511V1192.2H508.1ZM510.8 1177.6H513.7V1175.1H510.8ZM527 1186.2H529.9V1190.6H527ZM529.7 1174.2H532.6V1170.8H529.7ZM529.7 1187.4H532.6V1193.5H529.7ZM540.5 1173H543.4V1167.8H540.5ZM545.9 1173H548.8V1167H545.9ZM545.9 1187.4H548.8V1192.4H545.9ZM546.3 1192.4H548.4V1194.3H546.3ZM562.1 1170.7H565V1165.1H562.1ZM562.5 1165.1H564.6V1163.8H562.5ZM562.1 1190.9H565V1195.7H562.1ZM570.2 1198.9H573.1V1204.9H570.2ZM575.6 1197.8H578.5V1203.6H575.6ZM578.3 1170.7H581.2V1165.3H578.3ZM578.3 1189.7H581.2V1195.6H578.3ZM581 1196.6H583.9V1201.2H581ZM586.4 1196.6H589.3V1202.8H586.4ZM589.1 1163.8H592V1158.4H589.1ZM591.8 1196.6H594.7V1202.6H591.8ZM594.5 1170.7H597.4V1165.1H594.5ZM594.5 1190.9H597.4V1194.7H594.5ZM608 1187.4H610.9V1191H608ZM613.4 1173H616.3V1168.8H613.4ZM613.8 1192.2H615.9V1194.3H613.8ZM618.8 1196.6H621.7V1199.8H618.8ZM624.2 1173H627.1V1169.1H624.2ZM624.6 1169.1H626.7V1166.1H624.6ZM624.6 1191.2H626.7V1195.5H624.6ZM632.3 1174.2H635.2V1170.7H632.3ZM642.3 1175.3H646.8V1173H642.3ZM642.3 1185.1H646.8V1187.5H642.3ZM645 1175.3H649.5V1172.2H645ZM647.7 1175.3H652.2V1172H647.7ZM647.7 1185.1H652.2V1187.3H647.7ZM650.4 1175.3H654.9V1172.2H650.4ZM650.4 1185.1H654.9V1188.1H650.4ZM653.1 1185.1H657.6V1189.1H653.1ZM655.8 1175.3H660.3V1171.3H655.8ZM655.8 1185.1H660.3V1187.8H655.8ZM659.3 1175.3H662.2V1173H659.3ZM662 1169.5H664.9V1163.4H662ZM662 1190.9H664.9V1195.7H662ZM664.7 1168.4H667.6V1165H664.7ZM664.7 1193.2H667.6V1199.1H664.7ZM672.8 1193.2H675.7V1199.6H672.8ZM678.2 1184H681.1V1187.5H678.2ZM680.9 1186.2H683.8V1191.6H680.9ZM691.7 1173H694.6V1167.6H691.7ZM702.5 1171.9H705.4V1166.6H702.5ZM702.5 1188.5H705.4V1194.8H702.5ZM705.2 1194.3H708.1V1198H705.2ZM710.6 1165H713.5V1158.6H710.6ZM711 1158.6H713.1V1158H711ZM710.6 1195.5H713.5V1200.1H710.6ZM716.4 1198.8H718.5V1202.4H716.4ZM719.1 1168.6H721.2V1166.1H719.1ZM718.7 1186.2H721.6V1190H718.7ZM721.4 1174.2H724.3V1169H721.4ZM721.4 1186.2H724.3V1192.2H721.4ZM721.8 1192.2H723.9V1194.3H721.8ZM724.1 1196.6H727V1200.8H724.1ZM726.8 1161.5H729.7V1157.2H726.8ZM729.5 1201.2H732.4V1204.8H729.5ZM737.6 1162.7H740.5V1157.4H737.6ZM740.7 1168.8H742.8V1165H740.7ZM740.7 1190.2H742.8V1194.3H740.7ZM745.7 1174.2H748.6V1168.7H745.7ZM745.7 1186.2H748.6V1189.9H745.7ZM746.1 1189.9H748.2V1202.3H746.1ZM748.4 1150H751.3V1145.1H748.4ZM751.1 1211.5H754V1215.2H751.1ZM753.8 1151.2H756.7V1146.1H753.8ZM759.2 1148.9H762.1V1143.5H759.2ZM767.3 1151.2H770.2V1146.2H767.3ZM770 1174.2H772.9V1169.3H770ZM770.4 1169.3H772.5V1163.5H770.4ZM770 1187.4H772.9V1191.3H770ZM783.9 1168.3H786V1165H783.9ZM791.6 1187.4H794.5V1191.6H791.6ZM792 1191.6H794.1V1196.6H792ZM794.3 1171.9H797.2V1165.8H794.3ZM797 1167.2H799.9V1161.2H797ZM810.9 1168.7H813V1166.1H810.9ZM810.5 1188.5H813.4V1193H810.5ZM815.9 1162.7H818.8V1159.1H815.9ZM826.7 1174.2H829.6V1168.5H826.7ZM827.1 1168.5H829.2V1167.2H827.1ZM826.7 1186.2H829.6V1192.1H826.7ZM829.4 1186.2H832.3V1190.5H829.4ZM834.8 1169.5H837.7V1165.8H834.8ZM837.5 1190.9H840.4V1196.8H837.5ZM851 1167.2H853.9V1162.6H851ZM856.4 1193.2H859.3V1199.5H856.4ZM861.8 1186.2H864.7V1191.7H861.8ZM864.5 1174.2H867.4V1168H864.5ZM864.5 1186.2H867.4V1190.3H864.5ZM864.9 1190.3H867V1196.6H864.9ZM869.9 1160.4H872.8V1156.5H869.9ZM875.3 1200H878.2V1203.3H875.3ZM878 1198.9H880.9V1204.4H878ZM883.4 1162.7H886.3V1159H883.4ZM891.5 1163.8H894.4V1157.9H891.5Z" fill="url(#h1_c)"/>
<path d="M326.4 1168.4H330.9V1163.2H326.4ZM326.4 1190.9H330.9V1199.1H326.4ZM329.9 1169.5H332.8V1163.1H329.9ZM329.9 1189.7H332.8V1194.4H329.9ZM340.7 1187.4H343.6V1192H340.7ZM356.9 1176.5H359.8V1174H356.9ZM356.9 1184H359.8V1186.4H356.9ZM358.8 1173H363.3V1164.2H358.8ZM358.8 1188.5H363.3V1197.4H358.8ZM362.3 1187.4H365.2V1192.8H362.3ZM373.1 1185.1H376V1188.6H373.1ZM377.7 1174.2H382.2V1168.7H377.7ZM380.4 1174.2H384.9V1166.6H380.4ZM383.9 1174.2H386.8V1168.1H383.9ZM383.9 1187.4H386.8V1190.9H383.9ZM386.6 1167.2H389.5V1162.5H386.6ZM386.6 1193.2H389.5V1196.5H386.6ZM389.3 1155.8H392.2V1151.6H389.3ZM389.3 1203.5H392.2V1208.7H389.3ZM405.5 1170.7H408.4V1165.3H405.5ZM405.5 1190.9H408.4V1196.6H405.5ZM410.9 1175.3H413.8V1173H410.9ZM421.7 1184H424.6V1186.8H421.7ZM424.4 1184H427.3V1187.2H424.4ZM431.7 1170.7H436.2V1165.3H431.7ZM435.2 1171.9H438.1V1168.3H435.2ZM435.2 1188.5H438.1V1194.6H435.2ZM437.1 1165H441.6V1157.5H437.1ZM437.1 1195.5H441.6V1200.5H437.1ZM440.6 1171.9H443.5V1166.3H440.6ZM442.5 1171.9H447V1163H442.5ZM501.9 1171.9H506.4V1163.8H501.9ZM502.7 1187.4H505.6V1192.3H502.7ZM505.4 1173H508.3V1166.7H505.4ZM504.6 1188.5H509.1V1197.4H504.6ZM513.5 1184H516.4V1186.9H513.5ZM515.4 1169.5H519.9V1164.3H515.4ZM520.8 1190.9H525.3V1197.8H520.8ZM524.3 1176.5H527.2V1172.6H524.3ZM524.3 1184H527.2V1186.5H524.3ZM531.6 1171.9H536.1V1163.5H531.6ZM531.6 1188.5H536.1V1195.5H531.6ZM535.1 1171.9H538V1166.2H535.1ZM537 1170.7H541.5V1165.6H537ZM537 1188.5H541.5V1197.3H537ZM546.3 1167H548.4V1165H546.3ZM547.8 1196.6H552.3V1202.1H547.8ZM550.5 1161.5H555V1154H550.5ZM550.5 1196.6H555V1202.9H550.5ZM554.4 1166.8H556.5V1163.8H554.4ZM554 1190.9H556.9V1197.3H554ZM559.4 1170.7H562.3V1165.7H559.4ZM564.8 1161.5H567.7V1158H564.8ZM566.7 1160.4H571.2V1152.2H566.7ZM570.2 1160.4H573.1V1156.4H570.2ZM575.6 1162.7H578.5V1158H575.6ZM580.2 1162.7H584.7V1156.2H580.2ZM583.7 1163.8H586.6V1160.3H583.7ZM582.9 1197.8H587.4V1204.4H582.9ZM588.3 1197.8H592.8V1202.8H588.3ZM599.1 1169.5H603.6V1164.3H599.1ZM599.1 1190.9H603.6V1197.2H599.1ZM601.8 1169.5H606.3V1162.9H601.8ZM601.8 1190.9H606.3V1198.6H601.8ZM604.5 1169.5H609V1161.7H604.5ZM604.5 1190.9H609V1199H604.5ZM608 1173H610.9V1168H608ZM613.8 1168.8H615.9V1165H613.8ZM613.4 1187.4H616.3V1192.2H613.4ZM618 1162.7H622.5V1157.1H618ZM621.5 1163.8H624.4V1159.2H621.5ZM624.2 1186.2H627.1V1191.2H624.2ZM626.1 1173H630.6V1164.7H626.1ZM629.6 1174.2H632.5V1168.3H629.6ZM645 1185.1H649.5V1188H645ZM653.1 1175.3H657.6V1172.7H653.1ZM666.6 1194.3H671.1V1201.3H666.6ZM669.3 1194.3H673.8V1202.8H669.3ZM672.8 1167.2H675.7V1163.2H672.8ZM675.5 1176.5H678.4V1173H675.5ZM675.9 1173H678V1169.5H675.9ZM675.5 1184H678.4V1186.8H675.5ZM678.2 1176.5H681.1V1172.8H678.2ZM682.8 1187.4H687.3V1194.5H682.8ZM685.5 1187.4H690V1195.9H685.5ZM688.2 1173H692.7V1165.9H688.2ZM689 1187.4H691.9V1192.8H689ZM690.9 1188.5H695.4V1195.1H690.9ZM693.6 1171.9H698.1V1165.7H693.6ZM694.4 1187.4H697.3V1191H694.4ZM696.3 1171.9H700.8V1166.7H696.3ZM696.3 1188.5H700.8V1194.9H696.3ZM699 1171.9H703.5V1164.6H699ZM707.1 1195.5H711.6V1204.1H707.1ZM711 1200.1H713.1V1202.4H711ZM716 1163.8H718.9V1158H716ZM716 1194.3H718.9V1198.8H716ZM718.7 1174.2H721.6V1168.6H718.7ZM723.3 1161.5H727.8V1153.1H723.3ZM726.8 1200H729.7V1205.6H726.8ZM728.7 1156.9H733.2V1150H728.7ZM731.4 1156.9H735.9V1149.5H731.4ZM734.9 1161.5H737.8V1157.3H734.9ZM737.6 1196.6H740.5V1201.2H737.6ZM740.3 1174.2H743.2V1168.8H740.3ZM740.3 1186.2H743.2V1190.2H740.3ZM742.2 1186.2H746.7V1194H742.2ZM746.1 1168.7H748.2V1161.9H746.1ZM747.6 1212.7H752.1V1218.2H747.6ZM753 1212.7H757.5V1219.8H753ZM755.7 1147.7H760.2V1142.4H755.7ZM756.5 1211.5H759.4V1216H756.5ZM758.4 1212.7H762.9V1218.1H758.4ZM761.1 1212.7H765.6V1220.3H761.1ZM770.4 1191.3H772.5V1199.5H770.4ZM771.9 1187.4H776.4V1195.3H771.9ZM777.3 1187.4H781.8V1195.1H777.3ZM780 1173H784.5V1166.6H780ZM780.8 1186.2H783.7V1191.2H780.8ZM783.5 1173H786.4V1168.3H783.5ZM783.5 1187.4H786.4V1192.2H783.5ZM783.9 1192.2H786V1196.6H783.9ZM785.4 1198.9H789.9V1207.6H785.4ZM788.1 1162.7H792.6V1157.2H788.1ZM788.1 1198.9H792.6V1204.5H788.1ZM792 1166.9H794.1V1165H792ZM794.3 1187.4H797.2V1191H794.3ZM797 1194.3H799.9V1200.5H797ZM798.9 1165H803.4V1159.2H798.9ZM801.6 1195.5H806.1V1201.1H801.6ZM804.3 1195.5H808.8V1201.7H804.3ZM807.8 1173H810.7V1168.8H807.8ZM807.8 1188.5H810.7V1193.6H807.8ZM813.2 1163.8H816.1V1157.8H813.2ZM813.2 1195.5H816.1V1201.6H813.2ZM815.1 1198.9H819.6V1207.8H815.1ZM817.8 1160.4H822.3V1151.8H817.8ZM818.6 1197.8H821.5V1203.6H818.6ZM821.3 1163.8H824.2V1158.2H821.3ZM824 1165H826.9V1160.9H824ZM824 1195.5H826.9V1199.8H824ZM827.1 1192.1H829.2V1193.2H827.1ZM829.4 1174.2H832.3V1170.9H829.4ZM832.1 1170.7H835V1165.6H832.1ZM832.1 1190.9H835V1195.9H832.1ZM834 1192H838.5V1198.6H834ZM836.7 1168.4H841.2V1162.5H836.7ZM839.4 1192H843.9V1200.1H839.4ZM845.6 1168.4H848.5V1164H845.6ZM847.5 1167.2H852V1160.6H847.5ZM847.5 1193.2H852V1198.5H847.5ZM853.7 1166.1H856.6V1160.7H853.7ZM852.9 1193.2H857.4V1200.8H852.9ZM859.1 1167.2H862V1161.6H859.1ZM858.3 1194.3H862.8V1201H858.3ZM861.8 1174.2H864.7V1169.7H861.8ZM867.2 1198.9H870.1V1202.4H867.2ZM869.9 1200H872.8V1204.9H869.9ZM874.5 1159.2H879V1153.1H874.5ZM880.7 1161.5H883.6V1158.2H880.7ZM883.4 1198.9H886.3V1203.2H883.4ZM885.3 1162.7H889.8V1156.4H885.3ZM888 1198.9H892.5V1204.2H888ZM891.5 1197.8H894.4V1203.9H891.5ZM894.2 1165H897.1V1159.7H894.2ZM893.4 1197.8H897.9V1206.3H893.4ZM896.1 1162.7H900.6V1156H896.1Z" fill="url(#h2_c)"/>
<path d="M324.5 1187.4H327.4V1193.7H324.5ZM334.5 1171.9H339V1166.3H334.5ZM334.5 1187.4H339V1194.4H334.5ZM340.7 1174.2H343.6V1169.8H340.7ZM342.6 1163.8H347.1V1155.8H342.6ZM342.6 1195.5H347.1V1201.2H342.6ZM348 1171.9H352.5V1165.2H348ZM348 1188.5H352.5V1194.1H348ZM350.7 1171.9H355.2V1165.9H350.7ZM350.7 1188.5H355.2V1197.1H350.7ZM364.2 1171.9H368.7V1164.8H364.2ZM364.2 1187.4H368.7V1195.1H364.2ZM366.9 1187.4H371.4V1194.8H366.9ZM370.4 1185.1H373.3V1187.5H370.4ZM375 1174.2H379.5V1165.9H375ZM375 1186.2H379.5V1194.6H375ZM377.7 1186.2H382.2V1192.4H377.7ZM381.2 1186.2H384.1V1191.9H381.2ZM391.2 1150H395.7V1144.4H391.2ZM393.9 1208.1H398.4V1216.2H393.9ZM400.1 1165H403V1161.1H400.1ZM402.8 1193.2H405.7V1197.4H402.8ZM424.4 1176.5H427.3V1173.1H424.4ZM427.1 1184H430V1187.2H427.1ZM429.8 1171.9H432.7V1166.7H429.8ZM429 1188.5H433.5V1195.3H429ZM431.7 1188.5H436.2V1194.4H431.7ZM442.5 1188.5H447V1195.2H442.5ZM499.2 1187.4H503.7V1194.7H499.2ZM507.3 1171.9H511.8V1166.1H507.3ZM513.5 1176.5H516.4V1172.9H513.5ZM515.4 1190.9H519.9V1197.8H515.4ZM518.1 1169.5H522.6V1163.2H518.1ZM518.1 1190.9H522.6V1196.2H518.1ZM520.8 1169.5H525.3V1161.5H520.8ZM526.2 1173H530.7V1166H526.2ZM534.3 1188.5H538.8V1194.8H534.3ZM539.7 1188.5H544.2V1195.4H539.7ZM542.4 1173H546.9V1166.6H542.4ZM542.4 1188.5H546.9V1195.2H542.4ZM548.6 1162.7H551.5V1157.8H548.6ZM554 1170.7H556.9V1166.8H554ZM555.9 1169.5H560.4V1161.1H555.9ZM555.9 1190.9H560.4V1199.5H555.9ZM558.6 1190.9H563.1V1198.7H558.6ZM564 1197.8H568.5V1206.1H564ZM567.5 1197.8H570.4V1202.4H567.5ZM572.1 1155.8H576.6V1146.8H572.1ZM572.1 1204.7H576.6V1213H572.1ZM585.6 1161.5H590.1V1155.9H585.6ZM591 1162.7H595.5V1157.2H591ZM597.2 1170.7H600.1V1165H597.2ZM596.4 1190.9H600.9V1198.4H596.4ZM609.9 1173H614.4V1166.8H609.9ZM609.9 1188.5H614.4V1193.8H609.9ZM615.3 1162.7H619.8V1154.9H615.3ZM615.3 1196.6H619.8V1202.5H615.3ZM620.7 1197.8H625.2V1204.1H620.7ZM626.1 1187.4H630.6V1192.9H626.1ZM628.8 1187.4H633.3V1193.8H628.8ZM631.5 1187.4H636V1196.1H631.5ZM634.2 1173H638.7V1165.4H634.2ZM634.2 1187.4H638.7V1192.7H634.2ZM659.3 1185.1H662.2V1187.4H659.3ZM667.4 1166.1H670.3V1159.9H667.4ZM669.3 1163.8H673.8V1156.3H669.3ZM680.1 1173H684.6V1164.1H680.1ZM682.8 1173H687.3V1164.3H682.8ZM685.5 1173H690V1166.5H685.5ZM699 1188.5H703.5V1197.3H699ZM704.4 1163.8H708.9V1156.8H704.4ZM707.9 1166.1H710.8V1161.8H707.9ZM712.5 1155.8H717V1149.2H712.5ZM712.5 1204.7H717V1212.8H712.5ZM731.4 1202.4H735.9V1207.7H731.4ZM734.9 1200H737.8V1206.3H734.9ZM742.2 1174.2H746.7V1167H742.2ZM750.3 1148.9H754.8V1143.4H750.3ZM761.9 1151.2H764.8V1146.2H761.9ZM763.8 1147.7H768.3V1139.5H763.8ZM764.6 1211.5H767.5V1215.6H764.6ZM766.5 1212.7H771V1219.2H766.5ZM771.9 1174.2H776.4V1165.4H771.9ZM775.4 1174.2H778.3V1169.2H775.4ZM774.6 1187.4H779.1V1194.2H774.6ZM777.3 1173H781.8V1166.3H777.3ZM785.4 1162.7H789.9V1155.1H785.4ZM791.6 1171.9H794.5V1166.9H791.6ZM798.9 1195.5H803.4V1203.2H798.9ZM801.6 1165H806.1V1158.2H801.6ZM805.1 1166.1H808V1159.7H805.1ZM810.5 1173H813.4V1168.7H810.5ZM820.5 1197.8H825V1204.3H820.5ZM840.2 1168.4H843.1V1164.9H840.2ZM842.1 1167.2H846.6V1161.5H842.1ZM842.9 1192H845.8V1197H842.9ZM844.8 1193.2H849.3V1200.6H844.8ZM850.2 1193.2H854.7V1200.6H850.2ZM855.6 1165H860.1V1158.6H855.6ZM866.4 1159.2H870.9V1153.6H866.4ZM872.6 1160.4H875.5V1156H872.6ZM871.8 1201.2H876.3V1206.8H871.8ZM877.2 1159.2H881.7V1152.5H877.2ZM879.9 1200H884.4V1205.2H879.9ZM885.3 1198.9H889.8V1205.9H885.3ZM888 1162.7H892.5V1153.7H888ZM896.9 1196.6H899.8V1202.3H896.9Z" fill="#fdf7a8"/>
</g>
<path d="M321.9 1179.2H324.6V1181.2H321.9ZM338.1 1179.2H340.8V1181.2H338.1ZM446.1 1179.2H448.8V1181.2H446.1ZM448.8 1179.2H451.5V1181.2H448.8ZM454.2 1179.2H456.9V1181.2H454.2ZM456.9 1179.2H459.6V1181.2H456.9ZM459.6 1179.2H462.3V1181.2H459.6ZM465 1179.2H467.7V1181.2H465ZM475.8 1179.2H478.5V1181.2H475.8ZM478.5 1179.2H481.2V1181.2H478.5ZM481.2 1179.2H483.9V1181.2H481.2ZM486.6 1179.2H489.3V1181.2H486.6ZM489.3 1179.2H492V1181.2H489.3ZM494.7 1179.2H497.4V1181.2H494.7ZM497.4 1179.2H500.1V1181.2H497.4ZM637.8 1179.2H640.5V1181.2H637.8ZM640.5 1179.2H643.2V1181.2H640.5Z" fill="#7a1d4f" opacity=".85"/>
<path d="M324.6 1180.2V1172.2H327.3V1168.7H330V1169.9H332.7V1173.3H335.4V1172.2H338.1V1180.2V1187.1H335.4V1187.1H332.7V1189.4H330V1190.5H327.3V1187.1H324.6ZM340.8 1180.2V1174.5H343.5V1164.1H346.2V1172.2H348.9V1172.2H351.6V1172.2H354.3V1180.2V1188.2H351.6V1188.2H348.9V1188.2H346.2V1195.2H343.5V1187.1H340.8ZM357 1180.2V1176.8H359.7V1173.3H362.4V1173.3H365.1V1172.2H367.8V1173.3H370.5V1175.6H373.2V1175.6H375.9V1174.5H378.6V1174.5H381.3V1174.5H384V1174.5H386.7V1167.5H389.4V1156H392.1V1150.3H394.8V1152.6H397.5V1159.5H400.2V1165.2H402.9V1166.4H405.6V1171H408.3V1173.3H411V1175.6H413.7V1177.9H416.4V1177.9H419.1V1177.9H421.8V1176.8H424.5V1176.8H427.2V1176.8H429.9V1172.2H432.6V1171H435.3V1172.2H438V1165.2H440.7V1172.2H443.4V1172.2H446.1V1180.2V1188.2H443.4V1188.2H440.7V1195.2H438V1188.2H435.3V1188.2H432.6V1188.2H429.9V1183.7H427.2V1183.7H424.5V1183.7H421.8V1182.5H419.1V1182.5H416.4V1182.5H413.7V1184.8H411V1188.2H408.3V1190.5H405.6V1192.9H402.9V1197.5H400.2V1202H397.5V1207.8H394.8V1206.7H392.1V1203.2H389.4V1192.9H386.7V1187.1H384V1186H381.3V1186H378.6V1186H375.9V1184.8H373.2V1184.8H370.5V1187.1H367.8V1187.1H365.1V1187.1H362.4V1188.2H359.7V1183.7H357ZM500.1 1180.2V1173.3H502.8V1172.2H505.5V1173.3H508.2V1172.2H510.9V1177.9H513.6V1176.8H516.3V1169.9H519V1169.9H521.7V1169.9H524.4V1176.8H527.1V1173.3H529.8V1174.5H532.5V1172.2H535.2V1172.2H537.9V1171H540.6V1173.3H543.3V1173.3H546V1173.3H548.7V1163H551.4V1161.8H554.1V1171H556.8V1169.9H559.5V1171H562.2V1171H564.9V1161.8H567.6V1160.7H570.3V1160.7H573V1156H575.7V1163H578.4V1171H581.1V1163H583.8V1164.1H586.5V1161.8H589.2V1164.1H591.9V1163H594.6V1171H597.3V1171H600V1169.9H602.7V1169.9H605.4V1169.9H608.1V1173.3H610.8V1173.3H613.5V1173.3H616.2V1163H618.9V1163H621.6V1164.1H624.3V1173.3H627V1173.3H629.7V1174.5H632.4V1174.5H635.1V1173.3H637.8V1180.2V1187.1H635.1V1187.1H632.4V1187.1H629.7V1187.1H627V1186H624.3V1197.5H621.6V1196.3H618.9V1196.3H616.2V1187.1H613.5V1188.2H610.8V1187.1H608.1V1190.5H605.4V1190.5H602.7V1190.5H600V1190.5H597.3V1190.5H594.6V1196.3H591.9V1197.5H589.2V1196.3H586.5V1197.5H583.8V1196.3H581.1V1189.4H578.4V1197.5H575.7V1204.4H573V1198.6H570.3V1197.5H567.6V1197.5H564.9V1190.5H562.2V1190.5H559.5V1190.5H556.8V1190.5H554.1V1196.3H551.4V1196.3H548.7V1187.1H546V1188.2H543.3V1188.2H540.6V1188.2H537.9V1188.2H535.2V1188.2H532.5V1187.1H529.8V1186H527.1V1183.7H524.4V1190.5H521.7V1190.5H519V1190.5H516.3V1183.7H513.6V1182.5H510.9V1187.1H508.2V1188.2H505.5V1187.1H502.8V1187.1H500.1ZM643.2 1180.2V1175.6H645.9V1175.6H648.6V1175.6H651.3V1175.6H654V1175.6H656.7V1175.6H659.4V1175.6H662.1V1169.9H664.8V1168.7H667.5V1166.4H670.2V1164.1H672.9V1167.5H675.6V1176.8H678.3V1176.8H681V1173.3H683.7V1173.3H686.4V1173.3H689.1V1173.3H691.8V1173.3H694.5V1172.2H697.2V1172.2H699.9V1172.2H702.6V1172.2H705.3V1164.1H708V1166.4H710.7V1165.2H713.4V1156H716.1V1164.1H718.8V1174.5H721.5V1174.5H724.2V1161.8H726.9V1161.8H729.6V1157.2H732.3V1157.2H735V1161.8H737.7V1163H740.4V1174.5H743.1V1174.5H745.8V1174.5H748.5V1150.3H751.2V1149.2H753.9V1151.5H756.6V1148H759.3V1149.2H762V1151.5H764.7V1148H767.4V1151.5H770.1V1174.5H772.8V1174.5H775.5V1174.5H778.2V1173.3H780.9V1173.3H783.6V1173.3H786.3V1163H789V1163H791.7V1172.2H794.4V1172.2H797.1V1167.5H799.8V1165.2H802.5V1165.2H805.2V1166.4H807.9V1173.3H810.6V1173.3H813.3V1164.1H816V1163H818.7V1160.7H821.4V1164.1H824.1V1165.2H826.8V1174.5H829.5V1174.5H832.2V1171H834.9V1169.9H837.6V1168.7H840.3V1168.7H843V1167.5H845.7V1168.7H848.4V1167.5H851.1V1167.5H853.8V1166.4H856.5V1165.2H859.2V1167.5H861.9V1174.5H864.6V1174.5H867.3V1159.5H870V1160.7H872.7V1160.7H875.4V1159.5H878.1V1159.5H880.8V1161.8H883.5V1163H886.2V1163H888.9V1163H891.6V1164.1H894.3V1165.2H897V1163H899.7V1180.2V1196.3H897V1197.5H894.3V1197.5H891.6V1198.6H888.9V1198.6H886.2V1198.6H883.5V1199.8H880.8V1198.6H878.1V1199.8H875.4V1200.9H872.7V1199.8H870V1198.6H867.3V1186H864.6V1186H861.9V1194H859.2V1192.9H856.5V1192.9H853.8V1192.9H851.1V1192.9H848.4V1192.9H845.7V1191.7H843V1191.7H840.3V1190.5H837.6V1191.7H834.9V1190.5H832.2V1186H829.5V1186H826.8V1195.2H824.1V1197.5H821.4V1197.5H818.7V1198.6H816V1195.2H813.3V1188.2H810.6V1188.2H807.9V1195.2H805.2V1195.2H802.5V1195.2H799.8V1194H797.1V1187.1H794.4V1187.1H791.7V1198.6H789V1198.6H786.3V1187.1H783.6V1186H780.9V1187.1H778.2V1187.1H775.5V1187.1H772.8V1187.1H770.1V1212.4H767.4V1211.2H764.7V1212.4H762V1212.4H759.3V1211.2H756.6V1212.4H753.9V1211.2H751.2V1212.4H748.5V1186H745.8V1186H743.1V1186H740.4V1196.3H737.7V1199.8H735V1202H732.3V1200.9H729.6V1199.8H726.9V1196.3H724.2V1186H721.5V1186H718.8V1194H716.1V1204.4H713.4V1195.2H710.7V1195.2H708V1194H705.3V1188.2H702.6V1188.2H699.9V1188.2H697.2V1187.1H694.5V1188.2H691.8V1187.1H689.1V1187.1H686.4V1187.1H683.7V1186H681V1183.7H678.3V1183.7H675.6V1192.9H672.9V1194H670.2V1194H667.5V1192.9H664.8V1190.5H662.1V1184.8H659.4V1184.8H656.7V1184.8H654V1184.8H651.3V1184.8H648.6V1184.8H645.9V1184.8H643.2Z" fill="#0b0619"/>
<rect x="197.5" y="1156.5" width="4" height="2.7" fill="#f98e09"/><rect x="191.9" y="1158.3" width="3.5" height="3.1" fill="#e8602d"/><rect x="197.4" y="1149.5" width="3.3" height="3.2" fill="#f1711f"/><rect x="200.5" y="1154.3" width="3.1" height="3" fill="#cf4446"/><rect x="201.1" y="1161.4" width="2.3" height="2" fill="#f98e09"/><rect x="200.6" y="1160.4" width="2.9" height="2.8" fill="#f98e09"/><rect x="198.9" y="1157.7" width="3.2" height="2.9" fill="#cf4446"/><rect x="201.8" y="1155.2" width="3.3" height="3.3" fill="#e8602d"/><rect x="202.9" y="1154.5" width="2.7" height="2.4" fill="#e8602d"/><rect x="199.8" y="1149.1" width="2.4" height="2.4" fill="#e8602d"/><rect x="208.1" y="1162.7" width="2.2" height="2.3" fill="#f1711f"/><rect x="197.9" y="1163.7" width="3" height="2.1" fill="#f98e09"/><rect x="204.3" y="1154.9" width="2.4" height="2.5" fill="#5d126e"/><rect x="203.9" y="1152.7" width="2.7" height="2.1" fill="#f1711f"/><rect x="197.8" y="1155.1" width="3.6" height="2.3" fill="#f98e09"/><rect x="208.7" y="1162.1" width="3" height="2.5" fill="#5d126e"/><rect x="196.8" y="1151.1" width="2.7" height="3.4" fill="#420a68"/><rect x="209" y="1156.1" width="2.6" height="3.4" fill="#e8602d"/><rect x="188.9" y="1156.5" width="3.1" height="2" fill="#781c6d"/><rect x="205.4" y="1157" width="2.3" height="2.3" fill="#f98e09"/><rect x="188.3" y="1158.8" width="3.4" height="2.2" fill="#cf4446"/><rect x="205.5" y="1154.2" width="3" height="2.9" fill="#420a68"/><rect x="207.1" y="1162.2" width="2.7" height="2.3" fill="#f98e09"/><rect x="202.4" y="1155.3" width="3.2" height="2.1" fill="#f1711f"/><rect x="190.2" y="1154.3" width="4.1" height="2.3" fill="#5d126e"/><rect x="193.4" y="1161.7" width="3.4" height="2.4" fill="#cf4446"/><rect x="207.5" y="1163.8" width="2.5" height="2.7" fill="#e8602d"/><rect x="193.9" y="1162.9" width="2.6" height="2" fill="#420a68"/><rect x="196.6" y="1151.8" width="2.3" height="2.4" fill="#cf4446"/><rect x="189.9" y="1155.5" width="3.1" height="2.5" fill="#cf4446"/><rect x="200.4" y="1162.8" width="3.1" height="2.5" fill="#420a68"/><rect x="208.2" y="1155.4" width="3.5" height="2.7" fill="#420a68"/><rect x="194.7" y="1164" width="2.4" height="2.8" fill="#f1711f"/><rect x="206.9" y="1161.4" width="3.6" height="3.1" fill="#781c6d"/><rect x="195.4" y="1159.3" width="4" height="3.2" fill="#5d126e"/><rect x="207.8" y="1155.2" width="3.2" height="2" fill="#5d126e"/><rect x="196" y="1148.6" width="2.3" height="2.1" fill="#e8602d"/><rect x="208.9" y="1163" width="3.7" height="2.5" fill="#cf4446"/><rect x="197.3" y="1161.3" width="2.4" height="3.1" fill="#f1711f"/><rect x="194.5" y="1151" width="2.2" height="3.3" fill="#e8602d"/><rect x="198.4" y="1157.1" width="4" height="2.4" fill="#f1711f"/><rect x="195.7" y="1150.8" width="3.4" height="2.7" fill="#781c6d"/><rect x="201.9" y="1155.7" width="4" height="2.5" fill="#420a68"/><rect x="192.2" y="1157.2" width="3.8" height="3.3" fill="#f98e09"/><rect x="196.1" y="1157.5" width="2.8" height="2.2" fill="#cf4446"/><rect x="195.4" y="1162.4" width="2.3" height="2.1" fill="#420a68"/><rect x="205.3" y="1153.7" width="3.1" height="3.3" fill="#5d126e"/><rect x="196" y="1156.5" width="3.5" height="3" fill="#cf4446"/><rect x="194.7" y="1161.5" width="2.8" height="2.9" fill="#420a68"/><rect x="200" y="1152.5" width="3.8" height="2" fill="#cf4446"/><rect x="196.5" y="1151" width="3.7" height="2.4" fill="#cf4446"/><rect x="204.7" y="1163.8" width="2.4" height="2.2" fill="#781c6d"/><rect x="208.1" y="1161.2" width="2.6" height="2.7" fill="#cf4446"/><rect x="203" y="1160.6" width="3.3" height="2.1" fill="#f98e09"/><rect x="193.7" y="1155.2" width="3.6" height="2.7" fill="#cf4446"/><rect x="196.3" y="1160.7" width="4" height="2.1" fill="#5d126e"/><rect x="190.7" y="1158.2" width="3.5" height="3.3" fill="#5d126e"/><rect x="199.6" y="1158.1" width="3.2" height="3.1" fill="#781c6d"/><rect x="197.7" y="1158" width="2.6" height="3" fill="#e8602d"/><rect x="192.5" y="1162.8" width="4.2" height="3.4" fill="#781c6d"/><rect x="193.5" y="1160.3" width="2.2" height="2.7" fill="#f1711f"/><rect x="197.3" y="1156.4" width="3.7" height="2.7" fill="#f1711f"/><rect x="192.6" y="1162.4" width="3.1" height="2" fill="#781c6d"/><rect x="202.4" y="1162.8" width="3.1" height="3.4" fill="#cf4446"/><rect x="207.9" y="1159.4" width="4.1" height="2.1" fill="#f98e09"/><rect x="197.2" y="1156.6" width="3.9" height="2.8" fill="#cf4446"/><rect x="199" y="1161.3" width="3.3" height="2.4" fill="#5d126e"/><rect x="208.1" y="1162.8" width="3.4" height="2.4" fill="#cf4446"/><rect x="208.3" y="1159.9" width="3.3" height="2.3" fill="#e8602d"/><rect x="198.6" y="1156.9" width="2.3" height="3.4" fill="#5d126e"/><rect x="199.4" y="1163.8" width="2.4" height="2.1" fill="#cf4446"/><rect x="189.4" y="1159.7" width="3" height="3.3" fill="#5d126e"/><rect x="193.7" y="1156.9" width="2.5" height="2.6" fill="#cf4446"/><rect x="199" y="1148.4" width="3" height="2" fill="#420a68"/><rect x="190.7" y="1161.7" width="2.2" height="2.3" fill="#f98e09"/><rect x="188.2" y="1158.1" width="3.6" height="2.3" fill="#cf4446"/><rect x="190.2" y="1161.3" width="2.4" height="2.7" fill="#420a68"/><rect x="203.1" y="1159.9" width="4" height="2" fill="#5d126e"/><rect x="205.3" y="1159.6" width="3.3" height="3.2" fill="#f98e09"/><rect x="199.1" y="1161.4" width="3.4" height="3.2" fill="#f98e09"/><rect x="207.2" y="1160.4" width="2.9" height="2.3" fill="#781c6d"/><rect x="206.7" y="1155.8" width="3.8" height="2.3" fill="#e8602d"/><rect x="190.8" y="1155.9" width="3.7" height="2.4" fill="#e8602d"/><rect x="197.1" y="1163" width="3.3" height="3" fill="#f98e09"/><rect x="196.5" y="1158.9" width="2.2" height="2.3" fill="#781c6d"/><rect x="207.1" y="1163.7" width="2.4" height="2.7" fill="#781c6d"/><rect x="198.6" y="1158.4" width="2.6" height="2.1" fill="#e8602d"/><rect x="188.5" y="1162" width="3.4" height="3.3" fill="#cf4446"/><rect x="191.1" y="1155.1" width="2.6" height="3.2" fill="#420a68"/><rect x="207.5" y="1155.4" width="2.3" height="3.3" fill="#cf4446"/><rect x="189.6" y="1155.4" width="3" height="2.6" fill="#781c6d"/><rect x="197" y="1157.4" width="2.2" height="3" fill="#f98e09"/><rect x="191.8" y="1157.7" width="3.7" height="2.6" fill="#f98e09"/><rect x="200.7" y="1149.6" width="3.8" height="2.5" fill="#e8602d"/><rect x="204.8" y="1160.5" width="3.9" height="2.9" fill="#5d126e"/><rect x="200" y="1150.6" width="3.4" height="2.5" fill="#420a68"/><rect x="193.9" y="1152" width="3.7" height="2.2" fill="#5d126e"/><rect x="190.8" y="1156.9" width="3.3" height="2.5" fill="#5d126e"/><rect x="204.1" y="1156.5" width="3.6" height="2.1" fill="#781c6d"/><rect x="194.3" y="1151.4" width="4" height="3.4" fill="#f1711f"/><rect x="192.9" y="1163.3" width="3.5" height="2.5" fill="#5d126e"/><rect x="200" y="1156.2" width="3" height="3.4" fill="#f98e09"/><rect x="202.7" y="1160.7" width="4.2" height="2" fill="#e8602d"/><rect x="203.5" y="1154.2" width="3" height="2.1" fill="#f98e09"/><rect x="201.6" y="1149.1" width="2.7" height="2.4" fill="#781c6d"/><rect x="199.6" y="1155.6" width="4.1" height="2.8" fill="#e8602d"/><rect x="201.4" y="1161.1" width="2.4" height="2.8" fill="#f1711f"/><rect x="196.1" y="1163" width="3" height="3.4" fill="#cf4446"/><rect x="199.4" y="1157.1" width="3.1" height="2.7" fill="#420a68"/><rect x="199.1" y="1157" width="2.9" height="2.4" fill="#420a68"/><rect x="178.1" y="1165.5" width="3" height="2" fill="#f1711f"/><rect x="182.9" y="1164.4" width="2.9" height="2.1" fill="#781c6d"/><rect x="166.7" y="1170.4" width="2.6" height="2.3" fill="#cf4446"/><rect x="167.2" y="1172.1" width="2.6" height="2.2" fill="#e8602d"/><rect x="166.5" y="1169.8" width="3.1" height="2.7" fill="#e8602d"/><rect x="187.5" y="1163.2" width="2.8" height="1.8" fill="#f98e09"/><rect x="174.9" y="1166.3" width="3.2" height="2.1" fill="#e8602d"/><rect x="168.3" y="1170.1" width="2.9" height="2.2" fill="#cf4446"/><rect x="179.9" y="1166" width="2.5" height="2.5" fill="#e8602d"/><rect x="186.9" y="1163.2" width="2.3" height="1.8" fill="#cf4446"/><rect x="183.1" y="1164.4" width="2.5" height="2" fill="#f98e09"/><rect x="181.2" y="1163.9" width="2.4" height="2" fill="#e8602d"/><rect x="176.8" y="1167.2" width="2.3" height="2.5" fill="#f1711f"/><rect x="165.7" y="1170.6" width="2" height="1.7" fill="#e8602d"/><rect x="177.7" y="1165" width="2.1" height="2.4" fill="#f98e09"/><rect x="170.8" y="1170.8" width="2.7" height="2.1" fill="#cf4446"/><rect x="173.2" y="1169" width="3.2" height="1.8" fill="#f1711f"/><rect x="175.6" y="1168.3" width="3.2" height="2.5" fill="#781c6d"/><rect x="175" y="1166.7" width="3.1" height="2.1" fill="#f98e09"/><rect x="172.8" y="1168.6" width="3" height="2.7" fill="#781c6d"/><rect x="180.2" y="1165.5" width="2.6" height="2.1" fill="#f98e09"/><rect x="167.4" y="1170.9" width="2.7" height="2.5" fill="#cf4446"/><rect x="184" y="1162.1" width="2.4" height="2.7" fill="#f98e09"/><rect x="167.3" y="1170.1" width="3" height="2.5" fill="#cf4446"/><rect x="185.3" y="1162.2" width="2.9" height="2.1" fill="#f1711f"/><rect x="172.8" y="1168.2" width="2.8" height="2.7" fill="#cf4446"/><rect x="175.4" y="1168.3" width="2.4" height="2" fill="#781c6d"/><rect x="187.3" y="1163" width="2.7" height="1.8" fill="#cf4446"/><rect x="166" y="1171.8" width="2.8" height="2.6" fill="#f98e09"/><rect x="173.8" y="1167.7" width="2.2" height="2.4" fill="#e8602d"/><rect x="169.5" y="1170.7" width="3.2" height="2" fill="#f1711f"/><rect x="170.5" y="1168" width="2.2" height="2" fill="#f1711f"/><rect x="180.2" y="1166.3" width="2.1" height="2.3" fill="#f98e09"/><rect x="167.4" y="1169.4" width="3" height="2.7" fill="#f1711f"/><rect x="166.1" y="1171.7" width="2.1" height="2.6" fill="#781c6d"/><rect x="171" y="1168.3" width="3.1" height="2.3" fill="#781c6d"/><rect x="174.4" y="1167.2" width="3.4" height="2.4" fill="#781c6d"/><rect x="176.5" y="1167.8" width="2.1" height="2.4" fill="#f1711f"/><rect x="174.7" y="1168.6" width="2.9" height="2.6" fill="#781c6d"/><rect x="184.3" y="1164.8" width="3.3" height="2.4" fill="#f98e09"/><rect x="199.2" y="1163.1" width="2.2" height="2.4" fill="#f98e09"/><rect x="194.2" y="1169.5" width="2.2" height="2.4" fill="#f98e09"/><rect x="210.3" y="1164.7" width="2.2" height="2.4" fill="#f98e09"/><rect x="195.2" y="1167.4" width="2.2" height="2.4" fill="#f98e09"/><rect x="205.7" y="1165.2" width="2.2" height="2.4" fill="#f98e09"/><rect x="199.8" y="1166.7" width="2.2" height="2.4" fill="#f98e09"/><rect x="197.5" y="1169.2" width="2.2" height="2.4" fill="#f98e09"/><rect x="201.4" y="1168.1" width="2.2" height="2.4" fill="#f98e09"/><rect x="198.1" y="1164.1" width="2.2" height="2.4" fill="#f98e09"/><rect x="210.4" y="1169.4" width="2.2" height="2.4" fill="#f98e09"/><rect x="161.5" y="1338" width="1.8" height="22" fill="#781c6d"/>
</g></g>
<rect x="159.9" y="994.6" width="741.5" height="371" fill="none" stroke="#000" stroke-width="3.0"/>
<rect x="913.3" y="994.7" width="37.5" height="206.6" fill="url(#cb)" stroke="#000" stroke-width="3.0"/>
<path d="M941.6 1063.8H950.8M941.6 1132.5H950.8" stroke="#000" stroke-width="2.4"/>
<text x="964" y="1011.1">3</text>
<text x="963.3" y="1217.8">0</text>
<text x="844.3" y="972.2" textLength="184" lengthAdjust="spacingAndGlyphs">d<tspan font-style="italic">V</tspan>/d<tspan font-style="italic">I</tspan> (kΩ)</text>
<path d="M159.5 1437.1H899.4" stroke="#000" stroke-width="3" stroke-dasharray="47.5 28.5" fill="none"/>
<text x="913.9" y="1449.5" textLength="96" lengthAdjust="spacingAndGlyphs"><tspan font-style="italic">h</tspan>/2<tspan font-style="italic">e</tspan><tspan dy="-13" font-size="26">2</tspan></text>
<path d="M159.5 1635.8H899.4" stroke="#000" stroke-width="3" stroke-dasharray="47.5 28.5" fill="none"/>
<text x="913.9" y="1648.2" textLength="96" lengthAdjust="spacingAndGlyphs"><tspan font-style="italic">h</tspan>/6<tspan font-style="italic">e</tspan><tspan dy="-13" font-size="26">2</tspan></text>
<path d="M159.5 1675.6H899.4" stroke="#000" stroke-width="3" stroke-dasharray="47.5 28.5" fill="none"/>
<text x="913.9" y="1688" textLength="118.5" lengthAdjust="spacingAndGlyphs"><tspan font-style="italic">h</tspan>/10<tspan font-style="italic">e</tspan><tspan dy="-13" font-size="26">2</tspan></text>
<g clip-path="url(#p_c)" fill="none" stroke-width="6.6" stroke-linejoin="round" stroke-linecap="round">
<polyline points="161.5,1578.4 163.6,1556.2 166.7,1602.8 169.6,1573 169.9,1570.1 172,1536.9 175,1539.3 175.1,1537.8 177.7,1492.5 178.2,1483.3 180.4,1482.1 181.4,1483.6 183.1,1476.9 184.5,1468.1 185.8,1526.2 187.7,1610.8 191.2,1541.3 191.8,1529.3 193.9,1572.8 195,1598.1 196.6,1567.4 198.1,1537.6 199.3,1554.6 201.3,1578.8 204.4,1563.2 207.4,1572 207.5,1570.5 210.1,1548.7 212.8,1525 215.5,1526.6 215.9,1528.7 218.2,1541.8 219.1,1545.1 220.9,1515.4 222.2,1495.5 223.6,1441.1 224.3,1416.4 226.3,1416.3 226.4,1415.9 229,1470.9 230.6,1499.6 231.7,1482.5 233.7,1453.2 236.8,1447.7 239.8,1472.6 240.4,1478.8 242.5,1442.7 243.1,1432.5 245.2,1434 247.9,1432.7 248.3,1432.1 250.6,1437.3 252.5,1440.6 256,1436.4 256.7,1432.3 258.7,1433.2 260.9,1434.9 264.1,1419.1 264.7,1414.3 266.8,1420.2 268.2,1424.8 269.5,1427.5 272.2,1428.1 273.5,1428.5 274.9,1428.6 277.6,1429.5 278.7,1431.5 280.3,1435.2 282.9,1437 285.7,1431.2 287.1,1426.3 288.4,1428.2 291.1,1439.5 291.2,1436.3 293.8,1443.2 296.5,1451.1 297.5,1453.8 299,1558.1 301.9,1556.1 302.8,1556.4 304.6,1515.8 305.9,1486.9 307.3,1481.6 310,1467.5 311.1,1463.7 312.7,1464.4 313.2,1466.1 315.4,1494.7 316.4,1506 318.1,1531.2 319.1,1547.6 320.5,1642.1 321.6,1700.8 323.5,1704.4 324.7,1704.7 326.2,1717.2 327.9,1733.1 328.9,1730.8 331.6,1724.7 332,1724 334.3,1730.2 335.2,1733 337,1716.1 339.4,1690.4 342.4,1730.5 342.5,1733.1 345.1,1733.1 347.8,1732.9 350.5,1733 350.9,1733.1 353.2,1710.8 355.9,1684.2 356.1,1681.8 358.6,1683 359.2,1683.9 361.3,1708.8 363.4,1733.1 366.6,1733 369.4,1700.1 369.7,1695.7 372.1,1724.6 372.8,1733.2 374.8,1732.9 377.5,1733.2 380.2,1733.1 382.9,1728.4 385.4,1723.3 388.3,1733.2 388.5,1733 391,1733.1 393.7,1732.9 396.4,1732.9 396.9,1733.1 399.1,1727.5 401.1,1723.7 404.5,1732 405.3,1733 407.2,1729.9 409.9,1726.6 412.6,1724.6 413.7,1721.4 415.3,1725.7 417.8,1733 420.7,1716.4 422,1706.9 423.4,1711.8 426.1,1723.1 426.2,1724.1 428.8,1713.1 431.4,1702.7 434.2,1715.4 436.7,1733 439.6,1732.6 442.3,1733 442.9,1733.1 445,1707.2 447.1,1681.9 450.4,1721.7 451.3,1733.1 453.1,1724.9 455.8,1709.4 458.5,1699.3 459.7,1691.8 461.2,1700.6 463.9,1712.6 466.6,1688.5 469.1,1667.8 472,1645 472.2,1645.3 474.7,1674.8 475.4,1680.3 477.4,1701.9 478.5,1713.1 480.1,1716.1 482.7,1721.4 484.8,1703.3 488.2,1709.1 489,1709.1 490.9,1695.7 492.1,1687.8 493.6,1696.6 496.3,1713.1 499,1730.5 499.4,1733.1 501.7,1732.8 504.4,1733 505.7,1733.1 507.1,1725 508.9,1717.4 509.8,1709.9 510,1707.4 511.9,1701 515.2,1726.1 515.8,1731.8 517.9,1728.4 520.6,1723.1 523.3,1720 523.6,1718.3 526,1724.6 527.5,1731.9 528.7,1726.2 531.4,1711.1 534.1,1697.3 534.2,1695.6 536.8,1713.7 539.1,1732.2 542.2,1730.1 544.9,1730.5 547.6,1730.8 550.3,1728.5 553,1728.5 554.6,1727.9 555.7,1724.6 558.4,1714 559.5,1712.7 561.1,1722 563.3,1731.7 566.5,1719.5 567.2,1716.3 569.2,1722.2 571.9,1732.5 572.1,1731.6 574.6,1729.6 577.3,1726.8 579.8,1723.9 582.7,1726.4 585.4,1727.6 587.6,1730.1 590.8,1728.9 593.5,1729 596.2,1727.1 598.9,1727.2 601.2,1726.2 604.3,1727.1 607,1731 609.7,1730.9 610.9,1732 612.4,1730.5 615.1,1729.2 617.8,1727 620.5,1726.5 620.6,1726.2 623.2,1727.4 625.9,1727.6 628.3,1728 631.3,1719.7 634,1712.3 636.7,1704.9 637.1,1704.9 639.4,1711.3 642.1,1717.6 644.8,1725 645.8,1727.8 647.5,1727.2 650.2,1725.4 652.9,1723.5 655.6,1724.1 657.4,1721.7 661,1728 663.2,1732.9 666.4,1732.8 669.1,1733 671.8,1732.9 674.5,1733.2 674.9,1732.8 677.2,1727.9 678.8,1722.5 679.9,1723.7 682.6,1728.7 684.6,1731.6 688,1731.8 690.7,1733.1 693.4,1732.9 696.1,1732.6 698.8,1731.7 701.5,1732.6 704,1732.8 706.9,1728.8 709.6,1729 712.3,1724.9 713.7,1724 715,1724.2 717.7,1725.3 720.4,1727.3 723.1,1728.3 723.4,1728.2 725.8,1729.4 728.5,1732.1 729.2,1732.9 731.2,1732.9 733.9,1730 736.6,1730 738.9,1728.3 742,1730.6 744.7,1730 746.7,1733 750.1,1731.6 752.8,1730.2 755.5,1728.5 756.4,1727.8 758.2,1725.9 760.9,1725 763.6,1725 766.3,1724.2 769,1723.8 771.7,1724.2 771.9,1722.8 774.4,1726.9 777.1,1731 777.7,1732 779.8,1731.4 782.5,1728.5 785.2,1727.8 787.4,1726.5 790.6,1725.2 793.3,1723 795.2,1724.4 798.7,1729.1 801,1732.9 804.1,1730.6 806.8,1728.3 809.5,1726.6 810.7,1725.7 812.2,1727.3 814.9,1726.2 817.6,1727.2 820.3,1725.9 823,1728 825.7,1729.6 828.4,1729.9 830.1,1730.2 831.1,1730.8 833.8,1731.1 836.5,1731.7 839.2,1732.4 839.8,1732.9 841.9,1733.1 844.6,1732 847.3,1732.1 850,1730.7 852.7,1731.8 855.4,1729.1 858.1,1729.6 859.2,1730.1 860.8,1731.4 863.5,1733.1 865,1732.9 866.2,1732.2 868.9,1731.4 871.6,1730.1 874.3,1728.9 874.7,1729.7 877,1731.3 879.7,1733.3 880.5,1732.9 882.4,1730.5 885.1,1730.3 887.8,1725.5 888.3,1726.3 890.5,1727.7 893.2,1731 895.9,1731.4 896,1732 898.6,1731.4 899.9,1731.3" stroke="#3e5d91"/>
<polyline points="161.5,1617.3 163.6,1600.2 166.7,1589.7 169.6,1579.9 169.9,1579.1 172.3,1593.2 173,1595.8 175,1570.6 176.2,1558 177.7,1541.4 179.3,1524.2 180.4,1524.3 182.4,1516.6 185.6,1589.5 188.5,1522.7 188.7,1516.4 191.2,1500 191.8,1495.9 193.9,1479.7 195,1470.7 196.6,1462.5 197.7,1455.8 199.3,1465.4 201.3,1478.4 204.4,1483.1 207.4,1469.8 209.6,1456 212.8,1478.4 215.5,1449.4 215.9,1440.9 218.2,1453.7 220.1,1459.3 223.6,1460.2 224.3,1462 226.3,1449.5 228.5,1437.3 231.6,1434.1 234.4,1443.6 235.8,1443 237.1,1446.6 239.8,1453.6 240,1458.3 242.5,1456.5 244.2,1453.7 245.2,1446.9 247.9,1431 248.3,1426.8 250.4,1424.3 252.5,1443.4 256,1438.1 256.7,1435 258.7,1434 260.9,1437.4 264.1,1428.1 264.7,1424.2 266.8,1437.5 268.2,1445.1 269.5,1441.5 271.4,1432.6 274.9,1438.2 275.5,1438.8 277.6,1447 279.7,1454 283,1446 283.9,1442.5 285.7,1445 288.1,1445.2 291.1,1450.3 293.3,1455.4 296.5,1483.2 299.2,1510.9 299.6,1516.5 301.9,1517.9 303.8,1518.7 307.3,1525.8 308,1525.3 310,1533.8 312.2,1545.2 315.3,1553.8 318.1,1553.2 318.4,1552.2 320.8,1565.5 321.6,1570.2 323.5,1590.2 324.7,1602.7 326.2,1603.7 327.9,1606.2 328.9,1626.1 330,1642.4 331.6,1635 333.1,1635.1 334.3,1649.2 336.2,1671 339.4,1648.2 342.4,1631.7 342.5,1632.5 345.1,1651.3 346.7,1662.9 347.8,1659.5 350.5,1651.5 351.9,1646.2 353.2,1653 355.9,1662.6 356.1,1662.8 358.6,1665.5 360.3,1667.4 361.3,1670.9 363.4,1681.5 366.7,1663.6 367.6,1656.7 369.4,1669.5 370.8,1679.4 372.1,1677.6 373.9,1667.1 374.8,1679.3 377,1713.5 380.2,1687.5 381.2,1677.7 382.9,1688 385.4,1702.6 388.3,1699.9 390.6,1694.2 393.7,1695.3 396.4,1699.6 396.9,1698.1 399.1,1694.9 401.8,1696.8 403.2,1692.3 404.5,1694.5 407.2,1695.2 409.5,1696.6 412.6,1700.8 415.3,1704.4 415.7,1702.5 418,1697.9 419.9,1692 423.4,1686.3 426.1,1685.3 426.2,1686.2 428.8,1684.3 430.4,1683.9 431.5,1675 432.5,1671.3 434.2,1667.3 436.9,1662.6 437.7,1663.2 439.6,1670.1 439.8,1671.7 442.3,1669.1 445,1667.4 445,1667 447.7,1671.2 449.2,1675.2 450.4,1667.5 453.1,1656.7 453.4,1654.7 455.8,1664.4 456.5,1662.9 458.5,1650.8 459.7,1644.2 461.2,1649.7 462.8,1651.7 463.9,1651 466.6,1644 468.1,1640.6 469.3,1639.7 472,1636 472.2,1635.1 474.7,1636.3 477.4,1638.9 480.1,1637.9 480.6,1637.2 482.8,1637.1 485.5,1644.3 486.9,1646.1 488.2,1648.6 490.9,1650.8 491.1,1650.1 493.6,1648.1 495.3,1644.3 496.3,1646.4 499,1642.5 501.5,1643.7 504.4,1653 505.7,1654.7 507.1,1659 508.9,1665.3 509.8,1668.8 510,1666.6 512.5,1667.6 515.2,1663.4 515.8,1663.9 517.9,1663.7 520.6,1658.1 521.6,1658.2 523.3,1661.5 526,1676.3 527.5,1681.3 528.7,1680.7 531.4,1680 534.1,1680.5 535.2,1679.8 536.8,1680.8 539.5,1684 542.2,1683.2 543,1686.9 544.9,1684.6 547.6,1684.5 548.8,1682.3 550.3,1693.3 553,1711.4 554.6,1723.4 555.7,1721.3 558.4,1705.3 560.4,1693.1 563.8,1696 566.3,1700.8 569.2,1698.5 571.9,1695.5 574,1690.8 577.3,1699.8 580,1704.3 581.8,1711.4 582.7,1707.1 585.4,1706.4 587.6,1702.8 590.8,1707.1 593.5,1713.1 595.4,1712.4 598.9,1705.9 601.2,1700.5 604.3,1705.2 607,1709.9 609.7,1712.5 610.9,1714.5 612.4,1712.8 615.1,1706.4 616.7,1700.5 617.8,1700.8 620.5,1699.7 623.2,1695.6 624.5,1696.9 625.9,1694.4 628.6,1701.1 630.3,1700.5 631.3,1700.9 634,1693 636.1,1687.7 639.4,1695.4 642.1,1701.2 643.9,1705.2 644.8,1701.6 647.5,1696.8 649.7,1691.4 652.9,1690 655.6,1690.5 657.4,1688.8 661,1692.3 663.7,1691.4 665.2,1692.1 666.4,1689.6 669.1,1687.7 671.8,1684.9 672.9,1685 674.5,1689.1 676.8,1697.5 679.9,1690.5 682.6,1682.5 682.6,1684.8 685.3,1685.5 688,1683.7 690.4,1685.4 693.4,1688.3 696.1,1691.2 696.2,1691 698.8,1690.2 701.5,1692.4 704,1690.4 706.9,1702.5 707.9,1706.2 709.6,1704.1 712.3,1702.5 715,1700.6 715.6,1698.3 717.7,1698.8 720.4,1700.3 723.1,1695.4 723.4,1696.6 725.8,1699.8 728.5,1698.8 729.2,1698.6 731.2,1702.5 733.9,1714.1 735,1715.3 736.6,1714.1 739.3,1713.1 742,1711.3 742.8,1712.8 744.7,1715 747.4,1721.6 750.1,1720.5 750.5,1719.8 752.8,1715.5 755.5,1711 758.2,1704.9 758.3,1704.3 760.9,1708.6 763.6,1715.6 764.1,1715.9 766.3,1713.9 769,1707.7 771.7,1705.6 773.8,1705.3 777.1,1706.7 779.8,1711.4 781.6,1712.1 782.5,1709.2 785.2,1707.2 787.9,1709.3 789.3,1705.2 790.6,1708.9 793.3,1709.2 796,1716.6 798.7,1714.6 799,1717.9 801.4,1716.8 804.1,1710.9 806.8,1713.2 809.5,1710 812.2,1705.6 814.9,1707.9 816.5,1709.2 817.6,1708.5 820.3,1708.2 823,1707.5 824.3,1706.9 825.7,1706.7 828.4,1703.7 831.1,1700.9 833.8,1698.3 834,1698.8 836.5,1700.5 839.2,1704.5 839.8,1704.3 841.9,1705.2 844.6,1706.7 847.3,1708.5 847.5,1709 850,1701.1 852.7,1702.4 855.4,1698.2 858.1,1694 859.2,1695 860.8,1702.8 863.5,1710 865,1716.2 866.2,1711.6 868.9,1698.2 870.8,1695.4 874.3,1698.9 877,1701.9 878.6,1705 879.7,1705.4 882.4,1709.5 885.1,1709.7 886.3,1710.4 887.8,1709.2 890.5,1707.2 893.2,1707.3 894.1,1707.9 895.9,1710.2 898.6,1708.2 899.9,1710.7" stroke="#e95420"/>
</g>
<path d="M140.5 1328.8H159.9M140.5 1254.5H159.9M140.5 1180.2H159.9M140.5 1105.9H159.9M140.5 1031.6H159.9M140.5 1735.2H159.9M140.5 1619.7H159.9M140.5 1504.2H159.9M140.5 1388.7H159.9M283.5 1735.2V1756.4M438 1735.2V1756.4M592.5 1735.2V1756.4M747 1735.2V1756.4M901.4 1735.2V1756.4M159.9 1365.6V1735.2H901.4V1365.6" fill="none" stroke="#000" stroke-width="3.0" stroke-linejoin="miter"/>
<text x="133.5" y="1045.6" text-anchor="end" textLength="44.6" lengthAdjust="spacingAndGlyphs">20</text>
<text x="133.5" y="1194.2" text-anchor="end">0</text>
<text x="133.5" y="1342.8" text-anchor="end" textLength="59" lengthAdjust="spacingAndGlyphs">-20</text>
<text x="133.5" y="1749.2" text-anchor="end">0</text>
<text x="133.5" y="1518.2" text-anchor="end" textLength="44.6" lengthAdjust="spacingAndGlyphs">10</text>
<text x="283.5" y="1793.9" text-anchor="middle">0</text>
<text x="438" y="1793.9" text-anchor="middle" textLength="54" lengthAdjust="spacingAndGlyphs">0.5</text>
<text x="592.5" y="1793.9" text-anchor="middle">1</text>
<text x="747" y="1793.9" text-anchor="middle" textLength="54" lengthAdjust="spacingAndGlyphs">1.5</text>
<text x="901.5" y="1793.9" text-anchor="middle">2</text>
<text transform="translate(66.5 1180.2) rotate(-90)" text-anchor="middle" textLength="310" lengthAdjust="spacingAndGlyphs">Current bias (n<tspan font-style="italic">A</tspan>)</text>
<text transform="translate(66.7 1548.3) rotate(-90)" text-anchor="middle" textLength="184" lengthAdjust="spacingAndGlyphs">d<tspan font-style="italic">V</tspan>/d<tspan font-style="italic">I</tspan> (kΩ)</text>
<text x="336.2" y="1841.2" textLength="390.6" lengthAdjust="spacingAndGlyphs">Back-gate voltage (V)</text>
<path d="M619.2 1472.6H711.1" stroke="#3e5d91" stroke-width="6.5" stroke-linecap="round"/>
<path d="M619.2 1528.6H711.1" stroke="#e95420" stroke-width="6.5" stroke-linecap="round"/>
<text x="718.6" y="1485.9" textLength="137.2" lengthAdjust="spacingAndGlyphs"><tspan font-style="italic">I</tspan> = 0 nA</text>
<text x="718.6" y="1541.7" textLength="159.4" lengthAdjust="spacingAndGlyphs"><tspan font-style="italic">I</tspan> = 26 nA</text>
<text x="175.6" y="1046.4" textLength="120.6" lengthAdjust="spacingAndGlyphs"><tspan font-style="italic">B</tspan> = 5 T</text>
<text x="2.4" y="970.8" font-size="47" font-weight="bold">c</text>
</g>
<g id="panel-d">
<g clip-path="url(#c_d)">
<rect x="1252.7" y="995.6" width="741.5" height="370.9" fill="url(#g_d)"/>
<g filter="url(#soft)">
<rect x="1252.7" y="995.6" width="741.5" height="370.9" fill="url(#lo_d)" mask="url(#nmD_d)"/><rect x="1252.7" y="995.6" width="741.5" height="370.9" fill="url(#hi_d)" mask="url(#nmL_d)"/>
<g mask="url(#mk_d)">
<path d="M1459.3 1180M1470.1 1180M1475.5 1180L1478.2 1178.9L1480.9 1178.9L1483.6 1178.9L1486.3 1178.9L1489 1178.9L1491.7 1178.9L1494.4 1178.9L1497.1 1178.9L1499.8 1178.9L1502.5 1178.9L1505.2 1178.9L1507.9 1178.9L1510.6 1178.9L1513.3 1178.9L1516 1175.5L1518.7 1174.3L1521.4 1174.3L1524.1 1174.3L1526.8 1175.5L1529.5 1178.9L1532.2 1178.9L1534.9 1175.5L1537.6 1174.3L1540.3 1169.7L1543 1168.5L1545.7 1175.5L1548.4 1175.5L1551.1 1175.5L1553.8 1180L1556.5 1180L1559.2 1180L1561.9 1180L1564.6 1180L1567.3 1180L1570 1180L1572.7 1180L1575.4 1180L1578.1 1180L1580.8 1180L1583.5 1180L1586.2 1180L1588.9 1180L1591.6 1180M1613.2 1180L1615.9 1180M1637.5 1180L1640.2 1180L1642.9 1180M1648.3 1178.9L1651 1178.9L1653.7 1178.9L1656.4 1178.9L1659.1 1178.9L1661.8 1180L1664.5 1180L1667.2 1180L1669.9 1180L1672.6 1180L1675.3 1180L1678 1180M1688.8 1178.9L1691.5 1178.9L1694.2 1178.9L1696.9 1172L1699.6 1172L1702.3 1170.9L1705 1178.9L1707.7 1178.9L1710.4 1178.9L1713.1 1178.9L1715.8 1170.9L1718.5 1170.9L1721.2 1169.7L1723.9 1166.2L1726.6 1167.4L1729.3 1167.4L1732 1167.4L1734.7 1168.5L1737.4 1165.1L1740.1 1167.4L1742.8 1167.4L1745.5 1169.7L1748.2 1169.7L1750.9 1177.8L1753.6 1177.8L1756.3 1170.9L1759 1170.9L1761.7 1169.7L1764.4 1169.7L1767.1 1168.5L1769.8 1169.7L1772.5 1170.9L1775.2 1170.9L1777.9 1177.8L1780.6 1172L1783.3 1172L1786 1172L1788.7 1172L1791.4 1172L1794.1 1172L1796.8 1167.4L1799.5 1167.4L1802.2 1165.1L1804.9 1165.1L1807.6 1167.4L1810.3 1167.4L1813 1165.1L1815.7 1167.4L1818.4 1173.2L1821.1 1173.2L1823.8 1173.2L1826.5 1180L1829.2 1176.6L1831.9 1176.6L1834.6 1176.6L1837.3 1176.6L1840 1176.6L1842.7 1180L1845.4 1180L1848.1 1180L1850.8 1180L1853.5 1180L1856.2 1180L1858.9 1180L1861.6 1180L1864.3 1180L1867 1180L1869.7 1180L1872.4 1178.9L1875.1 1178.9L1877.8 1178.9L1880.5 1178.9L1883.2 1178.9L1885.9 1178.9L1888.6 1178.9L1891.3 1175.5L1894 1175.5L1896.7 1175.5L1899.4 1175.5L1902.1 1175.5L1904.8 1180L1907.5 1180L1910.2 1180L1912.9 1174.3L1915.6 1172L1918.3 1172L1921 1170.9L1923.7 1170.9L1926.4 1173.2L1929.1 1173.2L1931.8 1176.6L1934.5 1170.9L1937.2 1172L1939.9 1170.9L1942.6 1172L1945.3 1176.6L1948 1176.6L1950.7 1176.6L1953.4 1169.7L1956.1 1159.4L1958.8 1170.9L1961.5 1175.5L1964.2 1170.9L1966.9 1169.7L1969.6 1169.7L1972.3 1170.9L1975 1172L1977.7 1172L1980.4 1170.9L1983.1 1170.9L1985.8 1172L1988.5 1170.9L1991.2 1173.2L1993.4 1174.3M1459.3 1182.4M1470.1 1182.4M1475.5 1182.4L1478.2 1183.5L1480.9 1183.5L1483.6 1183.5L1486.3 1183.5L1489 1183.5L1491.7 1183.5L1494.4 1183.5L1497.1 1183.5L1499.8 1183.5L1502.5 1183.5L1505.2 1183.5L1507.9 1183.5L1510.6 1183.5L1513.3 1183.5L1516 1187L1518.7 1188.1L1521.4 1189.2L1524.1 1188.1L1526.8 1187L1529.5 1183.5L1532.2 1183.5L1534.9 1188.1L1537.6 1188.1L1540.3 1193.9L1543 1192.7L1545.7 1188.1L1548.4 1188.1L1551.1 1188.1L1553.8 1182.4L1556.5 1182.4L1559.2 1182.4L1561.9 1182.4L1564.6 1182.4L1567.3 1182.4L1570 1182.4L1572.7 1182.4L1575.4 1182.4L1578.1 1182.4L1580.8 1182.4L1583.5 1182.4L1586.2 1182.4L1588.9 1182.4L1591.6 1182.4M1613.2 1182.4L1615.9 1182.4M1637.5 1182.4L1640.2 1182.4L1642.9 1182.4M1648.3 1183.5L1651 1183.5L1653.7 1183.5L1656.4 1183.5L1659.1 1183.5L1661.8 1182.4L1664.5 1182.4L1667.2 1182.4L1669.9 1182.4L1672.6 1182.4L1675.3 1182.4L1678 1182.4M1688.8 1183.5L1691.5 1183.5L1694.2 1183.5L1696.9 1190.4L1699.6 1190.4L1702.3 1190.4L1705 1183.5L1707.7 1183.5L1710.4 1183.5L1713.1 1183.5L1715.8 1190.4L1718.5 1191.5L1721.2 1191.5L1723.9 1193.9L1726.6 1193.9L1729.3 1193.9L1732 1195L1734.7 1196.2L1737.4 1195L1740.1 1196.2L1742.8 1193.9L1745.5 1193.9L1748.2 1192.7L1750.9 1184.7L1753.6 1184.7L1756.3 1190.4L1759 1191.5L1761.7 1191.5L1764.4 1192.7L1767.1 1192.7L1769.8 1192.7L1772.5 1191.5L1775.2 1191.5L1777.9 1184.7L1780.6 1190.4L1783.3 1190.4L1786 1190.4L1788.7 1190.4L1791.4 1190.4L1794.1 1190.4L1796.8 1193.9L1799.5 1196.2L1802.2 1196.2L1804.9 1196.2L1807.6 1195L1810.3 1195L1813 1196.2L1815.7 1195L1818.4 1188.1L1821.1 1188.1L1823.8 1188.1L1826.5 1182.4L1829.2 1185.8L1831.9 1185.8L1834.6 1185.8L1837.3 1185.8L1840 1185.8L1842.7 1182.4L1845.4 1182.4L1848.1 1182.4L1850.8 1182.4L1853.5 1182.4L1856.2 1182.4L1858.9 1182.4L1861.6 1182.4L1864.3 1182.4L1867 1182.4L1869.7 1182.4L1872.4 1183.5L1875.1 1183.5L1877.8 1183.5L1880.5 1183.5L1883.2 1183.5L1885.9 1183.5L1888.6 1183.5L1891.3 1187L1894 1187L1896.7 1187L1899.4 1187L1902.1 1187L1904.8 1182.4L1907.5 1182.4L1910.2 1182.4L1912.9 1188.1L1915.6 1190.4L1918.3 1190.4L1921 1191.5L1923.7 1191.5L1926.4 1190.4L1929.1 1190.4L1931.8 1185.8L1934.5 1191.5L1937.2 1191.5L1939.9 1191.5L1942.6 1191.5L1945.3 1185.8L1948 1185.8L1950.7 1185.8L1953.4 1191.5L1956.1 1203L1958.8 1192.7L1961.5 1187L1964.2 1192.7L1966.9 1192.7L1969.6 1192.7L1972.3 1192.7L1975 1190.4L1977.7 1191.5L1980.4 1191.5L1983.1 1190.4L1985.8 1191.5L1988.5 1191.5L1991.2 1188.1L1993.4 1188.1" fill="none" stroke="url(#h1_d)" stroke-width="10" opacity=".8" stroke-linejoin="round" stroke-linecap="round" filter="url(#bl3)"/>
<path d="M1476.7 1183.8H1479.6V1186.8H1476.7ZM1479.4 1178.6H1482.3V1176.4H1479.4ZM1482.1 1183.8H1485V1186.4H1482.1ZM1484.8 1183.8H1487.7V1186.4H1484.8ZM1487.5 1178.6H1490.4V1176.7H1487.5ZM1490.2 1183.8H1493.1V1186.7H1490.2ZM1492.9 1178.6H1495.8V1176.9H1492.9ZM1503.7 1183.8H1506.6V1185.7H1503.7ZM1506.4 1178.6H1509.3V1176.5H1506.4ZM1509.1 1183.8H1512V1186.6H1509.1ZM1511.8 1178.6H1514.7V1175.8H1511.8ZM1511.8 1183.8H1514.7V1185.7H1511.8ZM1514.5 1187.2H1517.4V1193H1514.5ZM1517.2 1188.4H1520.1V1193.8H1517.2ZM1525.3 1175.2H1528.2V1170.1H1525.3ZM1528 1178.6H1530.9V1176.1H1528ZM1528 1183.8H1530.9V1186.7H1528ZM1533.4 1175.2H1536.3V1170.2H1533.4ZM1536.1 1188.4H1539V1194.5H1536.1ZM1538.8 1169.4H1541.7V1163.2H1538.8ZM1544.2 1188.4H1547.1V1193.8H1544.2ZM1646.8 1178.6H1649.7V1176.9H1646.8ZM1649.5 1178.6H1652.4V1175.7H1649.5ZM1657.6 1183.8H1660.5V1186.6H1657.6ZM1687.3 1178.6H1690.2V1176.9H1687.3ZM1687.3 1183.8H1690.2V1185.4H1687.3ZM1690 1178.6H1692.9V1177H1690ZM1690 1183.8H1692.9V1185.5H1690ZM1692.7 1178.6H1695.6V1175.7H1692.7ZM1698.1 1171.7H1701V1167.7H1698.1ZM1703.5 1178.6H1706.4V1176.7H1703.5ZM1708.9 1178.6H1711.8V1175.9H1708.9ZM1708.9 1183.8H1711.8V1186.2H1708.9ZM1711.6 1183.8H1714.5V1186.2H1711.6ZM1714.3 1190.7H1717.2V1194.5H1714.3ZM1719.7 1169.4H1722.6V1166.1H1719.7ZM1719.7 1191.9H1722.6V1195.8H1719.7ZM1725.1 1167.1H1728V1163H1725.1ZM1727.8 1194.2H1730.7V1198.8H1727.8ZM1733.2 1168.2H1736.1V1163.5H1733.2ZM1735.9 1195.3H1738.8V1198.7H1735.9ZM1760.2 1191.9H1763.1V1196.1H1760.2ZM1762.9 1169.4H1765.8V1164.1H1762.9ZM1771 1191.9H1773.9V1196H1771ZM1776.4 1177.5H1779.3V1175.1H1776.4ZM1776.4 1185H1779.3V1188.9H1776.4ZM1792.6 1171.7H1795.5V1167.9H1792.6ZM1806.1 1195.3H1809V1200.9H1806.1ZM1808.8 1167.1H1811.7V1161.7H1808.8ZM1826.9 1176.3H1831.4V1173.5H1826.9ZM1826.9 1186.1H1831.4V1189.2H1826.9ZM1829.6 1186.1H1834.1V1189.9H1829.6ZM1835 1186.1H1839.5V1190H1835ZM1837.7 1186.1H1842.2V1188.5H1837.7ZM1873.6 1183.8H1876.5V1186H1873.6ZM1876.3 1178.6H1879.2V1177H1876.3ZM1879 1178.6H1881.9V1177.1H1879ZM1879 1183.8H1881.9V1186.7H1879ZM1881.7 1178.6H1884.6V1176.9H1881.7ZM1887.1 1178.6H1890V1176.6H1887.1ZM1924.9 1172.9H1927.8V1168.2H1924.9ZM1935.7 1171.7H1938.6V1167.8H1935.7ZM1941.1 1171.7H1944V1168.1H1941.1ZM1943.8 1176.3H1946.7V1172.7H1943.8ZM1945.7 1186.1H1950.2V1189.2H1945.7ZM1949.2 1186.1H1952.1V1188.7H1949.2ZM1951.9 1169.4H1954.8V1163.3H1951.9ZM1952.3 1197H1954.4V1201H1952.3ZM1957.3 1170.5H1960.2V1166.5H1957.3ZM1957.3 1193H1960.2V1196.6H1957.3ZM1960 1187.2H1962.9V1192.1H1960ZM1962.7 1170.5H1965.6V1167H1962.7ZM1973.5 1171.7H1976.4V1167.4H1973.5ZM1973.5 1190.7H1976.4V1194.2H1973.5ZM1989.7 1172.9H1992.6V1167H1989.7Z" fill="url(#h1_d)"/>
<path d="M1514.5 1175.2H1517.4V1170.1H1514.5ZM1516.4 1174H1520.9V1165.8H1516.4ZM1519.1 1174H1523.6V1165.8H1519.1ZM1521.8 1174H1526.3V1167H1521.8ZM1522.6 1188.4H1525.5V1192.9H1522.6ZM1525.3 1187.2H1528.2V1191.7H1525.3ZM1532.6 1188.4H1537.1V1194.4H1532.6ZM1536.1 1174H1539V1168H1536.1ZM1538 1194.2H1542.5V1202.8H1538ZM1540.7 1168.2H1545.2V1159.5H1540.7ZM1541.5 1193H1544.4V1197.5H1541.5ZM1544.2 1175.2H1547.1V1169.4H1544.2ZM1694.6 1171.7H1699.1V1163.6H1694.6ZM1697.3 1190.7H1701.8V1196.9H1697.3ZM1713.5 1170.5H1718V1164.1H1713.5ZM1717 1170.5H1719.9V1166.6H1717ZM1721.6 1166H1726.1V1158H1721.6ZM1721.6 1194.2H1726.1V1203H1721.6ZM1724.3 1194.2H1728.8V1201H1724.3ZM1738.6 1167.1H1741.5V1161H1738.6ZM1737.8 1196.5H1742.3V1203.5H1737.8ZM1741.3 1194.2H1744.2V1198.4H1741.3ZM1745.9 1169.4H1750.4V1164.2H1745.9ZM1746.7 1193H1749.6V1196.6H1746.7ZM1749.4 1177.5H1752.3V1174.2H1749.4ZM1749.4 1185H1752.3V1188H1749.4ZM1752.1 1177.5H1755V1174.3H1752.1ZM1752.1 1185H1755V1187.7H1752.1ZM1754.8 1190.7H1757.7V1196.5H1754.8ZM1757.5 1170.5H1760.4V1164.6H1757.5ZM1759.4 1169.4H1763.9V1160.6H1759.4ZM1767.5 1193H1772V1201.5H1767.5ZM1771 1170.5H1773.9V1165.7H1771ZM1772.9 1191.9H1777.4V1198.2H1772.9ZM1778.3 1171.7H1782.8V1166.1H1778.3ZM1778.3 1190.7H1782.8V1199.3H1778.3ZM1783.7 1171.7H1788.2V1166.3H1783.7ZM1783.7 1190.7H1788.2V1198.9H1783.7ZM1786.4 1190.7H1790.9V1199H1786.4ZM1789.1 1190.7H1793.6V1195.8H1789.1ZM1792.6 1190.7H1795.5V1196.6H1792.6ZM1795.3 1194.2H1798.2V1199.3H1795.3ZM1798 1167.1H1800.9V1162H1798ZM1806.1 1167.1H1809V1163.5H1806.1ZM1808.8 1195.3H1811.7V1199.8H1808.8ZM1810.7 1164.8H1815.2V1156.5H1810.7ZM1810.7 1196.5H1815.2V1202.3H1810.7ZM1814.2 1167.1H1817.1V1162.6H1814.2ZM1816.9 1172.9H1819.8V1169.1H1816.9ZM1816.9 1188.4H1819.8V1193.4H1816.9ZM1818.8 1172.9H1823.3V1166.5H1818.8ZM1818.8 1188.4H1823.3V1193.5H1818.8ZM1821.5 1188.4H1826V1194.3H1821.5ZM1829.6 1176.3H1834.1V1172.5H1829.6ZM1832.3 1176.3H1836.8V1173.1H1832.3ZM1832.3 1186.1H1836.8V1189.8H1832.3ZM1835 1176.3H1839.5V1173.1H1835ZM1837.7 1176.3H1842.2V1173.4H1837.7ZM1889 1175.2H1893.5V1167.9H1889ZM1889 1187.2H1893.5V1194.4H1889ZM1891.7 1175.2H1896.2V1169.7H1891.7ZM1894.4 1187.2H1898.9V1192.8H1894.4ZM1897.1 1175.2H1901.6V1167.4H1897.1ZM1899.8 1175.2H1904.3V1166.2H1899.8ZM1911.4 1174H1914.3V1168.2H1911.4ZM1911.4 1188.4H1914.3V1191.8H1911.4ZM1913.3 1171.7H1917.8V1163.7H1913.3ZM1918.7 1191.9H1923.2V1198.5H1918.7ZM1924.9 1190.7H1927.8V1195.8H1924.9ZM1926.8 1172.9H1931.3V1166.7H1926.8ZM1930.3 1176.3H1933.2V1173.8H1930.3ZM1930.3 1186.1H1933.2V1189.3H1930.3ZM1937.6 1170.5H1942.1V1165H1937.6ZM1940.3 1191.9H1944.8V1197.9H1940.3ZM1943.8 1186.1H1946.7V1188.3H1943.8ZM1949.2 1176.3H1952.1V1173.2H1949.2ZM1952.3 1163.3H1954.4V1161.4H1952.3ZM1951.9 1191.9H1954.8V1197H1951.9ZM1953.8 1203.4H1958.3V1211.5H1953.8ZM1957.7 1166.5H1959.8V1161.4H1957.7ZM1957.7 1196.6H1959.8V1201H1957.7ZM1960 1175.2H1962.9V1169.8H1960ZM1961.9 1193H1966.4V1201.7H1961.9ZM1964.6 1169.4H1969.1V1160.5H1964.6ZM1964.6 1193H1969.1V1200H1964.6ZM1967.3 1169.4H1971.8V1162.6H1967.3ZM1970.8 1170.5H1973.7V1165.3H1970.8ZM1970 1193H1974.5V1201.1H1970ZM1976.2 1171.7H1979.1V1168.2H1976.2ZM1978.1 1170.5H1982.6V1162.6H1978.1ZM1981.6 1190.7H1984.5V1194.7H1981.6ZM1984.3 1171.7H1987.2V1166.4H1984.3ZM1983.5 1191.9H1988V1198.2H1983.5ZM1986.2 1170.5H1990.7V1164.4H1986.2ZM1986.2 1191.9H1990.7V1198.3H1986.2ZM1992.4 1174H1994.3V1168.7H1992.4ZM1991.6 1188.4H1995.1V1197.1H1991.6Z" fill="url(#h2_d)"/>
<path d="M1519.1 1189.5H1523.6V1197.7H1519.1ZM1546.1 1175.2H1550.6V1169.8H1546.1ZM1546.1 1188.4H1550.6V1193.7H1546.1ZM1548.8 1175.2H1553.3V1170.1H1548.8ZM1548.8 1188.4H1553.3V1194.6H1548.8ZM1694.6 1190.7H1699.1V1199.1H1694.6ZM1700 1170.5H1704.5V1163.7H1700ZM1700 1190.7H1704.5V1199H1700ZM1716.2 1191.9H1720.7V1199.3H1716.2ZM1727 1167.1H1731.5V1161.7H1727ZM1729.7 1167.1H1734.2V1161.2H1729.7ZM1730.5 1195.3H1733.4V1198.7H1730.5ZM1732.4 1196.5H1736.9V1202.8H1732.4ZM1735.1 1164.8H1739.6V1157.8H1735.1ZM1740.5 1167.1H1745V1160.8H1740.5ZM1744 1169.4H1746.9V1166.1H1744ZM1743.2 1194.2H1747.7V1203.1H1743.2ZM1754 1170.5H1758.5V1164.4H1754ZM1756.7 1191.9H1761.2V1199.7H1756.7ZM1762.1 1193H1766.6V1200.4H1762.1ZM1764.8 1168.2H1769.3V1163.2H1764.8ZM1764.8 1193H1769.3V1201.7H1764.8ZM1768.3 1169.4H1771.2V1165.4H1768.3ZM1772.9 1170.5H1777.4V1164.4H1772.9ZM1781 1171.7H1785.5V1165H1781ZM1781 1190.7H1785.5V1197.2H1781ZM1786.4 1171.7H1790.9V1166.1H1786.4ZM1789.1 1171.7H1793.6V1163.2H1789.1ZM1794.5 1167.1H1799V1158.8H1794.5ZM1797.2 1196.5H1801.7V1203.8H1797.2ZM1799.9 1164.8H1804.4V1157.3H1799.9ZM1799.9 1196.5H1804.4V1204.4H1799.9ZM1802.6 1164.8H1807.1V1156.5H1802.6ZM1802.6 1196.5H1807.1V1204.1H1802.6ZM1814.2 1195.3H1817.1V1199.1H1814.2ZM1821.5 1172.9H1826V1167.1H1821.5ZM1891.7 1187.2H1896.2V1192.8H1891.7ZM1894.4 1175.2H1898.9V1169.9H1894.4ZM1897.1 1187.2H1901.6V1193.4H1897.1ZM1899.8 1187.2H1904.3V1193.2H1899.8ZM1913.3 1190.7H1917.8V1197.7H1913.3ZM1916.8 1171.7H1919.7V1167.2H1916.8ZM1916.8 1190.7H1919.7V1195.8H1916.8ZM1918.7 1170.5H1923.2V1163.4H1918.7ZM1921.4 1170.5H1925.9V1165.3H1921.4ZM1921.4 1191.9H1925.9V1199.3H1921.4ZM1926.8 1190.7H1931.3V1199.1H1926.8ZM1932.2 1170.5H1936.7V1162.3H1932.2ZM1932.2 1191.9H1936.7V1198.8H1932.2ZM1934.9 1191.9H1939.4V1200H1934.9ZM1937.6 1191.9H1942.1V1197.2H1937.6ZM1945.7 1176.3H1950.2V1173.4H1945.7ZM1953.8 1159H1958.3V1153.7H1953.8ZM1967.3 1193H1971.8V1199.9H1967.3ZM1975.4 1191.9H1979.9V1198.8H1975.4ZM1978.1 1191.9H1982.6V1198.2H1978.1ZM1980.8 1170.5H1985.3V1161.9H1980.8ZM1989.7 1188.4H1992.6V1191.7H1989.7Z" fill="#fdf7a8"/>
</g>
<path d="M1457.9 1180.2H1460.6V1182.2H1457.9ZM1468.7 1180.2H1471.4V1182.2H1468.7ZM1474.1 1180.2H1476.8V1182.2H1474.1ZM1552.4 1180.2H1555.1V1182.2H1552.4ZM1557.8 1180.2H1560.5V1182.2H1557.8ZM1560.5 1180.2H1563.2V1182.2H1560.5ZM1563.2 1180.2H1565.9V1182.2H1563.2ZM1565.9 1180.2H1568.6V1182.2H1565.9ZM1568.6 1180.2H1571.3V1182.2H1568.6ZM1571.3 1180.2H1574V1182.2H1571.3ZM1574 1180.2H1576.7V1182.2H1574ZM1576.7 1180.2H1579.4V1182.2H1576.7ZM1579.4 1180.2H1582.1V1182.2H1579.4ZM1582.1 1180.2H1584.8V1182.2H1582.1ZM1584.8 1180.2H1587.5V1182.2H1584.8ZM1590.2 1180.2H1592.9V1182.2H1590.2ZM1611.8 1180.2H1614.5V1182.2H1611.8ZM1614.5 1180.2H1617.2V1182.2H1614.5ZM1636.1 1180.2H1638.8V1182.2H1636.1ZM1638.8 1180.2H1641.5V1182.2H1638.8ZM1641.5 1180.2H1644.2V1182.2H1641.5ZM1663.1 1180.2H1665.8V1182.2H1663.1ZM1665.8 1180.2H1668.5V1182.2H1665.8ZM1668.5 1180.2H1671.2V1182.2H1668.5ZM1671.2 1180.2H1673.9V1182.2H1671.2ZM1676.6 1180.2H1679.3V1182.2H1676.6ZM1825.1 1180.2H1827.8V1182.2H1825.1ZM1841.3 1180.2H1844V1182.2H1841.3ZM1846.7 1180.2H1849.4V1182.2H1846.7ZM1849.4 1180.2H1852.1V1182.2H1849.4ZM1852.1 1180.2H1854.8V1182.2H1852.1ZM1854.8 1180.2H1857.5V1182.2H1854.8ZM1868.3 1180.2H1871V1182.2H1868.3ZM1908.8 1180.2H1911.5V1182.2H1908.8Z" fill="#7a1d4f" opacity=".85"/>
<path d="M1476.8 1181.2V1178.9H1479.5V1178.9H1482.2V1178.9H1484.9V1178.9H1487.6V1178.9H1490.3V1178.9H1493V1178.9H1495.7V1178.9H1498.4V1178.9H1501.1V1178.9H1503.8V1178.9H1506.5V1178.9H1509.2V1178.9H1511.9V1178.9H1514.6V1175.5H1517.3V1174.3H1520V1174.3H1522.7V1174.3H1525.4V1175.5H1528.1V1178.9H1530.8V1178.9H1533.5V1175.5H1536.2V1174.3H1538.9V1169.7H1541.6V1168.5H1544.3V1175.5H1547V1175.5H1549.7V1175.5H1552.4V1181.2V1188.1H1549.7V1188.1H1547V1188.1H1544.3V1192.7H1541.6V1193.9H1538.9V1188.1H1536.2V1188.1H1533.5V1183.5H1530.8V1183.5H1528.1V1187H1525.4V1188.1H1522.7V1189.2H1520V1188.1H1517.3V1187H1514.6V1183.5H1511.9V1183.5H1509.2V1183.5H1506.5V1183.5H1503.8V1183.5H1501.1V1183.5H1498.4V1183.5H1495.7V1183.5H1493V1183.5H1490.3V1183.5H1487.6V1183.5H1484.9V1183.5H1482.2V1183.5H1479.5V1183.5H1476.8ZM1646.9 1181.2V1178.9H1649.6V1178.9H1652.3V1178.9H1655V1178.9H1657.7V1178.9H1660.4V1181.2V1183.5H1657.7V1183.5H1655V1183.5H1652.3V1183.5H1649.6V1183.5H1646.9ZM1687.4 1181.2V1178.9H1690.1V1178.9H1692.8V1178.9H1695.5V1172H1698.2V1172H1700.9V1170.9H1703.6V1178.9H1706.3V1178.9H1709V1178.9H1711.7V1178.9H1714.4V1170.9H1717.1V1170.9H1719.8V1169.7H1722.5V1166.2H1725.2V1167.4H1727.9V1167.4H1730.6V1167.4H1733.3V1168.5H1736V1165.1H1738.7V1167.4H1741.4V1167.4H1744.1V1169.7H1746.8V1169.7H1749.5V1177.8H1752.2V1177.8H1754.9V1170.9H1757.6V1170.9H1760.3V1169.7H1763V1169.7H1765.7V1168.5H1768.4V1169.7H1771.1V1170.9H1773.8V1170.9H1776.5V1177.8H1779.2V1172H1781.9V1172H1784.6V1172H1787.3V1172H1790V1172H1792.7V1172H1795.4V1167.4H1798.1V1167.4H1800.8V1165.1H1803.5V1165.1H1806.2V1167.4H1808.9V1167.4H1811.6V1165.1H1814.3V1167.4H1817V1173.2H1819.7V1173.2H1822.4V1173.2H1825.1V1181.2V1188.1H1822.4V1188.1H1819.7V1188.1H1817V1195H1814.3V1196.2H1811.6V1195H1808.9V1195H1806.2V1196.2H1803.5V1196.2H1800.8V1196.2H1798.1V1193.9H1795.4V1190.4H1792.7V1190.4H1790V1190.4H1787.3V1190.4H1784.6V1190.4H1781.9V1190.4H1779.2V1184.7H1776.5V1191.5H1773.8V1191.5H1771.1V1192.7H1768.4V1192.7H1765.7V1192.7H1763V1191.5H1760.3V1191.5H1757.6V1190.4H1754.9V1184.7H1752.2V1184.7H1749.5V1192.7H1746.8V1193.9H1744.1V1193.9H1741.4V1196.2H1738.7V1195H1736V1196.2H1733.3V1195H1730.6V1193.9H1727.9V1193.9H1725.2V1193.9H1722.5V1191.5H1719.8V1191.5H1717.1V1190.4H1714.4V1183.5H1711.7V1183.5H1709V1183.5H1706.3V1183.5H1703.6V1190.4H1700.9V1190.4H1698.2V1190.4H1695.5V1183.5H1692.8V1183.5H1690.1V1183.5H1687.4ZM1827.8 1181.2V1176.6H1830.5V1176.6H1833.2V1176.6H1835.9V1176.6H1838.6V1176.6H1841.3V1181.2V1185.8H1838.6V1185.8H1835.9V1185.8H1833.2V1185.8H1830.5V1185.8H1827.8ZM1871 1181.2V1178.9H1873.7V1178.9H1876.4V1178.9H1879.1V1178.9H1881.8V1178.9H1884.5V1178.9H1887.2V1178.9H1889.9V1175.5H1892.6V1175.5H1895.3V1175.5H1898V1175.5H1900.7V1175.5H1903.4V1181.2V1187H1900.7V1187H1898V1187H1895.3V1187H1892.6V1187H1889.9V1183.5H1887.2V1183.5H1884.5V1183.5H1881.8V1183.5H1879.1V1183.5H1876.4V1183.5H1873.7V1183.5H1871ZM1911.5 1181.2V1174.3H1914.2V1172H1916.9V1172H1919.6V1170.9H1922.3V1170.9H1925V1173.2H1927.7V1173.2H1930.4V1176.6H1933.1V1170.9H1935.8V1172H1938.5V1170.9H1941.2V1172H1943.9V1176.6H1946.6V1176.6H1949.3V1176.6H1952V1169.7H1954.7V1159.4H1957.4V1170.9H1960.1V1175.5H1962.8V1170.9H1965.5V1169.7H1968.2V1169.7H1970.9V1170.9H1973.6V1172H1976.3V1172H1979V1170.9H1981.7V1170.9H1984.4V1172H1987.1V1170.9H1989.8V1173.2H1992.5V1174.3H1994.2V1181.2V1188.1H1992.5V1188.1H1989.8V1191.5H1987.1V1191.5H1984.4V1190.4H1981.7V1191.5H1979V1191.5H1976.3V1190.4H1973.6V1192.7H1970.9V1192.7H1968.2V1192.7H1965.5V1192.7H1962.8V1187H1960.1V1192.7H1957.4V1203H1954.7V1191.5H1952V1185.8H1949.3V1185.8H1946.6V1185.8H1943.9V1191.5H1941.2V1191.5H1938.5V1191.5H1935.8V1191.5H1933.1V1185.8H1930.4V1190.4H1927.7V1190.4H1925V1191.5H1922.3V1191.5H1919.6V1190.4H1916.9V1190.4H1914.2V1188.1H1911.5Z" fill="#0b0619"/>
<rect x="1287.1" y="1146.2" width="3.3" height="2.8" fill="#fbb61a"/><rect x="1293.4" y="1133.3" width="3.7" height="2.3" fill="#0b0619"/><rect x="1278.5" y="1138.9" width="3.9" height="2.1" fill="#cf4446"/><rect x="1281.9" y="1131.7" width="2.3" height="2.3" fill="#e8602d"/><rect x="1293.5" y="1153.4" width="3.6" height="2.3" fill="#0b0619"/><rect x="1283.2" y="1155.4" width="3.3" height="2.4" fill="#fbb61a"/><rect x="1297.4" y="1172.8" width="3" height="2.4" fill="#f98e09"/><rect x="1290.9" y="1125.5" width="2.5" height="2.5" fill="#0b0619"/><rect x="1297.6" y="1170.9" width="2.7" height="3.5" fill="#0b0619"/><rect x="1291.5" y="1142.4" width="3.6" height="2.3" fill="#2c0b58"/><rect x="1279.5" y="1137.2" width="4.5" height="3.2" fill="#0b0619"/><rect x="1291.9" y="1130.6" width="3.3" height="2.8" fill="#2c0b58"/><rect x="1282.4" y="1151.4" width="4" height="2.2" fill="#2c0b58"/><rect x="1283.6" y="1142.8" width="2.2" height="3.4" fill="#fbb61a"/><rect x="1295.4" y="1138.9" width="3.1" height="3.4" fill="#2c0b58"/><rect x="1268.4" y="1152.3" width="3.3" height="2" fill="#2c0b58"/><rect x="1282.3" y="1140.1" width="2.4" height="2.9" fill="#0b0619"/><rect x="1289.6" y="1124.8" width="2.5" height="2.9" fill="#fbb61a"/><rect x="1287.6" y="1130.7" width="2.9" height="2.4" fill="#fbb61a"/><rect x="1282" y="1136.2" width="4.5" height="2.3" fill="#cf4446"/><rect x="1284.1" y="1129.1" width="2.8" height="3.1" fill="#f98e09"/><rect x="1296.6" y="1144.6" width="3.4" height="3.5" fill="#0b0619"/><rect x="1289" y="1130.2" width="3.7" height="2.1" fill="#e8602d"/><rect x="1265.1" y="1169" width="2.8" height="2.7" fill="#0b0619"/><rect x="1288.2" y="1126.3" width="4.5" height="2.1" fill="#e8602d"/><rect x="1303.8" y="1167.7" width="3.9" height="2.9" fill="#e8602d"/><rect x="1298.5" y="1152.9" width="3.1" height="2.5" fill="#0b0619"/><rect x="1291.6" y="1125" width="4" height="2.5" fill="#0b0619"/><rect x="1290.4" y="1127.7" width="4.4" height="3.2" fill="#b73779"/><rect x="1295.3" y="1130.3" width="2.4" height="2.8" fill="#0b0619"/><rect x="1288.3" y="1142.7" width="2.4" height="3" fill="#f98e09"/><rect x="1261.6" y="1165.1" width="2.3" height="3" fill="#cf4446"/><rect x="1294.2" y="1125.1" width="4.1" height="3.1" fill="#0b0619"/><rect x="1278.5" y="1136.5" width="3.8" height="2.3" fill="#0b0619"/><rect x="1275.2" y="1160.9" width="2.8" height="2.6" fill="#f98e09"/><rect x="1287.3" y="1133.7" width="4.4" height="3.4" fill="#cf4446"/><rect x="1295.5" y="1134.8" width="2.5" height="2.6" fill="#0b0619"/><rect x="1300.6" y="1158.8" width="2.6" height="2.7" fill="#0b0619"/><rect x="1296.6" y="1169.4" width="3.4" height="3.1" fill="#b73779"/><rect x="1303.3" y="1165.1" width="2.4" height="2.1" fill="#fbb61a"/><rect x="1292.1" y="1126" width="2.9" height="3.3" fill="#f1711f"/><rect x="1279.7" y="1155.4" width="4" height="2.4" fill="#0b0619"/><rect x="1302.9" y="1163" width="2.5" height="2.9" fill="#2c0b58"/><rect x="1301.9" y="1163.6" width="2.7" height="2.8" fill="#e8602d"/><rect x="1288" y="1125.8" width="3.5" height="3.5" fill="#fbb61a"/><rect x="1292.7" y="1154.1" width="4.1" height="3.4" fill="#0b0619"/><rect x="1296.2" y="1144.1" width="3.3" height="2.3" fill="#0b0619"/><rect x="1288" y="1142.5" width="4.1" height="3.5" fill="#cf4446"/><rect x="1297.7" y="1140" width="4.3" height="3.3" fill="#2c0b58"/><rect x="1286" y="1130.1" width="2.4" height="2.5" fill="#0b0619"/><rect x="1291.9" y="1136.8" width="3.4" height="2.1" fill="#0b0619"/><rect x="1293.1" y="1151" width="2.3" height="3.3" fill="#0b0619"/><rect x="1273.1" y="1145" width="3.8" height="3.5" fill="#cf4446"/><rect x="1289.2" y="1131.3" width="4.2" height="3.1" fill="#cf4446"/><rect x="1290.4" y="1152.4" width="3.3" height="2.9" fill="#b73779"/><rect x="1273" y="1151.5" width="4.4" height="2.4" fill="#b73779"/><rect x="1294.9" y="1142.7" width="2.7" height="3.4" fill="#fbb61a"/><rect x="1286.9" y="1149.7" width="3.5" height="2.8" fill="#2c0b58"/><rect x="1287.3" y="1142.5" width="4.4" height="2.9" fill="#2c0b58"/><rect x="1284.2" y="1130" width="4.4" height="2.7" fill="#0b0619"/><rect x="1287.1" y="1137.2" width="3.2" height="3.3" fill="#0b0619"/><rect x="1272.2" y="1149.7" width="2.3" height="2.4" fill="#2c0b58"/><rect x="1260.8" y="1162.2" width="2.7" height="3.1" fill="#0b0619"/><rect x="1287.4" y="1148.5" width="3.7" height="3.1" fill="#b73779"/><rect x="1282.5" y="1150" width="3.2" height="2.8" fill="#0b0619"/><rect x="1296.2" y="1150.4" width="2.7" height="2.3" fill="#fbb61a"/><rect x="1296.3" y="1154" width="4" height="3.3" fill="#0b0619"/><rect x="1283" y="1139.5" width="2.7" height="3.6" fill="#f1711f"/><rect x="1285.7" y="1130.6" width="2.8" height="2.2" fill="#cf4446"/><rect x="1291" y="1150.6" width="3.7" height="3.3" fill="#0b0619"/><rect x="1291.4" y="1133.8" width="4.5" height="2.2" fill="#fbb61a"/><rect x="1277.5" y="1155.1" width="4.2" height="3.3" fill="#cf4446"/><rect x="1284" y="1129.2" width="3.4" height="2.9" fill="#e8602d"/><rect x="1282.4" y="1133.3" width="2.6" height="2.5" fill="#2c0b58"/><rect x="1284.6" y="1128.7" width="3.3" height="3.2" fill="#f98e09"/><rect x="1284.3" y="1143.2" width="2.7" height="2.6" fill="#2c0b58"/><rect x="1296.3" y="1158.4" width="3.3" height="3.2" fill="#0b0619"/><rect x="1298.3" y="1165.3" width="4.5" height="2.9" fill="#e8602d"/><rect x="1299.6" y="1148.7" width="2.8" height="3.5" fill="#b73779"/><rect x="1267.8" y="1160.4" width="2.5" height="2.5" fill="#fbb61a"/><rect x="1291.8" y="1143.9" width="3" height="2.8" fill="#0b0619"/><rect x="1304.2" y="1167.5" width="2.3" height="2.4" fill="#b73779"/><rect x="1281.3" y="1138.6" width="2.6" height="2.1" fill="#2c0b58"/><rect x="1302.3" y="1161.3" width="3.7" height="3.2" fill="#0b0619"/><rect x="1285.7" y="1145.7" width="3.8" height="2" fill="#f98e09"/><rect x="1295.4" y="1136.3" width="3.4" height="3.5" fill="#fbb61a"/><rect x="1262.1" y="1165.5" width="3.7" height="2.9" fill="#b73779"/><rect x="1262.4" y="1161.2" width="2.6" height="2.8" fill="#e8602d"/><rect x="1285.6" y="1145" width="3.2" height="2.5" fill="#2c0b58"/><rect x="1290.6" y="1138" width="2.9" height="3.1" fill="#f98e09"/><rect x="1292.7" y="1125.3" width="3.7" height="2.7" fill="#b73779"/><rect x="1296.2" y="1143.1" width="2.3" height="3.6" fill="#f98e09"/><rect x="1294.1" y="1127.6" width="3.3" height="3.6" fill="#0b0619"/><rect x="1286.6" y="1126.2" width="4.4" height="2.2" fill="#e8602d"/><rect x="1270.1" y="1153.6" width="3.3" height="2.3" fill="#f1711f"/><rect x="1278.4" y="1141.5" width="2.5" height="2.7" fill="#2c0b58"/><rect x="1289.3" y="1136.8" width="4.1" height="2.8" fill="#0b0619"/><rect x="1294.3" y="1129.6" width="3.7" height="2.6" fill="#f98e09"/><rect x="1291.6" y="1153.9" width="2.7" height="2.4" fill="#e8602d"/><rect x="1284.5" y="1133.3" width="4.4" height="3.4" fill="#f1711f"/><rect x="1265.5" y="1154.8" width="2.3" height="2.1" fill="#0b0619"/><rect x="1270.5" y="1150.5" width="3.8" height="2.9" fill="#2c0b58"/><rect x="1286.7" y="1140.6" width="4.3" height="3.3" fill="#0b0619"/><rect x="1287" y="1134.4" width="4.1" height="2.6" fill="#2c0b58"/><rect x="1295.7" y="1161.2" width="3.8" height="2.9" fill="#0b0619"/><rect x="1260.2" y="1166.9" width="3.6" height="2.8" fill="#2c0b58"/><rect x="1294.6" y="1146.7" width="2.9" height="3.5" fill="#2c0b58"/><rect x="1287.7" y="1128" width="3.9" height="2.5" fill="#e8602d"/><rect x="1290.9" y="1134.7" width="4.4" height="2.5" fill="#0b0619"/><rect x="1298.2" y="1151.9" width="4.4" height="2.7" fill="#f98e09"/><rect x="1277.4" y="1146.5" width="4" height="2.8" fill="#f1711f"/><rect x="1283.3" y="1141.7" width="3.1" height="2.6" fill="#0b0619"/><rect x="1290.2" y="1131.6" width="2.4" height="2.7" fill="#0b0619"/><rect x="1268.6" y="1163.8" width="2.6" height="2.5" fill="#0b0619"/><rect x="1294.5" y="1155.9" width="3.5" height="3.3" fill="#0b0619"/><rect x="1281.7" y="1140.4" width="3" height="2" fill="#2c0b58"/><rect x="1292.4" y="1131.1" width="2.8" height="2.4" fill="#fbb61a"/><rect x="1285.8" y="1140.6" width="4.1" height="2.5" fill="#0b0619"/><rect x="1286.1" y="1148.2" width="3.9" height="3.5" fill="#cf4446"/><rect x="1302.5" y="1161.1" width="2.2" height="2.6" fill="#f1711f"/><rect x="1302.6" y="1167.5" width="3.5" height="3.1" fill="#f1711f"/><rect x="1283.7" y="1144.7" width="4" height="3.6" fill="#0b0619"/><rect x="1275.7" y="1157.5" width="3.5" height="2.4" fill="#0b0619"/><rect x="1291.9" y="1147.1" width="2.6" height="3.5" fill="#0b0619"/><rect x="1261.4" y="1160.9" width="4.1" height="2.5" fill="#e8602d"/><rect x="1284.2" y="1133" width="3.9" height="3" fill="#0b0619"/><rect x="1296.5" y="1145.7" width="4.4" height="3.5" fill="#2c0b58"/><rect x="1294.7" y="1150.9" width="2.8" height="3.4" fill="#0b0619"/><rect x="1293.3" y="1156.4" width="4.3" height="2.6" fill="#0b0619"/><rect x="1295.1" y="1170.4" width="3.5" height="2.8" fill="#f98e09"/><rect x="1262" y="1162.6" width="4.3" height="3.4" fill="#f98e09"/><rect x="1278.3" y="1146.1" width="4.3" height="2.7" fill="#0b0619"/><rect x="1294.7" y="1131.1" width="2.5" height="3.2" fill="#fbb61a"/><rect x="1288.3" y="1137.1" width="4" height="2" fill="#0b0619"/><rect x="1262" y="1164.3" width="3.9" height="2.2" fill="#cf4446"/><rect x="1266.1" y="1158" width="3.5" height="2.8" fill="#f1711f"/><rect x="1277.8" y="1162.7" width="4.2" height="2.3" fill="#2c0b58"/><rect x="1285.7" y="1144.2" width="4.5" height="2.5" fill="#cf4446"/><rect x="1287.8" y="1127.7" width="3.9" height="2.6" fill="#2c0b58"/><rect x="1291.4" y="1130.9" width="4" height="3.3" fill="#f1711f"/><rect x="1264.7" y="1156" width="3.9" height="2.4" fill="#2c0b58"/><rect x="1292.8" y="1129.6" width="4.2" height="3.2" fill="#fbb61a"/><rect x="1290.8" y="1131.5" width="4" height="3.5" fill="#cf4446"/><rect x="1270.6" y="1151.2" width="3.1" height="2.2" fill="#0b0619"/><rect x="1294.2" y="1140.3" width="2.5" height="2.2" fill="#2c0b58"/><rect x="1271.6" y="1154.9" width="2.3" height="2.7" fill="#2c0b58"/><rect x="1286.6" y="1128.4" width="2.5" height="2.7" fill="#0b0619"/><rect x="1294.2" y="1140.7" width="2.5" height="2.3" fill="#e8602d"/><rect x="1273.1" y="1144.2" width="3.9" height="3.6" fill="#0b0619"/><rect x="1287.1" y="1156.4" width="3" height="2.5" fill="#2c0b58"/><rect x="1287.2" y="1145.6" width="3" height="2.5" fill="#0b0619"/><rect x="1271.4" y="1154" width="4.4" height="2.9" fill="#f98e09"/><rect x="1284" y="1154" width="2.7" height="3.5" fill="#b73779"/><rect x="1300" y="1158.6" width="2.3" height="3.1" fill="#f1711f"/><rect x="1288.9" y="1130.7" width="3" height="2.1" fill="#0b0619"/><rect x="1295.1" y="1137" width="4" height="2.4" fill="#2c0b58"/><rect x="1286.3" y="1150.6" width="2.8" height="3.5" fill="#f98e09"/><rect x="1270.4" y="1153.5" width="2.9" height="3.4" fill="#e8602d"/><rect x="1294.6" y="1153.3" width="3.2" height="3.3" fill="#2c0b58"/><rect x="1292.6" y="1130.8" width="4.4" height="3" fill="#b73779"/><rect x="1259.7" y="1163.4" width="3.3" height="2.2" fill="#0b0619"/><rect x="1288.2" y="1129.8" width="2.5" height="2.4" fill="#0b0619"/><rect x="1292.8" y="1126.6" width="4.1" height="2.6" fill="#cf4446"/><rect x="1282.6" y="1153.4" width="3.7" height="3.1" fill="#0b0619"/><rect x="1281.3" y="1160.8" width="4.3" height="2.7" fill="#cf4446"/><rect x="1284.6" y="1129.8" width="3" height="2.8" fill="#cf4446"/><rect x="1298.7" y="1159.6" width="3.6" height="3.2" fill="#f98e09"/><rect x="1298.7" y="1167.2" width="4.2" height="2.4" fill="#cf4446"/><rect x="1299.1" y="1170.1" width="4" height="3.4" fill="#f98e09"/><rect x="1276.8" y="1166.5" width="4" height="2.9" fill="#f1711f"/><rect x="1293" y="1128.8" width="3.5" height="3.5" fill="#0b0619"/><rect x="1292" y="1138.5" width="2.6" height="2.7" fill="#0b0619"/><rect x="1268.2" y="1152.7" width="4.4" height="2.5" fill="#0b0619"/><rect x="1292.9" y="1131" width="4.3" height="2.3" fill="#b73779"/><rect x="1265.2" y="1167.9" width="3" height="2.8" fill="#e8602d"/><rect x="1290.6" y="1155.1" width="3.5" height="2.4" fill="#f1711f"/><rect x="1275.8" y="1155.9" width="4.5" height="2.4" fill="#cf4446"/><rect x="1267.6" y="1158.9" width="4.5" height="2.7" fill="#f1711f"/><rect x="1294.2" y="1132.3" width="3.9" height="2.4" fill="#2c0b58"/><rect x="1291" y="1135.5" width="3.1" height="3.1" fill="#f1711f"/><rect x="1274.4" y="1152.9" width="4.4" height="3.1" fill="#0b0619"/><rect x="1291.4" y="1130.5" width="2.4" height="3.5" fill="#0b0619"/><rect x="1270" y="1150" width="2.9" height="2.4" fill="#fbb61a"/><rect x="1287.4" y="1128.3" width="2.8" height="2.4" fill="#fbb61a"/><rect x="1292.8" y="1125.4" width="4.4" height="3" fill="#2c0b58"/><rect x="1297" y="1142.9" width="2.6" height="2.9" fill="#2c0b58"/><rect x="1288.6" y="1125.6" width="3.7" height="3.6" fill="#b73779"/><rect x="1262.7" y="1170.6" width="2.6" height="3" fill="#e8602d"/><rect x="1284.7" y="1156.8" width="3.9" height="3.2" fill="#0b0619"/><rect x="1276.7" y="1148" width="3.4" height="2.1" fill="#fbb61a"/><rect x="1255.8" y="1171.6" width="4.3" height="2.5" fill="#fbb61a"/><rect x="1290.5" y="1124.9" width="3.3" height="2.4" fill="#0b0619"/><rect x="1294.1" y="1127.6" width="3.5" height="3.3" fill="#e8602d"/><rect x="1267.3" y="1154.5" width="3.9" height="3.3" fill="#2c0b58"/><rect x="1277.1" y="1149.7" width="2.4" height="3.3" fill="#e8602d"/><rect x="1280.1" y="1142.6" width="3.8" height="3" fill="#0b0619"/><rect x="1289.2" y="1127" width="2.7" height="3.6" fill="#0b0619"/><rect x="1292.6" y="1130.3" width="2.5" height="3.2" fill="#fbb61a"/><rect x="1262.6" y="1160.5" width="4.3" height="2.2" fill="#cf4446"/><rect x="1283.3" y="1151.2" width="4.5" height="3.1" fill="#b73779"/><rect x="1288.8" y="1136.4" width="3.3" height="3.5" fill="#0b0619"/><rect x="1296.7" y="1139.1" width="2.7" height="2.3" fill="#fbb61a"/><rect x="1266.6" y="1155.8" width="3.9" height="3.4" fill="#2c0b58"/><circle cx="1681.9" cy="1060.8" r="2.3" fill="#0b0619"/><circle cx="1947.4" cy="1102.9" r="2.6" fill="#0b0619"/><circle cx="1947.5" cy="1115" r="2.6" fill="#fdffd0"/>
</g></g>
<rect x="1252.7" y="995.6" width="741.5" height="370.9" fill="none" stroke="#000" stroke-width="3.0"/>
<rect x="2006.3" y="995.7" width="37.5" height="206.6" fill="url(#cb)" stroke="#000" stroke-width="3.0"/>
<path d="M2034.6 1064.8H2043.8M2034.6 1133.5H2043.8" stroke="#000" stroke-width="2.4"/>
<text x="2052.8" y="1011.9">3</text>
<text x="2052.1" y="1218.6">0</text>
<text x="1937.3" y="972.7" textLength="184" lengthAdjust="spacingAndGlyphs">d<tspan font-style="italic">V</tspan>/d<tspan font-style="italic">I</tspan> (kΩ)</text>
<path d="M1252.3 1438.1H1992.2" stroke="#000" stroke-width="3" stroke-dasharray="47.5 28.5" fill="none"/>
<text x="2006.9" y="1450.5" textLength="96" lengthAdjust="spacingAndGlyphs"><tspan font-style="italic">h</tspan>/2<tspan font-style="italic">e</tspan><tspan dy="-13" font-size="26">2</tspan></text>
<path d="M1252.3 1637.4H1992.2" stroke="#000" stroke-width="3" stroke-dasharray="47.5 28.5" fill="none"/>
<text x="2006.9" y="1649.8" textLength="96" lengthAdjust="spacingAndGlyphs"><tspan font-style="italic">h</tspan>/6<tspan font-style="italic">e</tspan><tspan dy="-13" font-size="26">2</tspan></text>
<path d="M1252.3 1677.2H1992.2" stroke="#000" stroke-width="3" stroke-dasharray="47.5 28.5" fill="none"/>
<text x="2006.9" y="1689.6" textLength="118.5" lengthAdjust="spacingAndGlyphs"><tspan font-style="italic">h</tspan>/10<tspan font-style="italic">e</tspan><tspan dy="-13" font-size="26">2</tspan></text>
<g clip-path="url(#p_d)" fill="none" stroke-width="6.6" stroke-linejoin="round" stroke-linecap="round">
<polyline points="1253.6,1643.6 1256.3,1643 1256.7,1641.4 1259,1615.2 1259.9,1602 1261.7,1592.8 1263,1588 1264.4,1585.4 1266.2,1583.7 1267.1,1573.6 1269.3,1553.7 1271.4,1532.3 1272.5,1541.3 1274.5,1553.7 1277.9,1524 1278.7,1516.4 1280.6,1508.6 1280.8,1510.6 1283.3,1538.5 1284,1545.4 1286,1537.8 1288.1,1529.4 1291.4,1508.9 1292.3,1504 1294.1,1527 1295.5,1541.4 1296.8,1550.9 1299.5,1571.8 1299.7,1572.9 1302.2,1528.3 1302.8,1516.7 1304.9,1497.7 1305.9,1486.8 1307.6,1479.9 1309.1,1470.5 1310.3,1473.7 1312.2,1479.3 1314.3,1542.2 1315.7,1542.6 1318.4,1541.7 1318.5,1541.2 1321.1,1488.8 1321.6,1479 1323.8,1463.6 1325.8,1445.3 1329.2,1438.4 1330,1436.9 1331.9,1433.9 1334.6,1430.7 1336.3,1430.7 1337.3,1429.8 1340,1430.7 1340.5,1432.9 1342.7,1433.6 1345.4,1433 1348.1,1433.6 1348.8,1433 1350.8,1432.3 1353.5,1436.2 1356.2,1441.7 1357.2,1441.4 1358.9,1437.8 1361.6,1439.2 1364.3,1435.9 1365.6,1437.1 1367,1434.3 1369.7,1431.6 1372.4,1428.9 1375.1,1425.5 1376.1,1425.7 1377.8,1429.5 1379.2,1432.8 1380.5,1434 1383.2,1441.4 1385.9,1447.9 1388.6,1450.5 1388.6,1451.9 1391.3,1431.2 1391.8,1426.5 1394,1432.7 1395.9,1439.2 1399.4,1438 1402.1,1436.9 1404.8,1435.6 1405.4,1437.3 1407.5,1440.9 1410.2,1446.4 1412.9,1452.8 1413.7,1453.7 1415.6,1447.3 1416.9,1440.9 1418.3,1433.5 1419,1431 1421,1433.1 1421.7,1431.6 1423.7,1447.2 1424.2,1449.5 1426.4,1478.3 1427.3,1487.1 1429.1,1540.6 1429.4,1554.2 1430.9,1616.9 1431.8,1608.1 1433.6,1588.8 1435.7,1569 1437.2,1604 1437.8,1620.2 1439.9,1592.9 1440.9,1579.3 1442.6,1590.3 1444.1,1596.3 1445.3,1583.6 1447.2,1560.5 1449.3,1570.4 1450.7,1604 1451.4,1620.5 1453.4,1659.1 1453.5,1660.9 1455.6,1620.9 1457.7,1641.7 1458.8,1699.2 1459.4,1726.7 1461.5,1672.7 1461.9,1663.1 1464.2,1646.8 1465,1642.2 1466.9,1684 1468.2,1710.7 1469.6,1695.1 1472.3,1668.4 1472.3,1667.4 1475,1692.5 1475.5,1696.7 1477.7,1716.8 1478.6,1725.6 1480.4,1727.8 1483.1,1731.2 1483.9,1732 1485.8,1725 1488,1717.6 1491.2,1730.2 1493.3,1692.6 1496.4,1721.3 1499.3,1715.6 1500.6,1712.9 1502,1720 1504.7,1731.1 1504.8,1730.1 1507.4,1735.1 1507.9,1735.3 1510.1,1719.4 1512.1,1704.9 1515.5,1718.7 1516.3,1721.7 1518.2,1727.2 1520.9,1734.3 1521.5,1735.2 1523.6,1728.8 1525.7,1725.4 1529,1718.7 1529.9,1717 1531.7,1728.1 1533,1735.3 1534.4,1734.2 1537.1,1732.9 1539.8,1730.1 1540.4,1729.6 1542.5,1732.4 1545.2,1732.6 1546.6,1735.3 1547.9,1728.5 1550.6,1713.8 1550.8,1713.4 1553.3,1700 1554,1696.4 1556,1711.7 1557.1,1721.9 1558.7,1711.9 1561.3,1696.7 1564.1,1718.2 1566.5,1735.2 1569.5,1697.5 1570.7,1683.3 1572.2,1697 1574.9,1725.7 1577.6,1683.8 1578,1679.8 1580.3,1674.3 1581.2,1671.2 1583,1696.9 1584.3,1715.4 1585.7,1703.4 1588.4,1684 1588.5,1683.8 1591.1,1671.6 1593.7,1663.5 1596.5,1652.3 1599,1643.9 1600,1643.2 1601.9,1652.1 1603,1657.9 1604.6,1652.9 1607.3,1649.4 1608,1647.8 1610,1666.6 1612.7,1692.8 1613.9,1701.3 1615.4,1666.7 1616.9,1631.5 1618.1,1631.6 1620.8,1634.9 1621.9,1635.9 1623.5,1637.8 1625.9,1641.2 1628.9,1639.4 1629.8,1637.6 1631.6,1642.6 1634.3,1656 1635.8,1659.6 1637,1672 1639.7,1702.6 1639.8,1704 1642.4,1678 1644.7,1655.6 1647.8,1694.1 1650.5,1733.8 1650.7,1736.1 1653.2,1730.7 1655.7,1725.2 1658.6,1721.7 1661.3,1718.2 1661.6,1717.1 1663.6,1657.2 1666.7,1679.2 1668.6,1691.4 1672.1,1693.2 1673.6,1694.2 1674.8,1691.3 1677.5,1685.7 1679.5,1679.3 1682.5,1654.4 1685.6,1678 1688.3,1699.6 1689.5,1709.1 1691,1719.7 1693.5,1736.2 1696.4,1736.1 1699.1,1736.1 1699.4,1736.3 1701.8,1726.7 1703.4,1721.5 1704.5,1719.5 1707.2,1719.9 1709.9,1716.4 1710.4,1716.9 1712.6,1727.6 1713.3,1729.6 1715.3,1724.4 1716.3,1720.5 1718,1725.8 1720.7,1734.6 1721.3,1736.1 1723.4,1735.9 1726.1,1736.3 1728.8,1736.1 1731.5,1736.1 1734.2,1736.2 1736.9,1736.1 1737.2,1736.3 1739.6,1734 1741.2,1731.7 1742.3,1731.4 1745,1729.2 1747.7,1730.5 1750.4,1727.9 1751.1,1727.2 1753.1,1729.1 1755.8,1732.1 1758.5,1734.5 1759.1,1735.1 1761.2,1735.3 1763.9,1735.3 1766.6,1735.9 1769.3,1735.7 1772,1736.1 1773,1736.2 1774.7,1730.2 1777.4,1718.4 1778,1717.2 1780.1,1726.7 1781.9,1736.2 1785.5,1735.8 1788.2,1735.8 1790.9,1735.5 1793.6,1735.6 1796.3,1735.3 1798.8,1735.1 1801.7,1735.4 1804.4,1736.3 1806.8,1736.2 1809.8,1733.8 1812.5,1731.4 1812.8,1731.1 1815.2,1730.9 1817.9,1730.1 1818.7,1729.3 1820.6,1730.2 1823.3,1733.4 1823.7,1733.1 1826,1718.9 1828.3,1707.9 1831.4,1733.3 1831.7,1735.2 1834.1,1735.2 1836.8,1733.6 1838.6,1733.1 1841.6,1702.3 1844.9,1713.4 1845.6,1717.1 1847.6,1706.8 1850.3,1690.5 1850.5,1691.6 1853,1697.9 1854.5,1702.6 1855.7,1694.1 1858.1,1673.8 1861.1,1675.7 1863.8,1676.1 1864.5,1677.6 1866.5,1688 1868.4,1693.1 1871.4,1697.2 1874.6,1719.9 1875.4,1725.2 1877.3,1725.5 1880,1724.9 1882.4,1725 1885.4,1722.9 1888.1,1721.6 1890.8,1720 1892.3,1719.1 1893.5,1724 1896.2,1735.9 1896.3,1736.2 1898.9,1736.3 1900.3,1736.1 1901.6,1722.7 1904.2,1696.6 1907,1701.1 1909.7,1701.4 1912.2,1704.9 1915.1,1719 1917.8,1731.1 1918.2,1733.4 1920.5,1734.5 1923.2,1733.4 1925.9,1735 1928.6,1735.3 1931.3,1736.1 1934,1736.2 1934.1,1736.2 1936.7,1729 1938,1725.2 1939.4,1723.2 1942,1720.8 1944.8,1724.7 1947.5,1728.9 1948,1729.3 1950.2,1728.4 1952.9,1724.7 1953,1726.7 1955.6,1729.5 1957.9,1733.2 1961,1733.1 1963.7,1731.4 1966.4,1734.3 1967.9,1733.5 1969.1,1731 1971.8,1730 1974.5,1728.5 1975.8,1727.3 1977.2,1726.8 1979.9,1725.7 1981.8,1723.5 1985.3,1728 1987.8,1731.4 1990.7,1730.8 1993.4,1734.3" stroke="#3e5d91"/>
<polyline points="1253.6,1613.1 1255.7,1581.2 1258.8,1579.2 1261.7,1580.3 1262,1581.7 1264.4,1565.2 1265.1,1563.1 1267.1,1553.1 1268.3,1543.4 1269.8,1535.8 1271,1531.5 1272.5,1535.1 1274.5,1535.5 1277.7,1529.2 1280.6,1514.1 1280.8,1512.1 1283.3,1502.1 1284,1499.3 1286,1495.1 1287.1,1495.7 1288.7,1505.9 1290.2,1516.3 1291.4,1508.3 1293.4,1493.4 1295.5,1493.6 1296.8,1466.8 1298.2,1442.8 1299.5,1454.2 1300.7,1457.8 1302.2,1498.7 1302.8,1517.2 1304.9,1449.8 1305.3,1439.3 1307.6,1448.3 1308,1448.9 1310.3,1446.7 1311.2,1445.4 1313,1448.1 1314.3,1458.2 1315.7,1447.7 1317.4,1436.6 1318.4,1435.1 1320.6,1434.7 1323.7,1420 1326.5,1426.7 1326.9,1429.1 1329.2,1434.8 1330,1432.1 1331.9,1442.4 1333.1,1445.2 1334.6,1443.7 1336.3,1433.7 1337.3,1432.2 1339.4,1434.5 1342.6,1449.1 1345.4,1475.3 1345.7,1478.6 1348.1,1438.1 1348.8,1430.2 1350.8,1431.6 1353,1435 1356.2,1440.4 1358.3,1445 1361.4,1432.8 1364.3,1434.4 1365.6,1436.6 1367,1433.4 1369.7,1436.1 1370.8,1434.7 1372.4,1434.8 1375,1430.8 1377.8,1436.5 1378.1,1438.3 1380.5,1432.1 1382.3,1424.9 1385.9,1434.3 1386.5,1436.5 1388.6,1437.2 1390.7,1438.9 1394,1437.2 1395.9,1432.9 1399.4,1437.8 1400.1,1439.1 1402.1,1432.2 1404.3,1426.4 1407.5,1439.2 1410.2,1443.7 1410.6,1444.7 1412.9,1452.1 1413.7,1456.1 1415.6,1452.5 1417.9,1451.5 1421,1449.2 1422.1,1449.8 1423.7,1454 1425.2,1458.9 1426.4,1467.3 1428.4,1479.5 1431.5,1503.6 1434.5,1532.5 1434.7,1534 1437.2,1551.9 1437.8,1558.6 1439.9,1557.7 1440.9,1558 1442.6,1565.7 1444.1,1570.3 1445.3,1575.4 1447.2,1581.7 1450.7,1588.1 1451.4,1587.5 1453.4,1589.8 1455.6,1592.5 1458.8,1597.4 1459.8,1598.4 1461.5,1610 1462.9,1617 1464.2,1608.8 1466.1,1599 1469.2,1620.8 1472.3,1647.5 1472.3,1648.4 1475,1657.7 1475.5,1658.6 1477.7,1652.3 1478.6,1650.4 1480.4,1656.4 1482.8,1667.6 1485.8,1676.3 1488,1684.5 1491.2,1683.6 1493.3,1682.2 1496.6,1688.3 1497.5,1692.2 1499.3,1688.8 1501.6,1685.6 1504.7,1682.8 1505.8,1679.1 1507.4,1684.8 1510,1696.6 1512.8,1692.4 1514.2,1692.4 1515.5,1690.7 1518.2,1696.9 1518.4,1698.2 1520.9,1696.2 1522.6,1690.2 1523.6,1690.9 1526.3,1694.4 1526.8,1697.2 1529,1697.9 1531.7,1704.5 1533,1707.6 1534.4,1707.5 1537.1,1698.9 1537.2,1698.6 1539.8,1693.5 1542.5,1691.7 1545.2,1693.4 1546.6,1697.1 1547.9,1694.6 1550.6,1693.3 1551.9,1692.9 1553.3,1697.3 1556,1702.1 1556.1,1702.6 1558.7,1693.4 1560.3,1688.1 1561.4,1684.7 1564.1,1680.9 1565.5,1679.2 1566.8,1676.6 1569.5,1677.8 1570.7,1675.7 1572.2,1677.5 1574.9,1677.4 1577.6,1673.9 1579.1,1673.9 1580.3,1670.4 1583,1660.6 1584.3,1655.3 1585.7,1658 1587.5,1663 1588.4,1659.6 1591.1,1648.9 1591.6,1648.1 1593.8,1650.1 1595.8,1651.1 1599,1651.2 1600,1652.1 1601.9,1653.9 1604.6,1655.6 1606,1657.6 1607.3,1657.5 1610,1652.9 1612.7,1653.1 1613.9,1650 1615.4,1646.6 1618.1,1641.5 1619.9,1636 1620.8,1634.9 1623.5,1634.3 1626.2,1633.9 1628.9,1631.9 1629.8,1630.9 1631.6,1633.4 1634.3,1635.7 1635.8,1640 1637,1640.4 1639.7,1643.5 1641.8,1647.8 1645.1,1645.6 1647.8,1640.4 1649.7,1640 1653.2,1642.3 1655.9,1644.1 1657.7,1645.6 1658.6,1644.4 1661.3,1643.6 1663.6,1643 1666.7,1649.8 1669.4,1650.4 1671.6,1651.7 1674.8,1651.2 1677.5,1648.3 1679.5,1650.7 1682.5,1647.1 1685.6,1655.7 1687.5,1661.6 1689.5,1673.7 1691,1675.7 1693.7,1670 1696.4,1669.1 1697.4,1668.1 1699.1,1669.6 1701.8,1682.3 1703.4,1685.6 1704.5,1686.6 1707.2,1677 1709.4,1671.8 1712.6,1675.5 1715.3,1677.6 1717.3,1677.9 1720.7,1686.4 1721.3,1687.3 1723.4,1691.4 1726.1,1692.1 1728.8,1697.3 1729.3,1695.3 1731.5,1697.6 1734.2,1699.1 1735.2,1703.2 1736.9,1696.3 1739.6,1690.1 1741.2,1683.4 1742.3,1693.2 1744.2,1709.2 1747.7,1707.1 1750.4,1704.2 1751.1,1702.8 1753.1,1701.9 1755.8,1697.7 1757.1,1699.1 1758.5,1702.5 1761.2,1704.5 1763.1,1709.2 1766.6,1711.2 1769.3,1706.4 1771,1709.5 1772,1705.9 1774.7,1700.6 1775,1699.8 1777.4,1703.7 1779,1708.4 1780.1,1706.5 1782.8,1704.8 1784.9,1703.3 1788.2,1712.7 1788.9,1713 1790.9,1713 1792.9,1709.8 1796.3,1718.9 1796.9,1717.4 1799,1715.3 1801.7,1713 1804.4,1711.1 1804.8,1711 1807.1,1707.5 1809.8,1702.8 1810.8,1702.5 1812.5,1704.4 1814.8,1711.4 1817.9,1699.5 1818.7,1695.8 1820.6,1695.5 1823.3,1698.5 1824.7,1701.4 1826,1698.6 1828.7,1699.5 1831.4,1696.4 1832.7,1695.9 1834.1,1697 1836.8,1693 1838.6,1691.5 1842.2,1693.8 1844.6,1696 1847.6,1683.2 1848.6,1677.8 1850.3,1680.1 1852.5,1685.4 1855.7,1684 1858.4,1682.6 1858.5,1685.7 1861.1,1682.3 1863.8,1683.9 1866.5,1679 1869.2,1678.5 1870.4,1677.1 1871.9,1676.8 1874.6,1685.2 1877.3,1685.3 1878.4,1687.1 1880,1687 1882.7,1687.1 1885.4,1684.9 1886.3,1683.5 1888.1,1682 1890.8,1683.4 1893.5,1683.1 1896.2,1683 1898.3,1681.3 1901.6,1684.1 1904.3,1681.6 1907,1686.8 1909.7,1685.1 1910.2,1687.9 1912.4,1689 1915.1,1688.2 1916.2,1685 1917.8,1688.6 1920.5,1694.7 1923.2,1702.7 1924.1,1703.4 1925.9,1700.4 1928.6,1696.7 1931.3,1689 1932.1,1687.6 1934,1693.1 1936.1,1702.2 1939.4,1702.5 1942,1703.9 1944.8,1700.5 1947.5,1697.8 1948,1698.1 1950.2,1699.5 1952.9,1704.5 1955.6,1704.4 1955.9,1707 1958.3,1705.1 1961,1704.6 1963.7,1699.8 1963.9,1701.5 1966.4,1706.1 1969.1,1708 1969.9,1708.4 1971.8,1705.9 1974.5,1700.6 1974.8,1699.2 1977.2,1702.9 1977.8,1705.2 1979.9,1710.8 1982.6,1716.7 1983.8,1719.2 1985.3,1717.8 1988,1718.1 1990.7,1715 1993.4,1712" stroke="#e95420"/>
</g>
<path d="M1233.3 1329.8H1252.7M1233.3 1255.5H1252.7M1233.3 1181.2H1252.7M1233.3 1106.9H1252.7M1233.3 1032.6H1252.7M1233.3 1737H1252.7M1233.3 1621.2H1252.7M1233.3 1505.4H1252.7M1233.3 1389.7H1252.7M1376.3 1737V1756.9M1530.8 1737V1756.9M1685.3 1737V1756.9M1839.8 1737V1756.9M1994.2 1737V1756.9M1252.7 1366.5V1737H1994.2V1366.5" fill="none" stroke="#000" stroke-width="3.0" stroke-linejoin="miter"/>
<text x="1226.3" y="1046.6" text-anchor="end" textLength="44.6" lengthAdjust="spacingAndGlyphs">20</text>
<text x="1226.3" y="1195.2" text-anchor="end">0</text>
<text x="1226.3" y="1343.8" text-anchor="end" textLength="59" lengthAdjust="spacingAndGlyphs">-20</text>
<text x="1226.3" y="1751" text-anchor="end">0</text>
<text x="1226.3" y="1519.4" text-anchor="end" textLength="44.6" lengthAdjust="spacingAndGlyphs">10</text>
<text x="1376.3" y="1794.5" text-anchor="middle">0</text>
<text x="1530.8" y="1794.5" text-anchor="middle" textLength="54" lengthAdjust="spacingAndGlyphs">0.5</text>
<text x="1685.3" y="1794.5" text-anchor="middle">1</text>
<text x="1839.8" y="1794.5" text-anchor="middle" textLength="54" lengthAdjust="spacingAndGlyphs">1.5</text>
<text x="1994.3" y="1794.5" text-anchor="middle">2</text>
<text transform="translate(1159.5 1181.2) rotate(-90)" text-anchor="middle" textLength="310" lengthAdjust="spacingAndGlyphs">Current bias (n<tspan font-style="italic">A</tspan>)</text>
<text transform="translate(1159.7 1539.8) rotate(-90)" text-anchor="middle" textLength="184" lengthAdjust="spacingAndGlyphs">d<tspan font-style="italic">V</tspan>/d<tspan font-style="italic">I</tspan> (kΩ)</text>
<text x="1429.2" y="1841.7" textLength="390.6" lengthAdjust="spacingAndGlyphs">Back-gate voltage (V)</text>
<path d="M1712.2 1472.9H1804.1" stroke="#3e5d91" stroke-width="6.5" stroke-linecap="round"/>
<path d="M1712.2 1528.9H1804.1" stroke="#e95420" stroke-width="6.5" stroke-linecap="round"/>
<text x="1811.6" y="1486" textLength="137.2" lengthAdjust="spacingAndGlyphs"><tspan font-style="italic">I</tspan> = 0 nA</text>
<text x="1811.6" y="1541.8" textLength="159.4" lengthAdjust="spacingAndGlyphs"><tspan font-style="italic">I</tspan> = 26 nA</text>
<text x="1270.2" y="1047.4" textLength="120.6" lengthAdjust="spacingAndGlyphs"><tspan font-style="italic">B</tspan> = 6 T</text>
<text x="1093.5" y="970.8" font-size="47" font-weight="bold">d</text>
</g>
</svg>
</body></html>
